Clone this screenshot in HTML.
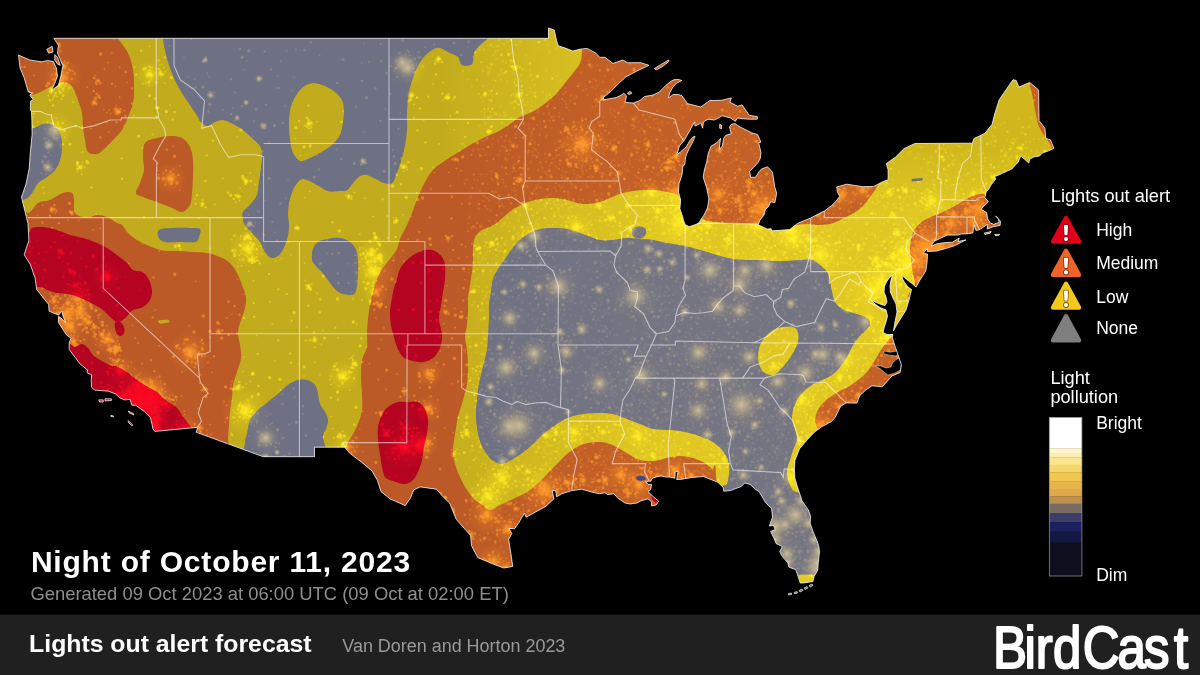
<!DOCTYPE html>
<html><head><meta charset="utf-8"><title>Lights out alert forecast</title>
<style>
html,body{margin:0;padding:0;background:#000;}
body{width:1200px;height:675px;overflow:hidden;position:relative;font-family:"Liberation Sans",sans-serif;}
svg{position:absolute;left:0;top:0;}
text{font-family:"Liberation Sans",sans-serif;}
.lg{font-size:18.2px;fill:#fff;}
.lb{font-size:17.5px;fill:#fff;}
.bar{position:absolute;left:0;top:614.7px;width:1200px;height:61px;background:#202020;}
.t{position:absolute;white-space:nowrap;line-height:1;}
</style></head><body>
<svg width="1200" height="675" viewBox="0 0 1200 675">
<defs><clipPath id="us"><path d="M18.5 55.1 L29.8 60 L41.8 61.9 L47.7 60.5 L53.4 61.6 L56.3 68 L57.5 76 L54.5 84 L51.3 90.6 L58.4 85.3 L60.9 76 L62.9 65.9 L59.9 58.6 L57.5 53.2 L58.4 45.1 L53.8 38.3 L548.5 38.3 L548.5 27.9 L554.3 30.1 L556.6 41 L558.4 45.9 L564.7 47.8 L572.7 51.1 L579.9 49.2 L587.1 48.4 L596 53.2 L599.6 57.3 L605 57.3 L613 63.5 L622.9 60 L627.4 62.7 L640.8 62.7 L648.9 65.3 L646.6 66.4 L634.9 72 L626 76.8 L618.1 84 L610.9 91.3 L603.2 97.6 L604.1 99.7 L616.1 97.6 L621.1 95.3 L623.8 93.2 L626.5 95.8 L625.1 102.3 L633.3 103.1 L639.9 100.5 L644.4 96.6 L653 95 L659.6 91.9 L665.9 85.3 L671.3 81.1 L674 79.7 L678.8 79.5 L681.7 80.5 L676.7 83.2 L673.1 86.6 L669.5 93.2 L668.6 97.9 L673.1 94.5 L678.5 94.5 L682 95.8 L687.4 103.6 L700.9 107 L709.8 100.5 L712.9 100.5 L721.5 100.3 L731.3 97.9 L729.9 102.3 L737.6 106.2 L742.1 104.9 L746.6 111.4 L749.2 115.3 L757.3 116.6 L757.3 119.2 L750.1 119.2 L742.1 118.7 L737.6 117.9 L735.4 121.3 L730.4 117.9 L722.4 115.8 L714.3 120 L708 119.2 L703.5 121.8 L702.6 128.2 L700.9 123.1 L695.1 126.1 L694.6 121.8 L693.2 124.3 L688.3 133.3 L683.8 140.9 L679.4 146 L676.7 154.8 L680.2 152.3 L686.5 146.5 L690.1 140.2 L693.7 136.4 L695.1 136.4 L692.8 141.7 L689.2 148.5 L686.9 153.6 L685.6 157.1 L684.7 164.9 L682.9 166.1 L682 174.8 L679 183.7 L678.5 192.3 L680.6 199.9 L679.9 208.9 L682.6 216.4 L683.5 220.5 L685.3 224.8 L689.2 226.7 L696.4 224.3 L699.1 222.4 L703.9 215.2 L707.5 207.9 L708.9 198.7 L706.6 187.7 L703.2 177.3 L704.4 169.8 L706.6 162.4 L708.4 152.8 L711.2 146 L716.6 143 L720.6 138.4 L719.7 144.7 L719.3 149.3 L722.4 146 L723.6 138.4 L725.8 135.3 L731.3 133.8 L729.5 126.9 L731.3 124.3 L734.9 123.6 L739.9 126.9 L751.6 132.8 L757.7 134.6 L760.9 142.2 L758.6 142.7 L760.9 152.3 L760.5 157.8 L758.2 162.4 L753.7 167.3 L749.6 171.1 L750.7 177.3 L755.5 177.3 L759.1 171.6 L761.4 169.1 L767.5 166.8 L772.5 172.3 L774.7 186.7 L776.7 193.3 L774.9 202.6 L770.7 201.8 L768.4 206.7 L765.4 209.6 L763.9 215.2 L760 220 L758.2 224.8 L767.2 229.1 L771.1 228.7 L771.6 230.8 L780.6 230.3 L789.6 229.6 L797.6 223.4 L805.7 220 L810.2 218.3 L818.2 214 L824.3 211.1 L831.7 205.5 L836.2 201.1 L839.7 196.2 L837.4 192.1 L836.7 186.9 L846.9 184.2 L863 186.7 L873.8 186.4 L882.7 181.7 L888.1 179.8 L888.1 169.8 L886.3 163.6 L895.3 157.3 L904.2 148.5 L915 143.5 L972.3 143.2 L974.1 138.4 L979.9 135.8 L984.9 133.3 L992.1 124.3 L994.7 114 L999.2 99.7 L1013 79.7 L1016.2 80.5 L1018.9 87.1 L1029.7 82.4 L1038.6 90 L1039 120.5 L1044.9 128.2 L1045.8 138.4 L1050.3 139.7 L1053 146 L1053.9 148.3 L1049.4 150.5 L1042.2 153.1 L1039.5 156.1 L1034.2 156.8 L1029.7 159.1 L1028.8 163.1 L1025.2 159.8 L1020.7 156.1 L1018 162.4 L1015.4 164.9 L1011.8 169.1 L1008.2 170.6 L1002.8 173.1 L999.2 174.8 L994.7 176.5 L995.6 179.3 L991.2 184.7 L988.5 189.6 L986.3 191.6 L984.9 197.7 L988.5 201.8 L983.1 206.7 L981.3 209.1 L986.7 212.8 L987.6 218.8 L990.3 223.1 L993.8 224.3 L999.2 222.4 L998.3 218.8 L995.6 215.9 L1000.5 221.2 L1000.1 225.5 L993.8 226.5 L987.2 229.1 L987.9 224.1 L983.1 227.2 L980.4 229.1 L977.7 230.3 L975.9 230.3 L974.5 224.8 L972.7 233 L966.1 233.9 L961.6 233.9 L957.1 235.1 L947.3 235.1 L941.9 237.5 L933.8 241.5 L931.1 246.3 L936.5 243.9 L943.7 242.7 L952.6 242.2 L959.3 238 L958 241.5 L965.9 239.9 L954.4 245.8 L945.5 248.6 L936.5 251 L927.5 251.5 L927.2 248.6 L923.1 253.4 L927.5 254.1 L927 262.8 L925.8 270.9 L920 280 L916 287 L912 283.5 L908 280.5 L904.5 277.5 L902 275.5 L902.5 279 L905 283 L908 287 L911.5 289.5 L909 300 L906 310 L901 318 L896 326 L893.5 331 L895 322 L897 312 L896 304 L893 298 L890.5 292 L890 286 L891 280 L892.5 275.5 L890 277 L887 281 L884.5 286 L884 292 L886 297 L887 302 L885 305.5 L880 304 L875 302 L871 300 L875 304 L880 307.5 L886 310 L887.5 316 L886 322 L884 328 L883 332.5 L887 334.5 L893 334.5 L892.2 337.2 L895.3 347.2 L898.9 357.2 L901.4 364.9 L900.1 372.6 L892.1 375.9 L882.2 386.8 L872 385.7 L865.7 390.1 L859.8 395.5 L856.8 403.1 L846 402.9 L840.6 406.3 L835.3 417.1 L831.7 421.3 L821.8 426.7 L814.6 432 L807.5 439.4 L804.8 442.6 L799.4 448.9 L794.9 460.5 L794.4 469.9 L794.9 478.2 L797.3 486.5 L802.1 500.9 L808.4 510.1 L810.5 516.2 L810.2 523.4 L813.4 532.5 L817.3 541.6 L818.8 546.6 L819.5 551.6 L818.2 563.2 L817.7 570.2 L814.1 576.5 L812.9 581.5 L803.9 582.9 L800.3 583.1 L795.8 569.6 L789 567.2 L787.8 562.8 L782.4 556.6 L779.7 551.6 L782.4 546.6 L776.1 543.6 L774.3 538.9 L770.7 531.5 L775.2 529.4 L773.4 525.4 L769.3 526 L772.5 517.2 L771.6 508.1 L769.8 507 L765.4 502.3 L759.1 491.6 L755.5 489.6 L750.1 484.4 L744.8 483 L741.2 486.5 L730.4 490.6 L723.8 491.2 L723.3 487.5 L717.9 482.3 L703.5 476.5 L691 477.6 L682 479.2 L676.7 479.6 L678.1 470.9 L675.2 472 L674.9 478.2 L669.5 477.1 L666.8 477.1 L660.5 476.1 L657 476.7 L652.5 478.2 L650.7 481.3 L645.3 481.3 L648 484.4 L651.6 484.4 L650.7 489.6 L648 491.6 L653.4 496.8 L658.7 501.3 L656.1 505 L651.6 506 L651.6 501.9 L648 498.8 L640.8 500.9 L637.2 502.9 L630.1 504 L624.7 502.9 L617.5 497.8 L613.9 493.7 L607.7 494.7 L605 492.7 L599.6 493.7 L594.2 492.7 L581.7 489.2 L571.8 490.6 L562 493.7 L556.6 496.8 L555.7 490.6 L552.1 490.6 L553.9 498.8 L545.8 506.4 L535.1 512.2 L526.1 517.2 L524.3 513.2 L519 522.3 L514.5 528.8 L509.1 528.4 L511.8 533.5 L508.6 539.5 L510.9 553.6 L512.7 566.4 L503.7 568 L492.1 563.6 L477.8 557.6 L471.5 545.6 L470.6 535.5 L456.2 519.3 L449.6 502.9 L443.7 497.4 L436.5 489.2 L420.4 486.9 L413.8 489.8 L410.6 497.8 L405.2 505.6 L397.1 501.9 L389.9 498.8 L381 491.6 L377.4 480.3 L372 470.9 L361.3 461.9 L350.5 453.8 L344.6 447.2 L314.5 447.2 L314.5 456.7 L263.2 456.7 L196.2 432.2 L197.8 427.3 L154.8 431.4 L152.7 428.4 L152.1 424.5 L150.2 417.1 L144.4 411.5 L140.3 408.5 L135.5 405.2 L131.9 405.2 L130.1 399.4 L124.7 399.9 L119.4 397.7 L115.8 394 L108.6 391.2 L94.8 390.1 L91.6 387.3 L91.2 380.3 L91.8 375 L87.1 372.6 L87.6 370 L79.9 363.8 L69.2 349.4 L69.2 342.8 L71 338.3 L66.5 334.9 L58.4 322.5 L58.4 316.2 L61.1 318 L65.6 322.5 L62.9 315.8 L62 311.2 L58.4 315.1 L49.1 311.2 L48.6 304.4 L36.7 289.5 L35.1 277.9 L30.3 264.4 L24.2 254.8 L28.9 240.3 L28 223.6 L26.2 216.4 L21.5 197.2 L26.2 183.5 L29.2 168.6 L30.3 152.8 L32.1 134.6 L31.9 120.5 L31.5 111.4 L30.3 110.1 L30.6 101 L33.3 99.7 L29.8 95 L32.4 93.2 L28.3 91.9 L24 77.3 L20.1 68Z M654.3 68.6 L660.5 64.8 L668.6 60 L669.1 61.3 L662.3 66.7 L656.1 69.9Z M627.4 93.2 L630.1 91.3 L631.9 93.2 L629.2 94.5Z M719.7 124.3 L721.5 125.1 L721.5 128.7 L719.7 128.2Z M984 233.2 L991.2 231.5 L990.3 233.2 L984.9 234.4Z M994.7 234.4 L999.8 234.4 L998.3 235.6 L995.6 235.8Z M54.8 54.6 L57.5 57.3 L60.2 65.3 L57.5 64 L54.8 60Z M46.8 49.2 L52.2 46.5 L53 51.9 L48.6 53.2Z M105 398.8 L111.3 398.8 L111.3 400.5 L105 400.9Z M98.7 399.9 L103.2 399.9 L103.2 402 L99.6 402Z M128.3 411.1 L133.7 413.8 L133.7 414.9 L129.2 412.8Z M128.3 420.7 L132.8 425.2 L131.9 425.6 L128.3 422.4Z M110.9 415.3 L113.4 416 L113.4 416.8 L110.9 416.6Z"/></clipPath>
<mask id="gm" maskUnits="userSpaceOnUse" x="0" y="0" width="1200" height="675"><rect width="1200" height="675" fill="#000"/><path d="M163 30C217.2 28.7 433.8 28.7 488 30C542.2 31.3 489.3 35.5 488 38C486.7 40.5 482.3 42.5 480 45C477.7 47.5 475.3 49.8 474 53C472.7 56.2 474.0 62.0 472 64C470.0 66.0 464.3 66.2 462 65C459.7 63.8 460.0 59.0 458 57C456.0 55.0 453.0 54.5 450 53C447.0 51.5 443.0 48.5 440 48C437.0 47.5 434.8 48.3 432 50C429.2 51.7 425.7 54.7 423 58C420.3 61.3 418.0 65.7 416 70C414.0 74.3 412.3 79.5 411 84C409.7 88.5 408.7 92.2 408 97C407.3 101.8 407.2 107.7 407 113C406.8 118.3 407.3 123.7 407 129C406.7 134.3 406.0 139.7 405 145C404.0 150.3 402.5 156.0 401 161C399.5 166.0 397.5 171.3 396 175C394.5 178.7 394.0 181.7 392 183C390.0 184.3 386.7 183.7 384 183C381.3 182.3 378.8 180.3 376 179C373.2 177.7 369.7 175.5 367 175C364.3 174.5 362.3 174.7 360 176C357.7 177.3 355.2 180.7 353 183C350.8 185.3 349.3 188.7 347 190C344.7 191.3 342.2 190.8 339 191C335.8 191.2 331.7 192.0 328 191C324.3 190.0 320.5 186.8 317 185C313.5 183.2 309.8 180.8 307 180C304.2 179.2 302.3 178.3 300 180C297.7 181.7 294.8 186.2 293 190C291.2 193.8 289.8 198.8 289 203C288.2 207.2 288.0 211.3 288 215C288.0 218.7 289.0 221.7 289 225C289.0 228.3 288.7 231.7 288 235C287.3 238.3 286.3 241.8 285 245C283.7 248.2 282.2 251.8 280 254C277.8 256.2 274.5 258.3 272 258C269.5 257.7 267.0 254.7 265 252C263.0 249.3 262.0 245.0 260 242C258.0 239.0 255.5 236.8 253 234C250.5 231.2 246.7 227.5 245 225C243.3 222.5 243.3 221.2 243 219C242.7 216.8 241.8 214.3 243 212C244.2 209.7 247.7 207.8 250 205C252.3 202.2 255.5 198.8 257 195C258.5 191.2 258.3 186.3 259 182C259.7 177.7 260.5 173.5 261 169C261.5 164.5 262.2 158.8 262 155C261.8 151.2 261.5 148.7 260 146C258.5 143.3 255.8 141.7 253 139C250.2 136.3 246.3 132.5 243 130C239.7 127.5 236.3 125.7 233 124C229.7 122.3 226.0 120.3 223 120C220.0 119.7 217.7 121.0 215 122C212.3 123.0 209.5 126.2 207 126C204.5 125.8 201.5 122.5 200 121C198.5 119.5 199.7 119.7 198 117C196.3 114.3 192.7 109.0 190 105C187.3 101.0 184.5 97.2 182 93C179.5 88.8 177.2 84.7 175 80C172.8 75.3 170.7 70.0 169 65C167.3 60.0 166.0 54.5 165 50C164.0 45.5 163.3 41.3 163 38C162.7 34.7 108.8 31.3 163 30Z" fill="#fff"/>
<path d="M600 240C595.0 239.0 588.5 235.8 583 234C577.5 232.2 572.0 230.0 567 229C562.0 228.0 557.5 228.0 553 228C548.5 228.0 543.8 228.2 540 229C536.2 229.8 533.3 231.2 530 233C526.7 234.8 523.0 237.3 520 240C517.0 242.7 514.5 245.8 512 249C509.5 252.2 507.3 255.7 505 259C502.7 262.3 500.0 265.7 498 269C496.0 272.3 494.2 275.2 493 279C491.8 282.8 491.7 287.7 491 292C490.3 296.3 489.3 300.5 489 305C488.7 309.5 489.2 313.7 489 319C488.8 324.3 488.3 331.8 488 337C487.7 342.2 487.8 345.0 487 350C486.2 355.0 484.3 361.3 483 367C481.7 372.7 480.0 378.5 479 384C478.0 389.5 477.5 394.5 477 400C476.5 405.5 475.8 411.5 476 417C476.2 422.5 477.0 428.2 478 433C479.0 437.8 480.2 442.0 482 446C483.8 450.0 486.5 454.2 489 457C491.5 459.8 494.3 462.0 497 463C499.7 464.0 502.3 463.7 505 463C507.7 462.3 510.2 460.7 513 459C515.8 457.3 518.8 455.3 522 453C525.2 450.7 528.8 447.8 532 445C535.2 442.2 538.0 438.7 541 436C544.0 433.3 546.8 431.3 550 429C553.2 426.7 556.7 424.0 560 422C563.3 420.0 566.2 418.3 570 417C573.8 415.7 578.0 414.7 583 414C588.0 413.3 595.0 413.0 600 413C605.0 413.0 608.5 413.0 613 414C617.5 415.0 622.5 417.3 627 419C631.5 420.7 635.7 422.3 640 424C644.3 425.7 648.5 428.0 653 429C657.5 430.0 662.5 429.7 667 430C671.5 430.3 675.7 430.3 680 431C684.3 431.7 688.5 432.7 693 434C697.5 435.3 703.0 437.2 707 439C711.0 440.8 714.0 442.5 717 445C720.0 447.5 723.0 450.8 725 454C727.0 457.2 728.3 460.7 729 464C729.7 467.3 729.3 470.7 729 474C728.7 477.3 728.2 481.3 727 484C725.8 486.7 722.8 482.3 722 490C721.2 497.7 715.7 511.7 722 530C728.3 548.3 740.3 588.3 760 600C779.7 611.7 825.8 613.3 840 600C854.2 586.7 849.2 536.8 845 520C840.8 503.2 822.3 503.4 815 499C807.7 494.6 804.2 494.7 801 493.5C797.8 492.3 797.5 492.8 796 492C794.5 491.2 793.3 491.0 792 489C790.7 487.0 788.8 483.2 788 480C787.2 476.8 786.7 473.3 787 470C787.3 466.7 789.0 463.3 790 460C791.0 456.7 791.8 453.3 793 450C794.2 446.7 796.7 443.3 797 440C797.3 436.7 795.8 433.3 795 430C794.2 426.7 792.3 423.3 792 420C791.7 416.7 792.2 413.3 793 410C793.8 406.7 795.3 403.0 797 400C798.7 397.0 800.5 394.5 803 392C805.5 389.5 808.8 387.0 812 385C815.2 383.0 818.7 381.7 822 380C825.3 378.3 829.0 377.2 832 375C835.0 372.8 837.5 370.0 840 367C842.5 364.0 845.0 360.3 847 357C849.0 353.7 850.2 350.2 852 347C853.8 343.8 856.0 340.5 858 338C860.0 335.5 862.0 334.2 864 332C866.0 329.8 869.3 327.2 870 325C870.7 322.8 869.7 320.7 868 319C866.3 317.3 863.0 316.2 860 315C857.0 313.8 853.0 313.0 850 312C847.0 311.0 844.5 310.7 842 309C839.5 307.3 836.7 304.8 835 302C833.3 299.2 832.8 295.3 832 292C831.2 288.7 830.8 285.3 830 282C829.2 278.7 828.7 274.8 827 272C825.3 269.2 822.5 267.0 820 265C817.5 263.0 815.3 260.8 812 260C808.7 259.2 804.2 259.8 800 260C795.8 260.2 791.5 260.8 787 261C782.5 261.2 777.5 261.2 773 261C768.5 260.8 764.3 260.2 760 260C755.7 259.8 751.5 260.2 747 260C742.5 259.8 737.5 259.7 733 259C728.5 258.3 724.3 257.2 720 256C715.7 254.8 711.5 253.3 707 252C702.5 250.7 697.5 249.2 693 248C688.5 246.8 684.3 245.8 680 245C675.7 244.2 671.5 243.8 667 243C662.5 242.2 657.5 240.7 653 240C648.5 239.3 644.3 239.3 640 239C635.7 238.7 631.5 237.8 627 238C622.5 238.2 617.5 239.7 613 240C608.5 240.3 605.0 241.0 600 240Z" fill="#fff"/>
<path d="M10 128C13.8 116.2 27.5 128.7 33 128C38.5 127.3 39.7 124.5 43 124C46.3 123.5 50.2 123.5 53 125C55.8 126.5 58.5 129.3 60 133C61.5 136.7 62.0 142.5 62 147C62.0 151.5 61.2 156.2 60 160C58.8 163.8 57.2 167.2 55 170C52.8 172.8 49.8 174.8 47 177C44.2 179.2 40.5 180.3 38 183C35.5 185.7 34.2 190.3 32 193C29.8 195.7 28.7 198.0 25 199C21.3 200.0 12.5 210.8 10 199C7.5 187.2 6.2 139.8 10 128Z" fill="#fff"/>
<path d="M159 230C161.3 228.3 167.8 228.3 173 228C178.2 227.7 185.5 227.8 190 228C194.5 228.2 198.5 227.5 200 229C201.5 230.5 199.8 234.8 199 237C198.2 239.2 198.2 241.2 195 242C191.8 242.8 185.0 242.0 180 242C175.0 242.0 168.5 242.7 165 242C161.5 241.3 160.0 240.0 159 238C158.0 236.0 156.7 231.7 159 230Z" fill="#fff"/>
<path d="M312 259C311.7 256.3 312.0 251.8 313 249C314.0 246.2 315.5 243.7 318 242C320.5 240.3 324.3 239.7 328 239C331.7 238.3 336.3 237.5 340 238C343.7 238.5 347.3 240.0 350 242C352.7 244.0 354.7 246.7 356 250C357.3 253.3 357.7 257.8 358 262C358.3 266.2 358.2 271.2 358 275C357.8 278.8 357.7 281.8 357 285C356.3 288.2 356.3 292.5 354 294C351.7 295.5 346.2 294.8 343 294C339.8 293.2 337.5 291.3 335 289C332.5 286.7 330.2 282.8 328 280C325.8 277.2 324.2 274.5 322 272C319.8 269.5 316.7 267.2 315 265C313.3 262.8 312.3 261.7 312 259Z" fill="#fff"/>
<path d="M245 444C245.3 438.0 246.2 438.0 247 434C247.8 430.0 248.2 424.0 250 420C251.8 416.0 255.0 413.0 258 410C261.0 407.0 264.7 404.7 268 402C271.3 399.3 274.7 396.8 278 394C281.3 391.2 284.7 387.3 288 385C291.3 382.7 294.8 380.8 298 380C301.2 379.2 304.2 379.2 307 380C309.8 380.8 313.2 382.7 315 385C316.8 387.3 317.2 390.8 318 394C318.8 397.2 318.8 401.0 320 404C321.2 407.0 323.7 409.3 325 412C326.3 414.7 327.8 417.2 328 420C328.2 422.8 326.8 426.2 326 429C325.2 431.8 323.5 430.2 323 437C322.5 443.8 336.0 464.5 323 470C310.0 475.5 258.0 474.3 245 470C232.0 465.7 244.7 450.0 245 444Z" fill="#fff"/>
<path d="M632 233C631.7 231.4 631.8 229.6 633 228.5C634.2 227.4 637.5 226.5 639.5 226.5C641.5 226.5 643.9 227.3 645 228.5C646.1 229.7 646.5 231.9 646 233.5C645.5 235.1 643.8 237.2 642 238C640.2 238.8 636.7 238.8 635 238C633.3 237.2 632.3 234.6 632 233Z" fill="#fff"/><path d="M290 110C291.0 105.3 292.8 100.8 295 97C297.2 93.2 300.0 89.3 303 87C306.0 84.7 309.3 83.2 313 83C316.7 82.8 321.3 84.5 325 86C328.7 87.5 332.2 89.7 335 92C337.8 94.3 340.5 97.0 342 100C343.5 103.0 343.8 106.2 344 110C344.2 113.8 343.7 118.8 343 123C342.3 127.2 341.8 131.3 340 135C338.2 138.7 335.3 142.0 332 145C328.7 148.0 324.0 150.7 320 153C316.0 155.3 311.3 157.7 308 159C304.7 160.3 302.5 162.0 300 161C297.5 160.0 294.7 156.5 293 153C291.3 149.5 290.7 144.7 290 140C289.3 135.3 289.0 130.0 289 125C289.0 120.0 289.0 114.7 290 110Z" fill="#000"/>
<path d="M758 357C758.0 353.3 758.8 348.3 760 345C761.2 341.7 762.8 339.5 765 337C767.2 334.5 770.0 331.7 773 330C776.0 328.3 779.7 327.5 783 327C786.3 326.5 790.5 326.2 793 327C795.5 327.8 797.2 329.5 798 332C798.8 334.5 798.8 338.5 798 342C797.2 345.5 794.8 349.7 793 353C791.2 356.3 789.2 359.2 787 362C784.8 364.8 782.3 367.8 780 370C777.7 372.2 775.5 374.5 773 375C770.5 375.5 767.2 374.3 765 373C762.8 371.7 761.2 369.7 760 367C758.8 364.3 758.0 360.7 758 357Z" fill="#000"/>
<path d="M798 576C799.3 573.8 803.0 574.5 806 574.5C809.0 574.5 814.0 573.8 816 576C818.0 578.2 821.0 586.0 818 588C815.0 590.0 801.3 590.0 798 588C794.7 586.0 796.7 578.2 798 576Z" fill="#000"/></mask>
<radialGradient id="glow"><stop offset="0" stop-color="#ffe9a8" stop-opacity="0.95"/><stop offset="0.25" stop-color="#ffdf90" stop-opacity="0.7"/><stop offset="0.6" stop-color="#ffd980" stop-opacity="0.28"/><stop offset="1" stop-color="#ffd980" stop-opacity="0"/></radialGradient>
<linearGradient id="eastY" gradientUnits="userSpaceOnUse" x1="430" x2="660" y1="0" y2="0"><stop offset="0" stop-color="#f2d62a" stop-opacity="0"/><stop offset="1" stop-color="#f2d62a" stop-opacity="0.55"/></linearGradient>
<linearGradient id="neDim" gradientUnits="userSpaceOnUse" x1="0" x2="0" y1="150" y2="212"><stop offset="0" stop-color="#c2ab1c" stop-opacity="0.75"/><stop offset="1" stop-color="#c2ab1c" stop-opacity="0"/></linearGradient>
<radialGradient id="gglow"><stop offset="0" stop-color="#d8c9a0" stop-opacity="0.75"/><stop offset="0.3" stop-color="#cbbd96" stop-opacity="0.45"/><stop offset="0.65" stop-color="#c0b38f" stop-opacity="0.18"/><stop offset="1" stop-color="#c0b38f" stop-opacity="0"/></radialGradient>
<radialGradient id="halo"><stop offset="0" stop-color="#ffd980" stop-opacity="0.4"/><stop offset="0.5" stop-color="#ffd980" stop-opacity="0.18"/><stop offset="1" stop-color="#ffd980" stop-opacity="0"/></radialGradient>
<linearGradient id="east" x1="0" x2="1" y1="0" y2="0"><stop offset="0.36" stop-color="#ffd980" stop-opacity="0"/><stop offset="0.52" stop-color="#ffd980" stop-opacity="0.12"/><stop offset="1" stop-color="#ffd980" stop-opacity="0.14"/></linearGradient></defs>
<rect width="1200" height="675" fill="#000"/>
<g clip-path="url(#us)">
<rect width="1200" height="675" fill="#c2ab1c"/>
<rect width="1200" height="675" fill="url(#eastY)"/>
<rect x="870" y="60" width="200" height="160" fill="url(#neDim)"/>
<path d="M163 30C217.2 28.7 433.8 28.7 488 30C542.2 31.3 489.3 35.5 488 38C486.7 40.5 482.3 42.5 480 45C477.7 47.5 475.3 49.8 474 53C472.7 56.2 474.0 62.0 472 64C470.0 66.0 464.3 66.2 462 65C459.7 63.8 460.0 59.0 458 57C456.0 55.0 453.0 54.5 450 53C447.0 51.5 443.0 48.5 440 48C437.0 47.5 434.8 48.3 432 50C429.2 51.7 425.7 54.7 423 58C420.3 61.3 418.0 65.7 416 70C414.0 74.3 412.3 79.5 411 84C409.7 88.5 408.7 92.2 408 97C407.3 101.8 407.2 107.7 407 113C406.8 118.3 407.3 123.7 407 129C406.7 134.3 406.0 139.7 405 145C404.0 150.3 402.5 156.0 401 161C399.5 166.0 397.5 171.3 396 175C394.5 178.7 394.0 181.7 392 183C390.0 184.3 386.7 183.7 384 183C381.3 182.3 378.8 180.3 376 179C373.2 177.7 369.7 175.5 367 175C364.3 174.5 362.3 174.7 360 176C357.7 177.3 355.2 180.7 353 183C350.8 185.3 349.3 188.7 347 190C344.7 191.3 342.2 190.8 339 191C335.8 191.2 331.7 192.0 328 191C324.3 190.0 320.5 186.8 317 185C313.5 183.2 309.8 180.8 307 180C304.2 179.2 302.3 178.3 300 180C297.7 181.7 294.8 186.2 293 190C291.2 193.8 289.8 198.8 289 203C288.2 207.2 288.0 211.3 288 215C288.0 218.7 289.0 221.7 289 225C289.0 228.3 288.7 231.7 288 235C287.3 238.3 286.3 241.8 285 245C283.7 248.2 282.2 251.8 280 254C277.8 256.2 274.5 258.3 272 258C269.5 257.7 267.0 254.7 265 252C263.0 249.3 262.0 245.0 260 242C258.0 239.0 255.5 236.8 253 234C250.5 231.2 246.7 227.5 245 225C243.3 222.5 243.3 221.2 243 219C242.7 216.8 241.8 214.3 243 212C244.2 209.7 247.7 207.8 250 205C252.3 202.2 255.5 198.8 257 195C258.5 191.2 258.3 186.3 259 182C259.7 177.7 260.5 173.5 261 169C261.5 164.5 262.2 158.8 262 155C261.8 151.2 261.5 148.7 260 146C258.5 143.3 255.8 141.7 253 139C250.2 136.3 246.3 132.5 243 130C239.7 127.5 236.3 125.7 233 124C229.7 122.3 226.0 120.3 223 120C220.0 119.7 217.7 121.0 215 122C212.3 123.0 209.5 126.2 207 126C204.5 125.8 201.5 122.5 200 121C198.5 119.5 199.7 119.7 198 117C196.3 114.3 192.7 109.0 190 105C187.3 101.0 184.5 97.2 182 93C179.5 88.8 177.2 84.7 175 80C172.8 75.3 170.7 70.0 169 65C167.3 60.0 166.0 54.5 165 50C164.0 45.5 163.3 41.3 163 38C162.7 34.7 108.8 31.3 163 30Z" fill="#717380"/>
<path d="M600 240C595.0 239.0 588.5 235.8 583 234C577.5 232.2 572.0 230.0 567 229C562.0 228.0 557.5 228.0 553 228C548.5 228.0 543.8 228.2 540 229C536.2 229.8 533.3 231.2 530 233C526.7 234.8 523.0 237.3 520 240C517.0 242.7 514.5 245.8 512 249C509.5 252.2 507.3 255.7 505 259C502.7 262.3 500.0 265.7 498 269C496.0 272.3 494.2 275.2 493 279C491.8 282.8 491.7 287.7 491 292C490.3 296.3 489.3 300.5 489 305C488.7 309.5 489.2 313.7 489 319C488.8 324.3 488.3 331.8 488 337C487.7 342.2 487.8 345.0 487 350C486.2 355.0 484.3 361.3 483 367C481.7 372.7 480.0 378.5 479 384C478.0 389.5 477.5 394.5 477 400C476.5 405.5 475.8 411.5 476 417C476.2 422.5 477.0 428.2 478 433C479.0 437.8 480.2 442.0 482 446C483.8 450.0 486.5 454.2 489 457C491.5 459.8 494.3 462.0 497 463C499.7 464.0 502.3 463.7 505 463C507.7 462.3 510.2 460.7 513 459C515.8 457.3 518.8 455.3 522 453C525.2 450.7 528.8 447.8 532 445C535.2 442.2 538.0 438.7 541 436C544.0 433.3 546.8 431.3 550 429C553.2 426.7 556.7 424.0 560 422C563.3 420.0 566.2 418.3 570 417C573.8 415.7 578.0 414.7 583 414C588.0 413.3 595.0 413.0 600 413C605.0 413.0 608.5 413.0 613 414C617.5 415.0 622.5 417.3 627 419C631.5 420.7 635.7 422.3 640 424C644.3 425.7 648.5 428.0 653 429C657.5 430.0 662.5 429.7 667 430C671.5 430.3 675.7 430.3 680 431C684.3 431.7 688.5 432.7 693 434C697.5 435.3 703.0 437.2 707 439C711.0 440.8 714.0 442.5 717 445C720.0 447.5 723.0 450.8 725 454C727.0 457.2 728.3 460.7 729 464C729.7 467.3 729.3 470.7 729 474C728.7 477.3 728.2 481.3 727 484C725.8 486.7 722.8 482.3 722 490C721.2 497.7 715.7 511.7 722 530C728.3 548.3 740.3 588.3 760 600C779.7 611.7 825.8 613.3 840 600C854.2 586.7 849.2 536.8 845 520C840.8 503.2 822.3 503.4 815 499C807.7 494.6 804.2 494.7 801 493.5C797.8 492.3 797.5 492.8 796 492C794.5 491.2 793.3 491.0 792 489C790.7 487.0 788.8 483.2 788 480C787.2 476.8 786.7 473.3 787 470C787.3 466.7 789.0 463.3 790 460C791.0 456.7 791.8 453.3 793 450C794.2 446.7 796.7 443.3 797 440C797.3 436.7 795.8 433.3 795 430C794.2 426.7 792.3 423.3 792 420C791.7 416.7 792.2 413.3 793 410C793.8 406.7 795.3 403.0 797 400C798.7 397.0 800.5 394.5 803 392C805.5 389.5 808.8 387.0 812 385C815.2 383.0 818.7 381.7 822 380C825.3 378.3 829.0 377.2 832 375C835.0 372.8 837.5 370.0 840 367C842.5 364.0 845.0 360.3 847 357C849.0 353.7 850.2 350.2 852 347C853.8 343.8 856.0 340.5 858 338C860.0 335.5 862.0 334.2 864 332C866.0 329.8 869.3 327.2 870 325C870.7 322.8 869.7 320.7 868 319C866.3 317.3 863.0 316.2 860 315C857.0 313.8 853.0 313.0 850 312C847.0 311.0 844.5 310.7 842 309C839.5 307.3 836.7 304.8 835 302C833.3 299.2 832.8 295.3 832 292C831.2 288.7 830.8 285.3 830 282C829.2 278.7 828.7 274.8 827 272C825.3 269.2 822.5 267.0 820 265C817.5 263.0 815.3 260.8 812 260C808.7 259.2 804.2 259.8 800 260C795.8 260.2 791.5 260.8 787 261C782.5 261.2 777.5 261.2 773 261C768.5 260.8 764.3 260.2 760 260C755.7 259.8 751.5 260.2 747 260C742.5 259.8 737.5 259.7 733 259C728.5 258.3 724.3 257.2 720 256C715.7 254.8 711.5 253.3 707 252C702.5 250.7 697.5 249.2 693 248C688.5 246.8 684.3 245.8 680 245C675.7 244.2 671.5 243.8 667 243C662.5 242.2 657.5 240.7 653 240C648.5 239.3 644.3 239.3 640 239C635.7 238.7 631.5 237.8 627 238C622.5 238.2 617.5 239.7 613 240C608.5 240.3 605.0 241.0 600 240Z" fill="#717380"/>
<path d="M10 128C13.8 116.2 27.5 128.7 33 128C38.5 127.3 39.7 124.5 43 124C46.3 123.5 50.2 123.5 53 125C55.8 126.5 58.5 129.3 60 133C61.5 136.7 62.0 142.5 62 147C62.0 151.5 61.2 156.2 60 160C58.8 163.8 57.2 167.2 55 170C52.8 172.8 49.8 174.8 47 177C44.2 179.2 40.5 180.3 38 183C35.5 185.7 34.2 190.3 32 193C29.8 195.7 28.7 198.0 25 199C21.3 200.0 12.5 210.8 10 199C7.5 187.2 6.2 139.8 10 128Z" fill="#717380"/>
<path d="M159 230C161.3 228.3 167.8 228.3 173 228C178.2 227.7 185.5 227.8 190 228C194.5 228.2 198.5 227.5 200 229C201.5 230.5 199.8 234.8 199 237C198.2 239.2 198.2 241.2 195 242C191.8 242.8 185.0 242.0 180 242C175.0 242.0 168.5 242.7 165 242C161.5 241.3 160.0 240.0 159 238C158.0 236.0 156.7 231.7 159 230Z" fill="#717380"/>
<path d="M312 259C311.7 256.3 312.0 251.8 313 249C314.0 246.2 315.5 243.7 318 242C320.5 240.3 324.3 239.7 328 239C331.7 238.3 336.3 237.5 340 238C343.7 238.5 347.3 240.0 350 242C352.7 244.0 354.7 246.7 356 250C357.3 253.3 357.7 257.8 358 262C358.3 266.2 358.2 271.2 358 275C357.8 278.8 357.7 281.8 357 285C356.3 288.2 356.3 292.5 354 294C351.7 295.5 346.2 294.8 343 294C339.8 293.2 337.5 291.3 335 289C332.5 286.7 330.2 282.8 328 280C325.8 277.2 324.2 274.5 322 272C319.8 269.5 316.7 267.2 315 265C313.3 262.8 312.3 261.7 312 259Z" fill="#717380"/>
<path d="M245 444C245.3 438.0 246.2 438.0 247 434C247.8 430.0 248.2 424.0 250 420C251.8 416.0 255.0 413.0 258 410C261.0 407.0 264.7 404.7 268 402C271.3 399.3 274.7 396.8 278 394C281.3 391.2 284.7 387.3 288 385C291.3 382.7 294.8 380.8 298 380C301.2 379.2 304.2 379.2 307 380C309.8 380.8 313.2 382.7 315 385C316.8 387.3 317.2 390.8 318 394C318.8 397.2 318.8 401.0 320 404C321.2 407.0 323.7 409.3 325 412C326.3 414.7 327.8 417.2 328 420C328.2 422.8 326.8 426.2 326 429C325.2 431.8 323.5 430.2 323 437C322.5 443.8 336.0 464.5 323 470C310.0 475.5 258.0 474.3 245 470C232.0 465.7 244.7 450.0 245 444Z" fill="#717380"/>
<path d="M632 233C631.7 231.4 631.8 229.6 633 228.5C634.2 227.4 637.5 226.5 639.5 226.5C641.5 226.5 643.9 227.3 645 228.5C646.1 229.7 646.5 231.9 646 233.5C645.5 235.1 643.8 237.2 642 238C640.2 238.8 636.7 238.8 635 238C633.3 237.2 632.3 234.6 632 233Z" fill="#717380"/>
<path d="M290 110C291.0 105.3 292.8 100.8 295 97C297.2 93.2 300.0 89.3 303 87C306.0 84.7 309.3 83.2 313 83C316.7 82.8 321.3 84.5 325 86C328.7 87.5 332.2 89.7 335 92C337.8 94.3 340.5 97.0 342 100C343.5 103.0 343.8 106.2 344 110C344.2 113.8 343.7 118.8 343 123C342.3 127.2 341.8 131.3 340 135C338.2 138.7 335.3 142.0 332 145C328.7 148.0 324.0 150.7 320 153C316.0 155.3 311.3 157.7 308 159C304.7 160.3 302.5 162.0 300 161C297.5 160.0 294.7 156.5 293 153C291.3 149.5 290.7 144.7 290 140C289.3 135.3 289.0 130.0 289 125C289.0 120.0 289.0 114.7 290 110Z" fill="#c2ab1c"/><path d="M758 357C758.0 353.3 758.8 348.3 760 345C761.2 341.7 762.8 339.5 765 337C767.2 334.5 770.0 331.7 773 330C776.0 328.3 779.7 327.5 783 327C786.3 326.5 790.5 326.2 793 327C795.5 327.8 797.2 329.5 798 332C798.8 334.5 798.8 338.5 798 342C797.2 345.5 794.8 349.7 793 353C791.2 356.3 789.2 359.2 787 362C784.8 364.8 782.3 367.8 780 370C777.7 372.2 775.5 374.5 773 375C770.5 375.5 767.2 374.3 765 373C762.8 371.7 761.2 369.7 760 367C758.8 364.3 758.0 360.7 758 357Z" fill="#dbc124"/>
<path d="M798 576C799.3 573.8 803.0 574.5 806 574.5C809.0 574.5 814.0 573.8 816 576C818.0 578.2 821.0 586.0 818 588C815.0 590.0 801.3 590.0 798 588C794.7 586.0 796.7 578.2 798 576Z" fill="#dbc124"/>
<path d="M10 50C17.5 39.2 37.0 33.3 55 30C73.0 26.7 107.5 28.7 118 30C128.5 31.3 116.3 34.2 118 38C119.7 41.8 125.5 47.7 128 53C130.5 58.3 132.0 64.3 133 70C134.0 75.7 134.0 81.5 134 87C134.0 92.5 134.0 98.0 133 103C132.0 108.0 129.8 112.5 128 117C126.2 121.5 124.5 126.2 122 130C119.5 133.8 116.2 136.7 113 140C109.8 143.3 105.7 147.7 103 150C100.3 152.3 99.5 153.7 97 154C94.5 154.3 90.0 154.3 88 152C86.0 149.7 85.8 144.2 85 140C84.2 135.8 83.5 131.5 83 127C82.5 122.5 82.8 117.5 82 113C81.2 108.5 79.5 104.2 78 100C76.5 95.8 74.8 90.8 73 88C71.2 85.2 69.5 83.8 67 83C64.5 82.2 60.8 82.3 58 83C55.2 83.7 53.0 85.5 50 87C47.0 88.5 43.2 90.7 40 92C36.8 93.3 36.0 94.5 31 95C26.0 95.5 13.5 102.5 10 95C6.5 87.5 2.5 60.8 10 50Z" fill="#bb5927"/>
<path d="M145 143C147.3 139.8 152.8 139.2 157 138C161.2 136.8 165.8 136.0 170 136C174.2 136.0 178.7 136.2 182 138C185.3 139.8 188.2 143.3 190 147C191.8 150.7 192.5 155.0 193 160C193.5 165.0 193.2 171.5 193 177C192.8 182.5 192.5 188.3 192 193C191.5 197.7 191.7 201.8 190 205C188.3 208.2 185.0 211.5 182 212C179.0 212.5 176.2 209.7 172 208C167.8 206.3 161.8 203.8 157 202C152.2 200.2 146.5 198.5 143 197C139.5 195.5 136.5 195.3 136 193C135.5 190.7 138.7 186.8 140 183C141.3 179.2 143.5 174.3 144 170C144.5 165.7 142.8 161.5 143 157C143.2 152.5 142.7 146.2 145 143Z" fill="#bb5927"/>
<path d="M10 213C13.0 170.2 23.3 214.7 28 213C32.7 211.3 34.3 205.2 38 203C41.7 200.8 45.8 201.7 50 200C54.2 198.3 59.3 194.2 63 193C66.7 191.8 70.2 191.8 72 193C73.8 194.2 73.5 196.7 74 200C74.5 203.3 72.8 210.0 75 213C77.2 216.0 83.3 217.7 87 218C90.7 218.3 93.7 215.2 97 215C100.3 214.8 103.7 215.7 107 217C110.3 218.3 114.5 221.7 117 223C119.5 224.3 120.2 223.3 122 225C123.8 226.7 125.5 230.5 128 233C130.5 235.5 133.8 238.0 137 240C140.2 242.0 143.7 243.5 147 245C150.3 246.5 153.7 248.0 157 249C160.3 250.0 163.2 250.7 167 251C170.8 251.3 175.7 250.8 180 251C184.3 251.2 188.5 251.7 193 252C197.5 252.3 202.5 252.2 207 253C211.5 253.8 216.2 255.3 220 257C223.8 258.7 227.2 260.3 230 263C232.8 265.7 235.0 269.3 237 273C239.0 276.7 240.5 281.0 242 285C243.5 289.0 245.5 293.2 246 297C246.5 300.8 245.8 304.2 245 308C244.2 311.8 242.2 316.0 241 320C239.8 324.0 238.2 327.8 238 332C237.8 336.2 239.5 340.7 240 345C240.5 349.3 241.5 353.5 241 358C240.5 362.5 238.3 367.5 237 372C235.7 376.5 233.8 380.7 233 385C232.2 389.3 232.5 393.5 232 398C231.5 402.5 230.5 407.5 230 412C229.5 416.5 229.3 420.2 229 425C228.7 429.8 228.2 433.5 228 441C227.8 448.5 264.3 465.2 228 470C191.7 474.8 46.3 512.8 10 470C-26.3 427.2 7.0 255.8 10 213Z" fill="#bb5927"/>
<path d="M582 20C562.3 25.8 582.3 42.8 582 50C581.7 57.2 581.5 59.2 580 63C578.5 66.8 575.5 69.7 573 73C570.5 76.3 568.0 79.3 565 83C562.0 86.7 558.7 91.3 555 95C551.3 98.7 546.8 102.2 543 105C539.2 107.8 535.8 110.0 532 112C528.2 114.0 523.7 115.0 520 117C516.3 119.0 513.8 121.5 510 124C506.2 126.5 501.5 129.7 497 132C492.5 134.3 487.5 135.8 483 138C478.5 140.2 474.3 142.5 470 145C465.7 147.5 461.5 150.2 457 153C452.5 155.8 447.0 159.2 443 162C439.0 164.8 436.0 166.7 433 170C430.0 173.3 427.5 177.5 425 182C422.5 186.5 420.2 191.8 418 197C415.8 202.2 413.8 208.3 412 213C410.2 217.7 409.0 220.7 407 225C405.0 229.3 401.7 235.0 400 239C398.3 243.0 398.7 245.7 397 249C395.3 252.3 392.5 255.7 390 259C387.5 262.3 384.2 265.7 382 269C379.8 272.3 378.5 275.2 377 279C375.5 282.8 374.2 287.7 373 292C371.8 296.3 370.8 300.5 370 305C369.2 309.5 368.5 314.5 368 319C367.5 323.5 367.2 327.3 367 332C366.8 336.7 367.8 342.3 367 347C366.2 351.7 363.0 355.0 362 360C361.0 365.0 361.0 371.3 361 377C361.0 382.7 361.8 388.5 362 394C362.2 399.5 362.7 405.0 362 410C361.3 415.0 359.5 420.0 358 424C356.5 428.0 354.7 431.0 353 434C351.3 437.0 349.0 440.0 348 442C347.0 444.0 348.3 441.3 347 446C345.7 450.7 341.2 444.3 340 470C338.8 495.7 277.3 578.3 340 600C402.7 621.7 653.3 620.7 716 600C778.7 579.3 716.7 497.8 716 476C715.3 454.2 714.2 471.3 712 469C709.8 466.7 706.2 463.8 703 462C699.8 460.2 696.8 459.0 693 458C689.2 457.0 684.3 456.0 680 456C675.7 456.0 671.5 457.2 667 458C662.5 458.8 657.5 460.7 653 461C648.5 461.3 643.8 461.0 640 460C636.2 459.0 633.3 456.8 630 455C626.7 453.2 623.3 450.8 620 449C616.7 447.2 613.3 445.2 610 444C606.7 442.8 603.7 442.2 600 442C596.3 441.8 591.8 442.2 588 443C584.2 443.8 580.5 445.2 577 447C573.5 448.8 570.3 451.2 567 454C563.7 456.8 560.3 460.7 557 464C553.7 467.3 550.3 470.7 547 474C543.7 477.3 540.3 481.0 537 484C533.7 487.0 531.0 489.5 527 492C523.0 494.5 517.5 496.8 513 499C508.5 501.2 503.8 503.2 500 505C496.2 506.8 492.8 510.0 490 510C487.2 510.0 485.5 506.7 483 505C480.5 503.3 477.7 502.5 475 500C472.3 497.5 469.5 493.8 467 490C464.5 486.2 462.0 481.3 460 477C458.0 472.7 456.2 468.5 455 464C453.8 459.5 453.0 455.0 453 450C453.0 445.0 454.2 439.5 455 434C455.8 428.5 456.7 422.7 458 417C459.3 411.3 461.5 405.5 463 400C464.5 394.5 466.2 389.5 467 384C467.8 378.5 468.0 372.7 468 367C468.0 361.3 467.5 355.0 467 350C466.5 345.0 465.0 341.2 465 337C465.0 332.8 466.5 329.2 467 325C467.5 320.8 467.8 316.3 468 312C468.2 307.7 467.7 303.5 468 299C468.3 294.5 469.3 289.5 470 285C470.7 280.5 471.5 275.8 472 272C472.5 268.2 472.8 265.8 473 262C473.2 258.2 472.7 253.2 473 249C473.3 244.8 473.5 240.2 475 237C476.5 233.8 479.5 231.7 482 230C484.5 228.3 487.3 228.3 490 227C492.7 225.7 495.2 224.2 498 222C500.8 219.8 503.8 216.5 507 214C510.2 211.5 513.5 209.0 517 207C520.5 205.0 524.2 203.3 528 202C531.8 200.7 535.8 199.7 540 199C544.2 198.3 548.5 197.8 553 198C557.5 198.2 562.0 199.0 567 200C572.0 201.0 577.5 203.7 583 204C588.5 204.3 594.3 203.5 600 202C605.7 200.5 611.5 196.8 617 195C622.5 193.2 627.5 191.8 633 191C638.5 190.2 644.3 189.8 650 190C655.7 190.2 662.0 190.8 667 192C672.0 193.2 674.0 192.5 680 197C686.0 201.5 696.8 214.8 703 219C709.2 223.2 712.0 221.2 717 222C722.0 222.8 727.5 223.7 733 224C738.5 224.3 745.0 223.8 750 224C755.0 224.2 755.5 224.8 763 225C770.5 225.2 787.7 225.2 795 225C802.3 224.8 803.3 224.0 807 224C810.7 224.0 813.2 225.0 817 225C820.8 225.0 826.2 224.8 830 224C833.8 223.2 836.7 221.5 840 220C843.3 218.5 846.7 216.8 850 215C853.3 213.2 857.0 211.5 860 209C863.0 206.5 865.5 203.2 868 200C870.5 196.8 873.3 192.5 875 190C876.7 187.5 877.8 187.3 878 185C878.2 182.7 878.0 180.2 876 176C874.0 171.8 872.0 167.7 866 160C860.0 152.3 867.7 154.2 840 130C812.3 105.8 743.0 33.3 700 15C657.0 -3.3 601.7 14.2 582 20Z" fill="#bb5927"/>
<path d="M915 300C899.2 297.5 915.5 290.2 915 285C914.5 279.8 912.8 274.5 912 269C911.2 263.5 910.2 257.0 910 252C909.8 247.0 910.2 242.8 911 239C911.8 235.2 913.0 232.0 915 229C917.0 226.0 920.0 223.2 923 221C926.0 218.8 929.7 217.5 933 216C936.3 214.5 939.7 213.5 943 212C946.3 210.5 949.7 208.8 953 207C956.3 205.2 959.8 202.8 963 201C966.2 199.2 969.2 197.2 972 196C974.8 194.8 977.5 194.2 980 194C982.5 193.8 984.3 194.3 987 195C989.7 195.7 992.2 197.2 996 198C999.8 198.8 1007.7 183.0 1010 200C1012.3 217.0 1025.8 283.3 1010 300C994.2 316.7 930.8 302.5 915 300Z" fill="#bb5927"/>
<path d="M905 336C900.3 336.0 895.7 335.2 892 337C888.3 338.8 885.8 343.2 883 347C880.2 350.8 877.7 355.8 875 360C872.3 364.2 869.8 368.7 867 372C864.2 375.3 861.2 377.5 858 380C854.8 382.5 851.3 385.0 848 387C844.7 389.0 841.0 390.3 838 392C835.0 393.7 832.7 395.0 830 397C827.3 399.0 824.2 401.5 822 404C819.8 406.5 818.2 409.3 817 412C815.8 414.7 815.0 417.5 815 420C815.0 422.5 815.8 424.7 817 427C818.2 429.3 818.2 431.8 822 434C825.8 436.2 823.7 439.0 840 440C856.3 441.0 906.7 457.2 920 440C933.3 422.8 922.5 354.3 920 337C917.5 319.7 909.7 336.0 905 336Z" fill="#bb5927"/>
<path d="M1028 76C1020.4 78.3 1028.8 81.6 1029.3 84C1029.8 86.4 1030.5 87.7 1031.1 90.2C1031.7 92.7 1032.3 96.1 1032.9 99.1C1033.5 102.1 1034.1 105.0 1034.7 108C1035.3 111.0 1035.8 114.1 1036.4 116.9C1037.0 119.7 1037.5 122.7 1038.2 124.9C1039.0 127.1 1039.9 128.4 1040.9 130.2C1041.9 132.0 1043.2 133.8 1044.4 135.6C1045.6 137.4 1047.0 139.3 1048 140.9C1049.0 142.5 1050.0 143.8 1050.7 145.3C1051.4 146.8 1051.1 148.2 1052 150C1052.9 151.8 1052.2 155.7 1056 156C1059.8 156.3 1071.8 166.3 1075 152C1078.2 137.7 1082.8 82.7 1075 70C1067.2 57.3 1035.6 73.7 1028 76Z" fill="#bb5927"/>
<path d="M10 233C13.0 224.0 24.3 233.8 28 233C31.7 232.2 29.5 229.0 32 228C34.5 227.0 38.8 226.7 43 227C47.2 227.3 52.5 228.7 57 230C61.5 231.3 65.7 233.7 70 235C74.3 236.3 78.5 236.7 83 238C87.5 239.3 93.0 241.3 97 243C101.0 244.7 103.7 246.0 107 248C110.3 250.0 113.7 252.5 117 255C120.3 257.5 124.3 260.5 127 263C129.7 265.5 130.5 268.5 133 270C135.5 271.5 139.5 270.7 142 272C144.5 273.3 146.3 275.0 148 278C149.7 281.0 151.7 286.3 152 290C152.3 293.7 151.5 297.2 150 300C148.5 302.8 145.8 305.3 143 307C140.2 308.7 135.5 308.7 133 310C130.5 311.3 129.7 313.3 128 315C126.3 316.7 124.8 318.8 123 320C121.2 321.2 119.2 322.5 117 322C114.8 321.5 112.3 319.0 110 317C107.7 315.0 105.5 312.0 103 310C100.5 308.0 97.7 306.5 95 305C92.3 303.5 89.8 302.3 87 301C84.2 299.7 81.2 298.2 78 297C74.8 295.8 71.5 294.7 68 294C64.5 293.3 60.5 293.7 57 293C53.5 292.3 50.0 291.0 47 290C44.0 289.0 45.2 287.5 39 287C32.8 286.5 14.8 296.0 10 287C5.2 278.0 7.0 242.0 10 233Z" fill="#b40421"/>
<path d="M115 323C115.7 321.3 118.5 321.3 120 322C121.5 322.7 123.3 325.2 124 327C124.7 328.8 124.7 331.5 124 333C123.3 334.5 121.3 336.2 120 336C118.7 335.8 116.8 334.2 116 332C115.2 329.8 114.3 324.7 115 323Z" fill="#b40421"/>
<path d="M60 347C62.5 331.5 71.3 347.5 75 347C78.7 346.5 79.8 343.8 82 344C84.2 344.2 86.2 346.2 88 348C89.8 349.8 91.0 353.0 93 355C95.0 357.0 97.2 358.3 100 360C102.8 361.7 107.0 363.8 110 365C113.0 366.2 115.2 365.8 118 367C120.8 368.2 124.5 370.3 127 372C129.5 373.7 130.8 375.3 133 377C135.2 378.7 137.5 380.3 140 382C142.5 383.7 145.2 385.3 148 387C150.8 388.7 154.5 390.2 157 392C159.5 393.8 160.8 396.2 163 398C165.2 399.8 167.7 401.3 170 403C172.3 404.7 175.0 406.0 177 408C179.0 410.0 180.3 412.7 182 415C183.7 417.3 185.7 420.2 187 422C188.3 423.8 189.2 423.0 190 426C190.8 429.0 213.7 437.7 192 440C170.3 442.3 82.0 455.5 60 440C38.0 424.5 57.5 362.5 60 347Z" fill="#b40421"/>
<path d="M397 279C398.0 275.8 398.3 272.2 400 269C401.7 265.8 404.5 262.5 407 260C409.5 257.5 412.0 255.7 415 254C418.0 252.3 421.7 250.5 425 250C428.3 249.5 432.2 249.8 435 251C437.8 252.2 440.3 254.7 442 257C443.7 259.3 444.5 261.3 445 265C445.5 268.7 445.3 274.5 445 279C444.7 283.5 443.7 287.7 443 292C442.3 296.3 441.7 300.5 441 305C440.3 309.5 439.0 315.0 439 319C439.0 323.0 440.5 326.0 441 329C441.5 332.0 442.2 333.8 442 337C441.8 340.2 441.5 344.5 440 348C438.5 351.5 435.8 355.7 433 358C430.2 360.3 426.3 361.5 423 362C419.7 362.5 416.3 361.8 413 361C409.7 360.2 405.7 359.3 403 357C400.3 354.7 398.5 350.3 397 347C395.5 343.7 395.0 340.7 394 337C393.0 333.3 391.7 329.2 391 325C390.3 320.8 389.8 316.5 390 312C390.2 307.5 391.3 302.0 392 298C392.7 294.0 393.2 291.2 394 288C394.8 284.8 396.0 282.2 397 279Z" fill="#b40421"/>
<path d="M378 427C378.7 422.8 380.3 418.3 382 415C383.7 411.7 385.3 409.2 388 407C390.7 404.8 394.7 402.8 398 402C401.3 401.2 404.7 402.0 408 402C411.3 402.0 415.2 400.8 418 402C420.8 403.2 423.3 406.0 425 409C426.7 412.0 427.7 415.8 428 420C428.3 424.2 427.7 429.5 427 434C426.3 438.5 424.8 442.7 424 447C423.2 451.3 423.0 455.8 422 460C421.0 464.2 419.5 468.7 418 472C416.5 475.3 415.2 478.0 413 480C410.8 482.0 408.3 483.8 405 484C401.7 484.2 396.3 482.2 393 481C389.7 479.8 386.8 479.3 385 477C383.2 474.7 382.8 470.8 382 467C381.2 463.2 380.7 458.5 380 454C379.3 449.5 378.3 444.5 378 440C377.7 435.5 377.3 431.2 378 427Z" fill="#b40421"/>
<path d="M652 494C652.7 493.7 654.5 495.7 656 497C657.5 498.3 660.8 501.0 661 502C661.2 503.0 658.5 503.5 657 503C655.5 502.5 652.8 500.5 652 499C651.2 497.5 651.3 494.3 652 494Z" fill="#b40421"/>
<path d="M158 321C158.5 320.4 161.2 320.2 163 320C164.8 319.8 167.5 319.6 168.5 320C169.5 320.4 169.8 322.0 169 322.5C168.2 323.0 165.5 323.0 164 323.2C162.5 323.4 161.0 323.9 160 323.5C159.0 323.1 157.5 321.6 158 321Z" fill="#c2ab1c"/>
<g style="mix-blend-mode:overlay"><rect width="1200" height="675" fill="url(#east)"/><g fill="none" stroke="#ffdc88" stroke-linecap="round"><path d="M651.1 444.1h0M648.4 449.9h0M663.2 446.6h0M546.5 463.4h0M546.5 464.2h0M542.2 470.4h0M848.4 200.2h0M851.7 207.2h0M858.2 202.9h0M782.4 474.7h0M794 470.5h0M777.4 476.5h0M675.6 395.5h0M673.1 381.9h0M674 393.1h0M708.7 415.9h0M708.2 425.3h0M699.8 432.5h0M674.9 187.2h0M674.5 188.6h0M678.8 191.3h0M809.4 255.3h0M799.8 251.1h0M806.7 254.7h0M604.8 248.4h0M603.2 247.2h0M606 252.7h0M653.4 404.2h0M644.6 394.8h0M661.5 397.1h0M522.3 99.8h0M531.8 101.2h0M522.8 90.9h0M683.3 226.4h0M682.6 226h0M690.7 234.7h0M498.2 445.9h0M503.5 461.3h0M504.8 446.4h0M709.5 430.8h0M718.9 423.9h0M724.3 425.9h0M682.2 219.7h0M674.1 211.2h0M667.4 212.4h0M646.6 418.8h0M655.5 402.1h0M656.2 403.2h0M918.2 223.7h0M924.9 222.8h0M924.6 227.8h0M737.2 232.5h0M738 226.9h0M722.4 228.2h0M548 422.5h0M560.1 434.5h0M556.4 425h0M727.5 204.1h0M740.6 194.7h0M725.4 206.2h0M493.7 235.2h0M490.1 245h0M491.6 244.4h0M707.7 430.4h0M697.8 432.7h0M703.7 428.8h0M501 251h0M489.6 243.6h0M498.6 242.3h0M653.9 428.4h0M649.8 419.9h0M658.1 430.6h0M675.4 446.1h0M668.5 441h0M671.9 447.9h0M794.6 470.3h0M788.7 457h0M799.4 467.6h0M468.4 223.5h0M482.3 227.3h0M469.4 217.8h0M642 400.5h0M637.8 408h0M641.4 402.1h0M874.5 294.9h0M878.4 283.2h0M866.2 284.3h0M723.6 364.4h0M721.9 348.5h0M709 355h0M692.9 425.8h0M691.3 419.5h0M698 419h0M790 344.4h0M788.9 343.3h0M780.7 355.6h0M981.5 165.7h0M991.1 160.5h0M977.6 164.5h0M508.8 199h0M510.9 204.3h0M515.8 211.2h0M957.8 209.6h0M957 203.5h0M952.7 199h0M952.7 160.5h0M948.5 157h0M953.2 165.7h0M970.7 244.4h0M954.2 239h0M957.6 229.2h0M665.6 214.1h0M673.7 205.4h0M657 203.8h0M524.3 209.6h0M527.5 219.9h0M514.9 209.1h0M711.3 215.5h0M704.7 217h0M715.6 208.6h0M497 410.2h0M496.6 416.9h0M494 410.7h0M476.6 239.4h0M476.4 227.8h0M485.6 234.3h0M537.9 378.4h0M543.3 367.7h0M537.3 375h0M532.2 349.6h0M533.7 354.9h0M529.8 345.1h0M514.1 402.2h0M528 404.1h0M523.2 389.1h0M848.4 185.1h0M839.7 189.7h0M840.1 190.8h0M531 260.3h0M534.3 252.4h0M538 249.2h0M736.8 221.6h0M746 238.1h0M732.8 226.4h0M874.6 204.4h0M875.7 195.9h0M880.4 201.8h0M741.8 299.5h0M737.7 297.8h0M751.1 301.7h0M721.8 449.4h0M723.8 457.9h0M721.6 449.3h0M701.1 460.4h0M709.4 454.6h0M708.2 464.6h0M727.2 453.2h0M718.7 447.1h0M729.1 463.9h0M557.8 204.7h0M567 191.4h0M567.9 192.1h0M614.6 396.6h0M613.4 405.4h0M613 396h0M669.5 364.2h0M666.5 357.9h0M679.8 359.4h0M669.4 356.4h0M671.9 356h0M677.3 352.7h0M685.9 358h0M676.6 353.3h0M677.7 354.6h0M647.1 387.4h0M648.6 399.4h0M634.7 389.3h0M614.2 417.5h0M627.5 431.9h0M621.2 421.2h0M647.6 449.5h0M635.5 456h0M646.3 455.4h0M684 471.6h0M684.6 468.3h0M689.1 459h0M605.3 480.3h0M607.7 485.1h0M606.4 483.8h0M609 443.3h0M621.6 453.7h0M606.9 445.9h0M593.1 438.3h0M586.7 435.2h0M600.3 452.4h0M574.3 446.5h0M575.3 443h0M579.2 434.8h0M483.2 256.8h0M477.8 245.2h0M485.7 254.6h0M840.1 323h0M838.9 327.4h0M838.1 325.9h0M676.2 206.4h0M666.7 208.7h0M673.5 207.9h0M566.3 143.2h0M567.4 138h0M562.2 144.5h0M780.5 258.3h0M779.6 250.1h0M787 248.5h0M931.5 222.3h0M924 230.2h0M933.5 217.9h0M724.2 436.8h0M727.5 444h0M725.1 440.1h0M830.8 229.7h0M827.8 230.6h0M821.4 237.9h0M677.1 223.1h0M673.5 214h0M667.1 222.3h0M738.6 462.4h0M725.2 463.3h0M734.5 463.2h0M524.8 474.7h0M529.7 472.6h0M532.4 485.4h0M656.2 228.2h0M662.7 224.8h0M661.4 212.5h0M597.3 65.4h0M606.9 68.1h0M590.9 67h0M701.2 457h0M698.3 459.8h0M701.5 468.5h0M498.4 271.3h0M490.1 271h0M502.8 260.9h0M571.1 165.7h0M577.1 156.3h0M579.5 154.8h0M729.2 184.3h0M727.6 186.3h0M727.3 186.9h0M532.3 318.7h0M536.1 322.2h0M524.9 322.2h0M916.9 236.6h0M914.4 250.5h0M915.2 249.2h0M717.8 460.5h0M707.3 463.2h0M718.8 451.1h0M624 420.9h0M625.7 421.3h0M619.5 410.9h0M551.7 127.6h0M551.1 116.4h0M552.1 117.7h0M760.6 464.9h0M761.7 460.2h0M761.9 468.3h0M674.3 387.1h0M668.4 379.7h0M677.4 378.3h0M755 239.3h0M763 241.4h0M763.2 240.4h0M743.7 456.5h0M745 448.2h0M749.6 449.5h0M766.9 255.2h0M765.8 246h0M768 246.7h0M732.3 461.4h0M740.6 460.5h0M732.9 460.3h0M645.4 446.1h0M649.5 454.2h0M637.4 447.5h0M913.3 268.8h0M912.1 267.7h0M911.6 275.7h0M772.1 393.5h0M767.4 394.5h0M765.8 386.6h0M737.2 339.3h0M749.3 338.2h0M738 343.1h0M753.6 391.9h0M759 396.2h0M765.2 396.7h0M637.7 413.6h0M636.3 425.9h0M632.5 412.8h0M913.7 267.9h0M904.6 275.5h0M916.3 267.6h0M737.8 385.6h0M748.7 376.8h0M747.9 382.6h0M756.7 368.4h0M760.4 365h0M764.2 368h0M752.3 344h0M761.2 338.6h0M752.8 345.9h0M722.2 349.2h0M722.3 340.6h0M710.2 354.2h0M703.5 440.3h0M702.4 435.9h0M699.6 430.6h0M1011.9 146.9h0M1011.3 140.8h0M1018 151.9h0M934.7 207.5h0M938.1 205.3h0M929.5 215.9h0M944 170.7h0M932.5 183.9h0M944.6 169.6h0M982.5 213.1h0M976.3 224.1h0M973.5 217.5h0M665.9 218.5h0M678.5 222.7h0M668.9 233.5h0M530.3 144.5h0M530.6 136.2h0M528.8 145.2h0M764.5 201.3h0M749.1 211.7h0M750.6 216h0M487.9 183.4h0M479.7 190.8h0M486.6 174.4h0M559 155h0M558.5 141.4h0M564.4 146h0M509.4 140.8h0M498 141.5h0M501.3 137h0M491.9 144.2h0M483.1 149.2h0M487.4 139.2h0M509.3 402.1h0M514.1 395.2h0M514.3 392.1h0M506.4 393.5h0M507.7 406.4h0M513.3 394.5h0M525.9 392.7h0M524.4 402.1h0M515.3 396.2h0M501.3 425.3h0M503.3 420.3h0M497 410.5h0M756.7 235.4h0M749.7 230.3h0M752.1 240h0M801.3 240.7h0M796.6 239.7h0M794.7 240.2h0M786.5 232.5h0M789.2 240.7h0M789.4 229.5h0M884.7 193.5h0M888.2 191h0M882.8 188.6h0M635 291.9h0M625.9 293.7h0M635.4 297.3h0M659.2 286.4h0M675.5 281h0M673.1 285.9h0M614.2 309.2h0M610.7 293.7h0M605.7 294.7h0M669 290h0M684 286.8h0M681.1 288.5h0M928.2 207.8h0M922.9 204.2h0M929 208.8h0M698.8 251.1h0M696.4 248.9h0M691.9 244.8h0M712.7 469.8h0M713.8 465.5h0M715.1 461.9h0M504.1 382.2h0M510.9 380.9h0M499 384.6h0M511.6 366.3h0M501.8 373.4h0M511.9 379.8h0M476.5 351.7h0M483.6 337.2h0M487.9 334.5h0M627.3 485.1h0M633.5 476.3h0M626.8 486.5h0M595.7 375.5h0M592.2 377.9h0M599.1 373.3h0M626.7 421.1h0M631.8 413.2h0M632.8 419.3h0M681 392.1h0M687.7 394.4h0M685.4 391.8h0M695.5 344.2h0M708.4 336.3h0M695.8 336.1h0M661.8 343.9h0M667.9 346.1h0M668.4 341.4h0M597.9 331.2h0M591.1 327.6h0M606.9 328.7h0M955.8 238.6h0M951.5 251.8h0M948.1 241.4h0M910.7 289.5h0M912.6 276.6h0M914 283.7h0M914.7 249.8h0M907 245.8h0M915.4 244.1h0M905.3 249.6h0M897.4 242.9h0M898.7 259.3h0M518.8 98.2h0M513.4 108.4h0M514.6 96.1h0M488.5 394.6h0M478.3 395.3h0M475.6 386.8h0M485.4 361.9h0M490.6 353.8h0M492.4 353.1h0M600.1 455.6h0M610.3 456.8h0M604.4 455.7h0M636.1 457.7h0M624.9 449.7h0M639.7 446.3h0M679.2 463h0M687.1 458h0M682.5 466.7h0M707.4 398.9h0M696.8 403.3h0M712.8 402h0M662.2 421h0M663.8 412h0M674.5 420.4h0M923.1 211.4h0M920.4 223h0M937.1 222.6h0M594.8 151.2h0M583.6 140.7h0M582.6 148.3h0M490.7 421.3h0M494.4 424.2h0M502 410.8h0M946.9 227.6h0M951.3 216.3h0M940.7 219.6h0M768.2 280.9h0M768.3 273.3h0M783.3 288.3h0M650.6 393.9h0M666.5 392.8h0M666.2 387.4h0M898.9 241.3h0M900.9 242.6h0M888.9 243.5h0M791.9 483h0M784.1 475.7h0M780.2 471.2h0M671.2 437.2h0M671.2 444.9h0M669.4 432h0M950.5 242.3h0M942.3 242.2h0M952.7 241.4h0M482.2 500.2h0M475.4 498.9h0M481.8 502.1h0M770.1 367.3h0M770.4 370.1h0M765.8 373.5h0M759.7 472.2h0M758.9 473.3h0M766.6 485.9h0M728.3 449.3h0M733.6 456.4h0M732.8 455.1h0M656.7 386.6h0M664.7 383.2h0M652.4 384.5h0M493.1 560.5h0M488.5 558.6h0M503.9 552.3h0M708 406.9h0M724.6 417.3h0M720.3 409.1h0M908.3 279.4h0M915.3 290.2h0M917.8 291.2h0M523.3 508.4h0M526.8 512h0M515.7 509h0M767.5 403.8h0M769 396.5h0M768 399.8h0M525.6 151.3h0M532.2 151.9h0M519.7 157.1h0M794 394.8h0M789.4 389.6h0M797.2 390h0M738.1 314h0M746.2 309.5h0M738.7 309.2h0M790.4 493.8h0M796.1 499.5h0M783.5 492.5h0M815.2 245.8h0M813.7 240.1h0M815.5 245.6h0M803.3 243.4h0M802.3 240.1h0M796.8 227.7h0M730.1 372.9h0M734.8 370.6h0M739.5 363.9h0M731.6 348.8h0M737.6 353.6h0M733.4 352.5h0M956 188.5h0M951.1 185.4h0M954.7 188.5h0M1004.2 157.2h0M1010.5 146.1h0M1005.6 152h0M962.8 179.2h0M965.3 174.6h0M960.6 165.2h0M800.2 250.1h0M805 235.4h0M799.7 249.5h0M490.7 111.9h0M490.5 111.4h0M488.8 108.2h0M532.9 355.2h0M537.4 343.3h0M527.1 341.9h0M541.3 416h0M539.6 420h0M528.4 412.8h0M609 421.8h0M605.1 433.6h0M607.1 428.5h0M810.5 257.4h0M799.4 261.1h0M804.5 262.3h0M832.6 260.1h0M819.3 262.3h0M831.4 270.1h0M831.3 272.7h0M836.2 278.7h0M834 274.5h0M838.3 267.2h0M844.9 262.3h0M833.8 262.8h0M659.5 273.8h0M661.3 285.7h0M653.4 283.5h0M581.5 339.3h0M569.1 337.1h0M568.7 328.2h0M690 319.2h0M689.8 334.6h0M679 320.4h0M675.6 261.3h0M667.8 259.6h0M674.8 263.9h0M805.4 543.7h0M806.3 543.8h0M801 547.1h0M785.1 441.3h0M790.8 438.8h0M787 452.9h0M774.5 427.9h0M786 415.4h0M783.4 421.9h0M790.1 414.7h0M783.3 417.1h0M781.3 415.6h0M737.3 479.9h0M744.7 480.9h0M729.8 474.3h0M469.1 381h0M462.4 375.8h0M468.2 376.8h0M679.8 339.4h0M677.5 338.1h0M670.4 328.5h0M693.8 368.2h0M689.2 373.4h0M682.9 364.8h0M550.1 371.3h0M555.7 371.5h0M563.4 373.6h0M654.9 429.4h0M645.8 433.4h0M656 443.4h0M638.8 373.9h0M647.3 370.8h0M643.1 364.2h0M494.3 372.3h0M489.9 361.5h0M497.5 371.7h0M697.2 140.5h0M689.3 134.7h0M693.4 133.8h0M672.6 453.9h0M665.6 451.4h0M656.9 446.4h0M698.6 465.9h0M700.9 472.1h0M701.7 464.3h0M677.7 482.3h0M673.5 476.7h0M664.7 476.7h0M508.9 515.3h0M505.3 504.2h0M505.9 500.3h0M878.3 292h0M877.1 290.7h0M869.5 294.3h0M875.9 298.3h0M883.8 300.9h0M886.7 305h0M550.2 203.7h0M554.2 212.4h0M558 200.7h0M979.9 207.7h0M979.4 208.1h0M973 212.8h0M721.2 462.2h0M706.8 457.6h0M718.5 466.9h0M643.8 397.9h0M650.1 402h0M639.6 403.4h0M890.1 280.9h0M892.7 278.3h0M897.7 277.1h0M781.1 382.4h0M791.8 380.8h0M788.6 387.7h0M797.2 386.8h0M797.2 393.7h0M786.2 379h0M710.2 210h0M712.8 199h0M708 210h0M603.5 359.3h0M602.4 348.1h0M596.1 359.7h0M850.9 363.8h0M845.7 377.2h0M847.6 366.7h0M917.8 263.5h0M915.9 257.1h0M910 255.8h0M688.6 448.4h0M674.9 443.2h0M679.3 445.9h0M690.2 402.8h0M688.8 390.2h0M699.1 396.9h0M755.7 349.2h0M754 343.3h0M752.7 342.1h0M822 376h0M817.8 377h0M814.7 373.3h0M514.8 323.4h0M512.7 313.4h0M522.7 310.2h0M962.2 211.4h0M963.8 216.8h0M955.1 206.8h0M1004.3 123h0M1007.4 140.1h0M1015.2 140.5h0M995 219.9h0M993 216.9h0M985.8 207.9h0M945.5 231.2h0M954.8 240.5h0M960.1 228.9h0M742.6 183.1h0M738.5 169.3h0M734.9 177.2h0M672.2 203.8h0M670.7 207h0M673.9 219.6h0M744.2 173.1h0M747.1 174.9h0M747.1 186.9h0M610.1 112.4h0M610.6 109.1h0M614.3 110.8h0M692.8 141.4h0M694.7 132.6h0M698.1 142.8h0M709.1 155.9h0M713 160.6h0M701.7 160.8h0M565.8 440.2h0M575.4 441.4h0M564.8 438.7h0M561.3 424.2h0M565.5 431.7h0M573.8 427.9h0M527.3 356.4h0M529.4 366.3h0M518.1 364.8h0M712.7 189h0M713.2 186.6h0M712.1 185.4h0M474.9 140.7h0M481.7 140.7h0M473.3 149.2h0M789.2 237.7h0M792.6 233.7h0M780.2 233.7h0M776.3 240.6h0M779.6 237.2h0M780.2 252h0M877.3 194.4h0M867.6 185.6h0M862.8 192.8h0M716.9 199.9h0M712.6 200.9h0M712.7 193.5h0M785.1 298.7h0M790.9 289.3h0M774.7 295.1h0M747.6 273.8h0M733.6 262.4h0M747.1 265.9h0M804.7 429.8h0M804.6 431.7h0M794.9 426.6h0M766.9 414.3h0M760.2 401.7h0M768.7 404.4h0M513.9 287.9h0M512.7 287.2h0M510.7 291.6h0M643.2 299.8h0M653.1 296.3h0M636.6 289.6h0M655.6 267.4h0M655.1 268.3h0M654.2 257.5h0M641.8 286.8h0M643.4 280.8h0M654 284.7h0M710.6 341.9h0M706.7 337.3h0M718.4 341.1h0M671.4 410.8h0M673.9 416.2h0M677.2 415.6h0M609.4 404.1h0M606.3 407.2h0M604.1 410.3h0M645.1 247.8h0M649.2 252.3h0M656.5 253.3h0M927.4 257h0M926.2 260.6h0M917.6 252.2h0M532.6 79.9h0M543.1 78.6h0M530.6 91.4h0M501.2 69.5h0M498.7 75.4h0M502.2 74.3h0M508.4 386.7h0M508.1 387.5h0M503.3 375.6h0M492.9 391.1h0M495.5 390h0M481.9 384.4h0M550.4 352h0M555.2 335.3h0M545.2 351h0M505.5 511.1h0M501.1 521.2h0M495.5 520.6h0M544.3 502.5h0M537.2 502.1h0M543.7 510.3h0M594.2 481.1h0M599.4 487.3h0M599.1 488.8h0M579.7 455.6h0M576.7 447.9h0M576.8 460.8h0M589 471.5h0M595.5 479.3h0M596.6 486.9h0M756.9 188.8h0M747.6 186h0M759.5 177.8h0M636 296.2h0M634.1 296h0M623.2 298.6h0M605 145.1h0M607 148.3h0M596.3 145.3h0M508.5 485.6h0M509.7 479.5h0M523.6 479.1h0M716.7 219.9h0M704.6 229.2h0M701.8 218.2h0M668.5 154.4h0M666.8 155.4h0M665.8 140.6h0M606.2 202.2h0M617.3 194h0M602.4 199.4h0M576.1 240.3h0M567.8 231.1h0M560.6 229.4h0M750.5 486.8h0M750.8 477.4h0M761.1 477h0M898.2 258.4h0M894.6 261.8h0M893.8 259.5h0M616.9 346.9h0M599.7 354.4h0M605.6 351.1h0M712.2 183.6h0M717.1 187h0M719.4 175.2h0M781.1 492.4h0M780.5 493.1h0M785.2 479.6h0M821.9 367.8h0M816.1 369.5h0M831.9 373.5h0M1021.7 132.9h0M1021.8 145.8h0M1015.1 139.8h0M935.7 230h0M927.3 220.8h0M927.5 232.2h0M818.4 387.2h0M824.5 371.8h0M821.5 384.8h0M766.8 231.7h0M762.2 223.7h0M761.1 223.5h0M568.6 474.6h0M557.1 468.6h0M561.1 472.9h0M742.8 380h0M751.5 384.5h0M745.2 385.9h0M472.1 86.4h0M468 79.4h0M483.1 85.7h0M936.4 213.6h0M926.1 209.4h0M931.5 219.3h0M732.6 399.7h0M733.5 399.7h0M738 392.3h0M821.1 383.9h0M829.3 375.9h0M812.2 382.8h0M919.3 253.9h0M923.9 255.9h0M915.1 257.6h0M752.4 438.8h0M760.2 435.1h0M762.1 433.3h0M727.8 178.8h0M736.2 171.3h0M739.6 172.1h0M800.6 304.2h0M815.9 287.4h0M801.7 289.8h0M733.5 381.1h0M744.8 387.9h0M734.2 384.1h0M525.8 419.5h0M514.2 430.6h0M519.9 424.3h0M595.1 171.6h0M594.1 181.6h0M602.6 178.7h0M724.5 406.9h0M734.8 407h0M736 406.3h0M596.7 362.7h0M596.8 357.6h0M598 361.8h0M712.9 389.3h0M710.9 391.9h0M706.7 379.7h0M737.2 411.3h0M738.8 406.2h0M749.1 411.1h0M715.2 386.9h0M709.6 395.3h0M724.2 391.1h0M925.3 198.9h0M931.5 197.5h0M927.1 202.5h0M932.3 199.4h0M929.3 206.3h0M925.2 191.6h0M946.4 170.2h0M945.4 168.4h0M944.1 170.2h0M927.4 163.9h0M932.9 180.4h0M929.6 170.2h0M956 232.7h0M950.9 221.2h0M951 233.9h0M956.5 225.3h0M954.4 224.5h0M957.5 215.6h0M590.6 234.9h0M595.3 233h0M589.7 239.1h0M731.3 204.4h0M742.3 202h0M740.5 202.1h0M478.1 257.4h0M466.9 256.6h0M464.7 271.1h0M562.5 433.8h0M564.6 437.6h0M559 436.2h0M545.3 428h0M544.9 425.7h0M553.2 422.2h0M811 235.9h0M820 225.4h0M820.5 232.8h0M840.2 201.3h0M833.6 199.1h0M846.2 200.9h0M791.8 265.5h0M803.3 272.9h0M805.4 274.4h0M865.7 203.8h0M856.1 210.7h0M862 214.8h0M816.1 274.6h0M811.5 279.9h0M820.9 272h0M777.8 322.5h0M785.2 312.6h0M770.7 313.4h0M767.9 252h0M774.7 257.9h0M775.6 261.5h0M694.3 267.8h0M702 278.8h0M697.1 272.3h0M768.9 248.2h0M768.4 245.5h0M775.7 258.1h0M788.4 457.2h0M777.7 455.4h0M789.4 464.1h0M756.4 465.8h0M754.1 462.2h0M765.5 462.4h0M753.8 464.1h0M749.1 476h0M760.7 476.1h0M790.3 461.9h0M800.8 464.5h0M787.6 475h0M595.3 248h0M598.4 245.1h0M589.7 242.1h0M574.2 352h0M574.2 353.4h0M574.4 350.4h0M611.8 390.2h0M617.4 376.3h0M615.6 378.1h0M592.2 365.9h0M601.2 368.1h0M601.9 364.8h0M705.5 331h0M702.7 334h0M697.1 335h0M623 379.5h0M612.6 381.3h0M624.8 380.7h0M626.8 350.4h0M627 344.7h0M625.5 351.2h0M926.5 238.5h0M914.1 243.3h0M915 241.6h0M512.1 347.1h0M511.5 346.3h0M505.9 330.8h0M551.3 402.2h0M553.4 406.6h0M554.1 394.5h0M494.6 332.5h0M483.5 332.9h0M490.6 335.6h0M652.6 460.6h0M643.6 457.6h0M655.3 460.1h0M673.6 457.5h0M683.6 462.1h0M675.4 448.7h0M682.8 477h0M677 472.3h0M675.3 477.7h0M619.5 98.3h0M629.1 94.5h0M632.7 101.9h0M591 481.9h0M604.1 479.1h0M605.7 467.9h0M668.5 482.5h0M670.5 474.9h0M671 485.6h0M511.5 439.5h0M515.9 427.5h0M514.3 437.8h0M503.9 223.6h0M490.7 210.7h0M501.5 213.3h0M850.6 383.3h0M851.7 388h0M843.8 393.6h0M688.2 249.3h0M691.3 252.7h0M678.7 248h0M819.1 412.7h0M813.4 418.3h0M819.7 416h0M531.2 257.6h0M525.3 253.8h0M533.8 267.5h0M499.6 493h0M494.8 483.7h0M505.3 493.2h0M488.6 100.1h0M485 112.5h0M487.8 109.5h0M752.8 402.5h0M764.7 416.8h0M766.4 411h0M817.7 398.4h0M818.2 390.1h0M815.7 392.2h0M753.6 432.2h0M756.6 432.4h0M747.7 441.3h0M529.4 303.5h0M535.1 294.3h0M530 291.7h0M704.6 467.8h0M713.9 470.5h0M704.3 469.8h0M734.2 157.6h0M739.8 154.1h0M737.6 158.5h0M799.4 466.6h0M798.7 463.5h0M799.6 475.6h0M753.5 239.9h0M756.4 243.4h0M763.9 242.8h0M581.2 301h0M576.3 303h0M585.6 305.4h0M1021.6 165.7h0M1025 156.3h0M1011.1 156.4h0M672.4 199.3h0M670.4 190.9h0M664.6 206.6h0M986 122.2h0M1000.4 124.6h0M986.9 134h0M661.9 395.9h0M657.6 398.5h0M671.5 407.3h0M638.4 417h0M650.5 411.3h0M639.5 406.2h0M742.1 421.6h0M742.2 424.9h0M736.5 431.7h0M932.2 198.1h0M936 189.4h0M924.4 198.2h0M962.8 213.7h0M974 222.4h0M970 218.6h0M934.1 199.5h0M938.7 208.4h0M941.3 201.6h0M754.5 187.1h0M740 197.1h0M745.1 199.9h0M587.5 434.9h0M582.2 425h0M579.8 424.8h0M848.9 199h0M853.4 199h0M853.5 202.3h0M754.4 242.6h0M741.9 239.3h0M758.5 247.9h0M824 248.8h0M824.5 259.6h0M833.1 259h0M757.6 224.6h0M758.2 225.1h0M756.5 227.7h0M712.1 260.9h0M715.7 252.9h0M700.4 252.3h0M831.8 401.9h0M848.4 402.7h0M834.8 395h0M703.4 387.4h0M693.1 394.4h0M697.8 388.6h0M611 392.8h0M612.5 394.6h0M622.9 399.9h0M605.6 404.1h0M597.4 408.7h0M596 403.2h0M668.2 334.3h0M681.7 324.1h0M666.4 330.2h0M516.3 103.2h0M517.7 98.6h0M519.3 93.3h0M515.1 79.6h0M521.6 81.1h0M507.3 81.6h0M493.1 476.5h0M493.8 465.6h0M495.9 465.6h0M674.9 472h0M676.2 476.9h0M681.3 477.8h0M528.9 494h0M523.9 495.2h0M525.8 498.2h0M569.6 483.8h0M582.5 477.4h0M587 484.1h0M516.3 443.6h0M508.8 440.7h0M514.1 449.1h0M830.4 370.3h0M819.9 364.2h0M829.2 358.7h0M481.7 414h0M467 414.3h0M481.9 410.1h0M851.2 395h0M849.6 410.8h0M842.6 408.5h0M697.4 438.3h0M690.2 434.9h0M681.5 444.9h0M666 187.3h0M666 192.4h0M665.8 188.2h0M811.4 243.6h0M810.3 239.3h0M801.4 226.9h0M508.1 487.4h0M516.3 473.3h0M521.9 485.1h0M638.8 169.3h0M651.9 172.1h0M646.9 160.6h0M778 412.8h0M772.9 419.2h0M785.6 410.6h0M739.5 422.4h0M744.2 428.2h0M746.7 437.2h0M734.7 421.9h0M742.9 415.7h0M736.6 417.3h0M749.2 376.3h0M743.2 376.9h0M754.3 365.2h0M787 347.8h0M785.1 341.2h0M790.6 353.6h0M944.4 173.9h0M938.2 177.3h0M936.7 166.6h0M912.7 190.3h0M913.8 194.7h0M902.7 187.5h0M966.2 208.6h0M978.1 200.2h0M965.5 211.5h0M969 151.5h0M960.9 146.9h0M968 150.2h0M883 197.3h0M877.7 192.5h0M890.4 189h0M729.2 186.7h0M729 181.4h0M718.2 181.6h0M489.6 90.9h0M494 87.3h0M492.6 95.7h0M542.9 375.6h0M552 391.5h0M547.9 391.1h0M830.5 221.6h0M830.5 222.1h0M823.4 218.7h0M796.3 267.2h0M801 256.1h0M805 273.6h0M731.4 327.3h0M730.2 322.6h0M721.4 310.5h0M800 407.9h0M806.2 398.9h0M801.3 399.8h0M808.9 421.3h0M818.4 424.9h0M815.9 417.8h0M789.7 405.1h0M794.3 408.9h0M782.6 395.1h0M499.5 200.5h0M498.3 203.2h0M503.4 206.8h0M485.9 345.7h0M490 350.2h0M495.8 349.5h0M777.9 316.1h0M783.4 306.8h0M789.1 308.6h0M615.7 356.1h0M600.9 344.2h0M603.5 353.5h0M606.6 268.2h0M604.4 264.6h0M617.8 268.6h0M633.9 389.7h0M629.8 377.7h0M619.3 384.2h0M639.9 370.7h0M629.7 366.7h0M642.2 375h0M930.4 248.4h0M921.2 244.1h0M919.5 254.2h0M546 480.4h0M550.1 477.3h0M555.4 480.1h0M488 470.6h0M477.6 473.7h0M481.1 466.1h0M787.1 331.6h0M788.2 334.9h0M791.5 333.7h0M737.8 472.4h0M754.2 458.5h0M741.2 471.9h0M724.4 448.1h0M720.2 452.5h0M720.5 448.6h0M635.6 206.8h0M636.5 203.2h0M633.8 198h0M807.5 442.8h0M814.2 439.5h0M802.4 432.3h0M814.7 268.9h0M810.8 274.3h0M806 273.5h0M759.4 447.4h0M748.1 451.3h0M751.5 447.3h0M778.5 191.9h0M771.7 206h0M774.8 203.5h0M761.1 180.8h0M768.2 187.3h0M758.8 177.1h0M752.4 176.5h0M761.3 183.1h0M749.9 184h0M826 291.7h0M822.5 277.9h0M821.5 285.1h0M697.9 457.8h0M701.5 457.4h0M712.8 464.7h0M688.7 421h0M684 430.4h0M681.3 431.9h0M674.9 435.3h0M681.6 439.7h0M686 441.4h0M727.6 423h0M729.4 434.3h0M722.8 425.7h0M732.5 424.1h0M730.2 413.8h0M730.6 421.7h0M791.6 361.5h0M787.1 360.9h0M786.2 351.6h0M953.6 214.7h0M957.8 207.1h0M947.7 214.6h0M760 205.7h0M769.9 206.2h0M771.6 199.2h0M527.7 415.2h0M521.7 421.9h0M523.3 412.2h0M557.5 407.2h0M554.4 408.8h0M544.1 408.4h0M507.6 453.8h0M499.6 445.9h0M512.1 445.9h0M481 444.8h0M479.9 451.9h0M487.8 444.6h0M865.8 194.1h0M865.9 196.8h0M852.9 182.9h0M793.5 233.3h0M797.4 227h0M800.8 224.1h0M761.1 259h0M746.9 264.3h0M751.3 251.7h0M769.6 322.9h0M767.9 325.5h0M776.7 314.6h0M701.3 331.4h0M699.2 327.4h0M694.9 321.8h0M519.1 204.2h0M533.2 215.4h0M520.3 203.3h0M615.6 407.1h0M609 406.6h0M610.7 408.3h0M570.1 381.9h0M576 395.9h0M579 391.4h0M634.8 367h0M642.1 359.4h0M647.7 359.1h0M576.5 372.9h0M573.4 368.5h0M571.1 373.8h0M645.9 352.4h0M643.4 348h0M631.7 340.3h0M638.4 489.6h0M636.6 480.9h0M641.2 477.3h0M865 209h0M869.6 214.5h0M867.4 210h0M900.4 270.7h0M900.7 270.2h0M910.8 279.1h0M496.4 271.1h0M490.8 271h0M478.8 262.4h0M901.5 370.9h0M900.5 360h0M897.2 372.5h0M545.9 404.6h0M532.4 402.2h0M543.2 388.8h0M986 172.1h0M997.3 172.3h0M983.8 166.7h0M633.1 167.1h0M646.5 170.1h0M642.4 178.7h0M735.1 117.2h0M736.5 114.5h0M739.4 124.5h0M512.2 488.4h0M505.9 492.5h0M506.8 475.7h0M493.2 372.5h0M492.8 378h0M492 382.1h0M626.1 419.9h0M633.9 429.8h0M632.1 429.6h0M656.2 192.2h0M648.5 197.7h0M655.5 195.5h0M670.2 205h0M660 194h0M659.4 201h0M796.8 423.4h0M802 422.6h0M798.6 420.9h0M780.6 224.9h0M763.9 224.5h0M768.5 222.3h0M713.9 386h0M716.9 398h0M716.7 387.3h0M716.5 398.3h0M704.8 394.9h0M699.5 385.5h0M721.8 340.4h0M718.7 338.7h0M728.4 348.8h0M995 136.8h0M980.3 140h0M991 144h0M681.1 174h0M668.3 174.3h0M672.4 165.2h0M515.5 133.7h0M507.8 125.6h0M507.7 124.6h0M722.3 189.9h0M713.7 186.3h0M715.7 189.6h0M511.3 145.2h0M505 147.4h0M506 150.9h0M514.7 164.3h0M505.4 172.9h0M502.2 166.5h0M507.9 412.1h0M502.2 416.7h0M501.8 411.3h0M832.7 225h0M824 210.8h0M828.6 213.2h0M804.4 268h0M797.1 259.7h0M796.7 257.9h0M821.9 241.8h0M815.9 239.5h0M815.5 237.6h0M658.8 383.3h0M658.7 395.6h0M660 394.8h0M823.1 422.1h0M823.2 430.2h0M825.4 422.6h0M487.6 208.9h0M478.6 208.7h0M483.5 201h0M579.7 143.8h0M568.8 130.8h0M563.3 143h0M640.2 178.1h0M637.5 177.7h0M648.1 186.9h0M544.9 372.5h0M543.4 382.1h0M542.8 368.2h0M1015.9 170.8h0M1030.5 168.6h0M1031.8 172.7h0M629.6 193.1h0M635 182.5h0M643.9 194h0M513.6 245h0M514 227.5h0M514.2 228.9h0M564.8 342.7h0M568 332.4h0M573.5 332.5h0M528.3 344.7h0M531.3 341.3h0M523.2 355.4h0M507.3 42h0M491.5 43.7h0M496.4 46.2h0M807.4 423.3h0M801.2 417h0M805.9 417h0M486.5 230.7h0M495.6 221.5h0M483.8 233.1h0M743.8 414.9h0M753.8 408.1h0M753.3 400.7h0M690 391h0M692.1 377.8h0M697.1 383.2h0M733.9 390.9h0M718.8 383.8h0M729.7 385.3h0M803.1 388.3h0M804.6 388h0M802.6 383.3h0M717.3 175.8h0M728.2 179.7h0M722.3 178.3h0M463.8 155.6h0M465.2 146h0M479 150.1h0M477.5 180.2h0M471 196.7h0M466.7 179.7h0M472.5 56.7h0M467.8 47.3h0M479.7 49.8h0M726.7 200.8h0M728.9 204.8h0M723.7 209.2h0M834 193.5h0M845.2 188h0M842 193.4h0M825.7 254h0M817.5 250h0M829.6 244.6h0M838.8 190h0M851.3 184.5h0M842.6 196.4h0M852.7 186.8h0M854.1 194.9h0M849.6 185.8h0M838 261.4h0M842.8 245.9h0M848.4 247.7h0M634.8 264.9h0M636.6 253.7h0M640.6 267h0M757.5 306.5h0M764.4 309.5h0M759.4 318.3h0M570.8 300h0M572 301.6h0M572.6 296.6h0M496.6 288.3h0M501.3 301.4h0M489.6 292h0M491 321.7h0M493.1 327.6h0M497 327.6h0M656.6 417.7h0M653.3 417.1h0M662.3 407.3h0M623.7 431.3h0M622.3 416.1h0M612.7 430.6h0M603.8 393.4h0M600.7 395.3h0M591.1 398.5h0M474.1 179.6h0M481.4 174.3h0M480.4 174.3h0M893.4 351.7h0M900 351.8h0M893.4 348.9h0M720.2 396.2h0M719 404.8h0M720 395.5h0M736.1 490.6h0M728.4 481.6h0M738.5 492.9h0M509.8 317.4h0M514.4 322.2h0M519.8 309.4h0M729.6 317.2h0M731.6 332.1h0M733.6 321.5h0M907.5 251.6h0M896.2 255.1h0M905.9 256.3h0M484.5 140.4h0M492.9 138.6h0M485.4 123.3h0M742.7 448.7h0M751 449.4h0M746.5 453.2h0M720 140.5h0M723.1 140.4h0M728.9 148.5h0M741.1 434.4h0M751.8 436.9h0M737.5 448h0M995.7 232.4h0M996.5 241.4h0M989.7 231.4h0M574.4 173.9h0M574.7 166.4h0M579 160.4h0M509.2 457.5h0M504.9 459.6h0M504 454.3h0M909.1 274.9h0M926 284.8h0M920.6 284.4h0M849.4 393.2h0M863.1 376.5h0M853.3 379.5h0M549.2 113.7h0M551 97.9h0M549.1 103.7h0M752.7 224.9h0M749.8 212.1h0M749.9 220.2h0M526.8 383.8h0M520.7 383.4h0M513.6 389.2h0M517.6 399.6h0M515.3 394.9h0M522.4 391.6h0M517.4 430.4h0M521.4 427.9h0M525 428.1h0M557.6 230.9h0M561.3 217.3h0M550.6 218.7h0M586.7 181.7h0M577.7 175.8h0M578.4 181.3h0M596.1 463.5h0M597.4 457.8h0M597 463.2h0M814.5 258.1h0M809 259.3h0M822.7 264.6h0M540.9 249.5h0M527.3 246.8h0M540.7 244.5h0M961.6 189.3h0M954.3 200.5h0M957.2 191.2h0M512.5 421.2h0M518 426.4h0M506.9 417.8h0M826.7 252.1h0M825.5 259.1h0M813.2 258.6h0M590.2 416.3h0M591.3 424h0M588.3 411.4h0M781.3 405.9h0M782.9 421.6h0M784.5 419.9h0M484.5 196.2h0M494.7 192.2h0M495.7 191.8h0M602 138.8h0M593.8 128.5h0M606.7 142.7h0M769.2 401.6h0M757.5 394.7h0M765.8 401.4h0M520.7 239.1h0M526.1 244.1h0M529.3 232h0M722.6 257.9h0M728.1 254h0M715.5 265.8h0M651 146.3h0M650 145.3h0M662.6 141.3h0M790.5 402.4h0M786.1 402.6h0M793.9 411.4h0M551 238.6h0M552.4 235.1h0M557.3 233.8h0M576.4 97.5h0M575.9 96h0M570.5 100.5h0M678.1 420.1h0M665.5 416.5h0M681.5 411.9h0M922.4 283.9h0M922.9 279.3h0M912.4 288.3h0M591.7 305.8h0M599.8 310.2h0M591.4 312.3h0M684.6 291.4h0M681.9 302.1h0M679.1 305.3h0M747.6 395.2h0M762.2 397.7h0M749.1 395.4h0M796.1 375.3h0M804.2 370h0M792.4 370.8h0M795.2 234.6h0M800 242.1h0M787.1 236.4h0M694.2 428.5h0M684.3 438.2h0M691 429.8h0M934.2 202.7h0M931.8 192h0M934 203.9h0M503.6 532.6h0M497.5 533h0M491.3 526.4h0M635.3 294.7h0M632.8 287.6h0M646.4 292.8h0M606.3 199.8h0M605.7 202.2h0M591.2 206.8h0M709.9 431.2h0M721.2 414.9h0M707.5 417.4h0M780.5 450.3h0M768 460.4h0M775.5 448.3h0M739.9 190h0M734.1 179h0M736.8 181.9h0M760.9 294.9h0M753.7 300.1h0M764.7 286.9h0M568.8 221.7h0M568.9 217.9h0M575.7 222.3h0M710 416h0M714.9 413.8h0M718.7 412h0M771.7 393.4h0M780 382.4h0M776.9 396.8h0M577.2 147h0M580.2 137.5h0M582.2 132.1h0M726 228.4h0M726.7 221h0M723.9 235.1h0M503 330.5h0M503.5 339.1h0M501.2 331.2h0M753.6 242.6h0M752.7 251.8h0M745.8 252.4h0M852.6 261.4h0M850.7 264.9h0M856.3 258.5h0M779.5 562.3h0M797.1 556.2h0M784.3 564.4h0M761.6 142.8h0M751.6 132.7h0M763.5 133.5h0M728.6 376.1h0M721.3 380.5h0M718.8 380.6h0M944.7 195.6h0M943.2 205.5h0M945.1 208.6h0M611.9 474.8h0M614.2 490h0M605.9 477h0M748.4 203.3h0M749.1 204.3h0M755.4 212.1h0M622.2 350.5h0M623.3 361.7h0M620.9 357.9h0M676.9 214.8h0M670.7 219.1h0M666 215.1h0M892.4 161h0M899.1 171.8h0M893.9 163.8h0M637 116.5h0M643.4 115.3h0M649.3 116.9h0M646 469.6h0M648.7 478.9h0M649.8 480h0M575.1 353.5h0M568.5 355.8h0M564 360.7h0M969.4 195.4h0M973.7 193.9h0M980.2 196.2h0M878.3 349.7h0M871.5 351.9h0M863.9 343.1h0M555.5 434.9h0M557.7 423.3h0M568.3 426.1h0M703.1 414.2h0M705.9 417.6h0M719.2 410.6h0M723.8 231.4h0M723.6 240.2h0M711.3 227.8h0M623.2 101.4h0M623 106.8h0M621.4 107.4h0M571.1 427.9h0M570.6 426h0M569.9 416.9h0M745 406.1h0M732 405.3h0M742.9 399.8h0M670.5 158h0M675 165.5h0M674 163.8h0M505.2 147.3h0M504.8 141h0M510.8 142.4h0M1006.1 155.7h0M1006.8 153.3h0M1006.3 165.6h0M496.4 244.5h0M489.2 245.6h0M497.1 238.2h0M583.2 174.1h0M591.1 176.5h0M596 168.8h0M729.6 424.1h0M724 424.1h0M723.5 420.7h0M497.8 484.9h0M511.1 488.4h0M510.9 476.5h0M651.2 148.3h0M644.7 140.3h0M650.3 151.3h0M859.6 335.8h0M857.9 349.4h0M861.8 348.2h0M491.7 330.6h0M481.1 343.1h0M491.7 347.3h0M776.1 375.4h0M773.1 366.3h0M765.8 374.6h0M789.4 532h0M786.9 539.9h0M785.3 533.7h0M889.4 236.7h0M895.7 238.1h0M895.1 237.1h0M619.4 229.9h0M613.5 233h0M611.9 233.2h0M630.3 375.6h0M634.6 377.4h0M630.9 366.9h0M568.7 192.7h0M560.9 187.5h0M570.7 184.2h0M549.1 112.8h0M543.8 113.6h0M549.2 120.2h0M465.3 382.9h0M471.2 378.1h0M474.7 391.5h0M745.4 253.1h0M749.8 254.2h0M736.4 253.2h0M784.7 454.9h0M768.9 466.3h0M770.2 454.5h0M780.8 442.8h0M770.4 448.5h0M767.3 437.8h0M726.1 220.3h0M725.3 209.3h0M712.8 211.1h0M947.2 187.6h0M934.4 187h0M945.6 174h0M889.9 196.7h0M888.6 183.9h0M889.3 188.3h0M985.8 184.7h0M999.2 189.2h0M998.7 189.6h0M992.9 135.5h0M1004.1 148.5h0M990.9 141.6h0M949 207.8h0M941.8 208.4h0M950 210.1h0M713.9 277.4h0M714.2 289.4h0M711.2 289.1h0M763 170.7h0M773.1 181.7h0M761.3 176h0M498.3 487.5h0M497.9 495.9h0M490.3 487.4h0M534.8 143.4h0M530.9 132h0M531.9 133.8h0M482.3 463.6h0M475.9 458.3h0M469.7 467.5h0M817.4 386.7h0M828.3 379.5h0M826.9 393.8h0M804.7 324.4h0M808 333.5h0M816.7 330.8h0M626.6 171.2h0M624.6 169.2h0M622.4 160.6h0M812.5 550.7h0M824.4 560.9h0M810 559.6h0M556.7 48.4h0M562.8 38.3h0M549.6 51.7h0M958.1 216.7h0M942.4 214.6h0M951.3 218.1h0M599.3 383.4h0M597.2 374h0M593.6 369.8h0M947.8 238.8h0M946.7 231.5h0M944.2 235.7h0M981.8 215.2h0M967.2 198.3h0M981.8 202.9h0M708.3 211.5h0M696.3 223.2h0M705.5 209.1h0M841.5 221.7h0M850 228.9h0M849.2 219.5h0M676.2 473h0M667.5 473h0M676.5 473.4h0M711.6 283.7h0M698.5 286.9h0M700.4 284.6h0M620.1 85.9h0M615.2 82.8h0M613.1 79.1h0M734.1 458.7h0M728.4 459.6h0M735.9 457.7h0M708.7 368.4h0M719.5 366h0M712.8 368h0M885.7 209.1h0M885.5 208.7h0M901.1 210.3h0M1021.5 155h0M1026.1 142.1h0M1011.2 142.8h0M1022.1 158.4h0M1031.3 151h0M1036.7 150.4h0M777.7 446.3h0M782.2 453.3h0M778.1 449.3h0M699.7 401.7h0M704.5 413.6h0M699.2 408.6h0M978.6 231.8h0M979.6 242.9h0M969.9 241.6h0M517.6 261.6h0M526.3 266.2h0M525 252.6h0M718.5 192.3h0M703.2 199.7h0M715.5 191.8h0M560.4 81h0M558.5 73.3h0M556.5 76.1h0M787.9 238.1h0M788.2 237.1h0M778.1 239.8h0M489.1 432.2h0M473.1 434.4h0M480.4 427.7h0M798.8 225.5h0M792.1 227.4h0M797.4 234.3h0M773.6 522.1h0M780.3 524.1h0M770.7 512.8h0M798.5 322.9h0M799.2 316h0M807.2 322h0M513.1 165.9h0M524.1 164.3h0M518 162.3h0M795.8 329.5h0M803.1 322.2h0M805.6 334.7h0M933.7 266.1h0M933.3 252.9h0M927.7 255.1h0M635.7 291.3h0M645.8 290.9h0M650.6 304.9h0M696.4 277.7h0M708.2 277.8h0M703.2 277.8h0M661.6 258.3h0M660.1 262h0M658.2 253h0M981.5 154.7h0M980.3 148.2h0M982.9 152.8h0M491 461.6h0M489.3 477.3h0M485.5 464.2h0M572.1 476.4h0M566.1 482.9h0M561.3 478.9h0M700.7 347.5h0M700.8 352h0M698.5 357.5h0M791.4 423.3h0M786.5 424.6h0M789.5 423.4h0M570 211.3h0M565.3 216h0M573 207.7h0M986 215.3h0M981.6 205.6h0M980.8 210.9h0M794.3 524.1h0M791.4 522.7h0M785.9 532h0M593.9 339.6h0M597.6 346.8h0M595.8 344.6h0M577.4 482.4h0M573.8 482.2h0M568.2 493.5h0M786.6 458h0M785.2 464.4h0M800.5 456.7h0M569.4 110.5h0M566.2 104.3h0M574.1 98.6h0M629.5 253.7h0M618.1 247.1h0M618.7 253.4h0M499.8 566.3h0M500.5 563.1h0M513.5 562.1h0M725 311.5h0M726.5 311h0M727.4 312.5h0M1015.6 166.7h0M1017.4 151.6h0M1018.5 163.1h0M719.6 213.3h0M718.7 217.4h0M731.4 210.3h0M494.9 114.4h0M500.5 115.7h0M504.4 115.9h0M824.8 248.1h0M818.2 245.2h0M822.8 238.8h0M623 465h0M620.8 468.1h0M619.6 477.2h0M951.5 164.1h0M946.1 149.2h0M940 148.8h0M471.9 229h0M469.7 216.5h0M471.2 227.2h0M841.5 199.9h0M834 201.4h0M835 192.4h0M569.4 309.1h0M571.1 301.2h0M555.6 309.4h0M822 351.7h0M821.9 351.3h0M821.1 359.6h0M814.7 255.7h0M806.6 247.1h0M806.8 238.1h0M492.3 225.2h0M502.2 225.9h0M488.9 220.9h0M531.7 341.2h0M537.5 333.2h0M537.9 340.6h0M615.4 364.5h0M613.1 359.7h0M614.5 356.3h0M986.8 206h0M982.5 200.4h0M979.1 200.3h0M484.1 438.6h0M476.6 437.9h0M472.4 450h0M701.2 340.8h0M709.1 330.7h0M700.6 339.6h0M881.1 293h0M885.5 288.5h0M875.3 290.6h0M526.5 105.2h0M531.3 105.6h0M520.7 113.3h0M636.7 474.3h0M642.2 462.2h0M642.1 473.9h0M784.8 429.4h0M790.7 415.4h0M781.2 428.8h0M630.2 227.4h0M633.6 234.5h0M621.6 229.2h0M671.3 233.9h0M661.9 234.3h0M673.5 231.7h0M649.1 258h0M653.6 246h0M647.1 258h0M604.8 211.5h0M604.8 220.4h0M608.3 225h0M685.7 232.1h0M681 224.1h0M673 233.5h0M596.8 194.7h0M589.4 200.7h0M601.5 201.2h0M654 191.1h0M656.5 196.3h0M640.2 186.4h0M669.7 245.7h0M665.6 259.5h0M667.8 248.5h0M638.4 183.3h0M635.1 175.4h0M649.4 188.4h0M644.1 183h0M655.6 186.5h0M643.1 184h0M667.5 204.6h0M670.2 196.3h0M676.2 195.9h0M673.5 238.1h0M675.5 235.6h0M689.3 241.4h0M727.9 229.8h0M725.1 224.3h0M730.9 232.5h0M706.3 237.9h0M708 226.7h0M713 231.5h0M631.6 241.7h0M620.8 244.3h0M623 245.4h0M613.7 457.6h0M613.5 464.1h0M624.8 460h0M642.2 217.5h0M648.4 213h0M646.7 230.5h0M653.9 244.4h0M653.7 249.2h0M651.2 241.5h0M653.2 217.4h0M667.6 213.4h0M667.4 209.4h0M680.2 202.6h0M674.4 205.6h0M671 209h0M702.9 213.5h0M709.7 216.3h0M705 217.3h0M722.9 153.9h0M730.7 162.8h0M717.2 156h0M800.5 405.1h0M804.6 408.2h0M808.1 401.1h0M791 239.9h0M785.8 244.6h0M798.5 235.5h0M1032.8 101.4h0M1039.6 91.7h0M1034.8 90.6h0M569.1 199.5h0M568.1 194.3h0M565.8 202.5h0M850.2 273.8h0M849.4 276.2h0M834.9 278.8h0M545.7 241.4h0M535 229h0M538.1 232.6h0M579.7 133.3h0M588 127.4h0M576.5 134.5h0M732.3 413h0M742.1 406.3h0M727.7 421.7h0M594.9 194.9h0M586.3 184.5h0M599.9 185.1h0M585.4 416.6h0M588.9 410.7h0M586 410.4h0M794.3 267.1h0M787 257.5h0M793.7 272.6h0M765.9 499.9h0M761.4 497.5h0M756.5 495.7h0M804.9 397.8h0M803.2 402.4h0M814 394.8h0M929.9 250.7h0M924.5 246.8h0M926.2 243.3h0M961.1 208.9h0M945 213.3h0M948.3 204.9h0M515.8 244.8h0M512.9 249h0M520.3 250.8h0M776.5 379.8h0M760 389.3h0M773.2 390.7h0M722.1 276.1h0M730.9 280.4h0M729.6 278.6h0M696 462.8h0M696.3 470.2h0M698.8 472.6h0M669.5 348.5h0M666 345.9h0M661.3 338.2h0M530.1 464.9h0M531.3 469.4h0M521.6 472.7h0M687.4 259.1h0M693.5 269.1h0M690.9 264.7h0M549.3 338.9h0M544 324.1h0M541.3 325h0M775.9 500.8h0M772.9 504.7h0M773.4 511.7h0M888.4 302.4h0M892.3 300.4h0M890.4 292.8h0M785.6 225.7h0M788.9 232.8h0M795 221h0M645.1 321h0M644.8 322.4h0M647.5 325.3h0M879.5 284.4h0M879.8 286.7h0M866.3 288.9h0M677.7 217.5h0M684.8 219.7h0M677.5 226h0M734.7 380h0M730.7 377.2h0M726.4 375.1h0M503.3 384.1h0M500.4 375.3h0M493 371.4h0M848.5 309.3h0M843.1 306.7h0M853.5 300.6h0M821 424.1h0M811 418.2h0M813 424.1h0M580 266h0M578.6 261.5h0M575.2 275.4h0M614.8 183.5h0M613.3 173.5h0M605.3 174.6h0M613.1 213.9h0M605.8 211.5h0M606.8 222h0M559.7 215.6h0M557.8 211.8h0M546.5 219.7h0M656 325.1h0M654.1 339.6h0M651.5 333h0M743.4 107.4h0M736.7 109.5h0M746.1 120.1h0M857.9 292h0M857.8 299.4h0M850.5 303.6h0M806.9 282.3h0M816 279h0M811.3 287.8h0M630 64.2h0M625.3 76.6h0M634.3 68.8h0M744.7 445.8h0M748.1 433.9h0M750.3 449.8h0M829.6 409.2h0M827 411h0M825.6 397.4h0M637.9 389.8h0M632.7 398h0M639.6 387.4h0M515.6 68.6h0M520.9 75.1h0M514.2 63.2h0M538.6 201.5h0M537 194.9h0M546.2 196.1h0M679.3 348.6h0M689.8 333.3h0M684.9 346h0M792.7 223.8h0M789.9 228.2h0M780 228.9h0M672.3 158h0M660.1 153.4h0M665 156.1h0M487 365.5h0M489.6 373.1h0M474.1 368.3h0M535.7 466.7h0M520.9 469.7h0M525.1 474.8h0M798.7 371.4h0M811.7 372.2h0M796.8 368.1h0M772.3 525.8h0M779.5 530.2h0M776.6 518.1h0M776.4 269.4h0M769.1 267.6h0M769.3 266.1h0M674.5 256.2h0M671.7 269.8h0M668.1 260.4h0M674.4 79.9h0M670.4 82.3h0M676 93.5h0M624.8 164.5h0M620.5 164.8h0M622.2 172.3h0M586 238.5h0M572.1 249.7h0M575.5 246.4h0M956.4 180.6h0M956.7 186.9h0M960.3 176.8h0M510.5 274.7h0M496.4 284.4h0M512.3 281.4h0M535.8 323.1h0M549.1 321.9h0M537.8 327.2h0M522.4 454.4h0M507.5 455.7h0M513.5 457.2h0M811.4 525.6h0M810.6 517.4h0M812.6 519.2h0M477.8 443.3h0M470 451.5h0M480.7 447.4h0M973.1 181.3h0M965.7 184.4h0M975.6 188h0M592.2 107h0M587.2 94.7h0M601.1 99.9h0M470.1 510.3h0M466.9 523.2h0M479.9 521.6h0M600 291.7h0M593.3 289.2h0M599.3 300.2h0M838.8 397h0M843.9 396.3h0M850.2 391.5h0M882.8 345.7h0M884.7 348.6h0M893.9 348.4h0M631.8 302.8h0M639.1 295.8h0M638.2 292.6h0M741.5 256.8h0M735.3 254h0M732.5 259.2h0M510 358.4h0M525.5 355.4h0M526.1 356.6h0M996.4 222.4h0M999.7 232.9h0M993.1 221.6h0M835.6 407.6h0M845.9 400.5h0M845 405.7h0M795.4 477.6h0M800.9 474.8h0M788.8 477.5h0M510.2 524.8h0M513.9 531.4h0M507.9 538.6h0M530.2 444.6h0M519.8 444.4h0M534.1 436h0M607.6 423.6h0M601.3 412h0M613.4 423h0M799.4 311.3h0M792.8 306.7h0M792.9 304.4h0M665 379.4h0M661.4 371h0M660.6 388.4h0M727.8 435.8h0M724.2 432.6h0M734.5 432h0M474.5 378.2h0M484.7 378.1h0M473.2 368.7h0M562.1 243.7h0M567.2 248h0M568.7 236.4h0M729.2 364.1h0M725.4 353h0M720.4 363.3h0M725.7 416.5h0M721.9 407.7h0M723.1 408.5h0M631.7 244.3h0M643.4 252h0M634.2 259.6h0M762.8 493.3h0M766.9 488.6h0M763.2 490.1h0M840.7 375.7h0M840.6 379h0M856.4 371.8h0M805.8 405h0M794 397.8h0M794.1 402.1h0M522 354.2h0M515.7 357.3h0M528.3 358.5h0M670.1 302.8h0M673.3 314.9h0M669.2 315.1h0M730.7 292h0M738.9 291.3h0M741 296.1h0M605 342.7h0M610.7 353h0M620.2 345.6h0M722.9 140.9h0M719 128.8h0M723.8 143.9h0M639.4 141.9h0M654.2 153.5h0M642.6 153.5h0M581.5 484h0M592 486.6h0M591.1 478.7h0M636.5 223.4h0M630.3 213.5h0M627.1 216.5h0M788 444.4h0M784.4 430.5h0M782.8 436.4h0M841.9 346.4h0M844 337.9h0M851.8 334.9h0M536 480.6h0M551.5 471.6h0M536.1 474.7h0M739 462h0M749 456h0M745.9 455.3h0M881.2 252.8h0M885.2 259.2h0M872.5 268.9h0M768.2 284.4h0M765.3 278.6h0M767.2 275.6h0M513.9 286.1h0M517.9 288.3h0M518.5 287.1h0M896.6 223h0M895.2 216h0M882.7 214.8h0M726.2 390.7h0M736.5 384.7h0M725.8 392h0M521.8 185.3h0M527.6 181.6h0M538 170.2h0M834.5 206.4h0M830.7 207.9h0M829.7 192.9h0M635.6 116.8h0M634.8 120.6h0M634.2 121h0M867.6 197.6h0M868.6 199.4h0M870.1 187.8h0M549.6 165.5h0M553.2 158.7h0M555.3 165.9h0M495.7 53.9h0M483.8 49.5h0M492.5 46.4h0M750.3 413.2h0M750.5 406.6h0M746.9 412.7h0M848.8 203.3h0M841.1 194.2h0M842.5 190.8h0M736 131.8h0M726.1 131.8h0M735.8 140.1h0M762 190.6h0M756.1 198.8h0M755.4 200.5h0M757.8 206.5h0M768 198.6h0M760.2 204h0M793 499h0M803.3 493.1h0M803.6 504.1h0M517.7 429.9h0M514.5 427.8h0M514.8 427.4h0M837.7 345.8h0M826.6 349h0M835.6 337.6h0M987.4 190.6h0M975.6 191.8h0M985.5 178.7h0M748.5 270.8h0M736.9 274h0M740.4 263.8h0M773.3 439.1h0M758.8 427h0M771.6 422.7h0M626.6 214.9h0M634.5 213.6h0M632 202.6h0M689.1 384h0M693.3 393.7h0M695.2 386.5h0M695.9 290.9h0M692.9 293.1h0M693.2 294.7h0M940.4 197.9h0M940 191.1h0M947.9 202.5h0M660.7 269h0M663.9 268h0M658.3 271h0M799.9 498.6h0M793.6 511.7h0M797.7 507.3h0M607.4 179.4h0M618.4 178.2h0M616.2 179h0M566.1 392.3h0M555.9 399.4h0M554.4 399.8h0M769.7 212.7h0M774.5 211.3h0M762.1 206.4h0M741.3 231.8h0M740.2 232.5h0M744.9 235.5h0M510.2 429.3h0M514.3 424.4h0M514.2 419.3h0M718.5 461.1h0M718.8 448.8h0M714.6 450.6h0M660.8 219.8h0M662.5 211.8h0M670 210.7h0M828.1 201.2h0M824.6 200.6h0M829.5 198.7h0M754.5 356.2h0M752.1 350.2h0M750.4 353.5h0M607.4 100.1h0M598.8 98.9h0M603.1 91h0M642.8 182.5h0M649.5 186.1h0M636.7 176.6h0M757.4 249.6h0M768.7 251.8h0M760 252h0M589.8 297h0M580 295.4h0M588.2 292h0M876.1 282.5h0M866.7 275.3h0M869.4 276.9h0M790.7 404.9h0M781.3 406.8h0M779.7 411h0M732.5 392.4h0M739.9 390.2h0M728.2 381.4h0M539.3 218.9h0M538.2 224.3h0M537.3 211.7h0M687.8 260.6h0M684.9 255.3h0M690.8 253.6h0M910 284.8h0M906.4 280.5h0M900.4 278h0M680.2 226.8h0M676.2 211.1h0M674.8 213.5h0M854.5 384.7h0M853 386.7h0M857.3 369.5h0M774.5 450.8h0M772.4 446.2h0M760.3 457.9h0M580.1 462.8h0M574.5 465.3h0M589.1 458.5h0M567 234.3h0M581.5 228.2h0M582.7 232.9h0M859.9 209.8h0M857.7 197h0M858 210.1h0M533.4 93.4h0M530.1 88.3h0M535.2 92.5h0M573.3 429h0M573.3 431.4h0M582.1 430.3h0M516.9 412.3h0M514.3 413.3h0M513 418.5h0M697.6 471h0M705.4 477.2h0M708 472.6h0M755.3 221.4h0M758.8 203.6h0M757 218.8h0M526.3 408.4h0M532.9 396.7h0M525.8 409h0M491 384.9h0M506.8 394.6h0M498.7 389h0M839.7 229.8h0M835.7 231.2h0M844.1 235.7h0M742.6 324.9h0M735.2 321.7h0M733.3 318.3h0M490.2 67.7h0M488.8 69h0M483 71h0M635 219.2h0M638.3 227.6h0M628.2 235.9h0M541.3 489.8h0M549 489.2h0M546.2 486.6h0M775 294.7h0M772.6 289.6h0M766.3 296.6h0M644.6 333.4h0M645.1 346.7h0M650.7 337.5h0M943.7 239h0M930.7 230.8h0M938.5 241h0M528.9 151.3h0M534.6 148.8h0M526.5 138.8h0M818.6 416.9h0M818 413.2h0M812.4 417.3h0M899.7 255.7h0M908.7 258.7h0M908.8 264.2h0M659.2 357h0M659.4 357.8h0M643.9 352.9h0M606.7 93.8h0M605.6 90.4h0M596.3 106h0M489.4 420.1h0M478.8 410.4h0M486.2 417.5h0M477.8 254.3h0M486.8 252.6h0M487.7 247.7h0M613.7 145.2h0M612.4 147.8h0M615.9 153.7h0M569.2 208.3h0M580.3 202.9h0M579.9 207.3h0M889 345.5h0M884.7 351.7h0M894.1 343.1h0M888.8 351.1h0M878 362.6h0M886.1 355.7h0M711.8 457.6h0M716.6 459.7h0M713.6 455h0M957.2 193.2h0M967.2 200h0M954.5 193.3h0M692.3 414.6h0M701.5 413.3h0M700.1 416.2h0M545.7 486.5h0M545.2 501.3h0M540.6 498.1h0M963.4 140.3h0M962 154.5h0M956.6 145.1h0M656.3 204.9h0M642.7 207.2h0M651.3 204.8h0M571.5 220.1h0M554.9 215.7h0M570.1 220.2h0M561.4 198.3h0M548 196.9h0M549.7 194.4h0M510.2 321.8h0M504.1 324.3h0M502.2 335h0M662.4 124.6h0M661.8 121.7h0M656.3 119.1h0M789.2 364.6h0M789.2 368.8h0M798.8 371.6h0M674.3 311h0M681.2 316.5h0M674.7 310.1h0M654.5 346.6h0M655.5 348.5h0M644.9 344.3h0M704.8 223.4h0M707.6 230.8h0M711.6 217.3h0M823.3 287.9h0M828.5 297.6h0M825.5 297.7h0M728.9 331.3h0M731.2 345.9h0M731.9 342.3h0M718.6 313.8h0M719 314h0M718.2 321.7h0M696.8 407.7h0M695 410.1h0M698.4 413.1h0M524.7 492.1h0M520.8 494.1h0M527.7 490.5h0M599.2 419h0M581.8 416.9h0M588 414.5h0M473.3 373.1h0M465.2 365.1h0M464.2 374h0M869.5 217.9h0M874.7 214.8h0M873.5 210.8h0M612.2 69.1h0M607.1 65.5h0M604.7 76.3h0M860.4 207.4h0M848.1 211.2h0M858.7 210.2h0M534.3 310.4h0M537 298.5h0M538.4 306.6h0M860.6 348.3h0M870.2 348.6h0M860.7 346.1h0M663.3 303.2h0M652.3 308.4h0M659.5 294.2h0M673.4 198.1h0M674.6 194.7h0M672 206.1h0M618.6 248.6h0M610.3 256.3h0M617.5 246.9h0M565.1 344h0M569.4 343.7h0M560.3 335.5h0M1055.3 154.2h0M1057 136.9h0M1044.8 150.8h0M521.2 309.8h0M522.4 321.3h0M517.4 317.5h0M814.3 384.6h0M800.2 379.8h0M805.8 382.7h0M818.5 213.9h0M819.8 221.1h0M823 217.3h0M480.9 481h0M486.8 493.3h0M472.1 489.5h0M727.6 103.1h0M726.5 111.2h0M729.8 116.1h0M690.5 128.7h0M688.6 133.8h0M695.3 133.2h0M600.6 457h0M606.7 459.3h0M596.3 454.2h0M888.6 292.6h0M883.6 300.4h0M881.7 297.3h0M549.8 176.2h0M562.8 186.8h0M564.7 180.9h0M672.8 187.2h0M673.7 181h0M681.5 183.3h0M862.6 366.1h0M859.4 360.1h0M866.7 358h0M529 128.5h0M532.4 129.6h0M517.5 130.7h0M479 441.5h0M479.4 426.5h0M492 434.1h0M724 449.7h0M730.7 444.6h0M732.9 452.4h0M805.3 497.3h0M795 504.7h0M797.2 506.4h0M596.9 85.4h0M593.8 79.1h0M592.6 86.9h0M553.8 259.2h0M547.6 264.8h0M555 265.7h0M693.6 313.7h0M686.8 309.5h0M682.4 318.6h0M897.3 282.7h0M899.8 267.5h0M888.1 283.1h0M980.9 223.4h0M986.9 231.3h0M973.3 225.6h0M511.4 311.5h0M510.5 317.1h0M505.1 301.5h0M869.3 373.3h0M866.2 375.6h0M879.2 383.6h0M916.7 242.7h0M928.3 254.1h0M921.9 248.3h0M809.7 360.8h0M808.1 362.1h0M812.7 357.2h0M698.5 261h0M701.8 272.4h0M702.8 273.5h0M786 586.3h0M796.5 594.6h0M788.9 586.4h0M637.2 241.1h0M637.9 239.7h0M633.9 236.8h0M773 429.6h0M759.4 433.7h0M757.4 440h0M568.6 269.9h0M570.1 267.3h0M571.5 267.9h0M526.1 399.3h0M525.1 416.8h0M533.5 402.1h0M482.6 393.6h0M473.5 394.2h0M477 387.1h0M543.2 376.3h0M538.9 375.5h0M541.5 380.5h0M531.2 362.2h0M528.9 369.2h0M539.7 363.6h0M559.7 442h0M556.1 431.7h0M548.9 446h0M558.1 453.6h0M557.4 448h0M573.6 439h0M506 430.5h0M513.7 440.2h0M514.8 434.3h0M511.2 354.9h0M512.3 356.4h0M510.8 345.5h0M573.4 430.8h0M581.4 433.6h0M581.8 424.2h0M504.6 362.2h0M503.9 363.4h0M489.9 361.6h0M509 361.4h0M497.3 372.7h0M507.8 360.6h0M511.1 390.5h0M511.4 386.3h0M509.8 381.2h0M518.8 401.4h0M524.2 405.7h0M518.3 399.3h0M504.5 401.5h0M506.8 392.8h0M499.6 389.6h0M481.2 363.7h0M486.4 372.7h0M481.4 364.7h0M791.7 538.6h0M792.1 532.1h0M789.1 536.2h0M518.1 410.8h0M512.7 409.4h0M513.6 414.6h0M525 430.8h0M528 433.4h0M517 432.3h0M537.8 443.1h0M539.2 436.6h0M537.5 439.9h0M808.1 545.4h0M819.7 557.3h0M810.1 557.3h0M518.3 426.7h0M532.9 431.2h0M528.7 419.6h0M549.4 419.6h0M543.2 420.2h0M540.2 429.8h0M542.6 425.2h0M547.7 417.9h0M539 408.1h0M504.2 429.9h0M497.6 440.5h0M494.1 440.8h0M529 397.1h0M526.3 400.2h0M529.3 397.3h0M532.4 375h0M530.4 368.3h0M526.5 375.8h0M551.1 377.5h0M556.3 377.7h0M549.7 373.2h0M593.7 430.1h0M598.1 436.2h0M602.7 434h0M589.4 435h0M596.6 440.8h0M597.1 434.5h0M614.4 443.2h0M606.6 432.1h0M618.5 443.5h0M486.3 364.5h0M487.8 374.3h0M489.1 369.5h0M527.6 382.3h0M529.2 368.8h0M531.7 375.6h0M630.3 317.7h0M640.3 311.2h0M640.6 313.6h0M522.3 85.4h0M512.7 102.9h0M510.8 102.6h0M845.5 380.4h0M833.9 371.7h0M832.5 384.6h0M586 157.9h0M583.2 162h0M581.4 157.7h0M513.7 257.3h0M503.4 257.4h0M517.9 257.8h0M864.9 327.2h0M867.9 316.2h0M858.2 318.5h0M575.4 145.5h0M577.5 143.3h0M570.2 146.7h0M632.3 380.3h0M619.6 386h0M618.5 372.2h0M858.5 286.7h0M858.7 282h0M874.6 277.6h0M486.4 391.1h0M475.1 400.6h0M486.3 384.5h0M807.2 397.6h0M801.7 390.7h0M801.7 395.2h0M761.3 238.3h0M746.4 239.7h0M752.3 246.7h0M655.4 212.6h0M651.4 211.3h0M640.7 216.9h0M532.4 239.1h0M527 232.2h0M516.6 233.8h0M896.3 358.4h0M889.2 361.9h0M892 357h0M737.5 405.5h0M730.4 410.4h0M744.8 414.8h0M613.6 239.6h0M603 249.1h0M599.3 246.9h0M531.8 117.7h0M521.7 107.4h0M534.6 119h0M734.1 299.8h0M739.9 314.7h0M739.6 306.7h0M750.1 293.6h0M750.8 306.1h0M747.6 305.9h0M844.4 239h0M852.5 245.5h0M850 249.1h0M968.8 208.2h0M972.1 195.2h0M968.4 202.7h0M818 237.8h0M815.7 228.6h0M823.4 240.8h0M872.3 349h0M871.7 340.9h0M879.1 342.9h0M699.6 263.9h0M700.9 266.7h0M695.3 257.5h0M662 181.9h0M672.7 180.9h0M663.9 177.8h0M822.1 568.1h0M822.6 563.1h0M822.3 561.1h0M825.1 402.1h0M825.3 389.5h0M830.5 388.6h0M589.4 358.3h0M587.3 356.8h0M598.9 341.4h0M874.1 288h0M869.4 283.5h0M882.2 286.2h0M787.4 559.7h0M784.5 549.9h0M789.4 547.7h0M505.6 245.1h0M504.1 253.2h0M498.5 251h0M534.6 259.1h0M537.4 268.2h0M538.3 265.2h0M756.6 190.9h0M748.2 185.2h0M745.4 186.2h0M664.8 296h0M659.9 288h0M659.6 294.3h0M568.5 197.6h0M574.2 201.1h0M559.2 209.1h0M536.3 281h0M532.7 281.4h0M546.5 290.6h0M947 239.3h0M957.4 244.1h0M952 236.6h0M807.6 527.6h0M819.9 541.9h0M822 541.9h0M784.4 369.7h0M784.5 361.8h0M783 366.2h0M945.8 252.9h0M941.9 245.1h0M935.8 255.8h0M707.9 302.7h0M696.5 307.9h0M703.9 306.9h0M564.6 180h0M559 185.4h0M570.2 182h0M849.1 296.6h0M854 298.9h0M852.5 282h0M515.5 170.7h0M519.5 179.5h0M525.4 176.1h0M531.3 74.3h0M546.2 70.5h0M530.4 75.8h0M556.9 311.7h0M552.6 321h0M558.9 312.7h0M565.3 373h0M568.2 369.7h0M557.5 365.3h0M950.9 153.7h0M944.6 150.5h0M951.7 136.3h0M617.8 257h0M619.2 255.9h0M614.9 255.7h0M600.8 288.9h0M598.2 291.1h0M605 283.2h0M500 432.3h0M502.8 430.2h0M504.9 423.2h0M737.7 404.4h0M744.9 411.5h0M746.3 396.3h0M1036.2 77.4h0M1026.4 76.7h0M1024.2 86.4h0M847.6 330.4h0M848.3 318.4h0M855.5 332.9h0M731.7 235.1h0M735.8 243.5h0M729.9 238.5h0M662.4 295.4h0M678.1 302.6h0M672.5 300.8h0M922.9 235.8h0M916.4 244.8h0M920.7 234.4h0M506.5 432.5h0M501.5 435.7h0M511.2 427.8h0M824.6 557.4h0M823.3 570.5h0M813.5 567.1h0M575.4 179.6h0M572.3 184.4h0M572.4 187.4h0M645.6 378.7h0M649.6 371.1h0M653.8 369.6h0M694.8 382.7h0M695.5 370.5h0M693.8 376.7h0M566.3 349.6h0M567.6 355.1h0M557.9 357h0M752.8 453.2h0M763.9 456h0M754.3 444.2h0M750.4 228.1h0M751.7 245.1h0M752.2 236.1h0M892.7 179.9h0M892.2 188.6h0M892.3 193.6h0M714.1 402.6h0M703.9 404h0M706.1 405.8h0M511.8 52.8h0M502.8 61.2h0M512.6 62h0M867.2 280.7h0M870.4 279.3h0M869.5 286.9h0M778.2 287.6h0M773 297.4h0M784.5 290.6h0M473.9 302.3h0M483.5 310.6h0M480.8 310.3h0M635.8 237.3h0M631.8 244.8h0M639.9 250.5h0M942.9 207.2h0M935.8 208.3h0M941.7 206.8h0M542.7 344.8h0M538.1 349.5h0M546.3 356.9h0M565.8 225.9h0M554.5 222.1h0M556.1 222.3h0M776.3 347.6h0M775.2 355.7h0M763.5 343.3h0M958.2 206.7h0M956 207.1h0M970 208.7h0M740.7 161.8h0M742.6 161.8h0M737.1 174.9h0M778.1 335h0M782.9 323.8h0M774.2 326.1h0M906 289.1h0M908.3 298h0M906.9 303.1h0M756.5 284.6h0M752.8 294.5h0M757.6 287.1h0M721.7 282.4h0M711 273.1h0M719.8 279.7h0M510 66h0M513.5 73.6h0M516.6 67.7h0M934.3 180.8h0M934 187.8h0M942.5 190.6h0M557.3 241.5h0M568.1 238.1h0M562.5 230.1h0M830.4 409.1h0M835.7 418.3h0M824.3 421.2h0M559.2 427.7h0M547.6 442.4h0M549.3 431.8h0M588.5 222.9h0M590.8 221.8h0M583.7 226.4h0M705.1 253.8h0M705 252.8h0M706.8 251.9h0M695 361.3h0M687.9 363.3h0M694.4 365.7h0M546.8 135.7h0M546 126.2h0M540.8 128.4h0M783.2 529.7h0M790.3 529.6h0M796.9 532.3h0M822.7 232h0M815.4 226h0M813.6 224.9h0M755.9 357.7h0M748.3 353.2h0M763.1 355.7h0M518.3 426.8h0M509 420.2h0M514.8 428h0M514 400.6h0M505.9 409.4h0M514.1 411.3h0M629.4 416.2h0M626.3 409.4h0M614.4 406.4h0M728.7 151.6h0M739.2 150.5h0M735.9 148.5h0M553 494.7h0M556.8 498h0M544.8 501.7h0M707.2 340.6h0M712.1 337.8h0M718.8 325.5h0M572.1 299.8h0M580.4 296.7h0M583.4 295.5h0M553.7 345.9h0M552.1 334.5h0M559.2 342.8h0M769.8 386.5h0M778 374h0M784.9 389.2h0M647.2 406.7h0M645.3 400.6h0M651.2 408.9h0M779.6 483.2h0M778.6 494.9h0M770.8 496.8h0M507.2 362.3h0M505.4 365h0M508.1 359.2h0M967 237.9h0M971.4 239.3h0M965.3 239.7h0M571.4 276.7h0M555.6 284.7h0M558.3 277.7h0M521.7 427.2h0M514.6 425.2h0M509.1 421.7h0M660.9 468.2h0M661.9 484.3h0M651.3 474.6h0M579.3 84h0M583.1 90.1h0M586.4 88.9h0M775.7 256.1h0M762.5 253.9h0M769.1 241h0M675.8 152.3h0M678.7 159.7h0M673.8 164h0M773.6 402.3h0M781.4 387.1h0M787.1 402.4h0M654.3 299.5h0M651.9 284.2h0M659.9 286.8h0M498 247.3h0M500.5 245.8h0M485.5 234.5h0M504.8 460.7h0M501.1 465.5h0M503.2 454.1h0M727.2 197.6h0M724.1 192h0M713.3 199.2h0M721.8 222.3h0M716 226.7h0M711.9 231.8h0M816.9 358.6h0M820.1 358.1h0M812.8 346.1h0M780.5 381.7h0M784 377.5h0M783.6 380.1h0M669 403.2h0M668.6 410.6h0M672.3 415.5h0M509.2 475.2h0M505.9 465.9h0M510.5 467.1h0M750.3 395.1h0M750.1 392.3h0M744.8 396.3h0M853.9 195.9h0M850.7 186.6h0M857.2 187.2h0M530.7 412.5h0M538.8 415.5h0M524.8 413.4h0M631.7 402.2h0M639.9 416.6h0M633.5 407.9h0M500.5 106.3h0M506.4 114.4h0M511.3 118h0M848.1 376.3h0M851.8 364.1h0M862.4 371.7h0M785.2 392h0M785.5 383.6h0M780.1 387.4h0M678.4 225.1h0M685.5 231.4h0M695.1 225.6h0M697 459.5h0M699.2 451.7h0M697.2 451.1h0M691.6 376.2h0M700.5 366.1h0M695.3 381.8h0M540.8 349.3h0M543.5 347.4h0M539.8 340h0M551.1 377.5h0M536.4 387.7h0M552.3 376.2h0M625 288h0M622 270.9h0M627.6 275.7h0M583.9 310.5h0M593 307h0M599.8 320.4h0M905.1 197.7h0M902.8 201.7h0M901.7 191.5h0M586.5 371.7h0M576.1 371.7h0M582.8 371.2h0M607.1 283.6h0M604.1 287.2h0M604.5 283.9h0M515.7 369.1h0M520.5 369h0M514.1 370.5h0M534.9 332h0M536.3 345.7h0M538.9 345.1h0M537.5 356.1h0M540.2 345.5h0M536.8 346.9h0M599.4 298.4h0M589 309.8h0M596.5 306.1h0M644.6 324.8h0M628.5 314.5h0M634.2 315.5h0M534.2 353.4h0M533 348.4h0M528.4 346h0M665.2 318h0M651.4 311.6h0M662.2 312.5h0M513.4 347.5h0M512.2 345.5h0M522.3 350.2h0M681.2 396.7h0M669.8 389.2h0M679.4 390.9h0M611.1 279h0M615.2 276.1h0M610.7 276.7h0M711 227.3h0M724.7 213.3h0M711.1 214.2h0M735 282.6h0M731.5 280.1h0M738.3 271.3h0M656.6 456.6h0M648.5 462.5h0M661.2 466.1h0M471.2 378.6h0M478.5 383.9h0M477 374.8h0M493.1 532.4h0M479.8 540.2h0M485.7 537.1h0M607 368.4h0M606.4 366h0M605.4 362.9h0M569 148h0M561 145.2h0M568.8 154.8h0M520.8 41.7h0M510 40.5h0M509.5 49.8h0M631.3 482.3h0M630.7 475.5h0M625 476.1h0M481.9 259.8h0M480.3 262.4h0M480.2 248.3h0M726 371.8h0M736.7 380.7h0M742 382.1h0M471.8 498.7h0M471.6 499.6h0M472.6 500.4h0M628.3 391.6h0M621.8 380.3h0M634.4 389.4h0M856 300.1h0M869.2 299.9h0M860.1 300.8h0M616.2 448.4h0M613.5 459.3h0M619.3 456.6h0M957.1 229h0M949.6 220.7h0M946.3 216.6h0M708.4 266.8h0M708.8 267.1h0M717.6 267.3h0M866.8 271.3h0M867 267.5h0M852.9 273.1h0M716.2 252.6h0M726.5 245.9h0M727.2 247.1h0M547.7 390.9h0M536.4 393h0M536.7 403.3h0M585.5 86h0M595.4 88.8h0M580.9 72.7h0M966.5 154.4h0M965.2 152.3h0M971.9 163.5h0M572.3 295.4h0M577.5 293h0M566.5 281.5h0M496.7 255.3h0M507 261h0M498.2 263h0M650.1 354.9h0M647.7 355.9h0M646.3 356.6h0M639.2 427.9h0M629.5 427.9h0M633.8 437.5h0M793.3 363.8h0M800.1 358.3h0M795.9 359.6h0M812 262.8h0M807.2 263.5h0M812 260.4h0M814 342.1h0M812 330.5h0M797.9 344.1h0M855.1 266.7h0M842.4 258.4h0M843.7 257.3h0M692.3 311.3h0M699 297.5h0M699 310h0M546.5 219.1h0M549 225h0M548.4 227h0M837.6 345.4h0M850 350.6h0M840.4 344.4h0M758.9 280.9h0M749.1 290.4h0M755 277.1h0M774.3 461.2h0M777.9 471.1h0M772.2 457.3h0M500.5 150.6h0M498.6 154.9h0M485.5 154.8h0M578.5 396.5h0M587.1 397.3h0M586.4 394.7h0M537.7 493.3h0M543.1 485.5h0M553.7 499.2h0M936.4 234.7h0M936.6 239.3h0M936.2 232.1h0M589.9 203.6h0M577.6 204.7h0M589.5 205.9h0M768.5 406.3h0M772.9 416.9h0M780.9 405h0M516.1 422.7h0M526 435.5h0M529.9 431.1h0M495.5 564.5h0M498.7 554.6h0M503.3 564.5h0M576.9 348.1h0M577.2 345.3h0M588.8 348.5h0M517.7 298.9h0M522.6 302.7h0M514.3 288.8h0M656 485.7h0M642.6 473.7h0M642.2 477.5h0M666.2 315.3h0M665.3 308.2h0M664.7 317.5h0M900.6 377.6h0M894.1 376.9h0M901 366.4h0M496.8 255.5h0M493.8 244h0M485.3 258.7h0M827.6 319.1h0M815.9 307h0M815.8 320.1h0M707.5 380.6h0M690 383.3h0M690.5 379.7h0M732.8 160.8h0M730.8 155h0M727.5 164.8h0M949.9 242h0M965.2 248.5h0M959.1 234.6h0M779.8 299.7h0M779.1 294.5h0M777.4 306.7h0M774.6 308.8h0M776.7 305.9h0M769.8 304.3h0M684.1 274.5h0M693.8 272.8h0M696.7 274.1h0M1042.8 109.3h0M1042.3 116.5h0M1044 108.5h0M624.5 490.4h0M637.4 497.7h0M627.4 490.9h0M495.5 309.8h0M502.5 315.6h0M494.2 312.4h0M687.1 332.2h0M684.8 336.6h0M691.7 337.5h0M946.4 239.7h0M948.2 228.7h0M954.6 226.4h0M812.4 384.5h0M822.9 395.3h0M816.3 386.1h0M810.4 572.1h0M808.3 561.4h0M822 568.1h0M942.5 237.2h0M955.6 248h0M942.1 247.2h0M807.7 435.7h0M810.8 433.8h0M805.9 435.5h0M664.2 189.4h0M672.7 190.2h0M668 192.1h0M999.5 219.4h0M997.2 228.5h0M994.8 220.1h0M495.7 493h0M507.2 492h0M493.9 488.5h0M617.8 124h0M612.1 114.7h0M618.1 113.8h0M467.3 298.4h0M471.8 291.9h0M475.8 285.7h0M833.7 396.3h0M830.2 398h0M834.2 395.8h0M670 360.2h0M666 354.2h0M668.1 357.7h0M896.5 234.7h0M889.4 241.7h0M886.2 240.3h0M609.8 474.8h0M616.5 467.3h0M620.7 469.2h0M812.3 219.5h0M813.8 228h0M813.8 229.5h0M681.3 314.9h0M677.7 329.1h0M678.6 316.5h0M740.7 262.7h0M750.4 259.3h0M741.8 260.5h0M799.2 326.2h0M799.2 313h0M795.7 316.9h0M792.6 284h0M794 286.3h0M780 284h0M749.9 266.5h0M742.9 269.8h0M742.6 267.7h0M731.9 264.7h0M731.6 260h0M738.4 266.5h0M758.5 283.8h0M764.9 282.8h0M759 277.4h0M801 329.2h0M796.2 322.5h0M785.3 326.9h0M748.7 305.5h0M763.1 309.5h0M762.9 302.9h0M729.1 283h0M724.9 276.6h0M726.7 279.3h0M755.4 342.1h0M760.3 329.8h0M753 339.3h0M744.8 318.9h0M749 322.1h0M747.7 322.1h0M781.5 252h0M782.3 255.2h0M780.5 252.4h0M702 300.7h0M697 293.7h0M703.1 300.7h0M767.3 289.9h0M777.8 296.9h0M773.5 286h0M749.9 313.7h0M753 315.1h0M743.1 308.6h0M759.2 293h0M760.3 286.4h0M772 287.6h0M634.7 262.4h0M619.6 268.1h0M627.3 270.3h0M757.2 271.5h0M753.7 285.4h0M751.2 273.7h0M728 283.6h0M733.3 288.2h0M735.6 291.1h0M738.8 279.5h0M747.5 277.1h0M748.9 275.5h0M751 283.9h0M739.5 290.9h0M740.2 293.6h0M760 262.1h0M755.8 263.4h0M752.8 269.8h0M569.4 245.9h0M573.8 239.5h0M583.1 235.8h0M709.9 254.8h0M706.9 239.6h0M701.6 254h0M765.1 264h0M752.4 266.3h0M752.3 265.6h0M706.6 292.2h0M709.3 302.2h0M713.8 298.7h0M783.3 280.7h0M779.9 263.7h0M787.9 276.2h0M666.4 251.3h0M673.8 238.6h0M674.4 244h0M696.3 316.6h0M704.5 308.8h0M709.1 307.9h0M751.5 241.9h0M758.2 247.1h0M756.7 253.8h0M866.3 287.5h0M866.6 290h0M858.6 283.2h0M845 188.9h0M831.9 196.1h0M836.4 186.9h0M539 489.6h0M538.7 493.4h0M550 491.6h0M547.1 251.7h0M550.5 254.1h0M556.2 250.1h0M513.6 315.7h0M509.2 314.7h0M502.8 320.8h0M836.3 242.9h0M831.6 243.8h0M839.2 246.9h0M632.8 410.7h0M630.8 406.3h0M632.8 417.3h0M530.8 335.5h0M536.4 333h0M531.3 332.5h0M593.8 443h0M586.7 456.4h0M580.5 449.7h0M576.7 205.4h0M576.1 205.1h0M579.4 199.4h0M691.9 226.1h0M676 233.5h0M683.7 229.8h0M599.8 198.2h0M603.7 207.8h0M609 210.7h0M777.5 400.5h0M764.4 410.6h0M770.1 397h0M954.9 229.2h0M964.7 222.8h0M959.6 217h0M633.8 265.1h0M640.5 262.3h0M643.2 262.7h0M683.6 238.1h0M676.8 242.1h0M679.6 246.5h0M569.2 222.4h0M573.1 231.3h0M584.5 228.7h0M508.6 463.6h0M504.1 453h0M510.7 467.9h0M900.3 268.3h0M891.1 266.7h0M903.2 276.3h0M859.3 397.2h0M859.5 391.7h0M855.1 397.4h0M799.6 553.9h0M795.5 557.1h0M799.7 555.9h0M726.2 290.3h0M721.1 297.4h0M719 298.9h0M683 117.5h0M676.4 124h0M673.1 115.3h0M705.1 262h0M704.8 265.9h0M718.5 266.3h0M700.6 262.9h0M714.6 277.5h0M714.4 269.1h0M571.6 42.5h0M581.8 59.1h0M583.2 51.8h0M820.6 354.5h0M807.6 360.2h0M823.4 345.9h0M742.4 315.2h0M745.6 301.2h0M753 315h0M614.2 235.1h0M605.6 219.7h0M607.8 218.8h0M796.7 369h0M802.5 375.2h0M806 359.7h0M879.7 241.8h0M869.6 234.8h0M868.1 232.3h0M594.9 260.4h0M592 256.1h0M597.6 262h0M722.4 214.7h0M715.3 217.3h0M725 225.2h0M799.9 519.5h0M789.7 513.3h0M797.1 521.9h0M867.7 362h0M867.6 376.4h0M863.1 365h0M943.8 240.9h0M938.5 247.4h0M934.9 244.1h0M717.5 119.7h0M709.9 116.7h0M712.1 117.8h0M650 153.5h0M636.4 152.1h0M639.4 160.3h0M738.9 284.7h0M738.1 288.1h0M739.6 276.8h0M886.5 206.6h0M891.5 213h0M876.5 199.6h0M636.8 107h0M633.2 95.9h0M631 96.5h0M708.1 247.3h0M712.8 254.7h0M724.8 248.6h0M999.6 172.1h0M1010.8 164.1h0M998.4 178.3h0M543.1 492h0M533.5 485h0M544.2 495.3h0M546.4 298.8h0M550.2 288.5h0M553.2 284.2h0M979.4 171.3h0M975.4 165.2h0M981.4 161.8h0M647.7 440.5h0M646.2 442.3h0M635.7 433h0M560.2 465.6h0M572.3 462.1h0M565.4 460h0M740.8 351.5h0M747.8 345.8h0M746.1 349.2h0M796 477.1h0M794.2 478.1h0M796.5 475.6h0M622.1 361.4h0M621.4 359.8h0M627.6 359.6h0M596.6 292.7h0M607.6 298.9h0M609.7 288.9h0M794.2 446.2h0M780 452.2h0M779.4 445.6h0M931.8 250.7h0M933.6 242.1h0M929.6 256h0M691.3 401.7h0M685.2 398h0M681 394.8h0M831.5 221.5h0M828.4 209.9h0M841 213.7h0M681.3 479.6h0M677.9 471.7h0M676.8 485.4h0M522.1 93.3h0M527.7 102.1h0M524.4 104.9h0M760.2 328.3h0M766.9 319.7h0M756.2 317.1h0M554.1 327.8h0M557.3 337.7h0M564.4 330.9h0M581.9 118.2h0M582.7 119.8h0M581.5 123.6h0M482.6 101.3h0M481.1 97.2h0M489.8 93.9h0M845 373.5h0M851.8 357.6h0M844.4 366.8h0M675.7 224.1h0M677.1 232.2h0M674.8 233.2h0M803.5 363.5h0M802.9 378.2h0M806.1 363.5h0M933.4 243.7h0M927.7 247.1h0M923 252.4h0M935.1 249h0M934.2 256.8h0M931.2 249.1h0M541.5 452.9h0M549.8 445.4h0M545.4 437.8h0M841 262.4h0M843.3 263.3h0M833.5 266.4h0M666.7 200.7h0M657.8 204.4h0M660.6 204.1h0M715.4 299.4h0M723.6 301.1h0M711.6 297.4h0M484.2 364.7h0M483.6 363.6h0M484.5 353.2h0M698.2 349h0M695.9 359h0M704.6 344.6h0M746.8 220.1h0M748.4 219.3h0M749.1 217.1h0M565.3 172.2h0M562.4 170.5h0M564.6 176.3h0M792.7 430h0M797.1 436.3h0M799.8 423.6h0M743.7 227.4h0M736.3 226.7h0M732.7 222.2h0M870.6 286.8h0M869.8 285h0M859.6 285.7h0M512.6 249.8h0M502.5 251.5h0M512.8 251.2h0M813.2 425.9h0M826 422.4h0M813.2 422.4h0M743.7 381.5h0M735.3 382.4h0M737.1 392.2h0M538.7 252.9h0M539.6 260.3h0M533.9 258.6h0M650.6 305.7h0M648.4 308.9h0M645.8 321.2h0M639.1 258.9h0M638.7 263h0M628.1 273.4h0M926.1 176.5h0M927.1 183.7h0M921 182.5h0M601.1 304.4h0M596.6 303.6h0M594.4 316h0M753.2 318.9h0M758.9 331.2h0M759.9 328.3h0M768 311.9h0M769.7 314.5h0M768.2 319.6h0M727.2 341.2h0M729.7 327.9h0M720 342.3h0M606.9 312.4h0M603.6 314.9h0M619.1 324.1h0M548.9 285.3h0M553 293h0M559.8 293.2h0M616.3 307.4h0M619 299.9h0M618.1 294.4h0M522.7 233h0M524.1 230.4h0M540.2 232.3h0M548.1 263.2h0M550.8 253.7h0M548.6 255.7h0M541.1 268.7h0M540.8 276.6h0M554 274h0M500.1 280.9h0M492.5 284.6h0M496.2 283.1h0M749.5 301.8h0M741.2 294.1h0M745.6 297.4h0M555.2 335.2h0M551.4 330.7h0M542.4 336.6h0M541.7 296.4h0M547.3 310.8h0M541.4 311.5h0M505.4 287.6h0M509.6 297.2h0M513 296.7h0M548.8 291.3h0M545.5 293.2h0M550.3 298.7h0M477.4 278.4h0M475.5 279.4h0M483.7 275.1h0M538.1 271.9h0M528.9 273.2h0M545.9 275.6h0M548.6 308.6h0M547.7 311.1h0M542.2 320.2h0M592.9 272.1h0M601.4 265.6h0M601 262.5h0M664.6 261.8h0M666.7 279.1h0M666.7 269.2h0M633.8 479.6h0M639.7 467.1h0M640.1 483.1h0M622.5 482.8h0M624.1 474.5h0M629.1 474.6h0M582.6 464.7h0M584.7 453h0M581.5 459.1h0M587 466.4h0M594.2 465h0M601.2 464.7h0M641.2 489h0M635.2 501h0M638.6 488.3h0M580.4 483.4h0M584.2 473h0M572.1 485.5h0M625 485.8h0M631.8 489h0M628.1 495.2h0M689.3 263.5h0M697.8 263.5h0M696.1 246.7h0M778.1 532h0M792.3 528.2h0M792.9 523.7h0M738.7 195.6h0M733.9 199.2h0M742.5 195.3h0M496.2 385.7h0M486.4 383h0M482.3 385h0M830.2 254.4h0M831.4 261.3h0M825.9 254.4h0M596.6 320.3h0M593.2 317h0M601.5 325.4h0M837.4 383.2h0M845.5 392.2h0M834.9 380.6h0M551.1 496.3h0M550.4 497.2h0M541.4 500h0M513.2 209.4h0M522.9 206.6h0M509.7 211.6h0M577.2 486.6h0M575.1 478h0M588.9 485.9h0M968.3 172.8h0M979.5 184.4h0M976.7 185.8h0M767.3 265.9h0M764.4 264.3h0M760.9 269.1h0M767.2 484.1h0M766 475.7h0M766.5 471.7h0M928.9 247.2h0M930.8 244.9h0M920.9 250.1h0M709.5 164.8h0M705.4 167.5h0M707.5 168h0M958.3 173.1h0M961.4 181.3h0M953.3 184.8h0M796.2 500.9h0M785.6 500.2h0M787.8 507.5h0M990.8 167.4h0M985.3 160.9h0M988.1 172.9h0M734.1 315.9h0M739 319.1h0M738.3 319.3h0M549.9 462.6h0M547.9 454.4h0M551.3 453.2h0M597.2 474.5h0M613.8 485.3h0M604.3 479.2h0M927.4 247.2h0M938.5 255.7h0M921 242.6h0M724 427.7h0M722 414.7h0M733.7 413.3h0M769 274.2h0M766.1 262.7h0M767.2 262.5h0M865.9 238.9h0M873.7 246.2h0M871.9 233.4h0M848.4 351.1h0M841 354.2h0M844.7 360.7h0M605.6 379.9h0M599.7 376.1h0M593.7 393h0M557.5 147.3h0M558.2 141.9h0M555.1 143.8h0M933.3 163.5h0M931.6 157.4h0M920.6 168.4h0M800.4 376.2h0M799.7 377.1h0M812.3 389.9h0M856.1 306.1h0M863.3 307.3h0M851.5 315.6h0M612.5 400.1h0M611.4 410.7h0M606.9 414.2h0M567.2 321.2h0M570.4 315.2h0M572 325.7h0M650.3 411.7h0M659.6 414.1h0M654 411h0M810.2 549.4h0M818.5 548.2h0M818.4 550.4h0M524.7 427.4h0M513.1 439h0M522.5 436.6h0M512.8 239.7h0M514 252.5h0M514.9 252.4h0M657.2 110.9h0M653.1 114h0M650.6 115.9h0M803 225.3h0M790.9 220.3h0M788.1 219.3h0M783.5 340.2h0M766.5 331.8h0M777.3 329.6h0M882.2 258.1h0M884.5 255.6h0M893.1 267h0M669.6 229.5h0M676.1 218.7h0M678.9 219.3h0M719.8 311.2h0M711.2 315h0M716 306.6h0M751.9 333.3h0M753.9 334.7h0M738.5 333.6h0M781.4 242.3h0M788.5 225.7h0M780.2 230.9h0M772.7 389.8h0M780.5 377.3h0M773.2 376.7h0M483.9 298.7h0M486.6 302.4h0M472 305h0M477.1 541.4h0M470.4 542h0M479.6 535.1h0M1029.3 126.8h0M1017.7 137.7h0M1030.2 142h0M534.1 190.2h0M538.1 201.6h0M524.1 201.9h0M610.7 170.1h0M611.4 167.5h0M614.8 165.7h0M703 359h0M701.6 372h0M703.5 368.3h0M745 286.1h0M741.5 283.6h0M745.4 288.7h0M660 451.5h0M662.1 447.1h0M651.3 448.1h0M542.5 502.5h0M547.7 493.7h0M539.8 490.5h0M578.7 145.3h0M591.2 159.5h0M586.1 155.1h0M820.5 307.7h0M811 307.6h0M808 313.9h0M543.5 282.2h0M553.9 281.1h0M554.5 281.7h0M565.3 250.3h0M578.9 249.1h0M563.3 251.2h0M975 206.1h0M972.5 207.3h0M974.5 195h0M691.4 294.4h0M679.9 286.7h0M690.1 289.1h0M558.9 116.8h0M564.3 123.4h0M554 116.6h0M560.3 285.7h0M565.2 292.1h0M564.1 293.5h0M516.4 453.4h0M519.7 448h0M531.8 445.5h0M828.4 330.7h0M829.1 324.4h0M835.1 321.7h0M500.1 303.1h0M486.6 302.9h0M495.1 299.3h0M756.9 404.6h0M748.6 402.1h0M749.1 396.5h0M633.2 367h0M637.8 366.2h0M633.5 368.1h0M686 345.6h0M679.3 358h0M690.7 359.5h0M592.5 372h0M601.5 372.3h0M591.3 368.8h0M642.4 368.8h0M643.7 361.1h0M649.9 365.7h0M644.1 349h0M647.4 360.5h0M639.9 356.3h0M649.1 365.2h0M655.8 372.8h0M659 378.3h0M634.9 326h0M625.7 332.2h0M634 329.1h0M639.9 440.7h0M637.8 448.7h0M641.1 452h0M654 474.2h0M650.4 468.3h0M655.8 468.5h0M684.9 368.5h0M671 363.7h0M679.1 366.6h0M633.9 432.3h0M628.1 439.3h0M631.2 442.7h0M581.3 316.2h0M575.4 315.9h0M581 319.3h0M572 412.7h0M567.2 401.2h0M575.4 403.6h0M615.1 371.5h0M612.6 371.7h0M616 361.2h0M699.2 337.4h0M690.9 328.9h0M685.8 332.3h0M686 396.1h0M677 390.3h0M676.1 391h0M653.6 430.2h0M657.7 429h0M661.2 427.4h0M658.6 468.6h0M662.5 459.8h0M663.9 471.7h0M668.4 344.5h0M665 332.2h0M669.8 335.6h0M560.6 381h0M567.4 382.7h0M559.5 387.9h0M685.5 372.6h0M681.7 375h0M683 370.6h0M665.5 338.4h0M665.5 324.3h0M666.5 334.3h0M624.8 418.5h0M620.7 421.2h0M612.8 417.3h0M704.6 354.6h0M706 348h0M708.8 354.8h0M667.9 333.7h0M662.5 332.3h0M673.5 330.7h0M625.4 389.4h0M619.8 373.6h0M611.4 379.9h0M629.7 406.6h0M633.3 396.2h0M627.4 409.2h0M561.9 382.4h0M571.4 387.5h0M562.4 390.1h0M668.1 406.6h0M666.4 409.7h0M662.5 407.6h0M647.8 391.1h0M652.2 375.2h0M643.2 387.4h0M636.9 456.6h0M646.1 456.4h0M640.8 447.4h0M656 407.5h0M661.9 398.4h0M666.6 403.2h0M604.7 331.7h0M597.7 331.9h0M597.9 329.8h0M663.5 366.8h0M673 372.6h0M668.1 359.6h0M660.4 360.8h0M658.1 352.3h0M653.4 366.7h0M704.2 346h0M713 353.4h0M703.5 350.7h0M565.1 341.1h0M562.9 342h0M569.6 342.1h0M667.4 454.8h0M659.8 459.5h0M664.6 456.7h0M611.3 380.1h0M623.2 379.9h0M620.9 374.4h0M625.9 380.7h0M630.7 374.6h0M623.3 369h0M617.1 350.3h0M626 350.6h0M615.3 348h0M664.2 385.7h0M654.8 389.9h0M661.1 386.1h0M622.9 385.9h0M620.6 399.7h0M612.6 393.8h0M643.3 473.7h0M647.9 471.2h0M650.9 474.7h0M564.4 391.7h0M572.6 406.4h0M567.2 399.3h0M595.7 400.6h0M594.1 398.5h0M586.9 387.3h0M610 430.5h0M614.2 424.4h0M613.2 429.1h0M701.9 379.3h0M695.9 374.6h0M705.1 374.5h0M669.2 413.9h0M656.2 409.2h0M669.4 399.9h0M580.7 393.6h0M590 399.5h0M589.9 402.9h0M702.2 350.1h0M701.2 347.7h0M692.9 343.3h0M675.3 409.3h0M671.5 403h0M675.2 399.1h0M634.8 385h0M625.7 389.1h0M638.2 392.2h0M587.6 392.9h0M590.3 381.9h0M597.5 389.5h0M762 426.8h0M753.4 423.1h0M760.3 430.8h0M723.3 475.8h0M721 468.9h0M733.5 462.5h0M918.8 147h0M918.6 154.1h0M927.2 143.5h0M833.9 395h0M839.4 395h0M827.1 400.3h0M633 337.8h0M638.5 348.4h0M641.4 351.5h0M704.3 170.4h0M713.7 165.6h0M715.3 161.1h0M638.6 432.7h0M645.5 430.9h0M640.3 435.9h0M754.3 184.4h0M749.4 179.3h0M749.6 175.6h0M697.9 352.4h0M701.6 355.7h0M709 359.7h0M588.4 269.6h0M601.1 274.6h0M591.3 279.5h0M633.6 463.2h0M628.4 451.1h0M625.9 453.3h0M734 117.8h0M738.5 120.2h0M729 114.4h0M550.2 277h0M561.3 273.8h0M557.7 278h0M760.9 426.9h0M759.6 427.1h0M751.2 433.8h0M792.2 507.7h0M801.2 519.4h0M799 514.2h0M575.6 185.8h0M587 187h0M587.9 187.2h0M691.2 255.3h0M694.2 248.3h0M693.9 242.1h0M877.9 350.5h0M869.2 363.7h0M865.7 352.6h0M475.7 345.2h0M481.5 353.7h0M483.9 338.2h0M662.4 310.3h0M661.1 308.4h0M648.5 322.3h0M512.7 171.2h0M507.4 159.7h0M522.6 174.5h0M870.3 266.8h0M878.2 262.8h0M877.7 264.7h0M680.9 231.5h0M684.4 215.1h0M681.4 223.6h0M636.2 146.8h0M633.7 145.7h0M627.5 148.7h0M825.6 390.8h0M837 384.7h0M831.3 389.4h0M664.6 434.1h0M667.2 436.6h0M660.8 444.2h0M632.7 376.3h0M647.7 384.7h0M649.3 382.1h0M541.3 209.6h0M538.5 209.1h0M536.4 219.4h0M777.5 243.2h0M775.5 245.8h0M782.6 250.7h0M495.6 563.6h0M484.8 565.9h0M485.3 558.3h0M635.4 146.4h0M631.1 153h0M643 160.7h0M900 317.5h0M887.6 315.7h0M891.6 314.9h0M691.3 225.5h0M691.8 232.2h0M693 224.4h0M930 235.3h0M914.7 234.4h0M923 224.8h0M709.8 436.6h0M706.5 445.1h0M709.4 442.8h0M743.2 469.8h0M743.8 459.6h0M746.8 468.9h0M821.7 279.6h0M828.2 272.5h0M816 281.1h0M743.2 270.1h0M747.4 267.5h0M737.9 279h0M491.2 171.1h0M497.4 181.9h0M503.5 182.7h0M528.3 287.8h0M520.9 279.7h0M516 280.4h0M585 287.9h0M580.8 288.8h0M577.1 292.7h0M780.8 437h0M782.4 433.1h0M787.7 434.5h0M976.2 191.6h0M980.3 192.9h0M978 190.7h0M822.9 569h0M812.7 573.9h0M823.7 569.3h0M582.6 137.1h0M582.6 136.7h0M575.8 143.7h0M717.2 265.4h0M721 258.9h0M729.2 255.6h0M549 344.6h0M556.7 342.4h0M544.9 334.9h0M906 274h0M900.3 287.3h0M912.7 280.1h0M586.4 210.6h0M589.6 213.6h0M590.1 222.1h0M551.3 175h0M548.8 176.3h0M546.2 172.7h0M915.2 263.1h0M928.2 268.2h0M918.7 272h0M472.7 150.8h0M486.8 160.9h0M478.1 149.1h0M554 282.4h0M555.5 287.2h0M559.1 288.8h0M675.9 190.9h0M672.4 198.3h0M683.1 194h0M702.5 191.3h0M701.3 194.9h0M712.1 192.2h0M797.9 329.3h0M797.6 343.9h0M804 328.7h0M666.9 356h0M663.8 370.2h0M658 365.5h0M551.7 361.6h0M546 360.7h0M549.1 357.4h0M566.6 171.7h0M570.6 157.7h0M578.6 168.1h0M612 453.6h0M604.9 468.8h0M605.5 464.9h0M790.8 557.8h0M789.4 573.7h0M798.3 557.4h0M809.6 526.6h0M814.2 528.1h0M806.6 530.7h0M545.9 387.1h0M541.1 382.3h0M544.4 384.9h0M534.8 235h0M522.4 235.2h0M527.3 230.4h0M639.7 227.6h0M640.6 233h0M633.8 235.6h0M769.7 416.9h0M768.6 418.8h0M762.9 421.5h0M1018.8 119.3h0M1027.9 126.6h0M1031.4 118h0M604 432.8h0M597.5 427.1h0M609 432.2h0M731.6 368h0M729.5 372.9h0M743.2 364h0M951.3 228.4h0M945.7 227.2h0M943.4 224.8h0M527.7 152.7h0M530.8 162.4h0M533.1 155.5h0M922.7 249.8h0M915.2 253.2h0M916.9 246.2h0M617.2 335.2h0M606.3 328.5h0M602.2 339.1h0M819.6 406.4h0M823.7 412.1h0M811.4 409.3h0M676.8 131.6h0M675.5 144.4h0M676.9 134.5h0M767.9 246.5h0M768 245.9h0M771.8 248h0M744.5 358.3h0M733.8 364.2h0M739.7 373.1h0M502.2 451.1h0M498.6 450.3h0M489.3 454.5h0M619.4 297.8h0M619 299.3h0M617.6 299.5h0M560 290.8h0M567.4 301.8h0M558.9 300.1h0M678.8 464.5h0M669.2 462.6h0M668.8 470.9h0M736.9 183.2h0M730.9 180.8h0M734.5 172.9h0M763.1 344.2h0M759.1 353.3h0M761.7 354.3h0M528.3 124.4h0M532.5 130.4h0M537 124.8h0M654.2 433h0M660.5 422.9h0M654.8 431.3h0M585.2 372.6h0M585.8 375.8h0M586 373.4h0M899.9 234.4h0M906 233.3h0M898.5 244.1h0M499.2 308.7h0M497.3 296.2h0M495.2 311.2h0M961 155h0M953.3 165.3h0M953.5 157h0M616.8 242h0M615.3 241.7h0M614.5 240.5h0M629.7 249.7h0M627.8 253.9h0M628.1 245.3h0M893.4 356.1h0M899.6 353.9h0M897 366h0M713.6 265.9h0M709.3 266.4h0M711.8 265.1h0M774.3 446.4h0M768.5 433h0M776.2 433.2h0M703.3 355h0M711.6 356h0M698.2 361.8h0M852.6 280.3h0M856.2 270.7h0M853 273.3h0M686.1 359.6h0M691.5 357.6h0M686.9 374.2h0M881.4 390.7h0M880.9 389h0M882.5 387.6h0M637.1 203.7h0M628.1 195.6h0M644 189.8h0M788.6 356.3h0M790 357.3h0M783.4 354.2h0M558.9 421.1h0M549.3 415h0M548.8 415.6h0M687.6 383.1h0M680.5 375.9h0M689 389.2h0M656.6 196.7h0M653.3 184.1h0M651.8 184.3h0M580.1 140.5h0M588.8 148h0M581.8 151.1h0M910.1 143.3h0M909.5 143.4h0M909.8 138.2h0M921.9 233.2h0M913.5 227.6h0M912.8 229h0M637.4 476.5h0M641 475.5h0M638.9 488.6h0M805.9 584h0M797.9 582.5h0M792.3 591.8h0M879.2 289h0M885.5 286.8h0M880.8 281.4h0M669.3 276.5h0M675.5 282.1h0M680.6 286h0M968.4 237.3h0M957.5 244.5h0M966.9 234.1h0M823.2 348.2h0M817.9 345.5h0M822.7 339h0M689.2 171.1h0M676.9 170.8h0M676.5 160.8h0M627.3 236.2h0M621.6 235.6h0M614.9 241.1h0M689 452.1h0M685.3 452.2h0M680.3 459.3h0M536.2 150.1h0M545.7 137.6h0M538.3 152.9h0M955.2 160h0M944.3 149h0M947.4 146.8h0M1037.4 156.2h0M1035.9 153.4h0M1045.9 151.8h0M653.2 295h0M667.2 308.9h0M654.9 295.8h0M984.2 224.7h0M987.3 237.1h0M988.9 227.2h0M658.7 310.3h0M652.5 318.1h0M658.3 323.4h0M678.7 181.8h0M680.7 198.8h0M679.4 193.2h0M812.1 345.1h0M812 342.6h0M805.7 351.5h0M499.3 430.4h0M496.6 432.9h0M497.6 432.3h0M549.8 165.3h0M542.5 167.6h0M553.5 162.8h0M739.2 274.7h0M734.2 284.7h0M745.6 275.1h0M634.3 356.1h0M636.1 353.7h0M642.1 351.6h0M621.7 212.7h0M628 211.2h0M624.5 215.7h0M830.9 405.2h0M833.3 407h0M834.4 406.3h0M525.4 269.6h0M516.8 263.4h0M516.3 265.4h0M719.1 256.9h0M716.3 253.5h0M714.4 259.3h0M925.4 209.1h0M919 205.4h0M925.2 218.4h0M884.1 206.4h0M895.4 203.8h0M881.8 197.2h0M949.2 238.2h0M944.8 243.7h0M956.5 236.9h0M925.4 241.1h0M919.9 246.7h0M918.1 251h0M893.5 260.2h0M894.3 259.8h0M908.2 252.9h0M916.4 259.1h0M925.9 269.4h0M917.5 265.5h0M891.4 237.1h0M890.3 242.1h0M891.3 237.2h0M906.9 270.5h0M916 259.6h0M918.6 270.7h0M902.9 205.6h0M909.8 210.6h0M909.8 217.8h0M931 161.8h0M943.1 158.7h0M939.5 172.9h0M880.1 222.8h0M887.8 221.2h0M880.7 230.7h0M898.2 225h0M900.4 235.4h0M902.3 237.7h0M838.7 240.2h0M834.1 234h0M830.4 244.4h0M914.3 232.9h0M922.3 227.8h0M912.6 224.8h0M867.5 222.4h0M869.6 217.1h0M864.8 222.4h0M915.8 250.3h0M906.1 249.3h0M905 249.6h0M895.2 251.9h0M893.1 252.4h0M897.8 261.3h0M907.3 255.7h0M911 250h0M905.3 248.8h0M912.2 236.4h0M903.6 241.7h0M901.3 241.2h0M890.9 265.4h0M893.8 273.2h0M898.1 269.7h0M900.9 207.8h0M914.6 197.3h0M904.1 198.9h0M897.8 255.5h0M900.2 258.5h0M904.1 268h0M865.4 274h0M861 261.1h0M859.2 262.6h0M935.1 231.9h0M937.7 235h0M934.8 227h0M916 243.6h0M927.9 230.8h0M920.9 229.5h0M888.2 239.9h0M878.8 251.8h0M878.3 236.9h0M917.2 271.2h0M918.1 280.2h0M920.6 273h0M926.5 222.6h0M912 218.3h0M924.3 232.6h0M913.6 258.2h0M908.7 244h0M913.3 247.8h0M921.5 261.4h0M914.9 261.9h0M918.9 268.3h0M916.6 218.8h0M926.5 231.6h0M913.2 230.2h0M899.7 273.8h0M891.7 268.6h0M894 270.6h0M826.4 353h0M819 338.4h0M815.7 345.5h0M787.2 351.7h0M800.3 351.8h0M793.5 351.6h0M495.4 50.9h0M497.8 50.2h0M498.9 46.1h0M479.5 125.8h0M490.9 116.2h0M481.5 111.4h0M488.2 71.7h0M487.6 67.1h0M489.5 72.1h0M484.8 116.3h0M494.3 112.7h0M497.2 114.4h0M643.2 483.1h0M635.8 475.4h0M631.7 481.5h0M975.2 172.3h0M965.3 175.7h0M972.5 178.9h0M906.8 196.1h0M891.3 191.3h0M892.2 184.3h0M650.8 374.5h0M635.9 363h0M642.7 373.8h0M566.5 322.4h0M560.7 319.6h0M555.3 317.9h0M917.6 192.8h0M922.4 197.1h0M920.8 196.9h0M555.9 365h0M554.7 357.2h0M565.7 355.3h0M522.6 361.1h0M528.6 364.1h0M515.7 368.5h0M499 346.7h0M499.5 336.9h0M500.4 331.7h0M492.4 353h0M483 354.5h0M485 345.2h0M855.8 382h0M857.9 378.4h0M863.3 380.6h0M810 537.6h0M798.7 541.9h0M809.9 535.1h0M786.2 501h0M776.3 503.8h0M772.4 508.4h0M553.6 451.3h0M564.5 443.8h0M551.9 445.9h0M678.7 146h0M671.1 150h0M671.7 146.4h0M881.6 365.3h0M868.3 363.2h0M873.2 361.2h0M474.8 227h0M481.5 224.5h0M473 226.7h0M734.2 220.6h0M723.3 224.2h0M723.8 223.8h0M589.4 131.3h0M600.1 140.9h0M584.9 143.5h0M507.9 226.3h0M501 220.3h0M504.5 222.8h0M870.7 317.2h0M860.2 317.6h0M869.9 314.4h0M798.9 405.3h0M813.5 405h0M799.8 404h0M645.3 99.5h0M648.3 90.3h0M658.4 99.6h0M901.2 156.1h0M894.2 159.8h0M901.3 144h0M746.5 234.9h0M741.1 240.5h0M742.6 237.8h0M779 237.5h0M767 240.7h0M766.8 227.2h0M763.9 234h0M773.4 218.4h0M774.2 227.7h0M902.9 208.5h0M898.4 195.7h0M900.1 208.7h0M550.8 291.7h0M557.5 296.8h0M555.6 297.3h0M502.8 370.8h0M513.5 360.6h0M496.9 377.5h0M710.6 247h0M710.6 247.5h0M706.9 255.4h0M526.8 369.1h0M531.3 366.2h0M536.6 360.7h0M855.7 285.5h0M856.7 282.5h0M860.2 282.3h0M765.5 416.4h0M762.3 423.4h0M771.4 415.3h0M1014.8 142h0M1016.5 151.7h0M1018.8 147.2h0M856.5 220.5h0M849 209.2h0M851.1 206.5h0M504.8 223.8h0M509.9 222.9h0M518 235.9h0M653.4 371.8h0M641.8 382.6h0M643.7 383.4h0M668.1 288.3h0M677.4 291.5h0M665.8 292.2h0M609.3 195.8h0M603.7 206.5h0M601.6 194.3h0M543.6 231.7h0M542.9 242.9h0M527.2 241.7h0M850.9 301.1h0M847.8 299.4h0M850.7 301.6h0M792.4 490.4h0M792.6 493h0M799.7 500.3h0M612.1 160.8h0M611.1 163.8h0M613.4 160.2h0M487 198.2h0M489.1 200.1h0M492.6 198.2h0M485.4 412.7h0M480.2 409.1h0M487.2 415.5h0M755.3 217.7h0M759.5 208.5h0M767.8 214.8h0M600.3 228.5h0M592.9 241.3h0M594.5 237.4h0M812.5 575h0M812 560.3h0M811.2 558.8h0M599.3 472.1h0M594.7 478.6h0M612 469.9h0M745.1 426.8h0M739.8 430.8h0M749.3 413.8h0M965.1 227.6h0M981.4 229.2h0M978.6 227.2h0M623.5 211.8h0M635.2 222.2h0M635.3 210.7h0M591.7 67.8h0M588.6 60.5h0M592.9 65.6h0M535.7 193.6h0M536 200.3h0M531.3 193.8h0M676.4 218.8h0M679.5 210.1h0M685.5 223.9h0M949.5 212.3h0M959.8 202.8h0M954.4 206.3h0M881.3 336.7h0M893 334.8h0M891.3 330.5h0M579.5 475.5h0M572.5 474.6h0M581.5 490.1h0M959.6 205.2h0M966.1 212.8h0M970 210.2h0M800.3 515.6h0M790.4 520.4h0M803.6 508.9h0M756.5 157.6h0M751.4 149.1h0M755 154h0M658.5 172.2h0M662.8 163.4h0M661.9 171.8h0M759.5 260.9h0M767.6 268.5h0M770.4 264.3h0M642.1 418.2h0M646.9 422.2h0M645.2 421.9h0M538.2 184.9h0M544.6 171.8h0M547 174.1h0M596.1 245.5h0M598.4 244.9h0M591.3 241.2h0M498 370.2h0M501.6 374.7h0M500.8 376.4h0M723.3 283.6h0M719.9 295.3h0M720.5 285.8h0M621.5 189.4h0M635.7 182.7h0M620.7 196.8h0M586.5 170.6h0M582.9 159.6h0M581.7 168.1h0M698.3 318.2h0M691 324.3h0M699.6 308.2h0M974.6 211.4h0M969.7 207.3h0M970 216.4h0M550.2 300.1h0M552.9 301.1h0M538.1 291.6h0M1001.2 157h0M1009.1 158.7h0M994.2 145.9h0M745.1 233.4h0M744.6 237.4h0M743.7 239.6h0M900.6 308.1h0M901.4 301.5h0M903.4 303.7h0M944.4 238.3h0M943.4 238.1h0M945.9 232.4h0M733.8 275.5h0M741.4 275.9h0M731.6 278.1h0M701.5 240.8h0M698.2 227.3h0M697.6 235.9h0M589.8 228.6h0M591.4 225.5h0M582 240.8h0M853.4 236.4h0M855.3 234.4h0M842.9 232.9h0M742.5 211.1h0M741.7 204.6h0M752.2 194h0M827.5 254.1h0M836.7 264.5h0M829.5 261.3h0M827.9 260.6h0M826.9 266.4h0M830.4 256.9h0M665.5 336.1h0M662.6 338h0M665.7 336.1h0M597.9 393.5h0M610.9 394.9h0M602 401.7h0M635.4 127.2h0M632.9 128.8h0M638.8 131h0M822.5 544.4h0M823.4 544.6h0M826 543.7h0M789.5 521.5h0M776 521.9h0M786.9 520.2h0M764 223h0M775.7 221.3h0M760.8 236.6h0M659.5 161.8h0M656.3 153.2h0M659.1 158.6h0M629.7 186.6h0M618.3 190.1h0M626.2 191.4h0M742.2 398.8h0M747.2 400.3h0M743.9 401h0M593.8 229.9h0M596.9 238.4h0M588.5 240.5h0M877.3 203.2h0M878.4 201.2h0M867.2 207.4h0M491.2 504.9h0M487.4 501.4h0M496.2 497.7h0M709.6 473.4h0M709.4 473.5h0M717.8 487.3h0M781.1 553.7h0M792.9 551.3h0M789.7 552.3h0M637.3 362.5h0M625.1 354h0M627.7 352.1h0M858.7 364.5h0M863.1 368.8h0M867.9 367.4h0M801.1 260.5h0M791.9 257.1h0M798.1 248.8h0M883.8 331h0M875.5 333.4h0M880.6 329.8h0M467.8 273.1h0M468.5 269.6h0M477.1 269.5h0M828.7 413.7h0M827.6 418.7h0M833.3 403.3h0M809.9 547.2h0M801.3 550.3h0M808.1 543.7h0M909.9 259.7h0M900.1 274.8h0M898.6 261.5h0M782.4 195.2h0M777.3 202.1h0M772.3 192.8h0M672.5 351.8h0M675.8 352.5h0M663.6 346.3h0M651.1 248.9h0M651.5 257.5h0M645.4 252.1h0M654.6 445.3h0M661 448.2h0M656.7 447.3h0M765 519.4h0M775.8 532.4h0M779 530.3h0M508.3 563h0M500.4 559h0M507.2 562.7h0M728 432.4h0M739.1 431.4h0M733.9 433.5h0M821.7 251h0M808.8 258.1h0M812.7 254.6h0M649.1 311.3h0M646.2 303.6h0M644 318.6h0M794.6 275.8h0M794.1 277.7h0M794.3 274.4h0M547.3 96.1h0M542.9 92.1h0M557 94.4h0M639 121.4h0M625.5 120.9h0M635.9 118.4h0M938.5 147.2h0M936.2 144.5h0M939.1 157h0M723.1 260.6h0M736.4 255.2h0M731.4 248.4h0M739.6 121.1h0M742.3 125.5h0M730 120.5h0M702.1 404.4h0M700.6 413.5h0M699.8 410h0M519.9 41.8h0M518.6 33.2h0M515.8 32.6h0M773.3 294.5h0M760.8 299.1h0M775.6 288.9h0M527 247.8h0M530.8 237.6h0M541.7 239.1h0M964.4 214h0M951.4 209.4h0M955.3 213.4h0M877.8 364h0M881.5 361.9h0M877.3 368.1h0M520.3 332.8h0M517.1 345.6h0M522.6 345.9h0M914.6 267.2h0M900.5 266h0M903.1 260.1h0M582.4 130.6h0M585.1 135.8h0M578 121.8h0M1038.7 139.1h0M1033.9 139.2h0M1045.5 143.9h0M694.1 480.7h0M684 467h0M683.5 470.7h0M639.6 343.6h0M628.7 329.9h0M627.9 345.8h0M549 200.3h0M562 205.6h0M554.8 205.1h0M924.6 222.7h0M936.7 234.8h0M920.6 227.1h0M537.4 319h0M540.3 333.9h0M546.4 328.9h0M700.5 230.6h0M702.7 224.9h0M699.1 235.1h0M624.4 279.1h0M632.1 268.5h0M635.4 275h0M1029.8 91.9h0M1033.9 100.5h0M1038.8 106.3h0M663.3 475h0M668.6 474.9h0M670.5 473.9h0M523.8 174.4h0M519.1 160.9h0M523.5 171.5h0M675.4 269h0M686.6 264.2h0M690.4 275.6h0M703.8 441.4h0M705.6 447h0M704.7 442.9h0M572.9 215.7h0M568.6 216.3h0M573 224.4h0M550.7 415.2h0M541.7 411.9h0M536.9 415.8h0M847.9 250h0M862.4 239.1h0M850.5 249.6h0M934.4 212.3h0M945.6 207.6h0M938.9 206.3h0M810.3 325.8h0M815.4 321.9h0M802.6 327.1h0M980.8 190.3h0M990.2 200h0M989.9 200.2h0M545.6 452.8h0M544.1 449.8h0M532 440.2h0M530.6 518.6h0M525.5 515.9h0M521.2 513.7h0M858.6 333h0M873.5 328.8h0M866.3 327.8h0M903 157.3h0M907.5 143.3h0M908.5 153.8h0M762.4 195.3h0M757.1 195.8h0M755.3 199.3h0M625 496.7h0M609.2 492.2h0M610.6 486h0M557.9 329.4h0M547.6 318.1h0M553.2 321.3h0M478.8 311h0M480.7 319.9h0M491.5 324.7h0M902.1 251.9h0M903.9 252.2h0M903 260.2h0M641.3 206.1h0M636.3 195.3h0M626.9 194.6h0M993.1 213.2h0M991.6 220.7h0M989.5 219.3h0M978 224.5h0M964.7 231.8h0M970.5 225.2h0M878.2 331h0M878.6 332.3h0M882.4 341.9h0M515.3 381.3h0M517.3 383.8h0M512.2 385.7h0M498.9 375.1h0M512.1 358.6h0M499.2 365.2h0M563.7 93.7h0M556.7 90.9h0M570.3 95.5h0M510.9 452.6h0M500.8 458.1h0M512.1 451.7h0M683.2 221h0M679.3 223.2h0M681.4 218.8h0M1001.5 178.5h0M1002.6 184.7h0M990.1 175.8h0M758.3 434.1h0M747.7 433.2h0M746.5 436.9h0M811.7 381.6h0M816.8 382.6h0M808.1 391.3h0M989.1 213.7h0M992.4 222.4h0M993.9 213h0M744.7 130.2h0M754 139.4h0M754 140.9h0M676.3 191.4h0M684.7 197.4h0M679.9 198.9h0M511 431.6h0M511.7 425.8h0M523.2 426.1h0M805.6 429.7h0M803.8 428h0M806.2 418.6h0M712.4 247.7h0M701.3 234.8h0M706.1 239.4h0M623.6 137.9h0M623.5 132.6h0M631.2 125.3h0M898 256.1h0M898.5 252.7h0M889.4 263.3h0M539.8 238.6h0M552 235.3h0M542.3 241.7h0M844.7 355h0M846.3 356.5h0M837.3 352.2h0M654.7 205.8h0M654.4 207.7h0M652.7 218.8h0M510.8 521.2h0M517.9 516.4h0M509.5 524.9h0M599.2 162.5h0M602.2 146.2h0M591 157.6h0M654 128.1h0M641.4 128.7h0M657.8 128.2h0M865.7 322.8h0M864.3 320.8h0M868.9 327.8h0M733 267.6h0M740 274.1h0M732.6 270.5h0M1011.7 161.7h0M1011.8 175.9h0M1022.4 166.2h0M510.3 522h0M512.4 518.6h0M513 519h0M558.2 369.8h0M553.4 384.9h0M557.5 374.5h0M740.8 363.5h0M734.3 357h0M728.5 360.2h0M911 191.7h0M904.5 184.6h0M905.9 184.2h0M720.1 398h0M724.8 397.6h0M726.8 394.2h0M734.1 216.4h0M735.7 213.9h0M739.3 208.4h0M712.5 367.6h0M717.7 354.3h0M710.3 365.5h0M594.1 147h0M592.7 147.9h0M593.6 143.3h0M618.3 408.2h0M634.2 396.1h0M634.1 400.2h0M822.6 331.4h0M828.5 330.5h0M822 330.6h0M867.9 183.1h0M870.3 196.9h0M867.5 185.8h0M567.2 350.9h0M569.2 343h0M573.7 345.3h0M580.5 130.1h0M591.4 120.9h0M579.9 131.9h0M537.9 47.8h0M545.4 39.8h0M547.4 37.2h0M499.3 267.5h0M495.9 263.3h0M507.6 276.6h0M611.1 140.5h0M603.6 141h0M614.9 139.4h0M729.5 177.4h0M728.9 184.1h0M727.4 181.9h0M649.2 140.8h0M655 144.4h0M644.4 131.3h0M537.4 34h0M539.7 41.8h0M548.2 45.1h0M485.7 296.2h0M486.5 292.7h0M486.5 286.9h0M587.2 433.8h0M602.2 438.5h0M593.9 439.3h0M602.7 174.1h0M600.1 172.7h0M598 165.5h0M681.4 289.6h0M686.9 290.2h0M684.3 288h0M783.6 554h0M785.3 560.6h0M789 554.4h0M581.6 365.5h0M592 363.6h0M594.3 365h0M803 369.3h0M811.5 370.6h0M813.4 372.9h0M947.2 175.9h0M944.7 183.9h0M939.9 174.6h0M781.4 434.3h0M778.3 436.6h0M783.9 435.9h0M864.7 245.1h0M858.7 256.6h0M864.5 243.2h0M775.4 344h0M764.9 354.5h0M775.9 346.5h0M526.7 353.4h0M540.5 361.4h0M533.2 363.5h0M556.2 157.4h0M556.9 154.9h0M546 161.9h0M855.8 356h0M853.4 364.9h0M860.9 357.6h0M697.1 242.9h0M704.9 248h0M693.1 231.9h0M656.8 196h0M670.5 194.7h0M655 181.3h0M743.8 397.3h0M740.4 408.1h0M745.2 405.3h0M698.3 246h0M695.7 243h0M693.5 244.5h0M590.8 130.7h0M597.8 114.3h0M603.8 117h0M774.4 272.4h0M764.8 281.7h0M763 270.2h0M855.7 342h0M854.5 340.9h0M861.5 355.2h0M766.2 226.3h0M768.8 243.1h0M773.5 240.9h0M492.7 79.7h0M488.2 74.1h0M500.9 79.5h0M653.2 309.2h0M649.4 309.2h0M650.3 313.2h0M490.7 490h0M496.4 491.5h0M485.3 485.8h0M796.1 444.2h0M801.3 437.1h0M801.9 447.7h0M680.9 108.7h0M690.4 110.2h0M690 100.9h0M559.1 113h0M552.1 100.1h0M546.6 99.6h0M683.9 175.7h0M673.6 179.6h0M675 178.7h0M711.6 222.8h0M707 218.5h0M702.7 224.8h0M776.5 425.6h0M782.7 424.8h0M779.8 424.1h0M561.6 175.2h0M576.4 178.5h0M573.7 170.4h0M905.8 303.9h0M906.2 301.5h0M893.1 303.5h0M521.8 228.6h0M518.7 220.6h0M517.8 233h0M708.5 419.4h0M709.6 413.3h0M704.3 415.3h0M929.9 205.2h0M926.4 188.4h0M934.3 200.9h0M731.3 352.6h0M734.2 343.5h0M740.1 354.2h0M517.4 185h0M526.5 185.5h0M524.3 191.5h0M508.5 154.6h0M512.2 157.4h0M505.2 160h0M524.3 167.6h0M518.8 168.7h0M518 162.5h0M491.3 178.3h0M505.9 186.4h0M492.6 180.3h0M552 239.9h0M549.7 254.5h0M546.9 252.6h0M724.1 315.4h0M710.2 315.2h0M719.1 302.2h0M796.1 540.5h0M787.4 532.9h0M789.5 540.1h0M870.5 250.5h0M875.1 238.1h0M873 250.1h0M687.4 433.8h0M699.4 431.1h0M689.5 429h0M491 436.8h0M497.7 437.4h0M498 434.6h0M713.9 287.7h0M718 285h0M707.2 282.5h0M637 294.3h0M641.8 288.7h0M642 285.9h0M789.2 510.2h0M797.7 517.4h0M799.8 515.2h0M989.5 189.2h0M983 183.1h0M993.1 186.5h0M886.8 337.9h0M888.6 335.3h0M881.9 336h0M630.4 221.9h0M631.6 223.4h0M637.7 215h0M968.9 215.6h0M980.7 211h0M964.5 211.9h0M584.9 332.4h0M584.1 325.6h0M576.3 334.6h0M748.7 270.1h0M744.2 263.8h0M745.8 261.7h0M790.8 481.9h0M797.6 484.4h0M798.9 490.3h0M532.7 484.8h0M532.6 495.8h0M540.6 494h0M591.5 151.5h0M593.5 142.2h0M589.4 156h0M612 379.2h0M603.9 382.4h0M615.6 386.7h0M835.8 306.6h0M834.9 301.9h0M832.7 311h0M536.4 186.1h0M539.3 187.2h0M527.5 187.1h0M579.4 440.9h0M570.2 431.1h0M568.7 431.8h0M647.1 332.6h0M652.1 330.8h0M648.4 338.4h0M680 282.6h0M686.9 286.2h0M685.9 282.3h0M718.9 132.4h0M714.8 116.9h0M728.4 120.1h0M553.7 214.7h0M553.7 216.3h0M553.2 215.7h0M544.8 205.2h0M545.2 207.6h0M554.2 201.5h0M553.7 346.6h0M556.6 356.5h0M553.9 352.7h0M916.1 157.5h0M928.2 164.3h0M915.1 159h0M498.3 298.9h0M504.5 295.1h0M496.3 299.7h0M665.7 301.4h0M661.4 287.7h0M661.2 304.6h0M543.6 425.7h0M542.7 419.5h0M544.2 425.7h0M727.5 236.7h0M721.7 246.5h0M733.3 245.4h0M739.4 325.2h0M745 324h0M737 340.1h0M917.1 251.8h0M918.1 244.5h0M920.1 252.2h0M805.6 399.5h0M822.3 405.4h0M804.9 393.8h0M667.7 370.5h0M665.3 377h0M679.1 370.3h0M512.1 367.8h0M524.2 375.8h0M510.2 362.2h0M827.8 372h0M838.2 381.4h0M829.6 377.8h0M782.5 379.7h0M788.9 386.4h0M785.9 381.4h0M773.2 537.4h0M774 534.5h0M766.5 522.3h0M578.2 428h0M582.8 425.2h0M575.1 426.4h0M653.3 267.6h0M653.7 260.4h0M646.6 271.7h0M486.5 400.5h0M492.5 394.6h0M493.6 394.2h0M555 187.6h0M541.4 187.2h0M539.3 180.4h0M548.4 503.2h0M554.2 486.1h0M548.8 495.5h0M641.5 216.8h0M652.7 223.9h0M649.2 224.8h0M719.7 356.8h0M712.4 362.9h0M713.1 346.7h0M614.8 378.7h0M608.2 372.9h0M603.1 373.9h0M775.3 543.7h0M783.2 538.7h0M765.8 535.6h0M497.1 503h0M494.8 502.2h0M496.8 496h0M798.9 460.9h0M794.4 455.9h0M792.4 460.9h0M615 121h0M600.4 122h0M603.3 126h0M561.5 123h0M573.3 130.3h0M571.9 127.6h0M642.3 157.8h0M645.7 150.5h0M657.9 148.8h0M664.8 407h0M664.6 411.8h0M656.5 403.6h0M554.7 267.1h0M550.5 264.7h0M546.3 276.7h0M637.4 289.6h0M633.3 296.9h0M632.6 291.3h0M587.8 141.4h0M582.8 145.9h0M577.6 153.1h0M817.5 540.4h0M818.3 534.5h0M820.4 533.3h0M525.3 365.6h0M525.6 365.8h0M527.5 353.7h0M681.6 153.5h0M690.3 142.2h0M683.2 147.2h0M636.7 298.3h0M622.2 302.4h0M627.6 291.2h0M853 405.2h0M857.9 393.3h0M857.7 401.4h0M602.2 91.9h0M596.3 94.6h0M594.6 101.2h0M532.8 209.7h0M523.6 202.5h0M532.1 215.3h0M799.4 369.7h0M802.1 354.5h0M795.9 359.6h0M927.2 223.7h0M926.8 236.4h0M926 222.3h0M505.1 360.1h0M513.6 358.9h0M513 358.6h0M520.3 236.7h0M505.7 241.1h0M515.4 243.7h0M797.3 306.4h0M810.2 299.1h0M796.9 305.6h0M695.8 367.1h0M710 358.9h0M712.9 370h0M883.3 183h0M886.6 182.5h0M885.4 185.8h0M754.3 450.2h0M742.1 454.7h0M743.2 451.6h0M666.2 371h0M665.1 377.1h0M661 368.4h0M557.6 495.3h0M552.8 482h0M559.9 480.5h0M645.5 134.1h0M644.4 140.1h0M647.6 124.5h0M497.4 533.9h0M489.8 539.7h0M501.2 546.4h0M499.8 463.9h0M486.6 453.8h0M487.5 456.2h0M515.4 472.7h0M515.9 458h0M524.4 464.1h0M632.1 459.4h0M638 466.8h0M636 467.2h0M543.6 484.5h0M549.3 499.9h0M549 487.5h0M493.8 403.6h0M482.4 407h0M491 404.8h0M497.5 536.4h0M509.3 538.6h0M506.8 524.7h0M546 462.8h0M538.1 449.1h0M550.8 459.3h0M526 419.5h0M525.3 428.9h0M517.3 423.5h0M499 559.8h0M498.9 566.6h0M493.9 557.2h0M497.6 519h0M497.5 528.2h0M509.1 525.4h0M510.5 505.7h0M514.6 507h0M519 495.3h0M525.9 466.5h0M521.1 468.8h0M517.8 458.4h0M502.7 474.1h0M512.1 471.6h0M505 467.8h0M564 489.8h0M559 476.7h0M557.6 485.5h0M504.2 528.1h0M499.9 540.7h0M505 532.1h0M478.2 476.1h0M484.8 480.8h0M481.9 477.9h0M484.2 491.6h0M483.2 490.2h0M479.2 495.9h0M553.6 488.4h0M555.5 497h0M561.9 488.9h0M527.3 504.1h0M529.4 506h0M515.6 507.9h0M972 217.7h0M978.5 224.5h0M987.8 212.6h0M654.5 268.9h0M658.8 278h0M645.8 277.8h0M598.2 318h0M608.2 308.8h0M603.6 310.6h0M792.8 426h0M780.1 437.6h0M784 429h0M676.3 416.8h0M686.9 414.7h0M687.6 424.4h0M831.2 342.6h0M831.6 346.5h0M846.5 344.5h0M757.1 234.9h0M761.7 232.5h0M766.1 236.2h0M923.6 236.7h0M930.7 249.8h0M917.9 246.9h0M695.1 312.2h0M701 318.6h0M700.6 306.9h0M739 197.1h0M740.9 197.1h0M732 209.6h0M659.6 357.6h0M655.6 348.7h0M656.9 363.7h0M891 315.2h0M894.5 322.4h0M898 313.4h0M708.6 375.6h0M710.2 362.8h0M699.3 370.7h0M879.8 260.9h0M867.5 275.7h0M878 262.6h0M813.8 507.9h0M807 509.6h0M802.5 506.8h0M515 409.2h0M514 414h0M531.5 423h0M640.3 352.8h0M638.5 345.7h0M646.8 350.9h0M746.2 480.1h0M737.2 484.7h0M736.9 483.5h0M758.3 463.4h0M757.7 460.6h0M766.5 456.2h0M820.5 571.6h0M807.6 569.7h0M804.2 574.2h0M801.4 577.1h0M801.5 574.8h0M797.5 563.2h0M581.7 231.1h0M580.3 223h0M589.7 228.1h0M586.8 159.3h0M592.5 176.7h0M582.5 170.7h0M764.8 378.7h0M760.2 393.7h0M761.1 393h0M704.2 448.6h0M703.9 449.4h0M718.1 447.3h0M757.2 235.4h0M755.1 233.7h0M750.3 226.3h0M535.1 285.8h0M537.6 286.8h0M542.4 285.6h0M774.5 519.1h0M774.8 522.3h0M779.7 522.8h0M781.8 528.1h0M774.2 531.2h0M768.9 524.6h0M502.8 460h0M501 454.1h0M503.1 457.6h0M538.1 228.4h0M536.1 222.6h0M530.8 226.4h0M548.4 365.2h0M551.6 364.7h0M543.9 363.3h0M783.3 345.7h0M768.3 352.5h0M770.7 349.5h0M533 420.2h0M532.7 419.4h0M522.2 432.5h0M570.9 271.8h0M568.5 264.5h0M579.7 259.9h0M795.2 254.1h0M797.3 254.3h0M796.7 245.1h0M829.1 367.7h0M833.1 361.9h0M844 368.5h0M750 212.6h0M759.2 211.7h0M765.4 217.6h0M918.6 259.1h0M916 252.3h0M916.5 250.5h0M543.3 355.8h0M528.7 348.3h0M527.1 343.9h0M658.5 385.4h0M668.7 385.3h0M658.7 393.8h0M596 324.6h0M602.9 331.9h0M609.7 331.4h0M722.8 146.9h0M712 149.6h0M722.2 150.3h0M523.7 68.6h0M525.6 55.6h0M529.7 70h0M743.6 460h0M742.8 471.8h0M756.5 472.9h0M596.2 249.6h0M579.9 253.7h0M587.7 251.2h0M623.7 434.5h0M616.4 437h0M618.7 429.8h0M613.8 87h0M613 97.7h0M602.9 81.8h0M563.6 409.4h0M567.8 402.8h0M565.2 420h0M715.3 259.5h0M705.6 264.1h0M712.8 270.6h0M538.1 437.2h0M542.6 426.8h0M551.4 426.5h0M747.1 361.4h0M748.6 363.9h0M740.6 365.9h0M754.9 263.5h0M760.1 267.7h0M769.3 261.1h0M601.8 222.3h0M600.1 217.2h0M601.6 217.6h0M720.8 341.6h0M725.4 331h0M712.4 341.4h0M600.3 124.8h0M601.2 133.2h0M602 124.9h0M666.6 404.3h0M676.9 414.1h0M666.2 420.2h0M616 303.6h0M607.1 303.2h0M608.8 313.5h0M906.1 187.9h0M906.5 188.8h0M902.8 193.5h0M811.1 232.9h0M804.7 234.2h0M811.3 237.2h0M655.6 351.1h0M661.8 347.1h0M651.9 350.4h0M823 389.2h0M830.7 384.7h0M828.7 383h0M670.2 192.9h0M663.7 192.6h0M679.8 191.9h0M686.6 202h0M684.3 216h0M671.4 206.4h0M619.7 260.8h0M620.1 258h0M613.2 275.4h0M765.3 198.5h0M759.1 199.1h0M758.3 197h0M793.5 350.7h0M795.9 346h0M799.4 359.6h0M540.6 295.8h0M532.5 309.5h0M537.5 308.5h0M910.1 261.5h0M900.7 263.3h0M903.6 252.9h0M556.7 167.9h0M559.8 164.2h0M555.7 166.4h0M706.8 272.1h0M710 269.6h0M707.7 273.3h0M788.6 275.6h0M776.6 276.5h0M783 282.3h0M603.2 339.6h0M614.4 335h0M613.3 328.7h0M670.3 189.8h0M669.2 183h0M661.8 181.9h0M853.6 247.9h0M861.7 236.4h0M850.6 241.3h0M706.4 380.9h0M717.1 368.7h0M721.4 369.8h0M652.5 400.1h0M643.9 391.6h0M657.3 391h0M737.9 223.3h0M754.7 222.7h0M753.7 233h0M541.9 465.3h0M544.6 465.2h0M533.9 476.4h0M984.6 230h0M982.3 225.7h0M979.9 227.8h0M620.6 311.8h0M620.9 310.3h0M617.3 302.2h0M725.2 271.1h0M727 259.5h0M719.7 266.9h0M762.3 275.7h0M751.5 258.3h0M756.5 274.3h0M809.4 372.6h0M792.7 372.9h0M797 371.9h0M907.1 264.9h0M909.7 265.7h0M917.6 270.5h0M565.1 356.9h0M561.1 350.3h0M558.6 356.2h0M509.9 514.9h0M513.5 504.5h0M516.1 516.2h0M778.6 434.6h0M781.2 434h0M781.5 432.8h0M585.2 285.3h0M599.7 286.3h0M598.4 289.8h0M736.8 268.9h0M743 262.3h0M744.3 267.4h0M604.9 314.4h0M601.4 301.6h0M615.9 312.5h0M629.7 163.3h0M629.4 160h0M631.1 156.6h0M787 333.4h0M780.9 349h0M787.3 341.6h0M647.7 281.2h0M659.6 290.6h0M653.5 280.1h0M764.6 468.4h0M762.5 470h0M762.9 459.7h0M523.3 193.1h0M521.6 203.9h0M515.4 194.7h0M781.3 540.9h0M777.7 550.7h0M771.4 540.4h0M743 252h0M729.2 244.7h0M736.7 238.7h0M736.8 391.7h0M730.6 394.5h0M730.5 399h0M706.1 476.5h0M706.8 472.1h0M696.6 481.1h0M696.3 238.9h0M692.2 226.7h0M687.2 224.4h0M777.7 488.8h0M787.6 476.5h0M793.9 471.1h0M818.7 525.2h0M816 535.1h0M818.7 525.9h0M947.1 180.6h0M955.5 176.7h0M949.8 179.4h0M778.7 268.1h0M770.3 268.2h0M777.1 257.3h0M608.5 212.7h0M609.7 206.7h0M595.9 220.1h0M820.8 365.8h0M822 362.1h0M812.1 365h0M532.5 140.3h0M523.9 131.5h0M530.7 139.9h0M649.2 236.8h0M661.3 241h0M653.1 233.3h0M869.5 275.1h0M875.7 264.8h0M876 274.6h0M601.1 143.6h0M605.3 149.1h0M603.4 153.6h0M823 295h0M812.7 285.4h0M821.5 288.3h0M884.1 296.3h0M890.3 288.3h0M886.4 295.1h0M857.9 329.5h0M847.2 327.2h0M855.3 330.8h0M856.5 376h0M846.4 367.2h0M860.8 381.1h0M903.3 317.8h0M886.4 308.2h0M894.6 306.6h0M825.5 356.1h0M827.8 368.6h0M820.9 359h0M854.1 299.7h0M850.5 288h0M850.2 294.5h0M866.5 297.1h0M867.6 306.1h0M856.7 295.5h0M841 337h0M848.2 347.2h0M844 340.5h0M883.6 383.2h0M901.2 377.6h0M885 378.8h0M871 319h0M873.3 326.9h0M864 320.9h0M881.9 330.2h0M879.6 322.3h0M881.3 318.8h0M831.9 288h0M826.8 295.2h0M827.3 289.7h0M815 275.6h0M814 265.5h0M815.3 273.3h0M897.7 236.1h0M903.3 240.8h0M895.4 233.4h0M499.3 346.6h0M499.6 342.8h0M497.3 348.7h0M762.9 401.5h0M758.3 392.3h0M761.7 391.3h0M515.6 336.9h0M513.5 333.1h0M509.6 331.6h0M967.4 242.1h0M960.6 229.2h0M963 238.7h0M1003.1 162h0M1008.8 160.7h0M1009.4 148.9h0M907.2 292h0M919 281.7h0M919.9 295.8h0M463.7 350h0M464.7 351.6h0M463.9 351.7h0M792.8 569.9h0M793.9 560.6h0M801.3 566.2h0M795.8 543.1h0M791.4 539.7h0M782.2 538.5h0M795.6 520.4h0M786.5 529.6h0M794.3 524.2h0M803 551.5h0M800.9 557.7h0M802.7 552.7h0M789.6 552.2h0M788.8 549.8h0M795 559.1h0M778.9 522h0M782.2 521.1h0M773.1 521.3h0M801.3 509.5h0M804.2 508h0M807.7 509.1h0M796.1 498.1h0M782.1 513.2h0M795.7 500.5h0M814.8 537.3h0M804.1 535.7h0M805.4 536.3h0M773.1 506h0M785.8 503.3h0M773.7 499.6h0M786.7 508.6h0M770.5 507.4h0M784.7 510.3h0M824.2 567.1h0M822.7 564.4h0M808.2 561.2h0M812.6 573h0M810.7 570.8h0M815.8 561.2h0M802 495.7h0M804.7 494.9h0M797.7 488.9h0M803.6 579.5h0M810.3 569.3h0M807.9 567.1h0M802.1 533.5h0M802.3 532.1h0M807.4 531.9h0M778.7 504.3h0M770.5 497.8h0M771.1 491.2h0M562.9 348.3h0M561 347h0M563.7 351.5h0M564.7 101.1h0M572 95.4h0M565.6 88.1h0M493.1 194.9h0M498 194.8h0M501.9 204.8h0M514.6 187.7h0M516.4 190.4h0M523.9 182.3h0M745 125.5h0M738.9 117.9h0M741 125.4h0M745.6 170.4h0M739.3 165.9h0M737.5 155.3h0M506 62.6h0M496.1 59h0M493 55.3h0M758.2 207.1h0M752.4 200.3h0M750.6 199.3h0M657.6 174.9h0M661.3 173.5h0M653.6 167.9h0M629.3 171.5h0M618.8 172.4h0M618.2 177.3h0M662.3 134.8h0M658 123.4h0M668.2 122.6h0M530.2 118.6h0M538.3 109.9h0M537.7 112h0M749.8 110.7h0M745.9 112h0M757 116.8h0M545.2 154.2h0M535.9 155.6h0M537.9 156.5h0M731.7 190.9h0M734.5 200.5h0M722.7 190.1h0M770.7 188.6h0M762.1 188.6h0M772.2 185.1h0M746.9 142.1h0M744.9 139.4h0M741.5 142h0M760.3 215.8h0M752.4 206.6h0M753.6 204.5h0M516.1 197.2h0M514.6 191.2h0M512.3 189.6h0M800.1 232.7h0M799.3 227.4h0M803 228.8h0M813.4 358.1h0M800.5 357.3h0M806.8 349.9h0M893.3 240.1h0M877.5 252.3h0M891.1 247.3h0M787.6 512.5h0M785.9 514.8h0M785.6 516.9h0M784.8 258.1h0M781.1 267h0M779.5 259.9h0" stroke-width="2.4" stroke-opacity="0.22"/><path d="M550.9 470.2h0M854.9 199.6h0M785.9 470.1h0M673.1 389.2h0M652.6 401.4h0M527 94.9h0M718.2 432.8h0M674.8 217.9h0M199 218.2h0M551.7 431.4h0M733.8 203.7h0M706.6 431.4h0M674.4 440.1h0M473.4 226.3h0M639.4 400h0M873.7 291.3h0M715.9 356.4h0M693 422.7h0M781.1 347.9h0M984.7 158h0M510.9 203h0M954 203.3h0M520.2 214.9h0M462.5 143.8h0M314.7 362.3h0M501.5 408.4h0M479.7 234.6h0M530.6 352.2h0M843.3 190.8h0M739.3 230.4h0M877.7 196.2h0M726.1 451h0M706.9 462.7h0M613.3 402.3h0M674.4 364.1h0M681.4 353.5h0M642.6 391.9h0M64.3 266.4h0M71.2 299.1h0M644.2 457.4h0M686.6 463.3h0M603.5 484.9h0M613.9 451.7h0M113.8 39.4h0M53 64h0M353.3 298.9h0M837.7 330.6h0M450.4 185.8h0M669.9 207.9h0M567.9 144.7h0M171.5 218.7h0M721.7 445.1h0M830 236.2h0M675.7 216.4h0M526.6 479.9h0M657.3 220.2h0M693.4 462.5h0M496.4 264h0M570.7 157.7h0M725.7 182.2h0M528.1 314.6h0M913.6 242.3h0M625.9 417.4h0M758.1 460.7h0M673.7 383.1h0M43.9 193.3h0M732.6 463.5h0M644.4 445.5h0M909 272h0M763.9 392.5h0M758.8 373.2h0M753 342.5h0M703.4 433.3h0M932.7 210.6h0M940.5 178.1h0M977.8 217.6h0M758.1 209.1h0M506.2 136h0M513.2 396.7h0M794.6 237.9h0M788.4 238.4h0M889.4 188.8h0M667.1 286.7h0M676.6 281.3h0M926.4 208.8h0M507 374.7h0M482.2 343.5h0M443.8 323.6h0M630.4 482.6h0M232 314.4h0M683.8 393.8h0M660.3 344.4h0M900.9 251.7h0M51.3 288.5h0M80.5 306.6h0M602.1 449.5h0M633.5 450.9h0M679.9 466.3h0M62.2 89.1h0M342.9 110.9h0M103.8 109.4h0M317.1 293.3h0M705.7 400.5h0M667.1 418.5h0M928.2 218h0M347.5 263.8h0M494.8 416.4h0M945.3 223.1h0M896 246h0M944.5 247.3h0M765.8 478.2h0M338.3 337.6h0M733.6 448.9h0M495.1 556.8h0M916.7 282.2h0M769.6 397.8h0M528.6 150.3h0M790.6 393.2h0M789.8 491.5h0M817.1 238.1h0M797.6 236.5h0M269 142.2h0M731.7 367.4h0M960 183.8h0M958.8 171.5h0M800.3 242.2h0M496 113.4h0M427.2 426.5h0M533.1 348.2h0M535.2 415.1h0M807.5 256.7h0M831.9 274.9h0M661.5 278.8h0M687.4 325.8h0M801.2 550.8h0M790.6 447.1h0M777.3 421.6h0M690 373h0M642.1 372h0M59.6 298h0M98.8 331.3h0M135.4 338h0M491.3 367h0M695.9 133.6h0M665.3 450.1h0M694.7 471.2h0M499.9 508.6h0M50.3 136h0M369.1 261.3h0M872.5 297.5h0M881.8 304h0M558.1 208.2h0M974.7 214.5h0M646.4 396.2h0M898.9 283.3h0M785.1 388.9h0M790.6 384.9h0M715.6 204.7h0M91.1 128.5h0M256.8 253.8h0M602.4 352.4h0M842.7 369.8h0M232.8 107.8h0M962.7 215.2h0M743.7 177h0M750.2 179.8h0M708.9 152.9h0M573.3 441h0M712.6 182.5h0M788.6 241.5h0M779.6 243.8h0M871.6 187.5h0M709 192.5h0M782.4 290.3h0M763.8 408.5h0M646.6 284.5h0M603.5 409.3h0M647.8 246.4h0M534.6 85h0M508.5 378.6h0M467.8 374.4h0M490.2 391.8h0M78 336.2h0M553.7 343.3h0M596.3 481.1h0M578.3 452.2h0M592.9 479.4h0M37.2 215.1h0M42.5 205.3h0M631.9 291.8h0M604.5 142.4h0M280.4 61h0M393.5 257.3h0M894.1 265.6h0M288.2 241.9h0M253.5 280.7h0M608 354.5h0M368.8 62.2h0M1013 138.8h0M932.2 224.6h0M824.3 380.5h0M748.4 381.3h0M476.8 80h0M930.5 218h0M820.8 384.4h0M916.8 252.8h0M735.1 172.8h0M808.3 295.5h0M371.2 264.9h0M519 426.2h0M727.8 399.4h0M593.2 358.3h0M591.3 241.7h0M800.3 270.3h0M817 278h0M779.5 318.3h0M774.8 257.4h0M697.9 273.6h0M769 252.8h0M610.1 382.3h0M698 338.3h0M629.2 347.1h0M921.3 238.5h0M553.8 401.8h0M491.2 338.7h0M274.8 360.7h0M678.8 474.8h0M23.9 207.6h0M152.4 134.4h0M517 432.9h0M304.6 262.9h0M375.9 318.1h0M819.4 417.4h0M529.8 262.4h0M484.3 108.9h0M359.7 429.1h0M815.8 394.6h0M536.7 296.8h0M709.8 469.2h0M73.2 102.2h0M760.6 244.3h0M580.9 303.3h0M33.2 117.5h0M1018.7 161h0M670 198.3h0M663.7 399.5h0M645.7 411.4h0M965.2 221.9h0M745.9 193.5h0M857 193.8h0M750.7 244.2h0M827 256.3h0M754.5 224h0M708.6 260.9h0M695.8 391h0M617.4 394.2h0M511.6 95.7h0M514.3 82.4h0M682 475.5h0M578.6 475.3h0M513.6 440.8h0M452.4 507.9h0M252.9 136.6h0M277.7 76.1h0M434.8 172.7h0M828.9 362.7h0M474.9 407.4h0M662 194.2h0M48.9 173.6h0M644.6 169.6h0M777.3 416.6h0M169.6 45.8h0M209.8 337.5h0M743.9 430.6h0M743.4 416.5h0M750.8 373.8h0M943.7 169h0M906.6 192.8h0M972 206.5h0M963.1 154.3h0M725.9 189.8h0M497.1 93.4h0M549.9 384.5h0M824.7 227h0M798.7 265h0M810.9 417.2h0M787.9 401.4h0M488.9 349.7h0M785.7 314.5h0M609.5 351.3h0M485.6 468.1h0M304.6 125.5h0M787.8 332.4h0M149.4 85.6h0M628.6 198.7h0M808.7 433.9h0M806.8 267.9h0M55.5 51.9h0M281.5 258.6h0M773.5 200.1h0M764.6 185.6h0M49.3 170.3h0M705.4 457.1h0M682.7 428.1h0M784.3 357.3h0M952.4 209.7h0M505.2 446.5h0M857.4 188.9h0M753.1 255.4h0M774 321.2h0M524.8 206.6h0M616.4 408h0M577.6 388.4h0M572 366.9h0M637.8 347.7h0M209 76.8h0M351.9 292.6h0M487.8 263.1h0M539.6 395.7h0M387.6 237.9h0M439.2 143.9h0M512.4 483.8h0M666 196.1h0M191.6 39.2h0M771.9 227.2h0M707.7 391.2h0M502.6 146.1h0M801.9 259.5h0M665.1 387.1h0M207.4 73.5h0M572 139.4h0M645.2 186h0M540.1 374.7h0M1022.9 164.2h0M635.5 186.3h0M499.2 39.9h0M459.7 150.9h0M800.2 414.8h0M487.7 228.2h0M688.3 385.5h0M725.2 384.9h0M471.5 155h0M472.3 187.9h0M724.2 201.5h0M823.2 250.9h0M847.2 192.8h0M845.9 188.8h0M842 254.3h0M572.7 293.3h0M495.3 318.8h0M598.7 392.7h0M364.1 43.5h0M254.3 121h0M293.6 77.3h0M108.8 132h0M430.9 189.2h0M473.8 174.4h0M67.8 220.3h0M729.9 490h0M724.9 325.7h0M93.1 230h0M726.9 143.8h0M577.2 166.8h0M855.8 384.3h0M747 220.7h0M515 393.3h0M518.3 422h0M552.6 224.8h0M580.5 176.5h0M595.2 456.7h0M963.3 198.1h0M265.5 200.4h0M509.7 421.6h0M821.3 256.8h0M583.2 416.5h0M784.8 413.4h0M492.2 191.7h0M598.3 136.3h0M411.4 216.3h0M719.4 262.6h0M550.4 231.8h0M673.1 419.1h0M919.4 280h0M681.6 297.4h0M146.2 402.1h0M756.3 389h0M799.4 373.7h0M403.9 261h0M687.7 431.7h0M356.5 324h0M133.9 115.5h0M713.2 423.2h0M736 185.4h0M715 408.7h0M771.5 389.1h0M461.7 203.6h0M496 330.2h0M222.7 178.4h0M747.9 248.5h0M374.7 275.1h0M62.4 306.4h0M668.1 223.1h0M645.6 119.8h0M972.1 198.6h0M870.7 349.5h0M563.6 431.6h0M711.6 409.1h0M715.4 235h0M624.4 103.7h0M565.6 419.2h0M740.7 407.6h0M512.6 145.6h0M1002.9 160.6h0M588.3 176.9h0M83.8 289.4h0M722.7 429.5h0M503.4 480.4h0M260.6 433.9h0M131.6 412.7h0M610.8 235h0M636.6 375.2h0M64.5 61h0M473.5 384.7h0M743 253.5h0M366.8 346.7h0M777.1 458.4h0M228.4 334.7h0M772.6 445h0M116.6 279h0M882.1 191.3h0M990.8 181.9h0M159.2 251h0M496.7 490.5h0M539.6 135h0M824.8 386.4h0M468 231.1h0M812.7 329.1h0M625.5 162.3h0M558.2 45.7h0M951.1 219.1h0M592.2 375.1h0M364.5 132.4h0M704.8 214.5h0M844.4 222.3h0M62 77.9h0M468.5 336.9h0M675.4 471.4h0M704.5 292h0M615.5 85.3h0M1028.6 157.3h0M385.3 108.9h0M699 409.3h0M970.9 237.5h0M519.8 258h0M132.5 325.4h0M369.9 267.2h0M786.2 244.5h0M142.5 147.6h0M776 515.7h0M798.4 327.2h0M197.9 408.1h0M57.8 43.9h0M701.5 284.9h0M978.2 154.2h0M565.3 482.9h0M795.1 415.8h0M571.9 216.4h0M170.9 179.4h0M981.2 208.8h0M596.6 347.9h0M568.8 485.4h0M793.7 458.2h0M566.7 107.6h0M721.5 315.4h0M725.9 210.2h0M237.7 119.1h0M502.1 122.7h0M942.8 156.8h0M160.8 336.9h0M476.9 223h0M842.7 194.8h0M829.4 355h0M496.5 224.1h0M533.1 339.1h0M59.8 52.7h0M611.3 362.2h0M183.6 421.5h0M705 334.6h0M522.5 111.5h0M784.1 420.5h0M234.3 412.3h0M214.8 204.5h0M261.8 123.6h0M669.2 231.4h0M679.5 230.2h0M595.9 199.6h0M682.4 232.5h0M650.7 221.6h0M74.1 315.1h0M326.8 253.5h0M1034.7 95.2h0M442.9 278.4h0M144.7 397.4h0M734.5 414.7h0M594 191.5h0M226.9 318h0M809.9 393.7h0M953.8 212.8h0M516.7 250.6h0M768.3 385.3h0M703.1 468.2h0M670 341.3h0M307 327h0M527.4 469.5h0M696 265.7h0M773.9 507.7h0M891.2 298.9h0M648.5 328.7h0M726.8 377.3h0M250 415.6h0M819.3 423.5h0M578.2 270.2h0M613.9 178.6h0M69.9 269.9h0M610.2 220.4h0M243.6 70h0M555 216.5h0M752.4 442.8h0M631.6 393.4h0M522.2 69.6h0M687.1 342.3h0M663.6 153.2h0M770.6 525.9h0M119.5 395.2h0M671.7 264.2h0M627.6 169.6h0M580.6 241.1h0M956.8 184.2h0M503.7 275.6h0M385.2 435.4h0M542.5 318.7h0M299.9 155.6h0M807.7 518.4h0M972.3 188.3h0M377.4 292.8h0M886 341.3h0M134.7 402.2h0M345.8 195.5h0M638 298.2h0M518.6 362.2h0M842.9 403.9h0M110.5 353.8h0M506.4 530h0M152 418.6h0M526.2 442h0M607.1 417.5h0M665.8 380h0M458.7 257.9h0M562.6 241h0M727.7 407.8h0M639.5 251.7h0M764.4 491.9h0M802.2 400.5h0M674.5 309.2h0M396.8 175.2h0M612.8 350.2h0M725.5 135.7h0M584.5 480h0M786.5 438.5h0M543.8 477.1h0M108 283.9h0M744.1 459.1h0M766.6 276.4h0M375.4 237.8h0M890 215.7h0M731.5 390h0M400.2 113.1h0M838.1 201.6h0M642.9 114.8h0M551.2 162.8h0M490.4 45h0M409.7 55.1h0M732 132.6h0M160.8 381.3h0M518 424.6h0M831.9 343.4h0M766.5 430.6h0M628.1 207.9h0M692.3 295.2h0M941 196h0M797 503.6h0M562 398.8h0M149.3 66.2h0M740.7 233.5h0M365.1 198.3h0M722.4 456.9h0M411.4 97.2h0M236.7 137h0M116.9 361.7h0M583.9 295.1h0M873.6 274.2h0M732.8 384.2h0M683.9 260.4h0M901.3 285.3h0M672.2 219.8h0M856.2 378.1h0M768.8 453.6h0M322.7 330.4h0M237.5 279.5h0M573.7 431.1h0M760 212.5h0M498.2 389.6h0M839.8 237.3h0M425.5 359.2h0M481.2 62.3h0M57.4 308h0M245.1 406.6h0M771 298.6h0M907.4 257.3h0M332.6 428.6h0M402.9 415.8h0M416.3 435.6h0M436 350.9h0M232.3 400.5h0M405.1 439.8h0M395.6 476.4h0M440.2 351.2h0M418.6 373h0M254 425.5h0M234.4 422.2h0M339.2 385.9h0M302.7 413.8h0M373.2 216.3h0M99.5 81.4h0M571.5 207h0M199.6 383.2h0M958.5 195.8h0M698.5 417.5h0M392.4 150.2h0M548.4 492.5h0M959.3 146.3h0M648.2 202.7h0M563 217.4h0M556.5 190.8h0M508.4 326.5h0M653.9 119.7h0M427.9 333.8h0M791.3 372.5h0M648 344.2h0M29.5 246.2h0M712.5 224.4h0M527.5 492.6h0M590.4 416.6h0M472.5 368.7h0M875.7 213.7h0M347.3 446.7h0M195.7 281.4h0M856 215h0M529.9 303.6h0M138.4 398h0M865.1 340.8h0M657.1 299.5h0M210.2 248.2h0M678 203.2h0M599.7 455.3h0M555.8 183.3h0M864 357.5h0M483 433.8h0M45.5 165.5h0M163.5 177.5h0M803 503.8h0M596.1 80.7h0M552.7 256.8h0M685.1 310.4h0M896.7 276.3h0M982.1 225.4h0M510.5 309.9h0M873 376.5h0M924.5 248.8h0M641.5 236.7h0M764 438.1h0M530.1 408.2h0M465.9 393.9h0M540 371.6h0M533 369.2h0M553.9 439.6h0M507.6 435.1h0M452.1 383.8h0M515.6 388.5h0M480.1 371.4h0M521.2 406h0M521.4 435.6h0M536.4 439.1h0M816.1 548.7h0M525.5 422.8h0M431.9 411h0M546.2 422.6h0M547 416.7h0M530.7 391.2h0M528.1 368.7h0M610.4 439.3h0M525.8 376.2h0M518.7 94h0M581.5 160.5h0M275.1 232.2h0M206.2 57h0M578.9 147.8h0M867.1 278.7h0M754.3 241.2h0M648.3 211.7h0M524 230.8h0M530.5 110.5h0M732.1 307.1h0M752.9 298.9h0M276.3 451.3h0M967.7 204.2h0M667.9 174.3h0M252.5 375.1h0M817.3 564.2h0M594.4 349.6h0M125.6 276.8h0M314.1 339.6h0M786.6 553.9h0M668.5 296h0M565.7 204.2h0M539.3 289.5h0M813.4 535.6h0M785.3 368.7h0M701.1 299.7h0M561.7 177.4h0M555.4 315.8h0M562.6 370.7h0M943.7 145h0M409.4 465.4h0M386.1 389.4h0M617 249.6h0M380.2 270.1h0M604.9 292h0M508.9 425.2h0M139.4 402.6h0M726.9 242h0M669.3 302.6h0M916.4 236.8h0M759.2 237h0M884.8 184.7h0M139.8 290.1h0M465.6 349.5h0M870.8 284.4h0M781.3 292.1h0M362.4 159.9h0M448.6 312.9h0M542.6 349.6h0M244 357.2h0M561.3 225.1h0M769.6 351.8h0M241.3 410h0M316.8 155.7h0M561.2 233.7h0M832.2 414.7h0M591.8 224.6h0M788.6 524.1h0M816.2 226.6h0M756.8 359.2h0M431.2 279.8h0M511.9 407.4h0M553.7 499.5h0M574.8 303.1h0M777.9 381.4h0M320 374.5h0M779.3 490.8h0M507.9 359.4h0M962.6 233.7h0M563.6 280.7h0M657.5 476h0M491.9 242.3h0M500.5 462.2h0M721.1 196.2h0M716.2 229h0M821.1 353.9h0M780.3 380.4h0M257.9 79.1h0M503.2 470.3h0M434.6 340.9h0M751.4 393.9h0M639.3 410.7h0M503.9 112.2h0M856.5 368h0M378.6 254.9h0M239.8 412.3h0M687.2 226.8h0M693.8 454.9h0M693.6 374.7h0M548.5 342h0M592.6 311.8h0M579.4 367.8h0M608.2 284.7h0M526.4 346.5h0M518.8 347.6h0M615 271.5h0M58.4 322.2h0M719.8 218.6h0M434.1 44.6h0M478.6 378.3h0M562.3 147h0M516.4 45h0M633.3 473.6h0M476.4 497.6h0M414 117.5h0M951.7 223.9h0M710.9 273.8h0M722.2 245h0M133.1 401.5h0M541.5 399.1h0M971.5 159.4h0M574.9 286.6h0M109.9 349h0M643.9 357.4h0M464.6 279.6h0M846.7 263.1h0M695.4 305.5h0M545.1 227.6h0M846.4 348.1h0M756.6 284h0M770.3 462.4h0M493.4 159h0M546.2 491.7h0M583 200.1h0M32.7 92.6h0M774.9 410h0M503.7 561h0M518.8 295.6h0M666.8 315.5h0M898.6 373h0M489.8 250.9h0M823 312.3h0M698.6 386h0M127.7 298.8h0M958.9 242.5h0M689.1 277.9h0M1038.8 114.7h0M629 493.4h0M686.4 337h0M269.8 301.7h0M947.5 235.3h0M286.7 50.7h0M817.9 391.1h0M815.7 565.6h0M285 106.1h0M499.9 486.6h0M614.9 117.2h0M433.3 84.2h0M614.3 469.5h0M807.6 222.9h0M677.5 321.6h0M745.6 259.4h0M792.1 320.3h0M748.5 272.3h0M758.7 275.1h0M721.1 280.8h0M704.2 297.9h0M751.1 314.6h0M750.8 276.7h0M734.5 282.3h0M743.8 277.6h0M744.6 286.5h0M752.7 262.1h0M760 259.8h0M710 297.5h0M780.6 272.3h0M704.6 316.1h0M754.7 250.7h0M838.9 190.7h0M545.1 484.8h0M550.8 248.1h0M245.3 180.6h0M416.6 192.7h0M585.3 448.2h0M582.2 206.2h0M200.7 374.7h0M211.9 372.4h0M685 228.7h0M605.9 206.6h0M960.2 223.8h0M636.5 270.4h0M679.4 239.8h0M503.1 461.8h0M432.6 253.1h0M794.9 557h0M722.1 293.9h0M709.8 270.6h0M707.2 271.7h0M404.3 447.2h0M579.8 50.1h0M816 353.1h0M613.1 226.3h0M182.5 424.9h0M943.7 246.4h0M709.4 118.6h0M741.4 282.6h0M883.5 205.7h0M252.8 414.8h0M716.1 247.2h0M1004.4 169.6h0M539.2 488.2h0M142.1 363.6h0M101.9 386.7h0M982.2 168.8h0M629.2 359.8h0M465.9 473.8h0M602.2 297.7h0M202.6 200h0M786.3 452h0M931.5 250.1h0M833.3 213.9h0M521.4 96.1h0M760.6 320.4h0M485.3 93.7h0M673.5 229.2h0M547.3 445.3h0M840.9 257.7h0M658 202.6h0M696.6 352.1h0M559.1 168.9h0M791.4 428.9h0M737.8 219.5h0M863.8 286.5h0M504.2 244h0M820 427.7h0M740.2 390.1h0M592.8 308.7h0M761.6 325.1h0M612.1 319.9h0M531.3 231.6h0M495.2 277.4h0M741.3 295.1h0M550.5 330.2h0M552.6 298.9h0M537.3 267.3h0M671.2 270.2h0M51.3 114.9h0M131.5 362.1h0M159.1 345.8h0M169.2 415.8h0M154.4 398h0M190.4 356.6h0M152.5 413.8h0M151.3 391.7h0M624 480.9h0M580.9 460.1h0M592.6 468.8h0M636.1 495.9h0M92.1 375.9h0M149.8 397.1h0M133.5 388.9h0M138.8 374.8h0M580.3 481.7h0M108.8 364.4h0M189.3 325.7h0M349.3 358.8h0M737.8 198.7h0M359.9 234.1h0M190.1 354.3h0M490 387.5h0M131.8 401.1h0M429 407.1h0M830.7 258.6h0M449.4 238.5h0M444.4 332.8h0M836.9 386.6h0M767.6 269.4h0M923.2 250.6h0M423.9 120h0M737.5 310.4h0M555.7 458.7h0M729.1 421.2h0M249.2 222.7h0M79 290.4h0M772.4 270.8h0M866.2 238.3h0M601 384h0M928.2 162h0M96.1 213.7h0M563.6 322.8h0M818.5 553.8h0M305.2 197.8h0M519.7 245.1h0M654.9 113.9h0M795.1 225.2h0M886.4 262.2h0M128.9 263.5h0M94.9 385.4h0M771.6 382.3h0M471.3 534.6h0M529.8 198.7h0M618.3 171.6h0M583 152.9h0M369.5 363.7h0M570.9 250.2h0M194.2 238.7h0M979.1 200.2h0M292 90.6h0M683.7 293.7h0M562.9 119.2h0M465.6 246.5h0M524.1 450.2h0M493.4 303.4h0M749 400.3h0M686.9 353.2h0M597.4 376.3h0M648.2 365.3h0M646.6 352.2h0M628 331h0M580.8 320.4h0M656.3 436h0M655.9 466.9h0M677.2 369.7h0M705.2 347.7h0M671.4 333.6h0M619.7 380.7h0M565.5 388h0M667.9 402.6h0M649.4 382.4h0M658.3 402.2h0M605.5 326.4h0M568.9 335.9h0M659.9 457h0M627.2 373h0M614.5 390.9h0M319.7 55.5h0M647.1 474.3h0M702.5 381.2h0M696 344.2h0M634.5 384.8h0M756.2 425.1h0M422.2 443.8h0M921.6 147.2h0M831.9 395.9h0M641 342.7h0M454.3 129.6h0M705.7 358.8h0M632.4 459.9h0M736.9 121.4h0M94 327.4h0M451 260.3h0M754.6 427.9h0M698.8 248.4h0M870.6 359.1h0M424 441.8h0M878 260.6h0M681.1 222.8h0M831.4 382.7h0M663.2 435.5h0M455.2 327.5h0M641.2 377.2h0M93 325.2h0M107.7 288.3h0M537 213.3h0M493.2 562.1h0M637.4 152.6h0M896 319.2h0M697.8 224.7h0M922.8 229.4h0M705.4 436.2h0M821.5 273.4h0M496.8 174.2h0M521.3 285.1h0M583.4 286.1h0M782.8 434.7h0M580.7 141.9h0M117.7 367h0M588.5 214.9h0M678.5 194.6h0M660.3 364.9h0M544.7 363.7h0M570.6 163.1h0M603.7 461.6h0M537.2 380.7h0M762 418h0M604.3 431.8h0M124.1 319.7h0M536.5 157.3h0M920.1 246.3h0M47 138.5h0M610.1 334h0M816.3 408.8h0M741.5 366.1h0M494.8 449.6h0M622.9 297.7h0M672.3 470h0M86.1 319.7h0M759.5 352.1h0M438.7 58.4h0M533.9 129h0M588.7 375.1h0M953.3 163.5h0M613.7 242.8h0M897.2 357.9h0M703.2 355.9h0M856.1 279h0M879.9 383.9h0M791.2 360h0M551.7 418.6h0M209.1 94.1h0M912.4 145.1h0M636.2 484.5h0M884.3 280.8h0M964.8 239.7h0M538.5 144.3h0M661.3 303.8h0M988.2 232.2h0M676 190.6h0M115.4 86.4h0M810.1 345.9h0M496.4 426h0M638.1 358.4h0M154.5 425.3h0M173.1 146.3h0M839.2 406.8h0M75.1 286.1h0M920.5 211h0M887.9 203.2h0M953.5 235.1h0M921.9 242.8h0M924.4 263.5h0M902.2 210.3h0M937.7 164.6h0M883.7 223.8h0M905.1 229.2h0M915 226.7h0M897.6 259h0M908.5 204.9h0M862.3 265.7h0M932.3 227.8h0M914 272.9h0M909.3 251.3h0M916.8 260.1h0M920.8 224.2h0M504.1 44.2h0M462.8 70.9h0M424.9 47.3h0M443.2 82.6h0M967.8 174.1h0M563.7 314.6h0M81 258.5h0M90.7 322.8h0M32.8 248.2h0M37.5 240.5h0M138.1 343h0M42.8 277.9h0M64.8 271.6h0M69.7 295.8h0M59.3 230.2h0M520.4 367.5h0M36 282.3h0M74.4 285.4h0M502 338.5h0M100.2 228.4h0M49.6 293.5h0M491.9 353.6h0M56.5 305.3h0M89 302.6h0M78.9 220.3h0M60.1 251.6h0M72.7 306.8h0M77.5 241.1h0M862.8 381.8h0M71.6 340.9h0M780.2 501.5h0M729.5 219.2h0M447 285.8h0M507.6 218h0M901.3 151.5h0M900.2 203.9h0M452 269h0M150.7 416.7h0M711.4 252.7h0M853.3 285h0M769.2 422.1h0M849.2 211.8h0M361.7 62.8h0M51.2 92.6h0M509.2 230.9h0M644.6 378.6h0M673.5 294.7h0M605.4 201.1h0M535.2 234.3h0M111.9 52.9h0M485.1 206.2h0M156.7 168.1h0M30.5 154.1h0M482.8 413.8h0M596.1 236.2h0M106.4 122.7h0M678.4 218.1h0M958.2 203.8h0M888.1 336.2h0M796.1 514.3h0M51 46.2h0M759.4 157.3h0M666.7 169h0M649 419.4h0M27.1 183h0M506.9 372.7h0M74.2 277h0M719.6 287.3h0M628.7 189.4h0M582.4 165.5h0M978.2 213h0M907.4 304.1h0M943 230.1h0M734.3 276.7h0M700.6 233.7h0M117.4 395.5h0M585 234.4h0M846.9 231.7h0M231 433.1h0M270.5 413.8h0M243.1 371.5h0M284.3 437.4h0M828.2 262.6h0M246 384h0M823 260.2h0M62.3 67.8h0M662.8 332.4h0M65.3 323.4h0M781.2 525.4h0M124 125.7h0M588 232h0M872.8 202.1h0M488.1 505.9h0M256.5 335.5h0M631.7 354.7h0M866.9 364.2h0M807.6 549.9h0M774.7 195.5h0M433 167.4h0M246.4 412h0M646.3 249.5h0M771.9 527.2h0M509.2 562.3h0M732.5 424.7h0M456.5 159h0M549.9 94.5h0M734.1 128.9h0M285.9 198.3h0M513.6 339.8h0M909.4 263.2h0M1042.9 138.4h0M691.2 474.6h0M143 397.9h0M542.1 326.4h0M626.9 273.5h0M667.2 474.8h0M527.9 169h0M682.6 272.1h0M701.6 445.9h0M566.3 221.7h0M543.1 407.7h0M854.3 244.3h0M940.2 207.3h0M807.9 330.7h0M984.5 191.4h0M165.8 403.5h0M910.5 151.6h0M758.8 201.5h0M120 355.4h0M632.9 200.9h0M995.3 215.9h0M89.7 294.7h0M883.7 338.7h0M503.8 366.4h0M562.3 99.1h0M678.4 214.8h0M993.7 177.4h0M53.7 78.9h0M752.5 431.8h0M986.2 219.8h0M448.2 346.9h0M418.9 401.5h0M353.3 355.5h0M80.1 277.8h0M422.3 417.6h0M294.8 397.1h0M437.8 399.8h0M420 387.6h0M378.4 379.5h0M100 314.4h0M46.2 252.2h0M96.6 339.2h0M44.1 260.1h0M149 400.9h0M406.8 167.5h0M43.1 187.4h0M62.9 261.6h0M808.5 423h0M622.9 130.8h0M892.3 256.2h0M546.6 241.3h0M82.6 162.3h0M295.6 138.7h0M657 212.9h0M509.6 519.4h0M596.3 153.8h0M650.4 127.4h0M70.6 326.3h0M868.1 322.4h0M244.8 294.4h0M310 191.7h0M1015.4 167.1h0M514.6 523.6h0M558 377.6h0M299.2 227.4h0M115.7 110h0M727.6 392.3h0M731.2 211.5h0M107.4 276.8h0M63.5 78.9h0M820.5 326.5h0M861.7 190.4h0M587.9 125.7h0M380.4 414.9h0M503.6 269.4h0M609 132.8h0M299.1 363.8h0M646 138.4h0M545 39.9h0M482.9 291.3h0M788.6 554.9h0M380.9 339.6h0M810.7 363.9h0M781.5 441.3h0M768.3 345.9h0M533.6 355.2h0M857.8 359.3h0M250.1 172.7h0M261.4 439.6h0M663.7 189.1h0M737.6 399.6h0M598.3 122.5h0M765.9 278.1h0M247 60.8h0M55.5 213h0M24.2 191.2h0M81.7 166.2h0M104.3 68.9h0M77.2 171.7h0M149.6 46.3h0M205.3 60.6h0M460.8 38.4h0M50.7 155.3h0M50.6 52.4h0M495.6 80.7h0M82.4 151.9h0M194.6 79.4h0M106.9 112.4h0M65.5 67.8h0M34.9 132.8h0M63.3 83.2h0M184 57.7h0M62.7 71.9h0M165.5 179h0M169.9 105.2h0M119.7 97.2h0M295.9 49.4h0M164.6 83.2h0M157.7 163.4h0M87.4 87h0M108.2 62.5h0M289 424.5h0M646.2 307.8h0M489 494h0M687.5 108.8h0M106.1 390.6h0M679.3 174.3h0M706.8 224.6h0M91.7 372.9h0M707 417.7h0M523.1 185.7h0M505.3 157.8h0M447.6 123.1h0M448.9 172.3h0M461 170.9h0M717.2 307.2h0M248.2 408h0M876.2 245.8h0M494.3 438h0M633.1 289.9h0M250.4 381.4h0M797.8 509.5h0M464.4 183.7h0M151.2 73.8h0M638.9 216.5h0M972.5 219.5h0M539.5 492.2h0M586.5 147.1h0M218 331.8h0M536.3 188.2h0M336.5 149.3h0M686.5 285.7h0M720.3 125.8h0M551.6 208.4h0M49.4 145.8h0M560.3 351.9h0M923.8 159h0M503.7 293.1h0M540.1 417.9h0M727.7 238.1h0M74.7 295.3h0M915.5 250.4h0M95 380.3h0M141.4 406.8h0M672.8 374.4h0M444.6 427.9h0M516.4 370.3h0M74.4 341.4h0M408.1 239.1h0M282.3 394.1h0M785 380h0M772.9 530.1h0M550.3 494.6h0M646.6 223.8h0M62.9 322.3h0M720.9 354.9h0M774.3 537.6h0M362.4 411.4h0M489 498.1h0M606.4 124.8h0M661.5 412h0M552.8 270.4h0M403.1 250.6h0M634.4 294.1h0M816.1 541.9h0M521.5 360.8h0M687 147.4h0M629.2 296.1h0M603.3 100h0M315.5 429.1h0M802.9 361.3h0M925.7 229.5h0M513.4 244.7h0M453.3 432.7h0M804.4 305.9h0M704.6 365.8h0M889.8 190.6h0M750.2 451.9h0M120 392.3h0M667.7 373.7h0M494 461.4h0M515.9 466.1h0M488.7 402.8h0M503 529.9h0M544 457.2h0M505.7 524.6h0M481.2 479.4h0M521.1 512.1h0M383.8 328h0M652.9 276h0M788.9 432.4h0M397.1 374.1h0M683.6 416.6h0M331.3 416.3h0M661.5 357.6h0M708.1 369.8h0M187.7 76.7h0M640.2 351h0M742.1 476.2h0M115.3 352.6h0M757.5 454.6h0M586.7 225.4h0M590.1 168.1h0M761 387h0M712.3 445.5h0M751.8 227.5h0M540.1 286.7h0M387.2 216h0M774.6 525.9h0M155.4 309.8h0M776.9 345.5h0M100.7 280.9h0M528.5 427.5h0M172 407.9h0M576.5 263.1h0M131.2 375.2h0M836.1 365.3h0M60.2 129.5h0M758.5 219.1h0M913 258.6h0M662.9 394h0M750.5 465.7h0M240.3 250.7h0M609.6 90.6h0M569.3 411.6h0M280.4 390h0M763.8 267.4h0M718.7 339.9h0M240.3 188.2h0M196.5 203.3h0M223.2 109.6h0M248.2 215h0M248.9 271.2h0M288 179.8h0M204.7 355.6h0M262.8 175h0M275.6 260.6h0M179.7 190.1h0M272.2 323.9h0M605.3 130.6h0M669.8 411.4h0M902.7 189.7h0M822 390.1h0M672.4 192.3h0M21.5 67h0M619.4 266.4h0M766.9 201.5h0M902.8 254.9h0M711.7 266.6h0M780 283.4h0M649.2 391.5h0M976.3 228.8h0M620 305.9h0M724.6 268h0M565.2 348.4h0M68.1 302.6h0M777.5 438.5h0M291.2 254.7h0M738.8 260.3h0M189.3 351.4h0M114.1 349h0M655.8 288.5h0M761.3 468.1h0M516.6 199h0M733.1 397.2h0M954.1 184.9h0M775.9 264.5h0M55.6 127.7h0M656 233.2h0M885.8 288.9h0M855.2 373.2h0M846.9 296h0M861 297.8h0M840.7 340.3h0M871.5 322.5h0M119.7 67.4h0M59.5 64.9h0M127 82.4h0M894.4 234.5h0M501.2 347.7h0M131.7 394.2h0M135.1 383.8h0M142.5 244h0M911.3 288.1h0M795.1 568.6h0M787.1 541.7h0M805 512.7h0M790.4 506.6h0M798.4 495.4h0M810 526.2h0M775.7 497.7h0M565.5 92.1h0M739 126.8h0M450.2 116.2h0M745.1 162.5h0M624.7 179h0M752.9 117.7h0M540.4 162.4h0M423.2 67h0M746 143.5h0M807.9 235.3h0M274.5 399.8h0M805.9 349.9h0M304.1 376.3h0M786.1 266.4h0M921.7 260.2h0M936.9 232.2h0M916 260.8h0M936.1 255.1h0M924.2 251.1h0M938.2 250.8h0M918.5 243.9h0M923.1 253.2h0M935.7 244.8h0M925.7 255.8h0M949.4 258.9h0M909.5 245.5h0M913.6 237.3h0M945.9 262.7h0M934.2 227.2h0M943.2 254.4h0M950.7 240.9h0M927.7 242.7h0M910.7 227.1h0M934 252.8h0M945.9 256.9h0M925.8 261h0M937.7 245.9h0M941.4 254.9h0M940.3 252.6h0M933.3 249.7h0M939 249.7h0M921.4 242.7h0M889.1 252.6h0M939.8 254.3h0M947.6 223h0M937.5 224.7h0M923.6 247.7h0M154.8 398.6h0M153.2 414.9h0M136.2 397h0M140.2 398.4h0M150 394.5h0M145.6 399.1h0M138.5 394.7h0M131.8 397.9h0M125.5 391.6h0M147.8 408.6h0M143.4 401.8h0M104.7 398.6h0M147.8 398h0M138.3 397.4h0M142.5 407.2h0M120.3 382.6h0M158.8 426.3h0M134.8 369.1h0M90.2 430.2h0M153.9 399.3h0M155.3 401.9h0M119.7 398.3h0M181.6 396h0M149.5 397.6h0M145.3 394h0M142.5 386.3h0M133 392.9h0M134.3 405.9h0M133.8 412.4h0M131.8 396.1h0M144.9 403.7h0M121 403.8h0M119.5 386.1h0M131.6 399.3h0M134.6 410.4h0M125.1 399.9h0M153.4 399.3h0M141.1 400.4h0M110.2 397.9h0M139 414.2h0M152.9 418.8h0M135.2 394.6h0M110.3 410.4h0M160.4 395.8h0M117.1 404.2h0M133.1 417.8h0M118.2 431.2h0M128.6 407.7h0M140.5 372.7h0M118.7 411h0M126.9 406h0M109.3 419.5h0M133.1 397.2h0M150.8 416.4h0M141.3 441h0M166.7 407.5h0M700.4 226.9h0M676.3 221.5h0M684.4 222.5h0M688.8 211.1h0M655.7 222.1h0M692.4 226.5h0M680.7 212h0M696.1 262.2h0M708.1 220.3h0M702.2 230.8h0M704.9 247.7h0M661.4 220.2h0M650.3 230.1h0M679 208h0M686.3 213.8h0M676.4 229.5h0M681.4 212.4h0M687.2 211.9h0M647.6 219.1h0M682 215.8h0M668.4 229.5h0M678.1 207.4h0M699 214.1h0M672.9 211.8h0M663 222.7h0M669 223.1h0M682.8 242.7h0M683.6 225.1h0M681.6 223.7h0M691.3 221h0M681.3 225.8h0M674.7 230h0M684.2 214.1h0M680.6 205.4h0M677.2 224.6h0M674.8 218.3h0M697.3 235.9h0M683.7 222.7h0M672.1 228.4h0M689.7 210.3h0M689 219.9h0M699.4 208.4h0M519.9 482.1h0M536.5 486.2h0M541.1 485.9h0M549.6 487.6h0M539.8 492.7h0M541.8 501h0M518.1 493.1h0M542.3 493.7h0M550 504h0M541.6 492h0M545.3 487.1h0M539 490.4h0M549.4 495.3h0M551.5 495.1h0M543.6 469.4h0M547.6 484.4h0M537.7 491.6h0M540.5 493.8h0M553.9 484.5h0M544.7 484h0M545.2 486.5h0M544 492.1h0M523.5 511h0M540.5 481.3h0M563.5 483.3h0M561.3 484.8h0M550 468.5h0M558 483.3h0M556.5 495.5h0M534.3 486.9h0M558.8 488.4h0M560.1 486.8h0M547.6 484.9h0M245.9 422.2h0M246.4 418.2h0M242.2 411.8h0M247.1 409.1h0M249.7 412h0M251.2 424.7h0M236.8 413.8h0M237.6 421.1h0M247.2 415.5h0M251.1 412.3h0M242.7 405.6h0M243.3 407.5h0M244.8 416.9h0M241.6 409.5h0M225 422.2h0M245.3 408.6h0M242.4 412.6h0M234.9 417.6h0M253.9 418.9h0M226.5 405.3h0M224.1 401.5h0M245.1 403.9h0M233 409.6h0M265.5 425.6h0M244.5 414.3h0M241.5 407.5h0M249.3 406.4h0M248.9 404.5h0M267.3 416.2h0M240.5 402.8h0M246.1 406.6h0M914.9 271.6h0M889.3 264.8h0M912.2 263.2h0M904.7 249h0M912 278.5h0M906.7 271.4h0M911 262.9h0M907.6 268.6h0M896.1 275.7h0M895.3 285.2h0M914 267.8h0M911.3 262.1h0M908.9 259.8h0M902.3 269.8h0M909.7 286.5h0M915.6 248.9h0M900 265.3h0M902.4 262.4h0M919.3 267.4h0M909.2 279.1h0M909.1 268.6h0M918.1 270.1h0M894.4 273.7h0M927.9 261.8h0M472 501.3h0M492.8 502.4h0M500.4 498.8h0M499.2 503.2h0M495.9 504.1h0M493.8 484.4h0M485.9 496.5h0M484.3 491h0M487.5 497.3h0M484.2 480.1h0M504.5 493.2h0M492 496.1h0M493.3 492.9h0M488.3 488.8h0M493 506.5h0M489.6 505.3h0M497.5 490.7h0M501.2 498.2h0M482.1 504.2h0M498.2 492.6h0M152.9 423.7h0M156.5 430.8h0M148.3 433.5h0M165.7 414.1h0M155.9 428.9h0M138.5 446.4h0M154.2 433.8h0M159 424.1h0M142.5 425.7h0M146.9 422.7h0M166.5 427.3h0M150.7 436.3h0M150.7 420.8h0M515.2 417.1h0M519.9 436.9h0M533.9 445.2h0M524.3 424.8h0M529.4 440.5h0M523 424.6h0M543 441.6h0M515.4 447.1h0M524.5 443.2h0M522.2 425.3h0M512.5 418.3h0M509.6 426.5h0M505.6 414h0M529.1 418.5h0M521.4 413.4h0M520.8 433.6h0M486.1 422h0M529.4 422.4h0M527.6 425.1h0M524.5 427.6h0M501.7 434.3h0M508.6 420.4h0M502 429.3h0M524.3 438.4h0M522 420.8h0M524.9 431h0M517.6 437h0M523.3 413.5h0M494.5 413.5h0M521.5 421.5h0M521.3 430.7h0M488 422.9h0M507.1 424.3h0M508.3 425.1h0M494 415.4h0M511.4 416.4h0M513.6 411.7h0M516.6 420.9h0M496.7 427.2h0M507.6 421.4h0M487.5 426.9h0M513.3 432.1h0M514.4 426.7h0M504.4 421.4h0M527.6 428.8h0M511.9 421h0M485.5 425.3h0M500.4 418.5h0M504.6 433.5h0M518.1 425.9h0M504.5 420.2h0M78.3 325h0M63.8 325h0M82 331h0M65 319.1h0M71.7 331.3h0M51.9 334.8h0M59.1 336.2h0M71.2 318.8h0M71 330.2h0M63.2 338.1h0M80.7 325.1h0M69.9 328.8h0M73.4 330h0M71 328.1h0M71.6 331.6h0M67.8 327.8h0M67.1 311.6h0M507.4 476.1h0M505.6 476.3h0M498.7 470.9h0M501 470.8h0M510.3 476.2h0M501.1 471.5h0M504.8 467.5h0M504.1 470.2h0M500.7 469.8h0M508.7 477.3h0M497.1 482.6h0M507 466.6h0M500.2 474h0M498.4 470.5h0M504.1 472.4h0M495.9 492.5h0M498.5 471.6h0M499.3 476.7h0M503.6 473.2h0M502.5 475.7h0M787.3 475.8h0M792.9 471.7h0M793.7 474h0M800.3 480.1h0M792.4 470.4h0M792.3 484.6h0M786.1 475h0M788.1 481.1h0M787.6 480.1h0M779.6 465.8h0M788.3 470.5h0M781.8 477.3h0M792 484.9h0M60.2 312.2h0M60 314.9h0M60.5 323.7h0M50.3 318.2h0M62.6 308.8h0M71.5 311.8h0M64.8 312.7h0M66.5 313.4h0M63.6 311.3h0M56.8 322.1h0M55.8 316.9h0M59.5 312.6h0M58.7 311.9h0M64 325.3h0M62.4 318h0M73 318.9h0M56.5 313.2h0M84.2 314.8h0M69.3 313.3h0M67.1 307.8h0M62.5 320.9h0M65.5 319.1h0M68.9 318.3h0M769.2 263.6h0M763.3 261h0M768.2 271.2h0M759.2 248.9h0M762.3 265.4h0M784.1 255.7h0M769.1 261.4h0M760.9 263.3h0M751 283.3h0M761.4 248h0M759 262.4h0M748.4 271.4h0M770.8 266.3h0M766.9 269h0M760.8 264h0M782.1 267.5h0M769 267.6h0M764.7 273.6h0M758 263.8h0M756.9 272.2h0M710.1 274.8h0M707.8 262h0M736.2 278.5h0M706.2 264.9h0M714.8 270.1h0M701 268h0M711 283.3h0M708.1 276.4h0M721.1 262.9h0M713.1 273.4h0M707.2 263.7h0M723.5 260.3h0M701.6 263.9h0M707.9 273.1h0M697.6 269.3h0M719.8 265.6h0M707.9 283.8h0M709 272.6h0M703.5 265.8h0M794.8 365.4h0M813.2 380.7h0M798.7 368.6h0M807.7 369.8h0M791.9 371.2h0M801 376.5h0M792.9 377.7h0M787.4 364.2h0M807.7 371.1h0M807.6 373.5h0M797.4 378.8h0M793.7 376.2h0M802.3 368.2h0M52 75.6h0M68.6 88.3h0M33.9 75.3h0M47.8 63.5h0M57.2 77.2h0M49.7 84.1h0M54 68.9h0M51.6 74.1h0M68.1 73.1h0M59.9 78.5h0M70.7 87.5h0M64.7 79.1h0M62.9 75.1h0M57.6 71.9h0M58.9 64.6h0M66.6 79h0M58.3 75.4h0M54.9 79.9h0M61.7 98.8h0M62.9 96.1h0M66.9 77.9h0M58.7 81h0M65.2 85.6h0M63.4 81.4h0M51.2 89.2h0M53 83.3h0M59.8 90.6h0M57 96.5h0M58.5 82.7h0M55.2 86.7h0M63.3 90.9h0M61.5 92.6h0M363.3 265.9h0M359.2 268.5h0M380.1 264.5h0M374.9 257.8h0M376.4 271.8h0M366.1 276.3h0M371.6 268.1h0M367.2 262.9h0M369 282.8h0M366.9 275.2h0M381.6 261.9h0M376.6 281h0M361.7 259.2h0M359.8 249.7h0M360 261.9h0M376.5 270.7h0M374.2 275.8h0M366 273.5h0M373.9 281.4h0M871.2 293h0M877.1 294.6h0M864.8 303.4h0M871.5 296.1h0M848.1 292.5h0M869.5 291.2h0M861.9 286.3h0M870.7 295.1h0M864.8 279.9h0M862.5 277h0M874.8 280.9h0M874.3 288.6h0M865.9 281.9h0M868.1 300.1h0M879.7 281h0M868.6 290.6h0M887.8 290.2h0M868.7 281h0M879.2 297.1h0M868.7 274.7h0M900.8 301h0M876.1 288.7h0M871.6 292.5h0M985.7 212h0M965.1 202.7h0M972.2 209.9h0M973.5 194.2h0M971.8 217.9h0M973.9 206.8h0M985.2 208.1h0M961.7 204h0M970.1 197.1h0M983.5 203.2h0M981 220.9h0M983.9 213.3h0M987.6 201.8h0M977.9 205.2h0M976.6 213h0M980.2 215.6h0M971.4 212.1h0M970.1 209.8h0M974.3 207.3h0M353.8 447.8h0M356.7 446.9h0M346.7 445.3h0M350.5 446.4h0M338.2 446.5h0M338.2 448.6h0M342.3 445.4h0M363.1 451.7h0M345.1 441.5h0M338.3 447.2h0M339.2 454.9h0M352.2 446.9h0M703.1 350.1h0M684.4 346.4h0M706.7 344.9h0M698.9 363.7h0M710.3 356.7h0M689.8 361.2h0M701.1 346.4h0M685.6 356h0M710 374.1h0M696.6 356.1h0M698.2 354.2h0M695.8 350h0M697.4 349.3h0M707.3 346.2h0M705 354.7h0M693 360.2h0M702.1 352.6h0M688.6 341.8h0M765.4 202.6h0M767.8 207.6h0M756.3 211.8h0M785.2 220.8h0M770.1 231h0M756.2 217.8h0M743.8 210.4h0M741.7 213.9h0M755.6 216.5h0M775.9 215.9h0M798.7 205.8h0M767.8 212.2h0M755.3 205.8h0M785.6 200h0M772.6 221.1h0M767.2 221.7h0M771.1 203.1h0M782.6 188.3h0M766.6 227.7h0M760.9 209h0M758.4 214h0M766.3 210.7h0M756 208.5h0M767.9 223.8h0M770.3 202.4h0M772.1 199.1h0M753.4 186.7h0M768.4 214h0M777.7 216h0M758 201.6h0M777 206.4h0M756.9 204.3h0M515.3 368.8h0M526.3 375.6h0M487.7 365.1h0M499 365.9h0M490.5 365.1h0M492 385.3h0M511.7 361.2h0M505.6 370.7h0M511.3 368.2h0M508.5 359.3h0M500.7 372.2h0M498.5 373.7h0M526.5 368.4h0M504.4 369.3h0M509.8 367.7h0M509.4 361.9h0M509.6 367.3h0M497 354.1h0M57.6 141.1h0M57.4 131h0M44.6 128.5h0M58.5 132.9h0M53.5 135.2h0M64.6 137.2h0M56.1 118.1h0M56.2 139.1h0M54.4 135.7h0M47.5 122h0M57.3 121.6h0M48.5 133.1h0M38.1 121.6h0M190.8 350h0M195.7 362.3h0M183.5 351.9h0M188.8 350.1h0M202.1 346.9h0M185.9 351h0M208 362.5h0M195.6 358.7h0M189.7 354.8h0M184 343.2h0M177.2 348.1h0M189.1 354.8h0M196.2 346.2h0M182.3 371.8h0M176.7 345.3h0M196.4 357.9h0M200.3 341.6h0M188.1 358.6h0M191.7 357.6h0M635.6 363.2h0M645.7 371.3h0M643.5 372.3h0M628.5 370.8h0M640.5 377.5h0M645.1 375.1h0M643.3 378h0M643.2 377.7h0M637.9 377h0M645.8 379.3h0M654.1 375.2h0M635.3 375.9h0M641.5 354h0M642.1 377.5h0M649 367.6h0M639.2 390.1h0M629.7 369.8h0M663.2 379.5h0M647 389.4h0M637 376h0M641 367.3h0M630.4 371.6h0M638.4 372h0M715.1 302.6h0M715.2 308.7h0M716.9 307.9h0M716.3 314.4h0M719.9 306.8h0M698.5 318h0M708.1 306.1h0M717.3 300.6h0M710.5 311.2h0M713.4 291.5h0M721.3 299.1h0M718.2 301.7h0M719.5 298.6h0M725.4 318.7h0M869.5 299.3h0M868.4 279.6h0M882.2 280.5h0M890.9 271.1h0M875.7 281.5h0M874.4 280.3h0M880.6 278.4h0M881.6 275.2h0M884 270.4h0M877.8 289.2h0M878.5 279.6h0M873.3 285.7h0M879.2 278.5h0M670.9 198.1h0M684.9 190.3h0M671.8 205.5h0M706.9 184.6h0M679.5 190h0M661.7 203.8h0M677.4 190.2h0M692 185.8h0M676.8 199.2h0M671.8 198.3h0M688.5 190.6h0M681.5 188.6h0M689.8 194.6h0M653.4 194.5h0M708.3 176.5h0M682.9 191h0M331 376.2h0M344.5 380.1h0M344.1 377.5h0M349.6 390.1h0M342.3 382.2h0M338.5 375.1h0M330 379.7h0M349.7 377.5h0M333.6 369.6h0M336.3 363.5h0M352 372.1h0M331.1 384.3h0M267.5 433.7h0M258.8 441.7h0M263.2 441.6h0M269.5 424.4h0M276.2 447.2h0M252.6 448.9h0M279.2 443.3h0M256.8 431.4h0M262.6 445.4h0M248.5 436.2h0M272 423h0M260.1 438.4h0M92.9 336.4h0M108.5 346h0M95.7 344.8h0M108.9 338.9h0M117.1 336.8h0M109.5 344.6h0M111.8 351.2h0M107.8 341h0M107 325.8h0M80.8 296.2h0M72.2 303.7h0M73 308.4h0M76.9 293.5h0M78.8 288h0M68.7 298.7h0M71.6 298.8h0M82 292h0M77.9 300.5h0M73.3 292.8h0M84 304.9h0M79.6 299.8h0M89.6 298.6h0M82.9 294.9h0M73.9 294.4h0M81.2 298.2h0M85 303h0M549.1 280h0M568.6 290.3h0M559.1 284h0M556.9 285h0M562.8 283.9h0M560.2 281.8h0M561.1 285.5h0M563.7 283.9h0M572.5 289.9h0M545.6 285.6h0M545.7 285.8h0M562.9 288.5h0M572 293h0M540.6 294.2h0M560.2 309.6h0M542.3 302.4h0M537.6 277h0M562.1 284.6h0M560.7 280.2h0M746.5 409.8h0M750.3 393h0M746 405.1h0M724 400.2h0M741.8 409.6h0M747.1 408.5h0M736.8 406.7h0M748 403.3h0M746.5 423.4h0M745.9 407.2h0M746.6 403h0M740.7 418.8h0M741.1 399.4h0M739.2 399h0M745.6 406.6h0M729 417.8h0M733 386.4h0M768 391.6h0M734.3 386.3h0M739.1 407.8h0M745.7 407.7h0M743.9 398h0M748.3 395.6h0M734.1 420.6h0M744.1 409.8h0M747.1 407.8h0M746.4 405h0M753.4 400h0M741.3 416.8h0M751.7 395h0M737.1 421.7h0M730.5 391.4h0M740.5 414.1h0M756.5 409.1h0M749.4 411.2h0M738.2 406.1h0M741.9 411.7h0M761.1 385.8h0M531.5 235.3h0M534.8 241.2h0M528.7 231.1h0M539.8 235h0M540.7 230.9h0M522.5 233.3h0M533.8 232.3h0M536.5 239.3h0M536.4 241.7h0M534.3 239.8h0M529.7 250.2h0M534.3 238.3h0M530.4 235.7h0M372.6 289.2h0M373.9 303.7h0M372.9 293.4h0M381 299.8h0M374.1 293h0M385.9 289.4h0M380 289.3h0M376.6 291h0M376.3 289.4h0M361.8 299.9h0M381.9 290.6h0M845.8 361.2h0M830.3 359.5h0M847 359.9h0M839.7 358.6h0M843.8 367.4h0M850.7 358.9h0M832.4 367.3h0M846.8 358.8h0M844.8 355.1h0M848.6 356.7h0M833.4 355h0M838.5 362.6h0M819.2 565.8h0M821.2 565h0M815.7 567.5h0M818.9 565.4h0M813.2 562.2h0M817.7 568.6h0M834.7 571.6h0M825.9 581.6h0M807.9 570.6h0M811.8 576.3h0M826.7 570.6h0M815.9 556.3h0M818.2 565.4h0M822.7 562.5h0M821.3 550.1h0M815.2 561h0M816.1 566.6h0M824 559.8h0M816.1 557.4h0M813.7 555h0M819.5 564.1h0M811.2 564.2h0M826.7 571.5h0M815.4 547h0M811.8 556.4h0M815.4 541h0M820.2 553h0M821.1 550.7h0M819.3 550.1h0M817.7 544h0M815.6 555.9h0M576.9 154.1h0M582 149.4h0M582.7 147.1h0M583.7 141.2h0M575.9 135.8h0M576.4 152.9h0M592 143h0M559.5 148.1h0M581.2 137.5h0M582.2 154.6h0M589.7 139.5h0M577.2 138.7h0M591.6 137h0M581.4 137.4h0M582.6 146.9h0M588.3 145h0M584.8 134.6h0M587.9 148h0M587 158.1h0M596.6 145.1h0M586.9 147.9h0M583.3 147.8h0M575 145.8h0M575.6 137.8h0M573 148.5h0M534.8 358.5h0M528.8 353h0M536.2 356.4h0M521.9 352.2h0M531.1 337.9h0M534.2 349h0M540 347.8h0M542.3 347.9h0M534.3 357h0M531.7 359.9h0M524 347.4h0M531.7 353.4h0M799.4 241.8h0M783.6 234.8h0M786.2 245.5h0M786.3 232.1h0M793.3 219.4h0M778.1 249.4h0M773.9 218.9h0M782.9 237.4h0M796.6 233.5h0M787.4 244.6h0M783.6 254h0M792.6 231.1h0M790.5 232.9h0M791 237.6h0M769.7 238.4h0M771.3 225.3h0M785.4 232.6h0M790.5 208h0M805.7 239.1h0M803.8 226h0M514.1 315.3h0M514.3 326.8h0M508.9 316.6h0M512.5 322.6h0M515.4 307.2h0M505 318.6h0M652.4 479.6h0M632.2 491.1h0M624.6 474.8h0M636.7 491.5h0M652.7 481.7h0M638.9 476.2h0M638.2 476.7h0M642 481.6h0M643.5 475.5h0M642.2 486.7h0M642.5 499.2h0M637.4 474h0M645.2 472.1h0M635.8 481.3h0M780.4 532.8h0M772.2 526.5h0M774.1 530.9h0M778.7 536.6h0M787.3 523.5h0M786.7 517.9h0M764.8 526.2h0M778.5 524h0M758.7 517.2h0M768 532.3h0M767.3 504.2h0M770.6 517.3h0M776.1 531.1h0M776.6 528.3h0M777.9 532.2h0M774.5 520.8h0M775.2 531.7h0M773.5 524.6h0M779.8 526.3h0M782.5 530.4h0M774.7 535.9h0M769.1 524.2h0M775.4 529h0M767.9 532.6h0M768.5 533.3h0M771.9 532.6h0M775.2 531.8h0M783.8 508.7h0M829 513.8h0M790.2 523.3h0M785.4 529.4h0M795.6 521.9h0M804.4 511.4h0M793.1 508.1h0M788.9 507.4h0M792 528.5h0M783.3 518.4h0M808.7 522.6h0M802.7 505.3h0M803.5 526.2h0M802.4 511.7h0M791.1 518.7h0M796.2 511.9h0M800.5 513.6h0M801 505.5h0M798.3 514.8h0M799.5 510.9h0M119.9 366h0M122.8 365.3h0M124.8 371h0M116 369.1h0M113 369.2h0M125.7 374.6h0M119.4 374.6h0M128.2 366.6h0M639 292.6h0M639 297.7h0M641.2 290.7h0M636.6 293.3h0M634.3 284.1h0M637.9 294.7h0M631.4 310.8h0M631.6 304.5h0M633.3 298.9h0M643.1 292.7h0M649.6 308.3h0M621.3 301.5h0M632.7 298.4h0M638 298.5h0M630.7 303.8h0M630.9 288.5h0M633.1 288.9h0M637 310.5h0M620.8 299.8h0M637 302.5h0M649.1 297.6h0M640.2 285.5h0M630.2 297.3h0M649.9 301h0M653.1 291.9h0M642 296.5h0M827.2 265.9h0M822.7 262.6h0M816.2 258.9h0M809.2 266.1h0M818.8 257.5h0M807.4 273.6h0M823 268h0M810.7 265.2h0M820.9 259.1h0M825.6 244h0M797.7 269.4h0M811.7 254.9h0M823.3 256h0M819.4 252.5h0M814.3 255.4h0M818.6 259.7h0M825.5 252.8h0M819.4 248.6h0M811.6 257.2h0M825.9 249h0M720.9 272.3h0M738.7 281.7h0M747.7 279.8h0M758.6 283.8h0M731.1 282.3h0M740.4 282.6h0M722.6 279.8h0M735 285.8h0M751.6 280.5h0M738.9 287.2h0M753.8 299.3h0M736.9 286.6h0M730.5 286.9h0M741 287.1h0M743.5 299.1h0M735.2 289.8h0M739 289.4h0M744.6 277.7h0M738.9 302.2h0M726.5 280.9h0M736.2 275.8h0M726.6 289.7h0M753.6 266.7h0M732.7 288.6h0M252.3 243.1h0M243.8 249h0M256.6 249.4h0M239.6 260h0M245.6 255.3h0M253 244.2h0M249.7 252.1h0M247.6 257.2h0M248.4 253.6h0M246.2 249.8h0M237.6 266.5h0M244.4 249.7h0M248.9 250.4h0M239.3 255.2h0M231.9 239.8h0M252.6 246.1h0M262.6 234h0M244.1 239.6h0M242.7 249h0M241.4 253.6h0M241.2 238.8h0M245 236.6h0M243.1 242.8h0M254.9 238.7h0M242.9 247.2h0M251.7 233.6h0M240.8 236h0M260.5 246.4h0M251.9 263.2h0M252.5 256.6h0M249.5 262.2h0M255.6 258h0M250.9 259.7h0M261.9 253.8h0M256.9 257h0M241.5 265.8h0M254.5 260.3h0M249.3 258.3h0M833.7 198.1h0M835.9 193.9h0M835.5 194.4h0M845.3 190.8h0M835.8 195.8h0M831.5 198h0M839.6 198.5h0M843.3 191.5h0M856.7 184.1h0M843.2 188.7h0M842.7 195.9h0M858.6 180.6h0M859.8 190.9h0M852.9 174.4h0M857 193.3h0M861 192.1h0M867.6 191.9h0M864.8 187.8h0M860.7 191.6h0M864.7 187h0M863.4 192.3h0M889.7 196.1h0M887.1 197.1h0M893.1 204.9h0M882.6 197.5h0M880.8 195h0M898.2 190h0M885.5 186.6h0M893.9 191.3h0M891.1 189.4h0M932.6 202.7h0M935.4 198.5h0M925.3 195.7h0M931.2 207.4h0M934.9 213.9h0M915.5 205.6h0M924.2 193.8h0M931.9 229.2h0M948.7 223h0M940.4 229.2h0M952.6 221.9h0M941.2 241.3h0M954.4 239.3h0M946.5 210.7h0M956.7 215h0M947.7 222.6h0M950.1 229h0M969.2 222.7h0M973.2 223.7h0M969.8 231.4h0M970.6 220.3h0M976.4 222.6h0M975.6 222.5h0M982.7 223.5h0M972.5 211.4h0M977.5 226h0M956.2 237.3h0M946.2 233.3h0M950.5 239.5h0M949.4 233.3h0M938.1 234h0M948.9 243.6h0M947.2 233.4h0M950.2 241.3h0M870.8 320.8h0M871 322h0M866.2 323h0M867.6 322.6h0M873.5 332.4h0M870.4 324.2h0M874 321.7h0M877.1 324.9h0M871 322.3h0M868.4 328.9h0M858.5 329.1h0M861.8 334.2h0M888.8 331.8h0M886.9 341.1h0M874.8 341.8h0M873.2 338.2h0M878 344.9h0M884.4 332.7h0M908.8 327h0M889.4 340.5h0M882.1 331.2h0M892.8 325.9h0M875.2 342h0M886.6 332.5h0M881.2 330.4h0M880.2 343.8h0M816.5 345.5h0M814.1 354.1h0M823.7 357.7h0M825.7 348h0M825.6 352.3h0M805.2 351.2h0M822.2 350.9h0M824.4 363.7h0M820.5 352.5h0M823.3 347.2h0M815.7 356.4h0M808.1 351.5h0M812.1 346h0M813.9 358.2h0M808.3 354.8h0M823.3 357.9h0M841.8 363.8h0M837.6 357.2h0M838.3 355.6h0M835.4 359.4h0M838.7 348.3h0M847.8 354.8h0M841.3 355.9h0M778.3 373.1h0M782.3 381.8h0M779.7 374.8h0M790.7 372.5h0M779.2 380.2h0M772.9 376.6h0M766 381.5h0M777.5 383.3h0M789.6 375.8h0M769.5 391.1h0M776.6 380.1h0M776.3 382.9h0M811.1 405.8h0M803.3 384h0M802.6 396h0M801.9 401.6h0M797.4 400.6h0M802.4 401.4h0M829.2 420.2h0M819.2 428.9h0M812 429h0M823.2 427.8h0M819 431.8h0M816.5 424.7h0M798.2 443h0M800.4 442.6h0M801.5 442h0M795 443.7h0M796.6 434.4h0M798.4 443.2h0M801.5 437.4h0M798.5 441.6h0M783.5 416.3h0M782.6 411.4h0M776.6 415h0M779.6 410.9h0M772.5 416.5h0M771.6 415.8h0M788.2 414.7h0M689.9 396.3h0M704.4 401.4h0M681.7 416h0M698.9 416.8h0M700.6 405.7h0M700.2 409.7h0M692.5 412.6h0M692.9 408.2h0M687.5 427.9h0M704.5 404.7h0M690 410.6h0M694.2 411.8h0M691.4 409.2h0M699.9 413.2h0M706.8 430.9h0M715.1 434h0M704.5 439.5h0M720.3 446.9h0M709.7 441.9h0M700 426.2h0M707.4 428h0M711.4 449h0M704.2 433.8h0M677.7 465.3h0M684.8 475.1h0M675 468h0M672.9 476.2h0M673.6 472.6h0M686 469.3h0M667.8 473h0M691.8 383.3h0M703.4 387.3h0M705.6 384.9h0M687.6 386.8h0M698.9 380.6h0M707.3 385h0M700.2 381.9h0M697.2 385.7h0M702.3 390.8h0M704.9 381h0M725.1 389h0M732 370.4h0M727.9 370.1h0M733.4 384h0M718.4 367.8h0M722 384.6h0M723.2 379.8h0M721.3 374.5h0M726.4 374.8h0M745.3 355.9h0M752 350h0M753.6 353.1h0M755.2 342.8h0M748.4 355.2h0M744.3 355.1h0M736.6 369.9h0M740.6 364.7h0M746 352.9h0M748.3 358.5h0M743.9 303.9h0M744.8 313h0M742.6 305.6h0M738 319.1h0M741.7 305.7h0M747 270.3h0M746.6 269.5h0M734 263.6h0M743.3 273h0M739.6 267.5h0M736.6 272.3h0M746.9 269.7h0M748.1 270.5h0M754 268.2h0M739.2 268.5h0M756.7 275.8h0M749 266.8h0M746.4 269.6h0M753.1 267.8h0M743 265.8h0M751.7 227.2h0M765 224.4h0M760.8 224.1h0M758.6 225.7h0M753.6 224.9h0M760.9 227.7h0M756.9 224.7h0M758.7 235.8h0M793.9 245.3h0M786 242.2h0M795 239.5h0M794.6 234.9h0M793.7 237.8h0M796.8 237.7h0M795 240.4h0M786.4 239.7h0M794.2 235.6h0M812.8 240.9h0M815.5 242.3h0M809.4 240.1h0M815.3 237.6h0M804.6 234.5h0M811.2 225.9h0M805.3 247.9h0M816.9 240.4h0M814.9 238.2h0M731.3 193.8h0M720.7 193.3h0M706.6 188h0M721.7 189.2h0M721.1 193.2h0M719.8 193.5h0M735.4 201.4h0M714.6 194h0M722.4 180h0M719.3 191.5h0M716.2 198.5h0M721.5 176.8h0M723.1 203h0M719.1 198.8h0M738.1 201.2h0M732 202h0M740.5 201.9h0M744.8 193.6h0M738.9 205.8h0M732.6 194.3h0M730.7 202.4h0M754.3 195.8h0M754.6 194.1h0M755.8 193.2h0M759.2 201.2h0M755.3 193.4h0M746.3 194h0M752.4 190.5h0M751.2 196h0M752.3 193.4h0M734.5 239.2h0M722 235.5h0M731.2 236.4h0M729.6 240.3h0M732.1 235.2h0M725.9 250.4h0M727.5 248.4h0M730 240.9h0M711.4 221.8h0M708.1 218.9h0M702.6 225.5h0M709.5 227.1h0M713.5 228.4h0M709.2 225h0M697.7 221.6h0M657.1 188.4h0M653 196h0M643.5 196h0M649.5 194h0M646.8 185.4h0M657.9 194.5h0M645.1 192.4h0M647.4 190.9h0M648.9 189.1h0M654.2 191.2h0M674.9 156.2h0M678.1 155.8h0M666.9 155.1h0M674.6 158.7h0M673.6 162.5h0M680.6 153.9h0M670.9 157.5h0M679.1 161.4h0M669.9 160.7h0M670.1 156.2h0M663.8 167.5h0M679.9 164.9h0M576.5 231.9h0M576.9 226.1h0M581.9 227.5h0M574.4 220h0M583.4 230.3h0M577.3 220.9h0M577.2 229h0M561.1 231h0M579.3 228.9h0M576.9 232.2h0M591.9 234.6h0M587.1 229.4h0M608.6 217.3h0M612.3 215.5h0M607.7 216h0M614.6 218.2h0M609.8 217.1h0M612.4 218.8h0M610.7 219.9h0M642.6 236.1h0M638.4 224h0M632.9 232.8h0M629.3 227.8h0M638.1 233.8h0M628.8 226.2h0M630.7 226.7h0M642.9 222.3h0M625.1 230.3h0M653.6 251.9h0M647.7 255.7h0M648.2 250.8h0M651 246.7h0M648.1 256h0M646.7 252.3h0M650.1 251.6h0M647.9 275.4h0M644.6 272.8h0M640.3 271.2h0M645.6 272.7h0M654 273.5h0M649.9 273.8h0M661 215.2h0M649.8 209.1h0M676.1 207.1h0M579 333.6h0M578.3 328.4h0M571.8 329.7h0M580.9 323.8h0M584.2 342.1h0M580.2 323.3h0M583.3 331.5h0M588.1 331.9h0M597 389.9h0M614.6 392.8h0M613.3 379.6h0M591.9 382.6h0M611.3 388.8h0M602.1 378.6h0M596.8 379.8h0M608.1 383.4h0M593.9 376.1h0M586 388.6h0M592.7 374.9h0M602 379.9h0M594.4 386.6h0M597.3 382.9h0M595.6 383.4h0M650.1 440.7h0M653.2 430.4h0M627.8 429.4h0M638 431.6h0M633.9 444.6h0M646 430.4h0M631.8 428.5h0M625.8 438h0M622.3 477.2h0M622.3 468.5h0M619.8 476.8h0M609.5 469.6h0M603.6 482.2h0M624.8 476.1h0M615.7 475h0M622.3 471h0M618.4 474.4h0M606.2 483.7h0M607.1 484.7h0M607.2 478.5h0M599.6 480h0M615.5 485.7h0M604.8 472.3h0M606 479h0M602.3 475.3h0M582.3 437.1h0M569 432.6h0M578.5 431.7h0M574.3 440.3h0M587.1 433.9h0M575.6 436.6h0M572.6 437.8h0M584 482.3h0M581 479.8h0M580.6 478.6h0M570.2 478.7h0M572.9 476.5h0M569.1 482.9h0M572.2 491.3h0M559.5 478.7h0M560.6 485.7h0M509.2 527.6h0M497.1 529.8h0M515.6 528.1h0M504.2 526h0M488 533.5h0M508.6 531.9h0M525.7 532h0M508.9 530.9h0M498.4 556.5h0M488.4 561.8h0M495.7 570.9h0M507.1 558.3h0M501.1 558.3h0M487.2 561h0M493 554.4h0M495.1 543.4h0M493.6 559h0M497 563.1h0M513.7 576.2h0M518.1 566h0M510.8 556.1h0M510 577.1h0M507.6 570h0M511.9 567.2h0M501 566.8h0M511.2 560.5h0M503.4 566.5h0M508.2 574.5h0M500.1 562.1h0M481 539.3h0M481 540.8h0M469.8 531.3h0M471.8 532.6h0M472.5 537.4h0M471.8 534.3h0M470.3 519h0M469.1 534.6h0M416.5 435.7h0M427.2 447.1h0M435.7 433.3h0M417.3 427.4h0M420.7 442.4h0M430.3 441h0M422 449.8h0M428.3 444.4h0M426.5 436.6h0M419.1 447.2h0M414.9 437.7h0M419.3 441.6h0M417 432.8h0M421.7 436.2h0M420.1 451.8h0M421.1 441.1h0M420.2 446.7h0M418.8 451.3h0M413 431.9h0M424.3 400.9h0M426.7 414h0M428.8 406.3h0M437.5 415.8h0M421.3 406.1h0M425.4 403.4h0M430.8 405.7h0M435.5 408.2h0M429 407.9h0M431.5 413.5h0M432.8 412.3h0M434.3 376.5h0M427.1 373.8h0M430.9 382.7h0M426.6 374.2h0M428.2 372.6h0M512.5 447.7h0M509.2 452.3h0M510.9 447.1h0M518.5 460.3h0M501.5 450.7h0M509.4 453.9h0M510.4 454.5h0M503.2 464h0M502.5 462.7h0M503.9 461.7h0M502.4 457.5h0M502.7 464h0M499.2 474.7h0M547.3 437.2h0M546.2 442.3h0M546.5 437.6h0M549.1 435.9h0M547 435h0M541.9 429.2h0M549.9 437.9h0M543.3 434.6h0M544 425.8h0M522.5 252h0M522.2 246h0M517.9 238.6h0M528.2 245.5h0M522.1 246h0M521.8 243h0M525.5 172.9h0M521.6 180.5h0M517.1 177.5h0M525.4 180.7h0M506.7 173.9h0M517.5 96h0M514.7 107.3h0M513.3 93.9h0M518.7 96.3h0M514.1 101.8h0M521.1 89.8h0M522.3 101.4h0M453.1 99.8h0M454.3 98h0M445.5 96.8h0M448 98h0M443.1 99.9h0M448.7 93.7h0M400.9 63.9h0M399.8 64.6h0M399.8 61.5h0M405.1 68.8h0M400.6 67h0M405.1 64.4h0M391.5 66.1h0M397.1 73.2h0M401 64.6h0M407.1 169.6h0M403.9 170.8h0M401.6 167.9h0M317.2 121.6h0M308.7 124.5h0M311.2 130.7h0M311.6 128h0M311.2 131.9h0M179.9 166h0M173.4 169.1h0M168.7 179.4h0M158.6 174.6h0M163.5 177.8h0M163.4 172.9h0M165.5 179.1h0M172.3 180.5h0M157.7 170.3h0M172.4 178.7h0M168.4 177.6h0M172 174.8h0M155.8 73.1h0M151.8 74.1h0M151.8 79.7h0M145.9 82.6h0M162.2 64.4h0M150.8 75.4h0M145.4 67.3h0M134.5 66.9h0M142.8 83.6h0M164.2 67.4h0M148.5 73.5h0M110.5 114.1h0M115.9 113.9h0M120.7 108.9h0M120.9 120.7h0M116.8 109.6h0M116.3 105.4h0M124.2 110.6h0M108.9 110h0M117.3 113.3h0M94.5 103.5h0M92.4 105.3h0M46.2 170.3h0M43.2 163.6h0M46.5 144.2h0M47.8 148.9h0M60.8 147.2h0M47.4 141.9h0M46.7 145.4h0M51.7 143.8h0M49.2 140.3h0M54.5 209.5h0M52.2 212.5h0M55 208.6h0M103.4 277.2h0M101.6 266.5h0M105.1 271.5h0M104.6 276.4h0M108.4 277.9h0M108.8 278.6h0M106.7 274.9h0M109.2 276.4h0M101 287.7h0M105.6 265.9h0M105.6 275.4h0M109.9 269.4h0M81.4 308.3h0M65.9 309.6h0M86.4 312.1h0M79 314.2h0M80.4 310.5h0M77.5 307.9h0M81.6 318.2h0M100.3 322.3h0M86.5 324.1h0M82.4 317h0M83.7 311.7h0M98.6 317.9h0M86.3 331.7h0M153.3 400.8h0M171.8 399.4h0M149.3 406.1h0M155.1 406.6h0M119.8 399.5h0M159.7 392.7h0M156.9 397h0M146.2 400.9h0M142.9 397.3h0M139.2 387.8h0M148.6 403.4h0M164.2 419.8h0M147.6 401.2h0M149.8 402.9h0M148.8 405.9h0M141.2 399.3h0M155.6 402.8h0M141.8 391.2h0M147.6 399.4h0M146.8 408.4h0M168.9 408.1h0M162.5 404.8h0M161.9 393.7h0M152.6 410.1h0M145.3 394.8h0M146.8 396.3h0M140.9 397.4h0M169.8 396.1h0M128.7 402.5h0M129.7 404.3h0M141.9 424.7h0M165.3 391.7h0M149.8 410.7h0M134.7 408.2h0M149.9 409.6h0M143.8 401.7h0M150.8 409.3h0M138.4 411.1h0M124.2 407.8h0M139.4 406.6h0M151.7 380.3h0M140.8 394.8h0M151 399.9h0M149.7 412.8h0M147.4 397.2h0M149.6 412.8h0M137.9 398.8h0M138.9 397.5h0M172.7 394.9h0M153.7 408h0M138.1 420.2h0M126.5 408.9h0M146.8 397.7h0M136 408.1h0M149 396.5h0M151.2 402.6h0M135.6 390.7h0M127.1 390.9h0M156.1 417.1h0M160.9 404.8h0M166.8 403.5h0M174.1 400.3h0M161.2 398.3h0M169.9 409.8h0M155.8 403.9h0M174.9 403.5h0M173.7 406.3h0M158.6 394.3h0M106.2 391.9h0M104.8 386.5h0M102.9 389.1h0M112.1 393.6h0M117 392.6h0M116.9 395.4h0M115.6 396.3h0M118.7 392.8h0M118.1 401.3h0M117.2 395.3h0M366 250.3h0M366.1 256h0M372.7 248.5h0M359.9 247.3h0M363 247.9h0M371.3 259h0M380.9 306.8h0M379.9 308.2h0M379.8 306.1h0M377.5 304.7h0M356.8 365.6h0M333.9 437.9h0M339.8 433.7h0M339.1 437.6h0M341.3 438.2h0M342.5 431.4h0M338.3 436.7h0M338.7 435h0M374.7 238.4h0M379.5 239.1h0M372.1 241.6h0M348 194.8h0M351.8 196.2h0M354.4 192.4h0M689.1 472.5h0M691.7 484h0M680.8 480.6h0M688.3 475.3h0M750.9 475.2h0M748.9 476.4h0M746.6 479.2h0M743.2 471.8h0M744.9 476.3h0M743 469.4h0M750.7 480h0M738.2 473.9h0M742.4 482.6h0M777.6 485.8h0M784.2 493h0M779.3 490.5h0M775.9 494.1h0M802.6 508h0M812.9 504.2h0M795.9 497.5h0M803.7 494.4h0M818.1 523.5h0M806.5 529.8h0M819.3 527.2h0M810.1 524.4h0M808.8 527h0M781.7 556h0M779.8 544.3h0M777.2 557.8h0M799.1 563.4h0M784.4 543.6h0M783.8 540.1h0M792.5 560.1h0M790.2 561.1h0M800 559h0M770.5 530h0M768 541.4h0M778 544.4h0M775.2 555.5h0M777.9 548.4h0M774.2 534h0M761.8 538.9h0M782.4 526.4h0M777.6 533.9h0M773 539h0M796 565.2h0M783.4 564.2h0M789.2 561.4h0M788.3 558.1h0M787.2 563.1h0M788.5 532.5h0M784.6 522.4h0M784.2 517.6h0M778.8 527.5h0M777.9 523.7h0M796.8 532.4h0M876.4 252.4h0M881.2 259.8h0M879.1 265.2h0M878 263.2h0M876.5 267.1h0M874.2 259h0M894.2 248.7h0M891.1 255h0M905.2 250.9h0M902.6 252.6h0M889.4 255.9h0M894.5 251.7h0M907 251.5h0M904.8 244.6h0M906.8 264.4h0M905.7 255.4h0M902.5 258.7h0M902.5 257.3h0M894.6 228.8h0M906.5 227.7h0M899.4 237.7h0M905.2 233.3h0M899.5 234.4h0M918.1 250.7h0M921.4 245.1h0M923.9 256.2h0M926.3 238.9h0M924.1 253.5h0M927 262.5h0M921.8 243.6h0M909.5 244h0M913.9 242h0M946.7 231.8h0M905.4 256.3h0M913.5 265.8h0M933.4 251h0M924.1 250h0M935.6 242.5h0M911.6 242.9h0M936.7 241.2h0M939.2 239.3h0M921 246.1h0M921.9 230.5h0M931.9 250h0M934.8 247.5h0M938 251.6h0M934.4 236.3h0M943.6 244.5h0M934 255.3h0M942.5 250.4h0M949.7 263.7h0M938.3 245.9h0M946.8 242.8h0M936.2 233.8h0M933.5 250.9h0M947.8 242.4h0M931.5 240h0M943.1 252.7h0M927.9 248.6h0M932.4 254.2h0M942.3 250.2h0M937 252.7h0M937.8 250.3h0M942 240.7h0M925.9 237.5h0M912.1 266h0M907.8 263.8h0M907 257.9h0M906.2 259.3h0M914.3 258.6h0M918.2 262.1h0M915.4 267.7h0M913.5 261h0M911.2 253.2h0M920.4 266.2h0M917.6 262.6h0M908.3 250.1h0M908.1 275.8h0M894.5 280.3h0M902.3 269.7h0M890 277.8h0M894.8 268.5h0M898.6 273.1h0M899.7 278h0M900 272.9h0M894 277.8h0M888.3 267.7h0M950.1 223.5h0M941.3 219.4h0M945.7 218.8h0M952.5 221.7h0M948.7 214.1h0M960.9 218.9h0M953.3 216.3h0M954.1 213.8h0M965.8 207.4h0M961.6 214.5h0M980.4 213h0M969.7 212h0M967.4 214.5h0M975.8 214.7h0M965.3 208.5h0M975.1 211.6h0M968.1 220.7h0M974.3 194.8h0M979.4 193.7h0M973.1 195.6h0M976.7 193.8h0M974.1 194.6h0M998.9 172.9h0M994.5 178.5h0M991.1 176.4h0M998.5 166.8h0M990.7 173.3h0M992.1 176.4h0M995.6 182.8h0M944.9 159.5h0M943.2 156.6h0M941.1 148.4h0M945.9 152.4h0M681.4 316.4h0M683.3 312.3h0M685.8 309.2h0M688 305.1h0M684.9 310.6h0M791.9 302.8h0M789.3 303.2h0M783.4 309.9h0M783.2 302.5h0M791.6 305.7h0M789.3 301.3h0M824.6 317.7h0M817.2 322.9h0M819.4 324.2h0M821.8 334.6h0M827.2 327.3h0M817.5 325.3h0M821.6 331.2h0M816.7 323.1h0M778.1 367.3h0M768.2 371.6h0M842.2 376.7h0M838.5 377.2h0M842 374.6h0M838.9 380.4h0M835.9 382.1h0M842.9 369.6h0M834 381.1h0M861.3 398.2h0M855.2 395.6h0M854.9 398.6h0M856.6 397.9h0M859.2 392.9h0M853 391.5h0M843.7 410.9h0M845.7 397.3h0M838.8 407.5h0M843.8 390.8h0M848.6 407.2h0M840.2 410.4h0M842.7 399.3h0M835.8 400.6h0M846 398.9h0M730.6 435.3h0M727 430.8h0M729.9 430.7h0M732.2 433.2h0M730.4 433.3h0M731.6 434.9h0M727.5 446.7h0M752.8 424.8h0M757.7 426.5h0M755 431.6h0M763 420.1h0M756.3 424.3h0M748.1 420.5h0M565.3 348.4h0M571.7 353.6h0M571.4 355.2h0M564.4 348.9h0M565.2 347.2h0M566 354.4h0M568.6 349h0M570.3 356.8h0M564 373.5h0M561.2 370.8h0M567.6 373.4h0M556.4 370h0M533.7 281.2h0M538.5 286.2h0M540 288.2h0M607.6 97.6h0M522.6 202.6h0M528.5 209.3h0M527.2 210.4h0M525.2 205h0M306.1 285.1h0M309 287.8h0M310.5 289.8h0M307 288.9h0M305.4 280.5h0M311.8 284.2h0M219 330.3h0M219.2 324h0M207.1 434.5h0M207 430.3h0M209.8 424.5h0M202.7 428.4h0M210.9 434.2h0M200.1 431.4h0M200.9 431.3h0M188.8 431.4h0M195.8 429.8h0M191.1 428.4h0M185.5 430.9h0M184.9 414.4h0M177.9 425.7h0M183 426.8h0M181.3 437.5h0M187.1 425.2h0M198.9 426.9h0M187.7 429.6h0M188.7 439.8h0M184.2 411.2h0M185.1 434.8h0M188.1 427.4h0M255.5 184.4h0M245.8 182.3h0M195.3 204h0M195.1 199.3h0M203.3 204.3h0M240.3 196.4h0M236 202.4h0M239.6 200.5h0M207.9 94.5h0M214.9 92.2h0M211.6 92.4h0M259.8 79.3h0M261.1 78.4h0M262.1 78.5h0M262.8 125.5h0M264.7 124.3h0M262.6 124.3h0M84.7 167.4h0M77.1 162.4h0M81.7 174h0M81.1 168.3h0M57.6 249.6h0M57.5 252.8h0M59.6 258.7h0M65.8 248h0M61.9 254.9h0M79.3 275.4h0M73.4 272.1h0M70.4 273.1h0M72.2 274.7h0M49 302.6h0M57.6 294.1h0M52.5 303.6h0M52.4 303.5h0M78 339.8h0M72.1 341.7h0M69.5 352.3h0M74.5 335.7h0M75.6 344.1h0M119.5 349.1h0M117.7 341.1h0M110 350.5h0M112.2 339.4h0M118.3 351.4h0M115 354.5h0M110.1 344.8h0M133.9 382.3h0M133.8 387.3h0M140.7 389.5h0M131.8 386.6h0M131.7 388.9h0M133.4 386.8h0M128.4 391h0M135.9 378.6h0M133.8 386.1h0M152 383.3h0M145.6 392.1h0M157 377.4h0M145.9 388.7h0M143.3 389.3h0M155.8 388.8h0M152.1 380.7h0M149 387.1h0M147 386.9h0M148.5 394.7h0M147.2 390.5h0M154.8 390h0M52.4 43.5h0M59.5 42.9h0M60.2 46.8h0M64.6 68.8h0M55.6 46.8h0M64.4 67.8h0M56.5 68.4h0M63.9 67.6h0M59.3 71.7h0M72.9 71.1h0M63.3 67.2h0M61.8 69.7h0M48.3 95.7h0M51.2 91.7h0M53.2 97.8h0M50.6 88.3h0M52.3 99.8h0M95.1 326.4h0M93.7 324h0M91.7 326.4h0M96.4 326.6h0M100.4 345.6h0M104 331.2h0M102.4 336.1h0M115.2 355.8h0M114.5 350.3h0M114.8 353.4h0M116.4 343.1h0M117.4 364.4h0M113.5 362.6h0M111.7 347.7h0M111.5 351.1h0M100.9 345.2h0M84.4 325.6h0M90.2 324h0M88.6 325.4h0M78.4 303.9h0M81.9 309.4h0M78.8 307.9h0M78.7 312.4h0M75.7 285.2h0M69.3 284.6h0M70.7 285.6h0M78 287.3h0M85.9 282.1h0M77.2 284.2h0M68.4 301.7h0M67.1 299.4h0M62.7 315.9h0M74 306h0M68.6 304.7h0M72.2 312.5h0M63.8 304.9h0M66.7 304h0M69.2 315.3h0M63.9 319.2h0M75.3 312h0M66.5 314.3h0M68.6 315.4h0M130.1 390.4h0M118.6 390.8h0M135.1 396.2h0M130.3 392.5h0M125 393.6h0M118.7 372.2h0M160.2 395.3h0M148.4 406h0M155 394.8h0M145.3 403.9h0M147.5 391.6h0M145 392.2h0M152.8 394.9h0M140.1 410.6h0M156.2 393.8h0M176.7 399.9h0M160.5 405.2h0M158.8 404.1h0M122.6 403.8h0M159.5 391h0M140.9 384.8h0M155.3 411.4h0M147.5 417.7h0M155.1 411.4h0M154.5 409.2h0M153.7 417.5h0M152.3 411.8h0M150.6 410.7h0M152.7 407.9h0M154.2 414.2h0M154.7 416.8h0M161.5 417.9h0M146.3 409.2h0M156.9 416.6h0M156.9 418.3h0M150.7 421.3h0M126.6 401.9h0M115.9 394.8h0M123.5 393.5h0M119.4 392.9h0M121.8 396.1h0M125.3 396h0M438.2 62.1h0M437.2 59.7h0M435.9 61.1h0M438.6 57h0M440.1 58.5h0M516.6 66.9h0M517.3 65.8h0M513.9 70.1h0M487.3 137.6h0M456.3 168.4h0M458.3 159.6h0M412.5 94.9h0M417 97.6h0M412.8 96.2h0M414.2 104.3h0M510 150h0M517.1 146.8h0M515.6 138.1h0M517.4 146.2h0M478.9 93.9h0M495.8 176.1h0M502.8 179.3h0M448.1 241.9h0M452.6 235.8h0M495.9 239.9h0M484.7 245.8h0M471.9 243.9h0M475.9 249.2h0M396 217.7h0M402.9 214.6h0M393.3 217.1h0M446.5 313.9h0M449.2 314.4h0M454.8 308.5h0M466.6 318h0M460.3 316.9h0M501 291.4h0M507.1 294.6h0M504.3 290.2h0M475.3 289.8h0M472.7 292h0M478.8 286.7h0M520.2 282.9h0M521.6 281.1h0M521.7 288.1h0M518.2 284h0M516.1 285.1h0M468.7 436.7h0M468.8 436.5h0M464 432.1h0M465.5 434.8h0M461.1 435.7h0M463 438.1h0M464.4 429.3h0M453.6 452.9h0M456 459.5h0M455.1 451.2h0M459 453.7h0M457.2 449.1h0M451.3 450h0M479.3 398.7h0M491.2 404h0M489.1 404.8h0M494.6 409.5h0M490.2 401.5h0M494.8 394.5h0M487.3 402.6h0M485.8 390.9h0M488.4 385h0M493.8 387.4h0M491.5 388h0M497.5 346.1h0M502.2 347h0M499.2 346.2h0M500.9 348.3h0M507.4 349.9h0M381.4 412.3h0M386 412.8h0M385.3 430.7h0M381.8 435.6h0M381.2 431.5h0M384 435.9h0M393.2 426.6h0M383 423.5h0M408.5 423.8h0M401.7 429.3h0M408.3 432.9h0M399.9 426.3h0M407.6 429.3h0M400.1 428.3h0M410.1 421.9h0M404.9 421.5h0M403.1 390.8h0M404.9 390.7h0M321.6 344.5h0M314.2 337.8h0M313.5 341.3h0M314.9 338.4h0M314.8 347.3h0M314.5 336.6h0M567.8 128h0M564.2 131h0M565.2 131.1h0M602 163.7h0M603 173.1h0M591 166.2h0M594.3 168.3h0M592.5 162.5h0M571.3 166.2h0M568.7 163.1h0M571.7 163.7h0M610 143.5h0M613.8 149.9h0M612.9 148.4h0M615.7 175.6h0M622.1 174.3h0M617.2 177.2h0M618.4 165.5h0M649.5 151.4h0M636 148.1h0M644.4 143.6h0M661.6 165.2h0M664.4 157.6h0M660.3 167.2h0M712.8 210.4h0M720.3 212.5h0M720 214.7h0M728.8 213.4h0M719.6 208.5h0M721.2 212h0M723.4 208.5h0M720.5 209.6h0M717.8 214.4h0M759.5 185.4h0M750.9 184.9h0M745.8 182h0M749.5 181.8h0M743.6 186.7h0M750.1 178.4h0M755.9 183.8h0M749.6 211.7h0M751.4 207.5h0M751.6 216.6h0M741.5 210h0M753.4 217.1h0M760.9 198.5h0M752.1 211.6h0M720 151.1h0M718.7 151.1h0M722.3 149.1h0M688.3 106.9h0M682.3 105.4h0M811.7 211h0M824 216.7h0M818.2 213h0M820 213h0M817 206.5h0M891.6 212.2h0M896.1 207.9h0M892.2 213.5h0M914.3 190.5h0M905.9 189.5h0M909.9 197.1h0M906.5 187.2h0M861 245.7h0M863.9 244.4h0M884.9 264.1h0M893.4 262.8h0M890.2 275.3h0M881.6 264.6h0M881.4 264.8h0M888.8 270.9h0M881.4 261.8h0M889.3 256.9h0M891.1 265.2h0M887.3 256.7h0M903.2 261.6h0M892.1 255.6h0M892.4 254.4h0M887.8 258.4h0M880.6 270.5h0M877.3 268h0M884.3 270.3h0M871.3 268.5h0M877.7 269.3h0M924.8 275.6h0M919.3 277.4h0M922.3 278.6h0M930.6 278.8h0M917.2 276.1h0M923.5 285.4h0M900.7 288.8h0M899.7 285.6h0M899.8 284.1h0M899.1 287.6h0M906.7 299.6h0M903.7 306.6h0M902.2 308.4h0M842.2 309.2h0M845.3 310.6h0M844.3 311.1h0M833.6 328.8h0M1020.3 147.3h0M1017 148.2h0M1026 148.1h0M597.3 204.9h0M595.3 207.5h0M600.3 206.6h0M600.2 203.1h0M625.9 208.3h0M626.8 204h0M671.9 263.6h0M659.3 256.5h0M657.8 250.9h0M659.9 250.5h0M660 255.2h0M661.8 253.6h0M656.3 274.4h0M657.7 269h0M692.5 281.1h0M687.9 279.9h0M686 278.5h0M698.5 260.6h0M704.9 262.3h0M699.3 258h0M698.2 263.2h0M601.5 289.4h0M606.7 285.4h0M562.1 334.8h0M555 327.3h0M627.6 356.7h0M630.7 357.3h0M626.9 365.1h0M635 358.1h0M663.5 388.7h0M662.9 393h0M663.3 394.3h0M655.3 453.7h0M661.4 457.9h0M651.1 483.1h0M658.1 473.8h0M658.5 478.9h0M658.3 482.1h0M656.6 474.7h0M656.9 469.3h0M656.6 475.3h0M653.3 478.1h0M725.8 457.3h0M725.6 459.8h0M727.3 459.4h0M748 454.1h0M747 448h0M741.4 449.3h0M746.8 452.8h0M762.4 465.7h0M762.5 467.6h0M767.1 468.8h0M763.8 470.3h0M762.5 399h0M755.5 397.5h0M764.8 403.5h0M760.3 397.7h0M787.5 499.4h0M782.1 494.1h0M785 507.2h0M784.1 500.5h0M781.2 498.8h0M779.2 508.5h0M823.3 522.9h0M818 541.8h0M826.6 538.2h0M821.3 534.7h0M812.6 539h0M823.8 541.4h0M803.3 538.8h0M818.9 535.3h0M815.7 535.7h0M824.1 543.6h0M605.6 432.7h0M599 433.3h0M604.7 432.6h0M595.1 427.2h0M602.7 430.3h0M594.9 453.9h0M596.4 462.8h0M588.6 460.7h0M635.2 494.2h0M629.8 493.6h0M622.9 490.2h0M569.2 415h0M564.2 413.9h0M573.6 407.4h0M564.1 414h0M568 415.9h0M554.5 429.6h0M565.5 430.9h0M553.7 435.1h0M550 433.7h0M534.4 471.9h0M522.9 473.1h0M528.3 471.9h0M534.9 468h0M519.2 508.7h0M514.6 504.8h0M518.3 510.5h0M516.4 502.8h0M518.4 509.5h0M440.5 497.8h0M454 512.2h0M365.4 159.2h0M255.5 222.5h0M250.9 222.5h0M179.8 246.6h0M70.2 212.8h0M72.5 211.4h0M95.2 75.4h0M93.4 77.9h0M95.8 82h0M158.4 107.8h0M161.8 73.8h0M165.3 71.8h0M159.9 64.9h0M163.9 74.3h0M159.1 73h0M152 67.5h0M163.2 74.3h0M205.5 61.6h0M245.8 103.3h0M236 119.3h0M237.4 116.5h0M234.6 120.7h0M237.5 386.2h0M230.7 384.8h0M232.1 381.4h0M202.1 390.3h0M200.9 390.3h0M203 384.7h0M205.8 388.1h0M274.5 446.8h0M270.8 455.1h0M270.5 461h0M269.6 457.9h0M268.4 460.3h0M481.5 502.6h0M476.9 507.6h0M485.8 516.8h0M488.7 515.2h0M496.8 520.8h0M493.3 516.6h0M484.4 513.7h0M479 519.1h0M469.8 514.6h0M488.1 520h0M491.4 517.7h0M481 508.1h0M487.6 517.1h0M488.6 515.4h0M476.1 517.9h0M402.6 440.3h0M385.4 452.6h0M407 443.4h0M412.7 452.3h0M402.5 454.1h0M406.3 445h0M392.1 447.6h0M403.6 450.6h0M407.4 433.9h0M399 458.7h0M406.2 459.6h0M387.6 457.5h0M394.2 440.1h0M413.3 455.2h0M395.8 462.9h0M402.7 434h0M400.6 451.1h0M409.6 446.2h0M414.7 452.9h0M408.1 80.3h0M404.6 67.2h0M394.5 71.3h0M407.8 50.3h0M402.9 76.4h0M401 58h0M404.7 68.4h0M422.3 65.9h0M400 65.9h0M409.9 67.2h0M414 58.8h0M408.7 52.2h0M405.7 54.7h0M417 63.3h0M399.7 67.5h0M414.1 72.5h0M405.2 69.4h0M416.4 65.3h0M374.3 262h0M374.4 257.1h0M382.5 263h0M381.1 255h0M377.4 257.6h0" stroke-width="1.8" stroke-opacity="0.5"/><path d="M654.5 443.6h0M379.7 289.6h0M673.5 191.2h0M808.5 249.3h0M600.9 254.6h0M687.4 229.1h0M501.1 454.8h0M468.4 41.5h0M920.5 231.2h0M496.6 238.8h0M418.5 57.3h0M496 249.8h0M649.2 426.4h0M794.4 462h0M948.6 165.7h0M962.8 235.6h0M353.9 378.4h0M540.4 369.6h0M521.2 395.6h0M463.5 288.2h0M743.3 302.9h0M724.9 456h0M564.7 199.8h0M152.7 317.6h0M70.6 252.8h0M593.2 443.4h0M581.6 442.8h0M480.5 253h0M278.2 340.3h0M925.1 226.6h0M599.8 70.2h0M553.5 120.5h0M740.8 448h0M766.7 246.7h0M416.6 338.9h0M741.3 340.6h0M756.2 396.1h0M640.4 418.7h0M910.6 270.3h0M742.1 377.8h0M718.9 347.3h0M1012.8 143.3h0M523.2 137.6h0M482.6 183.4h0M556.3 150.3h0M488 147h0M513.5 398.2h0M755 232.2h0M214 356.3h0M631.7 294.6h0M700.3 252.3h0M504.9 381.4h0M254.3 317h0M631.6 418.2h0M704 342.9h0M599.4 331.1h0M950 245.6h0M913.3 283.3h0M909.7 242.2h0M515.3 101.1h0M484.2 394.7h0M484.4 362h0M62.5 235.3h0M158.6 60.2h0M258.4 211.6h0M429.9 217.4h0M368 264.2h0M390.3 93.9h0M589.7 143.5h0M658.1 393.9h0M663.4 440.8h0M762.5 371.2h0M658.5 384.2h0M716 415.2h0M522.9 505h0M144 217.6h0M1010.4 149.3h0M607.1 426.5h0M826.2 266.1h0M837.7 264.2h0M574.6 334.7h0M738.4 472h0M430.6 320.7h0M470.1 380.5h0M554.8 368.5h0M650 435.1h0M86.3 266.4h0M671.7 474h0M58.8 79.8h0M125.7 71.9h0M414.3 395.8h0M335.2 327.6h0M421.5 262.7h0M414.1 428.3h0M714.6 462.4h0M132 88.6h0M439.1 311.9h0M42.5 222.6h0M253.8 303h0M915.8 255.8h0M680.9 449.1h0M697.1 394h0M756.3 347h0M818.6 377.6h0M514 318.7h0M1007.3 131.7h0M954.3 232.4h0M670.9 212.6h0M618.5 112.9h0M691.3 140h0M569 424.3h0M525.7 360.4h0M741.2 267.1h0M802.2 432.2h0M644.3 294.5h0M437.4 300.8h0M652.7 261.4h0M711.5 344.6h0M921.3 257.4h0M504.8 72.7h0M501.2 518h0M535.8 505.5h0M100.2 137.2h0M750.8 182.6h0M516.3 486.3h0M708.5 221.6h0M231 113.9h0M231 79.2h0M755.9 483h0M716.5 179.5h0M783.3 487.6h0M823.7 369.6h0M564.5 477.4h0M740.7 393.1h0M453.2 250.1h0M761.3 434.1h0M463.3 300.5h0M304.4 50.1h0M738.9 386.2h0M203 388.4h0M601.8 176.6h0M742.4 413h0M930.5 204h0M925.2 199.2h0M932.2 172h0M949.5 219.6h0M735.2 198.8h0M473.3 262.4h0M563.8 438.9h0M813 230.9h0M839.5 200.6h0M861.6 208.4h0M755.8 467.7h0M792.1 468.7h0M597.3 247.9h0M596.9 365h0M615.8 385.8h0M509.1 339.5h0M650.1 463.3h0M678.6 453.7h0M627.2 97.4h0M597.4 474.7h0M75.7 126.3h0M56.8 138h0M105.5 272.9h0M264.7 51.6h0M362 80.8h0M496.8 214.9h0M845.5 386.8h0M503.3 487.5h0M758 408.2h0M735.3 151.5h0M793.8 471.7h0M994.8 127.4h0M935.1 200.9h0M437.6 417h0M587 425.9h0M121.8 158.5h0M840.4 397.9h0M430.3 300.9h0M674.7 326.2h0M498 474.1h0M530.5 499.8h0M341.5 445.1h0M305.7 340.6h0M55.4 130.1h0M803.4 235.2h0M515.7 480.9h0M91.3 187.5h0M141.1 50.8h0M401.1 158.2h0M136.1 74.6h0M787.3 346.8h0M883.8 195.4h0M499.5 206.2h0M610.7 262.1h0M626.3 382.9h0M633.6 366.4h0M928 247.6h0M451.4 218.5h0M551.1 477h0M282.8 122.9h0M29.6 169.1h0M208.5 111.4h0M308.2 305.8h0M745.6 465.9h0M719.3 454.6h0M754.9 449.2h0M758.3 182h0M271.1 69.5h0M677.5 432.8h0M726.3 425.4h0M763.1 204.5h0M528.9 420.6h0M550.1 408.6h0M801 230.8h0M697.3 323.5h0M639.4 485.4h0M902.5 271.3h0M45.9 146.8h0M266.1 104.8h0M892.5 365.8h0M990.6 164.7h0M638.4 172.6h0M735.1 120.7h0M291.2 362.7h0M487.1 375.5h0M632.5 423.8h0M655.4 190.7h0M707.9 394.9h0M987.3 143.7h0M674.6 170h0M718.3 190.1h0M505.7 167.9h0M826.5 219.8h0M817.1 246.2h0M94.5 78.3h0M823.9 423.5h0M255.9 109.3h0M478.9 204h0M513.3 236h0M570.9 340.6h0M525 349.8h0M380.3 121h0M798.6 382.7h0M725.4 171.2h0M398.4 128.7h0M475.3 52.3h0M843 196.7h0M761.7 313.2h0M195.4 87.4h0M310.9 42.3h0M153.5 277.5h0M327.3 240.6h0M891.4 347.2h0M719 396.4h0M52.1 228.2h0M901.7 249.8h0M489.9 132h0M744.9 452.4h0M745 440.2h0M511.3 450.8h0M917.2 277.7h0M547.4 106.2h0M521.3 382.4h0M443 268.8h0M339.9 374.9h0M814.8 261.9h0M535.7 250.8h0M522.7 235.8h0M656.8 139.6h0M789.8 407.4h0M574.9 103.7h0M595.1 309h0M931.1 199.5h0M497 530.6h0M354.3 424.8h0M597.8 204.1h0M431.1 373.3h0M775.1 452.4h0M756.1 291.7h0M575.9 217.8h0M583.3 139.8h0M728.9 226.3h0M153.6 387.4h0M942.4 200.7h0M607.1 483.6h0M752.9 212.2h0M891.3 168.8h0M644 477.3h0M338.5 283.2h0M567 352.2h0M33.7 113.8h0M497.6 244h0M647.5 145.3h0M485.5 338.9h0M774.5 368.5h0M792.6 533.7h0M896.6 233.5h0M564.3 191.4h0M544.2 121.3h0M720.5 211.9h0M940.8 182.8h0M995.4 141.3h0M950.6 213.8h0M714.4 282.3h0M473.7 459.9h0M244 317.9h0M818.1 558.1h0M291.7 320.7h0M943.2 237.6h0M397.2 220.6h0M436.6 362.7h0M736.9 464.2h0M711.3 374.2h0M777.1 448.6h0M308.5 122.9h0M710.6 199.6h0M552.4 78.4h0M481.5 427.3h0M799.9 316h0M518.7 161h0M925.3 260.7h0M643.8 298.8h0M245.5 228.4h0M660.3 253.9h0M493.2 469.1h0M159.7 401.5h0M122 178.7h0M26.3 215.8h0M280.4 203.4h0M620.7 246.7h0M507.8 567.5h0M1016.9 158.4h0M132.6 395.5h0M480.3 446.9h0M879.7 284.3h0M643.2 467.5h0M341.2 159.1h0M627.6 235.6h0M646.6 253.6h0M613.4 216.9h0M649.2 190.5h0M641.1 180.4h0M650.1 179.5h0M671.2 200.9h0M725.8 230.3h0M622 457.4h0M710.2 217.8h0M722.9 161.7h0M800 401.2h0M794.2 243.5h0M405.1 346.2h0M573.5 199.6h0M842.2 274.1h0M582.3 129.2h0M66.4 311.5h0M591.3 408h0M765.4 502.2h0M27.3 222.9h0M728.1 272.1h0M541 331.7h0M875.2 288.8h0M250.8 422.3h0M847.7 308.1h0M739.9 111.4h0M858.4 299.2h0M815.9 281.5h0M822.6 406h0M541.3 199.9h0M786.9 231.7h0M480.8 366.3h0M526.8 472.2h0M40.5 62.1h0M49.8 100.3h0M803.1 373.4h0M667.9 87.4h0M145.6 400.4h0M417.5 239.7h0M514.1 450.2h0M286.8 294h0M160.2 71.4h0M472.3 445.9h0M595.9 99.7h0M475.6 516.1h0M601 292.5h0M738.3 253.7h0M999.4 225.1h0M792.9 477.4h0M791.5 302.7h0M731.5 431.6h0M476 370.7h0M239.8 49h0M849.3 378.6h0M519.5 357.2h0M406.4 390.6h0M44.3 156.2h0M646.8 149.1h0M634.9 221.7h0M183.6 428.4h0M876.4 260h0M512.6 279.4h0M461.5 244.6h0M464.8 514.8h0M435.9 74.5h0M425.4 142.6h0M454.1 42.9h0M529.4 178h0M402.5 40.3h0M428.3 96.8h0M753.8 404.6h0M844.9 195.2h0M761.4 191.7h0M766.7 198.3h0M801.1 501.3h0M982.6 186.3h0M744.4 267.4h0M695.6 385.7h0M462.2 316.6h0M378 268.4h0M766.1 207.7h0M416 355.6h0M601.5 96h0M644.9 180.5h0M82.3 127.7h0M323.3 437h0M783.5 411.3h0M544.4 217.9h0M581 467.1h0M575.2 228.8h0M861 203.8h0M535.4 96.5h0M511.8 417h0M704.1 476.1h0M526.2 401.1h0M289.5 453.8h0M630.3 227h0M815 420h0M651.5 356.1h0M409.5 451.4h0M400.5 422.3h0M487.5 419h0M282.7 403.9h0M351.5 452.8h0M290 353.6h0M276 442.6h0M714.3 457.3h0M337.7 273.4h0M822.6 290.9h0M178.6 245.7h0M733 337h0M713.9 318.3h0M695.9 414.6h0M93.7 91h0M272.4 221.8h0M111.9 83.8h0M1052.8 145.7h0M808.9 377.7h0M816.9 215.6h0M478 484.9h0M523.6 123.6h0M728.1 443.6h0M263.9 235h0M707.2 269.1h0M474.5 395h0M458.1 381.5h0M510.4 347.5h0M581.7 428.9h0M497.4 367.8h0M521.8 400h0M506.9 394.5h0M786.3 535.2h0M154.7 409h0M549.5 371.8h0M591.8 438.3h0M485.5 366.1h0M108.3 338.8h0M512.4 260.8h0M106.5 339.8h0M864.4 324.7h0M479.8 392.2h0M800.2 393h0M738.1 413.7h0M605.4 240.3h0M49 51.3h0M848.5 240.4h0M822.5 232.5h0M702.4 258.7h0M825 395.8h0M752.9 194.1h0M29.2 252.1h0M851.3 290.2h0M739 404.6h0M1029.5 84.3h0M509.9 430.6h0M575.9 187.5h0M651.7 373.6h0M702.4 376.8h0M761.4 449.3h0M482.1 303.4h0M938.2 213.2h0M963.1 204.3h0M375.5 88.2h0M781.9 328.6h0M903.2 295.5h0M750.4 291h0M934.5 184.9h0M705.8 248.4h0M686.6 359.7h0M545.5 127.1h0M308.8 285.5h0M513.7 428.5h0M623.2 411h0M735.7 143.1h0M713.4 333.1h0M555.9 342.6h0M355.6 263h0M644.4 403.5h0M197 195.3h0M514.6 427.8h0M577.9 86.3h0M771.2 247.4h0M674.3 156.5h0M652 292.1h0M852.9 192.5h0M532.1 419.9h0M619 279.8h0M521.2 372.1h0M540 340.1h0M594.7 303h0M635.7 320.2h0M659.9 311.1h0M676.7 397.3h0M738.9 279.9h0M654.2 458.1h0M604.8 366.9h0M473.5 254.5h0M332.3 253.8h0M628.7 387.3h0M864.5 294.7h0M420.9 251.7h0M617.6 450.7h0M860.7 271.9h0M589.9 81.7h0M204.4 387.5h0M636.8 435.5h0M246.9 102.2h0M805.3 339h0M404 428h0M585.3 389.5h0M932.8 239.9h0M437.1 330.1h0M523.8 426.7h0M116.5 122.3h0M584.3 350.3h0M419.9 381.2h0M650.6 476.8h0M400.9 184.2h0M736.3 159.6h0M774.2 302.9h0M500 309.7h0M65.2 318.9h0M947.9 245.9h0M807.5 437.8h0M669.7 184.7h0M994.2 225.6h0M474.6 291.9h0M891.8 241.8h0M756.6 308.2h0M759.8 336.9h0M742.4 319.6h0M786.8 257.8h0M626.4 265.4h0M709.9 246.6h0M665.5 243.3h0M865.6 289.6h0M395.7 237.1h0M507.6 319.2h0M836.1 250.2h0M628.7 410.9h0M537.3 330.2h0M769.6 404.6h0M898.8 272.6h0M857.6 394h0M748.7 309.9h0M875.2 235.8h0M722.6 222.1h0M794.3 519.5h0M396.4 60.6h0M862.8 370.9h0M643.7 159.6h0M638.5 104.2h0M553.2 292.2h0M639.5 436h0M568.5 465.9h0M745.4 348.7h0M789.8 474.2h0M337.4 83.1h0M689 402h0M682.5 478.4h0M560.2 330.4h0M582.2 120.8h0M848.9 366.2h0M927.4 247.3h0M717.2 302.9h0M489.9 359.1h0M537.1 256h0M643.3 314.2h0M633.6 265.7h0M918.3 182.1h0M772.8 316.9h0M728.6 333.6h0M623.4 302.6h0M544.7 254.6h0M548 275.1h0M511.2 290.5h0M596.7 271.4h0M83.1 351h0M237.1 333.6h0M113.2 375h0M114.8 364.5h0M159.6 394.1h0M121.2 371h0M151.1 360.2h0M695.7 255.4h0M783.9 525.6h0M593.3 319.2h0M542.9 502.8h0M515.7 211.8h0M583.1 481.8h0M973.8 179.2h0M773.8 480.6h0M705.2 169.5h0M957.9 177.9h0M787.6 508.6h0M994.1 167.4h0M605.2 480.2h0M929.8 246.8h0M136.3 403.8h0M398.7 310h0M395.9 282h0M560.1 141h0M804.7 384.2h0M856.4 311h0M206.8 155.5h0M520.4 430.3h0M774.7 334.1h0M675 227h0M718.5 306h0M747 331.8h0M781 233.3h0M478 306.5h0M1025.5 134.3h0M337.6 436.5h0M305.9 435.5h0M382.7 199.3h0M698.1 367h0M740.8 285.9h0M655.7 449.5h0M70.6 318.2h0M812.9 314.4h0M547.3 288.1h0M156.7 108.2h0M348.4 283.2h0M834.4 326.5h0M639.9 373.7h0M658 373.4h0M649.7 468.1h0M633.5 436.2h0M575.3 405.9h0M619.7 364.1h0M691.8 328.7h0M681.9 390.1h0M567.2 380.8h0M663.2 329.6h0M341.4 121.7h0M618.1 372.2h0M623.7 350.7h0M658.3 388h0M572 399.9h0M591.3 392.6h0M609.1 432.3h0M664.7 408.8h0M727.2 467h0M708 161.8h0M639 433.3h0M746.9 180.2h0M597.3 277.6h0M556.4 281.4h0M581.1 189.4h0M654.2 316.3h0M513.8 168.2h0M774.9 245.8h0M51.7 208.6h0M751.9 461.8h0M744.3 274.7h0M973.5 194.9h0M136.3 376.8h0M814.8 569.7h0M723.3 259.4h0M908.3 279.8h0M551.5 177.3h0M480.3 155.5h0M558.5 285.5h0M708.2 189.1h0M795.8 336.2h0M790.1 565.7h0M808.5 523.3h0M531.3 236.9h0M228.4 301.5h0M631.7 230.8h0M356.1 106.8h0M1022.8 127h0M738.3 369.4h0M948.5 229.4h0M563 297.3h0M735.1 178h0M656.5 425.6h0M902.8 238.3h0M503 303.2h0M629.1 252.9h0M714.3 268.8h0M768.4 440.6h0M691.4 365.9h0M389.6 476.7h0M70.2 343h0M683.6 383.7h0M583.2 146.5h0M913.3 224.8h0M801.2 590.9h0M320.2 299.6h0M671.7 277.3h0M819.7 342.1h0M682.4 165.4h0M952.4 155.2h0M549.3 170.7h0M741.3 276h0M522 268.5h0M258.7 431.8h0M901.9 260.3h0M913.1 266.6h0M361.3 338.3h0M330.8 397.8h0M866.7 224.2h0M895.8 269.1h0M922.4 234.7h0M881.8 245.4h0M919.3 227.3h0M899.2 265.2h0M794.6 346.5h0M488.3 117.6h0M491.6 64.5h0M492.4 108.9h0M420 108.6h0M640.3 483.5h0M643.1 370.3h0M921.6 193.3h0M67.5 284.2h0M557.5 361.5h0M34.9 263.1h0M119.2 312.2h0M51.3 296.3h0M463.3 384.5h0M119.2 347.2h0M118.3 288.2h0M439.6 337h0M50.9 247.6h0M85.5 295.6h0M54.9 241.9h0M63.4 317.5h0M804.8 540.3h0M556.4 451.5h0M678.3 146.7h0M418.8 444.3h0M480.4 226.6h0M592.6 135.6h0M866 317.8h0M804.6 411.5h0M246.4 236.9h0M652.2 95.9h0M747.1 232.6h0M774.3 235.7h0M769.3 226.3h0M555.9 291.8h0M504.6 369.5h0M534.2 363.4h0M419.4 232h0M1023 144.7h0M267.2 454.9h0M855 305.6h0M610.2 166.7h0M337.9 399.4h0M146.2 398.6h0M763.4 215.2h0M603.2 472.8h0M743.6 422.3h0M627.6 216.4h0M532.2 193.5h0M965.6 211.1h0M540.8 177.2h0M597 239h0M546.7 298.9h0M1001.6 150.7h0M748.7 240.7h0M440.1 469.1h0M284.5 456h0M256.9 422.7h0M606.2 396.1h0M633.6 125.4h0M818.3 551.9h0M768.6 229.2h0M658.5 160.3h0M620.7 192.8h0M742.9 402.5h0M56.7 128.5h0M398.7 455.6h0M784.4 547.2h0M794.6 254h0M473.9 271.3h0M905.3 268.1h0M794.2 280.3h0M936.1 151.4h0M730.6 254.5h0M708 409.4h0M511.1 39.9h0M137.5 386.2h0M769 292h0M957.8 212.2h0M878.1 360.3h0M576.2 129.2h0M635 338.9h0M557.5 199.6h0M929.6 226.6h0M443.8 364.6h0M1034.3 100h0M119 111.1h0M538.6 447.2h0M864.7 329.7h0M616.8 490.4h0M556 323.7h0M381 304.6h0M269 274.1h0M155 98.6h0M511.4 384.4h0M251.5 260h0M430.8 396.2h0M380.4 44h0M509.7 453.4h0M813.8 383.7h0M303 406.3h0M42.6 288h0M38.7 253.5h0M400.5 396.7h0M378.8 348.8h0M452.1 338.3h0M94.9 336.9h0M77.6 304.3h0M87.7 290.1h0M74.3 271.9h0M77.3 295.8h0M74.6 332h0M680 199.1h0M517.7 428.1h0M469.4 203.8h0M709.2 240h0M62.1 253.1h0M841.8 358.8h0M152.3 402.4h0M736 357.8h0M715.3 362.8h0M158.5 420.5h0M567.2 347.8h0M538.7 42.2h0M308.3 105.6h0M721.4 175.5h0M594.4 431.7h0M682.9 287.9h0M461.2 54.9h0M946.4 180.3h0M862.6 249.2h0M332.6 222.3h0M861.1 346.3h0M48.4 152.6h0M24.5 66.9h0M765.6 234.5h0M403.3 70.8h0M31 146.6h0M278.3 88h0M235 92.5h0M174.7 112.2h0M172.7 119.4h0M380.9 61.2h0M76.5 299.5h0M352.5 364.6h0M153.6 427h0M798.5 439.9h0M554.7 108h0M152.8 397.8h0M777.6 429.7h0M338.6 253h0M900.5 303.5h0M928.8 196.9h0M81 313.6h0M417.4 130.3h0M468 123.1h0M522.7 168.5h0M465.2 136.9h0M498 184h0M543.8 247.4h0M157.3 430.5h0M386.5 73.2h0M61.8 80h0M157.5 425.1h0M796 536.4h0M694.8 435.3h0M986.5 183.6h0M60.7 319.9h0M751.2 268.8h0M796 485.2h0M612.6 386.8h0M572.3 433.1h0M648.7 336.1h0M59 222.9h0M293.6 388.6h0M452.7 456.1h0M546.9 203.1h0M247 246.5h0M659.4 296.5h0M737.3 332.6h0M212.9 140.4h0M131 399.5h0M813.5 399.9h0M51.9 123.8h0M393.9 156.6h0M579.7 421.7h0M646.6 268.7h0M488.6 400.1h0M547.6 189.2h0M609.7 373.5h0M795.1 460.4h0M568.1 129.6h0M52.8 299.6h0M205.4 180.9h0M526.4 207.9h0M164.9 57.3h0M557.3 489.2h0M257.6 354h0M644.3 131.5h0M495.3 541.4h0M637.8 460.6h0M550.1 491.2h0M434.4 438.1h0M458.1 417.7h0M497.9 562.1h0M507.4 472.5h0M556.6 482.8h0M496.9 534.5h0M561.4 488.5h0M981 220.6h0M602.5 317.1h0M838.2 349.8h0M52.9 105.5h0M757.6 228.1h0M926.5 245.1h0M740.8 203.9h0M319.9 312.3h0M57 84.8h0M805.7 514.9h0M522.7 417.5h0M812.3 572.6h0M133 404.1h0M776.1 527.1h0M508.1 460.4h0M551.1 357.7h0M800.7 251.9h0M535.3 351.7h0M265.6 440.1h0M603.5 330.8h0M720 150h0M530 63.6h0M588.8 249h0M202 205.9h0M748.5 360.2h0M599.9 220.5h0M202.8 343.5h0M278.3 289.2h0M246.7 250.5h0M234.5 306h0M239.6 314.7h0M166.9 149.8h0M615.2 309.7h0M812.6 240.9h0M659 347.7h0M170 405.3h0M679 207.4h0M800.3 351.2h0M45.9 285.4h0M538.2 304.3h0M560.1 160.6h0M606.7 336.5h0M664.1 182.8h0M714.3 373.6h0M746.1 227h0M540.7 468.9h0M758 266.7h0M912.4 266.4h0M516.8 508h0M609.1 308.3h0M783.6 340.8h0M737.4 244.7h0M130.3 395.3h0M703.1 474.4h0M786.4 479.9h0M604.5 212.3h0M451.8 196.8h0M817.3 369h0M525.7 135.7h0M29 91.8h0M868.9 268.8h0M607.4 146.2h0M852.5 334.7h0M821.9 363.7h0M835.4 288.5h0M60.1 127.5h0M817.6 267.4h0M754.3 400.2h0M514.7 330h0M63.5 276.4h0M319.1 169.4h0M966.9 233.2h0M71.2 335.2h0M1005 155.2h0M470.2 346.4h0M262.4 151.3h0M791 527.5h0M794.4 550.7h0M811.1 529.2h0M777.4 503.7h0M812.4 566.6h0M810.1 575.6h0M499.2 196.2h0M518.9 182h0M445.6 97.9h0M501.4 54.7h0M653.3 167.6h0M729.3 194.8h0M756.8 211.9h0M93.5 103.2h0M508.5 195.3h0M199.9 428.7h0M885 248.5h0M781.4 520.7h0M936 252.3h0M942.4 254.1h0M923.5 243.5h0M916.8 245.5h0M926.1 253.6h0M925.3 245.6h0M922.5 236.8h0M941.8 242.8h0M942.7 251.4h0M921.6 257.8h0M919.7 259.5h0M930 255.4h0M908.6 262.8h0M931.9 241.3h0M908.6 249.9h0M930.2 251.7h0M921.2 255.2h0M918.9 266.8h0M933.6 233.2h0M915.8 256.6h0M937.5 247.4h0M894.7 234.7h0M919.2 242h0M949.3 266.5h0M948.3 277h0M909 243.4h0M929.3 242.6h0M906 242.8h0M929.8 243.4h0M927.5 262.1h0M141.9 404.2h0M138.9 408.6h0M150 379.5h0M150.1 391.5h0M114.1 408.4h0M126.6 414h0M149.2 402.1h0M141.1 396.5h0M148 398.5h0M109.7 368.1h0M119.8 418.3h0M127.3 403.9h0M146 410.1h0M138.9 381.7h0M142.1 400h0M123.2 395.8h0M121.9 404.5h0M125.4 402.7h0M141.3 386h0M146.6 394.6h0M124.7 407.7h0M139.5 405.7h0M115.6 411.9h0M140.2 414.8h0M161.9 389.5h0M122.5 382.3h0M126.2 412.6h0M140.3 399.4h0M139.1 399.3h0M127.5 412h0M138.7 408.9h0M112.4 387.5h0M150.1 382.6h0M132.3 384.3h0M139.1 393.6h0M133.1 378.5h0M138.5 394.8h0M139.6 387.9h0M154.6 371.2h0M649.4 229.1h0M695.3 229.5h0M679.9 212.9h0M674.4 215.8h0M685.3 232.4h0M671.1 212.7h0M662.1 219.4h0M673.7 222.7h0M698.2 214.7h0M685.5 220.4h0M674.7 216.8h0M663.8 221.4h0M678 232.3h0M692.7 226.6h0M664.3 204h0M687.8 206.6h0M680.4 224.3h0M679.4 244.8h0M706.9 233.1h0M683.2 219.6h0M698.2 237h0M694.6 218.7h0M709.4 221.2h0M695.5 204.6h0M681.2 229.4h0M535 487.9h0M542 483.8h0M523.9 485h0M528.5 485.1h0M536.7 500.2h0M543.9 486.2h0M573.7 481.1h0M555.4 493.2h0M550.1 496.5h0M546.6 494.7h0M551 476.6h0M548.4 491.8h0M542.4 492.4h0M528.9 498h0M542.4 494.4h0M548.2 490h0M545.2 482.8h0M545.2 500.4h0M536.3 495.1h0M558.1 492.1h0M545.2 500.1h0M243.5 418h0M245.4 413.5h0M232 434.9h0M245.7 413.6h0M252.2 395.9h0M238.8 406.5h0M246.2 408.3h0M242.7 409.2h0M258.5 386.1h0M258 413.3h0M238.2 409h0M242.7 407.6h0M252.2 410.2h0M239.1 405.4h0M254.9 413.3h0M257.2 420.5h0M247.8 400.6h0M233.3 417.2h0M239.6 417.2h0M227.2 417.9h0M240.8 412.1h0M251.8 397.5h0M910.2 256.7h0M907.8 260.6h0M908.7 264.5h0M922.6 261.3h0M906.2 286h0M908.4 268.4h0M907.4 259.8h0M897.9 286.1h0M915.1 265.9h0M904.4 263.6h0M904.6 265.5h0M900.4 272.2h0M899.1 261.1h0M477.2 494.6h0M478.9 493.7h0M497.1 500.1h0M482.7 489.9h0M482.8 489.5h0M497.7 490.4h0M507.7 486.5h0M484.3 496.5h0M491.6 484.7h0M486.2 489.4h0M483.4 501.2h0M156.4 420.3h0M177.1 421h0M149.3 426.3h0M171.7 428.6h0M156.3 416.4h0M144.3 429.6h0M151.2 425.8h0M148.4 421.8h0M149.1 429.3h0M156.4 424.4h0M149.7 430h0M153.1 421.7h0M160.7 419.8h0M517.5 423.5h0M518.7 428.4h0M536.5 452.1h0M516.2 401.6h0M492.3 431.2h0M517.5 421.9h0M515 422.9h0M511.1 416.1h0M514.6 420.7h0M515.7 426.9h0M520.1 445.6h0M516.9 417.7h0M530.6 428.2h0M525.2 417.7h0M514.3 425.3h0M516.8 410.9h0M511.6 434.1h0M519.6 429.2h0M551.2 420.4h0M529.1 402.4h0M507.9 438.8h0M519.9 412h0M510.7 407.7h0M495.9 428.3h0M510.5 422.6h0M505.6 423.9h0M511.7 422.9h0M493.7 429.6h0M504 431.7h0M510.4 430.3h0M506.7 426.3h0M503.9 424.9h0M501.6 431.6h0M506.8 431.1h0M72.8 311.7h0M65.9 328.6h0M66.4 324.3h0M67.8 325.3h0M65.2 322.4h0M61.6 326.5h0M83.4 329.6h0M64.6 314.8h0M58.6 329.7h0M71.8 326.3h0M72.1 327.9h0M504.7 478.4h0M493.3 486.9h0M500.2 480.2h0M498.5 475h0M500.4 473.2h0M506.2 471.6h0M516.8 466.9h0M506.1 482.9h0M495.9 476.8h0M494.7 483.1h0M789.4 479.7h0M784.1 484.3h0M789.3 478.8h0M788.3 487.8h0M818.1 480.8h0M783.3 478.2h0M791.9 476.3h0M778.3 478.5h0M793.6 478.7h0M793 476h0M789.5 474.1h0M53.8 308.6h0M59.2 317.6h0M56.2 319.5h0M59.6 318.8h0M63.3 322.5h0M68.6 319.6h0M65.2 317h0M71.4 314.9h0M50.6 315h0M58.6 317.8h0M61.9 315.6h0M771.2 281.3h0M760 275.3h0M781.4 274.5h0M766.3 270h0M772.6 264.1h0M775.1 266.7h0M760.6 259.9h0M765 260.1h0M719.3 266.7h0M701 268.9h0M720.9 268.3h0M715 259.4h0M709.8 274.5h0M711.9 271.1h0M711.5 275h0M712.6 270.8h0M699.2 261.2h0M708.4 269h0M724.7 275.6h0M701.4 273.2h0M727.7 280.1h0M705.8 265.2h0M711.7 268.2h0M699.1 274h0M828.6 363.7h0M799.6 381.1h0M808.1 371.6h0M808.1 373.2h0M793.4 380.9h0M808.8 377.7h0M802.5 381.1h0M807.2 364.7h0M817.9 370.8h0M809.2 366.9h0M801.4 380.8h0M803.7 365.2h0M802.5 373.1h0M787 366.5h0M794.4 373.9h0M59.4 73.9h0M70.5 70.8h0M57.8 82.3h0M71.8 79h0M60.2 93.3h0M74.9 73.4h0M59.4 91.8h0M57.6 78.6h0M66 82.9h0M68.6 69.6h0M54.6 96.3h0M56.9 68.3h0M67.2 72.6h0M63.5 88.6h0M63.3 95.5h0M52.9 79.2h0M376.1 274.3h0M356.7 281.3h0M379.7 268.6h0M368.4 260.7h0M378.9 272.1h0M363.9 282.1h0M376.7 273.6h0M365.9 258.4h0M374.8 273.7h0M369 269.7h0M372.4 285.8h0M360.5 254.7h0M372.8 254.9h0M384.7 271.1h0M374.4 268.6h0M371.5 268h0M355.5 255.3h0M378.8 273.1h0M375.6 266.5h0M370.6 300.5h0M372.9 282.7h0M378.2 274.3h0M873.8 303.4h0M878.1 297.2h0M870 297.8h0M871.8 295.2h0M864.2 280.2h0M874.2 305.1h0M865.3 295.5h0M879.4 282.8h0M873.9 292.5h0M874.9 288.5h0M868.2 292.8h0M965.1 211.7h0M985.5 208.2h0M1000 188.7h0M978.2 200.1h0M970.4 207.5h0M988.2 210.4h0M973.3 199.7h0M977.7 208.7h0M965.3 212.6h0M968.9 204.2h0M970 205.1h0M978.2 205.9h0M972.8 208.5h0M990.7 215.6h0M990 211.5h0M972.7 208.6h0M982.4 208.3h0M987.7 227.9h0M352.2 441.5h0M356.5 437.8h0M348 447.2h0M354.8 451.2h0M338.7 452.5h0M352.8 441h0M353.1 442.2h0M330.5 450.1h0M346.2 448.7h0M699.1 348.7h0M687.3 364.2h0M691.8 341.2h0M703.9 350.2h0M689.8 348.7h0M710.9 347.9h0M716.3 344.3h0M694.7 354.2h0M684.7 343.3h0M766.5 218.6h0M742.4 209.5h0M761.6 204.1h0M756.6 201.5h0M751.3 216h0M773 199.3h0M766.3 202.2h0M749.5 188.6h0M767.9 208.1h0M737.4 224.8h0M760.1 212.2h0M784.3 201.2h0M759.3 220.2h0M768.6 215.1h0M762.1 209.7h0M521.5 371.2h0M477.3 366.4h0M504.4 364.1h0M502.4 368.8h0M504.2 359.6h0M513.3 363h0M513.7 371.9h0M499.7 360.2h0M499.3 359.7h0M500.9 348.4h0M521.5 374.5h0M514.6 362.9h0M512.3 360.8h0M56.1 139.3h0M63.1 144.4h0M62.7 123h0M53 123.1h0M58.1 123.2h0M64.8 130.5h0M51.3 129.7h0M58.1 137.7h0M54.9 138h0M55.3 132.7h0M60.4 144.7h0M54.3 133.5h0M50.6 134h0M50.7 131.7h0M178.2 345.2h0M185.8 354.6h0M190.8 355.3h0M199.1 355.2h0M201.9 339.9h0M184.7 339.7h0M193.9 344.6h0M195.5 363.7h0M202.1 356h0M179.5 348.8h0M194.8 354.2h0M194.5 344.4h0M194.5 367.3h0M194.4 350.6h0M191.3 355.9h0M194.9 350.9h0M191.9 362h0M642.4 380.7h0M644 383h0M635.8 368h0M634.2 371.1h0M655.1 378.3h0M720.2 302.5h0M721.8 309.7h0M719.4 309h0M731 305.3h0M722 306.2h0M719.6 307.3h0M718 308.2h0M722.5 307.4h0M720.6 299.3h0M713.5 303.8h0M885.2 281.3h0M886.4 280.4h0M865.2 272.6h0M877.9 289h0M881.4 292.5h0M892.3 272.6h0M885.1 274.7h0M874.2 299h0M866.5 288.5h0M873.7 289.5h0M882.8 286.2h0M683.7 201.7h0M680.3 191.2h0M689.6 200h0M670.7 181.4h0M668.3 191.4h0M679.3 194.1h0M677.5 189h0M670.9 190.4h0M675 189.3h0M670.4 205h0M348.9 372.4h0M353.7 368.1h0M342.5 383.5h0M351.1 372.2h0M349.6 371.1h0M339.5 376.5h0M345.7 372.5h0M340.7 378.3h0M342.8 377.5h0M347.1 378.5h0M346.1 378.4h0M260.2 441.6h0M259.7 436.8h0M267.8 437h0M264.8 436.4h0M270.8 444.2h0M267.7 436.6h0M269.6 441.6h0M282.6 438.2h0M266.8 427.6h0M261.5 435.5h0M261.8 434.1h0M266.8 445.3h0M108.5 335.2h0M103.6 341.7h0M109.6 333.4h0M105.2 342.6h0M105.8 338.7h0M101.5 340.9h0M111.4 349.2h0M111.4 341.4h0M67.8 309.1h0M88 298.8h0M65.2 295.4h0M80.6 289.3h0M80 283.7h0M80.8 296.8h0M74.8 298.9h0M58.3 302h0M88.8 294.2h0M555.4 280.3h0M559.7 270.1h0M563.1 294.1h0M556.5 283.3h0M548.4 288.2h0M559.3 284h0M560.9 272.4h0M567.1 292h0M551 284.1h0M547.8 278.3h0M560.6 286.6h0M560.1 282.7h0M556.3 291.4h0M557.1 283.4h0M564.3 309.5h0M557.7 282h0M736.8 406.2h0M739.9 407.2h0M749.9 401.5h0M765 394.9h0M756.3 416.9h0M754.4 412.2h0M758 401.2h0M735.8 402.7h0M737.6 414.4h0M766.4 377.8h0M752.5 397.8h0M735.9 409.1h0M742.1 396.8h0M736.5 426.4h0M728.8 405.2h0M751.9 413.3h0M742.8 410.5h0M749.6 407.5h0M536.9 239.1h0M531.9 234.3h0M532.9 230h0M547.1 236.8h0M533.3 232.1h0M535.5 235.8h0M370.2 304.1h0M378.5 295.6h0M377.6 294.9h0M838 363.6h0M844.7 359.1h0M853 350.9h0M840.8 363.9h0M834.3 351.7h0M846.8 370.1h0M845.5 343.1h0M865.5 357.9h0M832.6 370.3h0M851.6 362h0M839.1 354.5h0M810.9 586.8h0M811.8 567h0M820.4 572.1h0M814.8 571.7h0M806 570.1h0M817 566.9h0M797.9 574.7h0M820.5 572.2h0M812.9 570.1h0M816.6 571.7h0M814.3 570h0M819.1 563.2h0M816.4 565.7h0M814.3 563.3h0M814.4 562.4h0M816.3 559.4h0M798.3 568.5h0M821.7 557.7h0M817.1 549.1h0M822.7 554.5h0M816.1 549.9h0M822 557.1h0M826.6 549.6h0M818.5 543.9h0M820 553.3h0M573.5 126.9h0M570.4 150.2h0M571.5 135.4h0M575.2 148.2h0M585.7 119.1h0M586.4 151.2h0M602.9 125.2h0M586.4 145.5h0M576.4 157.5h0M580.9 126.8h0M560.8 132.4h0M599.7 125.9h0M598.6 135.4h0M568.3 150.2h0M566.5 150.5h0M618.7 142.5h0M576.7 142.7h0M597.2 144.2h0M585.1 142.3h0M600.2 139.5h0M535.3 362.1h0M542 341.7h0M553.5 344.6h0M529.4 354.5h0M535.2 359.9h0M530.1 349.2h0M532.9 356.1h0M544 351.9h0M530.8 353.9h0M543.8 351.6h0M530.7 345.4h0M777 215.7h0M787.6 232.3h0M790.6 234.2h0M775.8 219.4h0M781.4 241.3h0M809.9 224.6h0M808.1 235h0M802.8 242.3h0M791.9 234.1h0M781.6 239.8h0M787 232.5h0M505.2 312.7h0M507.2 317.9h0M506.3 317.4h0M512.6 318.5h0M508.4 319.9h0M506.5 318.1h0M506 318h0M493.8 317h0M507.1 317.3h0M518.8 315.9h0M510.7 314.2h0M508.1 316.8h0M509.1 322.9h0M641.3 485.6h0M640.3 468.1h0M646.7 488.9h0M637.2 482.7h0M648.4 481.9h0M637.5 492.6h0M651.6 472h0M629.3 478.5h0M649 470.7h0M777.6 534.5h0M773.8 525.6h0M769.4 531.3h0M779.8 531.5h0M796.6 512.3h0M771.5 530.4h0M759.2 540.1h0M774 529.8h0M779.5 529.2h0M774.2 532.5h0M774.9 528.2h0M775.5 523.7h0M768 533.5h0M775.3 529.8h0M770.9 528.4h0M777.1 536.7h0M770.7 529.4h0M768.7 528.6h0M802.4 519.4h0M806.1 510.1h0M784.3 514.4h0M800.1 526.3h0M799.2 521.4h0M803.5 510h0M797.1 516.4h0M795.7 546.8h0M790.5 507.4h0M789.8 513.1h0M796.6 512.4h0M804.4 523.6h0M798.1 517.4h0M792.9 514.6h0M123.1 360.9h0M108.2 374.3h0M119.5 371.5h0M118.8 368.9h0M117.6 371.6h0M121.4 365.6h0M638.4 307.6h0M625.2 283h0M635.3 299.7h0M630.5 278.3h0M643.8 290.2h0M622.7 302.3h0M647.3 295.5h0M640.1 311.5h0M642.9 302.8h0M629.8 306.2h0M643.7 303.1h0M635.5 299.1h0M636.1 307.1h0M627.3 298.2h0M639 291.4h0M628.4 298.9h0M640.6 296.5h0M628.6 296.1h0M819.7 257.2h0M813.4 250.1h0M825.6 262.4h0M825.6 263.5h0M805.6 250.8h0M828.7 244.9h0M800.6 260.8h0M800.8 239.9h0M828.2 235.9h0M831.9 256.3h0M736.5 289.2h0M748.3 282.2h0M728.1 294.3h0M749 279.6h0M726.8 286.9h0M734.9 288.8h0M724.9 290.5h0M738 283.3h0M734.9 288.3h0M235.7 250.4h0M252.2 245.8h0M252.1 248.3h0M247.9 245.2h0M246.1 247.9h0M243.2 259.8h0M234.6 253.4h0M250.7 252.9h0M240.6 245.8h0M276.9 240.8h0M256.9 249.2h0M253.8 243.7h0M247.7 246.1h0M250.9 239h0M250.2 242.6h0M251.1 230.4h0M234.6 235.4h0M257.5 260.5h0M255 261.6h0M251.2 260.3h0M259.7 263.3h0M842.1 193h0M851.3 202.1h0M838.6 195.7h0M839.2 189.3h0M839.5 202.3h0M843.1 194.9h0M843.9 188.1h0M839.8 208.2h0M845.6 193.6h0M866 191.6h0M864.4 184.9h0M855.5 194.2h0M868.6 185.3h0M866.7 186.7h0M891.3 194.7h0M887.6 193h0M886.6 183.6h0M880.3 183.9h0M922.4 198.1h0M935 205.7h0M927.8 189.7h0M927.6 205.9h0M940.6 203.2h0M930.9 195.9h0M930.9 202.8h0M922.7 203.3h0M941.1 225.9h0M942.9 227.6h0M948 231.2h0M961.1 224.6h0M957.9 221.5h0M950.9 226.4h0M947.9 224.4h0M948.5 230h0M954.1 218.1h0M988.1 215.7h0M976.2 215.2h0M965.6 214.7h0M964.2 238.7h0M974 234.4h0M977.8 218.8h0M947.7 236.2h0M949.3 233.8h0M945.8 240.8h0M939 239.6h0M947.7 233.2h0M863.4 320.5h0M868.8 327.6h0M872.5 318h0M865.8 326.7h0M867 316.1h0M863.7 328.2h0M885.6 343.7h0M899.5 332.3h0M896.8 340.3h0M887.8 341.6h0M885.1 336h0M881.2 340.1h0M885.9 344h0M885.5 337.6h0M884.3 332.5h0M881.8 338.4h0M828.6 352.4h0M821.9 356.1h0M821.5 345h0M816 354.6h0M818.1 358.4h0M823.7 352.5h0M820.7 358h0M825.3 351.7h0M821.6 363.5h0M826.6 345.1h0M819.4 362.8h0M822.6 354.4h0M813.7 353.1h0M810.7 348.1h0M837.4 365.9h0M845.6 360.2h0M845.5 363.4h0M839.6 362.1h0M776.6 384.7h0M780.4 383.9h0M783.6 378.5h0M781 382.3h0M781 379.6h0M780.6 382h0M774.4 375.6h0M800.9 403.8h0M804.7 397.5h0M797.9 409.5h0M813 397.1h0M806.8 414.4h0M789.4 399.7h0M807.9 404.1h0M800.6 394.7h0M810.6 406.1h0M809.1 401.8h0M800.7 402.4h0M824 426.6h0M828.7 432.5h0M819.8 422.4h0M817.3 420.4h0M824.4 426h0M822.3 412.6h0M826.9 418.4h0M799.3 444.6h0M806.8 436h0M811.7 448h0M802.5 449.9h0M801.9 447.2h0M794 408.1h0M775.6 408.1h0M779.6 418.8h0M783 405.3h0M783.7 413.5h0M688.9 413.4h0M712.1 421.5h0M714.4 407.6h0M689.9 403.9h0M691 414.8h0M696.8 401.6h0M707.4 417.6h0M705 406.2h0M697.3 408.7h0M699.3 405.8h0M699.9 417h0M706.2 435.7h0M708.5 428.8h0M707.5 439.3h0M711.9 434.8h0M677.6 468.1h0M673.4 468.2h0M674.8 472.1h0M675.5 480.9h0M678.8 473.5h0M674.6 457h0M682 474.1h0M675 476.2h0M699.4 385.4h0M707.2 383.1h0M700.9 383.1h0M707.5 389.5h0M703.9 378.4h0M703.1 371.9h0M728.4 374.2h0M715.5 374.8h0M720.6 383.8h0M726.1 369.6h0M722.1 373.8h0M736.5 379.5h0M724.5 381.7h0M745.3 358.1h0M749.4 358.9h0M745.2 355h0M744.7 347.5h0M744.6 356h0M760.8 357.3h0M740.6 354.2h0M754 362.7h0M751.5 358.1h0M730.8 313.3h0M735.3 309.8h0M740.2 314.1h0M738 312.5h0M743.3 308.6h0M737 312.3h0M746.6 322.3h0M744.6 311.7h0M744.9 308.8h0M743.5 271.7h0M748.9 270.9h0M744.2 268.5h0M737.5 272.2h0M756.4 277.9h0M745.8 231.8h0M751.9 225h0M761.5 237.8h0M749.4 224.3h0M762 236.7h0M762 226.6h0M758.7 228h0M790.4 239.1h0M794.9 241.5h0M796.2 237.5h0M793.8 247.1h0M790 232.5h0M791.8 240.1h0M800.9 240.5h0M811.1 239h0M819 235.5h0M716.7 207.1h0M724.1 185h0M713.2 183.1h0M715.8 193.2h0M735.9 206.2h0M739.7 208.8h0M735.7 202.3h0M743.5 204.6h0M732.6 197.8h0M745.5 194.2h0M748.7 190.8h0M757.7 198.1h0M749.3 187.8h0M729.4 243.7h0M733.2 235.8h0M724.6 246.3h0M724.7 239h0M731.9 242.7h0M728 244.6h0M704.9 225.8h0M709.4 226.2h0M708.3 229.1h0M705.9 226.7h0M651.8 190.2h0M644.7 194.5h0M652.2 194.6h0M652.9 190.2h0M661.9 198.8h0M673.3 161.8h0M676.7 158.6h0M672.4 157.5h0M673 140.4h0M678 161.1h0M676.1 157.6h0M675.6 141.7h0M664.7 162.7h0M668.5 159.3h0M673.8 167.2h0M582.5 225.4h0M568.1 218.1h0M566.8 226.6h0M578.7 225.9h0M590.4 242.6h0M577.7 229.5h0M573.5 231.6h0M619.8 222.9h0M615 221h0M620 226.1h0M626.4 227.3h0M634.8 228.8h0M633.3 225.8h0M629.5 229.3h0M647.9 250.5h0M645 246.6h0M646.9 249.5h0M650.3 272.4h0M646.7 277.8h0M644.5 270h0M640.9 267.8h0M653.8 208.8h0M652.9 207.2h0M658.8 209.1h0M661.9 221.6h0M659 212.8h0M656.6 208.4h0M579.2 327.3h0M587.2 325.5h0M582.4 332h0M583.1 324h0M583.1 385.6h0M601.8 381h0M592.7 389.1h0M596.9 391.9h0M587.7 384.3h0M598.7 381.7h0M640.1 437.9h0M640.1 438.4h0M636.5 431.1h0M648.4 423.9h0M639.6 443.9h0M631.9 436.5h0M638.6 438.8h0M634.3 435.9h0M627.4 489.6h0M622 470.9h0M616.8 475.5h0M635.4 458.2h0M623 483.1h0M619.4 482.2h0M618.3 469.3h0M619.3 475h0M621.1 466.9h0M599.3 481.1h0M596 489.9h0M598.3 480.5h0M603 477h0M579.6 434.2h0M575.8 439.8h0M586.8 429.2h0M569.6 428.6h0M580.5 439.3h0M572.1 436.7h0M571.2 429h0M580 485.2h0M583.3 476.1h0M583.7 484.7h0M593.9 491.3h0M568.8 475h0M592.7 482.3h0M576.6 478.8h0M568.1 486.5h0M566.4 481.3h0M569 489.1h0M575.5 486.9h0M574.5 484.4h0M504.2 532.1h0M506.7 526.7h0M510.9 522.3h0M506.3 526.9h0M505.5 528.9h0M506.4 531h0M518 526.5h0M504.6 521.2h0M508.8 521.8h0M500 530.1h0M478.4 563.3h0M493.9 571.2h0M490.9 568h0M486.7 565.9h0M491.4 566.2h0M489.7 560.4h0M488 561h0M489.4 559.1h0M492.9 552h0M494.8 564.5h0M491.2 570.8h0M505.4 568.3h0M475 533.6h0M467.8 539.7h0M459.1 534.2h0M473.5 538.9h0M469.1 530.8h0M407.9 440.8h0M422.3 443h0M424 441.2h0M432.3 444h0M412.2 440.8h0M428.6 444.6h0M429.7 442.8h0M419.2 444h0M424 450.3h0M422 438.9h0M423.3 447.8h0M419.4 448.5h0M419.4 433.1h0M425.8 445.5h0M425.2 408.5h0M425.9 406.8h0M431.2 409.4h0M421.3 409h0M415.5 401.1h0M431.5 370h0M427.6 370.1h0M427.5 377.6h0M429.5 379.3h0M427.6 372.2h0M431.8 378.9h0M431.4 382.3h0M433.5 379.6h0M419.3 373.3h0M511.5 452.3h0M513.5 450.1h0M511.8 453.1h0M498.5 456.6h0M502.3 465.4h0M507.8 468h0M496.2 456.4h0M551.5 436.4h0M522.7 248.6h0M527 251.7h0M522.9 250.4h0M514.2 178h0M520.4 167.6h0M520.9 174.6h0M518.7 104.5h0M521.7 93.2h0M521.8 86.5h0M516 85.2h0M454.9 96.8h0M442.4 93.6h0M399.5 53.1h0M399.2 63.3h0M396.7 67.7h0M398.3 65.5h0M402.3 61.2h0M414.9 59h0M399.8 64.1h0M418.7 52.2h0M400.9 165.4h0M396.2 174.6h0M408.4 161.9h0M403.6 167.6h0M306.7 126.6h0M311.4 123h0M307 117.8h0M308.4 119.9h0M309.1 128.3h0M299 120.9h0M165.2 184.8h0M166.1 170.4h0M178.6 175.1h0M170.9 171.8h0M173.6 174.4h0M145.7 68.5h0M156.2 82.5h0M149.6 70h0M151.7 75.8h0M150 66.9h0M115.2 108.5h0M132 103.4h0M125.4 116.1h0M119.6 111.6h0M93.3 102.4h0M99.8 98h0M96.6 93.8h0M96.3 104h0M47.9 161.6h0M52.7 169h0M46 156.7h0M41.4 173.3h0M46 173.9h0M50.7 171.1h0M48.9 140.3h0M44.7 138.4h0M46.9 147.7h0M45.6 142.6h0M54.5 204.9h0M49.9 215.8h0M53.4 209h0M56.4 210.8h0M51 210.3h0M108.9 277.7h0M107.4 280.5h0M103.9 257.6h0M108.9 278.7h0M84.8 318.6h0M80.6 302.7h0M77.3 312.2h0M72.7 309.1h0M81 306.5h0M84.5 308.8h0M90.1 317.2h0M85.4 313.8h0M71.2 309.3h0M87.1 314.9h0M82.5 324.1h0M81.4 312.3h0M147.1 400.4h0M151.4 404.8h0M140 404.2h0M171.3 399.7h0M164.8 383.9h0M147.6 385.8h0M161.8 402.9h0M147.1 399.9h0M148.2 398.9h0M166.1 401.7h0M146.2 416.2h0M163.6 398.8h0M147.6 396.7h0M173.5 399.7h0M139.4 396.6h0M160.5 398.9h0M148 404.1h0M147.8 399.5h0M129 416.3h0M149.8 396.6h0M167.6 410.7h0M146.5 400.2h0M164.1 399.3h0M148.3 398.2h0M128.3 400.8h0M138.4 403.1h0M136.9 383.6h0M147.6 406.1h0M149.3 405.4h0M162.2 404.7h0M126.5 394.2h0M160.4 393.2h0M158.8 407.4h0M141.5 412.4h0M126.3 394.6h0M159.9 392.2h0M159.7 376.6h0M120.7 398.8h0M140.8 395.5h0M147.1 401.8h0M138.4 411.4h0M155.9 412.4h0M128.9 405.2h0M169 398.6h0M166.1 397.4h0M101.3 382.4h0M108.2 385.1h0M114.4 394.3h0M115.4 397.6h0M112.5 392.1h0M111.4 398.8h0M127.3 395.4h0M121.1 387.2h0M393.5 260.5h0M374.7 261.3h0M371.7 250.8h0M379.8 245.3h0M370.4 254.8h0M374.3 309.7h0M385.8 306.9h0M356.3 365.2h0M351.7 357.7h0M362.3 362h0M354.4 364.4h0M352.8 362.9h0M352.9 360h0M376.3 237.4h0M377.7 241.7h0M375.1 236.4h0M378.5 243.3h0M351.5 198.7h0M349.2 195.8h0M686.7 478.3h0M694.5 480.1h0M681.8 476.9h0M696.1 477.3h0M679.7 476.4h0M688.2 470.5h0M692.7 475.3h0M681.6 477.3h0M734.3 474.8h0M748.2 477.5h0M734.3 478h0M740.8 477.9h0M774.8 485.2h0M786.2 483.9h0M797.7 499.5h0M798.9 498.4h0M799.9 503.4h0M810 498.6h0M811.2 503.6h0M795.2 495h0M799.3 501.7h0M801.2 531.9h0M813.3 523.8h0M805.9 512.9h0M807.3 525.5h0M807 521.8h0M805.9 519h0M820.1 525.1h0M815.5 520.8h0M780.9 554.6h0M791 560.9h0M780.9 554.9h0M793.9 564.5h0M791 554.6h0M778.5 567h0M789.8 555.4h0M786.6 556.4h0M780.4 537.4h0M775.6 549.3h0M779.3 541h0M774.4 535.8h0M780.8 546.9h0M777.2 538.6h0M772.5 539.1h0M794.4 559.4h0M771.8 565.2h0M791.9 561.5h0M787 561.9h0M790.7 558.3h0M783 524.8h0M788 532.3h0M787.3 522h0M785 522.5h0M787 523.8h0M780.5 518.3h0M875.8 260.9h0M873 265.3h0M876.1 260.1h0M873.2 261.5h0M903.4 255.3h0M898.9 252.3h0M907.6 249.7h0M897.7 254.4h0M899.2 235.3h0M893.8 233.9h0M897.7 235h0M896.5 228.9h0M933.2 258h0M925.1 250h0M934.8 249.2h0M922.5 237.8h0M919.5 261.7h0M913.8 255h0M903.4 232.6h0M916.7 246.1h0M913 254.2h0M916.2 245.6h0M927.7 250.6h0M922.1 243.6h0M917 247.7h0M922.3 239h0M920.8 247.5h0M921.3 236.3h0M909.4 258h0M934.6 244.2h0M945.2 241.6h0M942.8 247.6h0M936.8 250.7h0M958.2 245.7h0M942.8 228h0M938.2 245.5h0M949.2 244.5h0M941.1 248.6h0M936.5 243.7h0M941 244.7h0M907.1 273.9h0M903.1 266.7h0M914 262h0M911.2 262.4h0M905.9 259h0M911.1 260.8h0M916.7 261.4h0M913.7 261.6h0M899.9 279.2h0M901.6 274.2h0M913.2 276h0M895.5 273.8h0M894.8 278.8h0M889.7 281.9h0M954 211.4h0M953.4 215.7h0M955.9 215.3h0M956.8 218.7h0M970.4 216.4h0M965.7 210.9h0M961.3 215.7h0M976.8 203.6h0M982.9 192.1h0M981 189.3h0M971.9 193.8h0M963.6 194.1h0M996.8 176.4h0M943.2 160.5h0M685.5 304.8h0M683.2 318.4h0M682.2 310.3h0M689.3 306.8h0M788.7 306.5h0M790.6 304.5h0M796.8 307.2h0M815.7 322.5h0M814.5 323.7h0M815 329.1h0M780.8 365h0M778.4 367.6h0M779.1 363.3h0M781.9 364.4h0M769 366.6h0M777.8 368.2h0M839 375.1h0M840.3 380.8h0M826.9 387.5h0M838.1 378h0M839.5 375.6h0M851.2 380.6h0M851.9 390.7h0M840.9 407h0M850.9 405.7h0M854.9 410.8h0M837.6 406.9h0M837.4 391.3h0M733.3 439.2h0M733.2 436.9h0M735.3 427.3h0M729.4 433.4h0M756.6 423.3h0M752.6 427.9h0M564.3 350.2h0M564.5 361.6h0M570.7 353.4h0M567.8 350.9h0M564.8 345.5h0M566.5 340.7h0M563.5 360.5h0M564.7 351h0M567.2 362.8h0M563 368.8h0M570 370.4h0M567 371.2h0M538.5 290.3h0M535.5 298.6h0M535 286.4h0M535.2 292.9h0M596.3 99.2h0M607.5 92.1h0M603.4 99.4h0M601 97.7h0M598 101.7h0M525.1 207.1h0M531 208.8h0M525 206.8h0M308.1 287.5h0M228.8 334.9h0M222.4 330.5h0M219.4 332.7h0M252.7 373.1h0M253.4 374.1h0M251.9 373.7h0M194.7 423.9h0M200.9 432.2h0M176.7 424.6h0M189.3 429.4h0M197.5 439.3h0M172.4 434.7h0M182.3 416.3h0M184.3 426.8h0M177.5 429.5h0M179.3 415.3h0M177.4 429.6h0M244.7 180.6h0M246.4 182.2h0M250.9 181.1h0M245.3 184h0M201.8 206.2h0M205.5 207.3h0M227.9 192.7h0M233.8 199.1h0M209.8 91.8h0M258 78.4h0M258.6 79.5h0M264.9 128.4h0M261.2 125h0M77.3 165.2h0M77.4 168.9h0M59.4 257.1h0M59.4 250.7h0M63.7 253.8h0M69.1 269.8h0M74.6 272h0M67.7 263.9h0M50.1 301.3h0M55.6 295.9h0M53.4 300.9h0M57.8 296.3h0M55.4 306.2h0M84.1 339.6h0M74.6 346h0M80.6 340.9h0M72.7 337.8h0M119.2 344.3h0M110.2 358.5h0M117.7 350.4h0M115.4 347.3h0M140.7 383.2h0M138.7 384.5h0M141 383.3h0M143.5 385.8h0M140 380.1h0M152.4 390h0M147.2 390.5h0M150.1 395.7h0M152.3 384.8h0M160.1 394.2h0M56.1 50.2h0M60.6 50.7h0M60.2 62h0M58.6 64.6h0M67.9 62.8h0M59.2 64.7h0M61.4 65.6h0M55.4 93.2h0M55.8 93.2h0M98.8 327.9h0M93.9 331.7h0M93.4 324.3h0M98.5 315.4h0M102.7 333.7h0M103.3 337.7h0M104 330.2h0M113.9 347.3h0M111.5 348.9h0M107.6 350.3h0M89.1 320.9h0M87 328.1h0M91.9 321.5h0M91.3 329.4h0M73.9 309.5h0M77.1 286.2h0M77.8 283.1h0M69.6 302.4h0M72.9 313.5h0M60.8 298.6h0M70 316.4h0M66.4 314h0M63.5 307.2h0M60.6 308.6h0M126.9 395.6h0M128.5 387.5h0M130 393.1h0M122.8 389.9h0M130.6 391.5h0M158 393.4h0M146.9 402.1h0M141.8 395.6h0M144.5 399.3h0M151.7 395.6h0M163.4 403.4h0M144.7 399.7h0M150.7 403.5h0M138.7 391.9h0M143.5 383.5h0M161.2 394.5h0M152.2 395.9h0M153.9 389.6h0M155.2 402.7h0M143.7 397.3h0M157.4 413.1h0M156.7 410.1h0M149.3 414h0M159.6 419.6h0M159 420.1h0M154.1 418.1h0M159.4 416.4h0M154.6 412.1h0M127.2 394.2h0M122.1 392h0M128 395.4h0M126.2 394.6h0M125.1 398.2h0M119.2 399.1h0M442 62.3h0M439.3 58.8h0M435.1 63.4h0M516.2 69.2h0M510.6 60.6h0M513.8 60.5h0M506.2 71.4h0M519.8 67.3h0M491.1 131.1h0M487.3 131.9h0M488.6 130.6h0M452.4 159.6h0M457.7 160.6h0M410.5 96.1h0M417.1 97.6h0M408.6 101.3h0M506.8 150.4h0M491.9 91h0M496.7 93.8h0M491.3 100.4h0M485.5 92.8h0M496.8 176.9h0M495.9 173.3h0M497.7 178.5h0M447.7 237.6h0M445.9 235.9h0M451.5 236.3h0M501.9 238h0M491.8 244.3h0M490.2 246.7h0M493.7 245.2h0M486.3 242.4h0M480.4 247.5h0M474.6 245.8h0M394.1 222.5h0M395.6 222.6h0M443.9 311.5h0M444.4 306h0M445.1 312.9h0M460 317h0M461.4 311.9h0M503.5 291.4h0M470.6 292.2h0M471.7 291.5h0M523.4 287.3h0M464.2 426.3h0M461.2 432.7h0M452.8 455.7h0M476.5 401h0M491.1 399.9h0M489.9 387.8h0M482 389.7h0M376.2 413h0M386.8 413.6h0M392.5 432.6h0M383.4 429.5h0M416.9 428.6h0M409.9 429.1h0M402.3 391.2h0M404.3 394.5h0M403.7 388.1h0M310.2 340.3h0M314 332.4h0M560.7 132.2h0M573.7 122.1h0M574.4 126h0M565.8 126.7h0M601.1 163.7h0M595.1 168.1h0M576.4 167h0M611.4 149.2h0M616 147.3h0M613.3 150.3h0M616.4 151.8h0M610.5 172.8h0M624.2 178.7h0M609.8 175h0M624.8 179.2h0M648.2 143.2h0M638.7 148.3h0M647.6 145.5h0M648.2 141.6h0M648.7 146.4h0M668.1 162.3h0M667.3 170.8h0M727.5 209.2h0M718.7 210h0M748.4 179.9h0M753.1 184.5h0M742.7 216.6h0M748.9 208.9h0M740.3 218.7h0M720 152.3h0M716.5 150.5h0M689.5 102.4h0M820.7 218.8h0M816.5 213h0M832.1 217.7h0M810.4 218h0M813.4 210.1h0M895.8 217.5h0M894.2 224.2h0M890.4 215.4h0M894.9 216.9h0M891.2 216.1h0M904.1 191.4h0M893.6 188.4h0M906.9 191.6h0M853.4 244.7h0M886.9 263.1h0M887.5 258.9h0M884.4 263.7h0M885.9 262.9h0M887.2 264.9h0M896.9 265.1h0M894.5 256.1h0M894.4 258.6h0M895.4 247.6h0M874.4 268.9h0M878.4 270.3h0M871.4 259.2h0M869.6 270h0M911.2 266.9h0M916.1 279.1h0M921.8 281.1h0M901.3 283.9h0M904.5 295.4h0M899.1 305.9h0M849.5 310h0M836 329.7h0M599.6 208.6h0M627.1 204.3h0M630.2 197.2h0M669.1 260.3h0M667.3 267.5h0M671.8 261.9h0M676.8 263.7h0M674.9 261.1h0M661.8 252.7h0M654.8 254.8h0M655.9 251.8h0M658.6 272.2h0M659.2 275.1h0M677.5 278.3h0M697.5 259.5h0M682.9 254h0M699.4 254.4h0M695.3 250.2h0M595.8 287.6h0M598.5 288.5h0M600.4 291.8h0M599 290.8h0M554.7 333.8h0M561.6 333.4h0M561.2 340.1h0M554.9 329.6h0M621.1 359.2h0M666.6 394.3h0M663.8 393.2h0M652.1 453.1h0M660.9 475.3h0M655.4 477.4h0M744.6 450.2h0M757 404.2h0M779.4 501.2h0M778.2 510.9h0M785.7 505.8h0M794 504.7h0M782.3 506.7h0M814.6 543.9h0M814.6 538.2h0M817.8 539.1h0M812.3 532.3h0M598.6 427.2h0M598.9 430.5h0M602.6 433.1h0M595.9 457.7h0M627.5 488.9h0M630.9 493.3h0M635.3 493.8h0M627.4 493.9h0M561.8 431.7h0M556 429.5h0M557.7 427h0M554.7 432.8h0M517.8 470h0M529.9 472.5h0M445 498.5h0M453.6 511.9h0M453.8 508.8h0M454.9 515.2h0M361.2 164.5h0M366.1 163h0M251.8 225.1h0M253.5 226.2h0M180.3 249.3h0M69.9 211.5h0M96.4 83.9h0M100.4 83.2h0M158.2 107.9h0M156.4 116.8h0M158.8 68.9h0M205.7 59.5h0M241.8 106h0M246 101.6h0M239.3 382.1h0M242.7 387.3h0M207.3 389.3h0M263.2 454.9h0M482.7 520.5h0M495.6 521.9h0M499.2 515.2h0M487.8 517.1h0M488 512.5h0M491.6 518.5h0M478.2 506.6h0M480.1 505.6h0M483.6 517.2h0M483.4 515.5h0M403.2 439.9h0M395 459h0M392.6 452.3h0M401.6 444.6h0M413.6 453.9h0M405.2 448.6h0M395.1 447.8h0M400.9 445h0M401.2 439.3h0M395.7 448.7h0M394.9 440.8h0M409.4 449.7h0M405 437.3h0M412.7 445.8h0M400.8 447.6h0M406.6 446h0M401.3 437h0M412.4 439.7h0M399.7 63.1h0M408.1 69.7h0M404.1 70h0M404.2 65.1h0M397.3 77h0M420.5 57.4h0M412.5 65.1h0M411.5 61h0M414.7 71.9h0M413.1 65.6h0M405.2 61.8h0M410.7 58.9h0M376.9 249h0M377.3 258.3h0M365.5 256.7h0M381.6 256.5h0M377.7 258.8h0M367.6 254.3h0M380.6 257h0" stroke-width="2.5" stroke-opacity="0.55"/><path d="M701.5 424.5h0M174.8 274.3h0M653.1 409.9h0M729.3 234.2h0M665.3 207.8h0M707.9 209.1h0M530.2 255.7h0M186.9 361.2h0M202.4 349.2h0M674.5 355.8h0M619.5 425.1h0M91.6 307.9h0M30.2 264.4h0M785 252.5h0M732.3 455.3h0M710.9 455h0M466.7 417.2h0M762.5 239.3h0M674.3 224.9h0M518.8 396.8h0M500.5 417.6h0M608.3 300.5h0M719.6 466.8h0M203.2 316h0M600.4 381.7h0M324.5 338.1h0M370.1 301.4h0M776.3 280.7h0M787.7 478.6h0M480.6 502.2h0M740.6 305.9h0M731.4 348.3h0M674.1 258.2h0M784.8 423.6h0M679.3 331.2h0M69.6 203.5h0M413 262.7h0M209.8 104.3h0M987.2 215.2h0M477.5 142.7h0M518.2 287.3h0M430.3 311.4h0M676.6 413h0M86 327.9h0M666.6 148.8h0M608.7 193.7h0M568.8 232.9h0M769.5 224.4h0M712.4 384.9h0M717.5 389.6h0M938.1 171.7h0M947.9 225.1h0M552.1 427.8h0M785.9 459.2h0M762.2 459.2h0M576 347.6h0M674.4 479h0M686.9 247.2h0M748.2 436.2h0M736 422.8h0M930 192h0M598.4 403.2h0M848 401.8h0M688.5 443h0M195.3 357.3h0M726.1 319.5h0M797.7 404.3h0M295.9 127.4h0M392.7 186h0M421.3 168.7h0M818.9 284.5h0M723.9 418.6h0M486.7 444.3h0M640.6 362.9h0M871.8 213.4h0M241 129.9h0M242.1 57.3h0M797.3 421.4h0M724.8 346.9h0M515.5 126.4h0M505 415.9h0M455.3 315.1h0M366.6 97.7h0M466.9 364.8h0M751 407.8h0M640.4 259.9h0M493.3 294.1h0M654.7 414.8h0M615.7 424.6h0M417.8 199.7h0M511.4 316.9h0M467.3 433.9h0M343.2 377.2h0M998.1 235.5h0M29.6 242h0M760.4 401h0M793.7 240.6h0M640 290.8h0M850.1 258.1h0M788.2 562.6h0M756.2 141.5h0M719.9 376.8h0M624.3 353.3h0M381.6 424.5h0M667.4 162.2h0M854.9 340.8h0M766.5 174h0M976.1 206.2h0M120.1 368.6h0M892.1 212.6h0M1020.2 148.3h0M448.2 97.8h0M789.9 229.2h0M700.4 353.3h0M788.1 526.5h0M820.9 246.8h0M620.2 473.3h0M563 304.6h0M813 246.9h0M982.8 203.5h0M671.9 253.7h0M707.1 232.8h0M629.5 243.2h0M651.8 241.1h0M661.7 209.8h0M98 352.5h0M675.3 209.8h0M537.6 235.4h0M791.8 265.7h0M406.2 197.3h0M922.5 244.5h0M296.6 422.3h0M793.4 228.1h0M683.7 221h0M498.1 376h0M654.8 332.4h0M634 69.7h0M768.2 265.1h0M843.1 393.9h0M728.9 357.2h0M736.5 287.3h0M846.9 338.5h0M868 195.6h0M661.2 269h0M609.7 186.5h0M514.7 423.6h0M664 219.2h0M833.1 205.7h0M750.6 356.9h0M764.2 258.5h0M445.1 497.4h0M734.6 320.8h0M541.3 483.1h0M641.9 338.8h0M936.8 232.7h0M530.1 143.8h0M604.2 99.2h0M403.6 432.9h0M225.6 386.9h0M386.6 370.1h0M479.4 248h0M614.2 146.9h0M888.6 350.3h0M384.2 171.4h0M881.5 355.5h0M320.3 264h0M682.3 315.6h0M608 70h0M615.2 254.3h0M562.1 338h0M518.7 316.3h0M722.2 109.9h0M692.9 125h0M890.5 292.8h0M674.4 182.9h0M814.6 360.9h0M788.5 594.2h0M564.2 271.5h0M566.3 446.1h0M500.6 367.4h0M500.7 433.2h0M466.4 423.3h0M412.6 405.7h0M598.9 427.2h0M633.1 316.6h0M840.1 378.3h0M626.9 379.4h0M897.6 355.7h0M251.5 411.5h0M875.5 340.6h0M878.1 286.3h0M505.1 251.3h0M540.6 263.3h0M371.8 254.5h0M952.1 245.2h0M938.1 248h0M520 179h0M537.4 76.2h0M848 325.8h0M817 561.7h0M566.1 356h0M710.9 400.4h0M508.7 54.5h0M633.1 243h0M739.8 169.3h0M147.4 75.5h0M716 274.8h0M512.2 66.7h0M430.6 244.6h0M556.4 434.4h0M343.1 59.6h0M781.3 394.5h0M422.6 198h0M666.1 411.7h0M337.4 299h0M304.1 366.9h0M777.4 383.4h0M544.2 379.9h0M899.6 197.1h0M545.3 351.1h0M484.3 538.5h0M733.4 373.3h0M454.4 358.4h0M50.4 129.7h0M504.9 261.5h0M795.1 361.8h0M808.4 261h0M156.6 405.6h0M775.3 301.7h0M835.8 403.6h0M668.4 354.1h0M787.4 289.9h0M731.8 261.1h0M792.6 324.4h0M773.8 288.7h0M767.6 284.5h0M574.7 240.3h0M576.9 225h0M674.6 122.6h0M269.5 377.6h0M799.2 367.5h0M595.2 262.9h0M420.7 282.7h0M269.2 178.3h0M807.3 369.7h0M927.4 248.6h0M740.1 211.3h0M552 292.8h0M547.3 304.9h0M483.2 270.7h0M544.3 314.2h0M188 424.8h0M641 475.2h0M625.9 489.6h0M413.4 309.6h0M138.9 136.1h0M849.9 355.6h0M609.4 407.6h0M657.6 418.2h0M72.2 213.8h0M87.6 332.4h0M546.9 494.3h0M274.4 125.6h0M562.5 289.2h0M634.2 444.6h0M678.9 365h0M666.2 339h0M617.2 413.9h0M631.4 404.7h0M642.5 451.1h0M669.9 363.8h0M661 360.5h0M706.8 351.9h0M585.9 397.7h0M680 406.1h0M594.1 387.8h0M101.2 334.1h0M796.4 516.7h0M476.1 345.3h0M635.4 140.9h0M80 298.6h0M553.2 335.8h0M922.3 266.8h0M683.1 140.3h0M765.1 250.6h0M636.7 196.1h0M652.7 189.9h0M620.2 232.8h0M688.3 454h0M353.3 321.9h0M1044.4 151h0M658.5 316.8h0M619.9 212.1h0M718.3 253.6h0M883.9 241.6h0M839.2 242.3h0M910 251.8h0M914.3 251.4h0M906.7 240.7h0M904.8 261.9h0M822.7 346.4h0M457.2 112.3h0M898 190h0M463.5 268.6h0M96.9 269.3h0M44.7 270h0M85.2 283.1h0M95.8 310.5h0M88.9 316.7h0M113.1 341.3h0M117.1 305.2h0M102.5 322.3h0M872.9 365.6h0M429.9 238.7h0M800.1 498.8h0M815 567.5h0M973.9 227.3h0M589.6 64.9h0M572.7 483h0M765 263.2h0M691.6 317.1h0M748.6 202.3h0M279.9 379.4h0M205.9 396.6h0M258.4 394.3h0M718.2 480h0M882.9 330.8h0M828.5 411.7h0M669.8 348.6h0M652.7 453.8h0M235.9 195.5h0M815.9 253.6h0M652.3 311.7h0M633.2 119.1h0M534.8 242.7h0M304.1 146.8h0M699.3 227.9h0M92 363.3h0M239.1 385.7h0M528.8 510.6h0M484.1 318h0M899.6 259.5h0M973.6 224.2h0M751.7 133.1h0M429.7 387.6h0M419.1 409.6h0M115.4 346.1h0M356 407.4h0M733.2 270.8h0M323.2 276.1h0M83.5 300.1h0M902.3 187.6h0M595.3 139.7h0M627.2 405h0M596.1 170.9h0M585.4 372.4h0M549.7 154.9h0M701.5 239.3h0M691.3 242.8h0M87 161.4h0M100.6 54h0M158.4 178.2h0M171.5 77.4h0M166.3 111.5h0M149.6 95.6h0M339.3 230.9h0M567.5 178.6h0M248.9 50.8h0M522 227h0M737.8 346h0M714.2 290.1h0M880.9 340.9h0M580.1 328.3h0M839.8 305.2h0M46.8 85.7h0M68.7 325.7h0M360 345.9h0M830.9 372.9h0M649.2 155h0M586 145.1h0M854.5 401.4h0M93 256.3h0M513.8 352.5h0M429.4 270.7h0M521.1 423.7h0M510.6 503.3h0M522.2 466.3h0M482.2 498h0M77.4 318.3h0M700.1 310.8h0M891.7 315.2h0M314.4 177.1h0M876.1 267h0M175.9 397h0M803.9 568.4h0M530.1 223.3h0M445.8 300.4h0M103.3 290.8h0M622.4 435.1h0M708 264.4h0M544 435.1h0M230.8 195.2h0M294.1 312.6h0M310.3 145.7h0M174.6 156.2h0M252.7 261.8h0M53.6 137.2h0M437 320.2h0M858.6 245.1h0M466.2 500.7h0M801.1 378.4h0M150.2 387h0M592.7 289.6h0M375.9 462.4h0M631.6 154.6h0M776.3 544.1h0M694.5 230.7h0M812.5 532.4h0M815.1 288.3h0M894.8 310.8h0M892.3 375.9h0M878 322.1h0M808.2 551.6h0M778 525.1h0M778.5 508.9h0M817 570h0M563.6 349.8h0M755.1 205.4h0M659.9 130.3h0M533.4 118.3h0M769 182.1h0M927.6 244.8h0M915.5 231.1h0M950 255.1h0M917.9 249.5h0M923.4 253.6h0M932.1 244.3h0M929.5 245.7h0M935.5 239.7h0M941.5 217.6h0M88.9 409.8h0M157.1 401.6h0M119.2 399.8h0M155.5 407.2h0M113.4 402.1h0M160 410.8h0M127.3 421.4h0M129.8 411.2h0M126.5 409h0M133.5 414.1h0M138.2 407.6h0M145.5 384.6h0M143.9 391.9h0M679.3 234.6h0M686 224.4h0M664 233.3h0M677.6 208h0M687 219.1h0M543.4 503.4h0M532.2 494.9h0M554.7 493.7h0M532.5 480.8h0M542 482h0M556.1 479.7h0M541.1 488.3h0M554.2 486.9h0M557.1 490h0M539.7 485.4h0M546 506.4h0M240 405h0M242.7 406.4h0M243.5 412.8h0M249.6 416.4h0M905.4 262.8h0M917.4 261.4h0M913.4 278.9h0M921.6 262.9h0M906.5 287.1h0M912.3 262h0M918.8 282.5h0M490.7 498.9h0M473.1 495.1h0M490.1 489.1h0M485.6 488.2h0M486.5 493.8h0M508.1 503.8h0M504.9 483.8h0M154.9 427.9h0M152 422.8h0M157.8 426.4h0M141.9 420.5h0M144.3 426.2h0M156.2 437.5h0M508.1 420.3h0M522.6 425.7h0M494.5 414.5h0M532.2 414.5h0M521.8 416.6h0M523.5 425.7h0M515.5 436.2h0M511.6 432.2h0M516.9 416.1h0M498.9 441.4h0M73.9 343.9h0M72.4 326.6h0M67.4 336.5h0M65.9 337.1h0M504.8 482.3h0M494.7 474.2h0M795.1 476.2h0M786.8 473.6h0M807.4 474.3h0M58 313h0M68.3 317.3h0M775.2 273.4h0M766.7 276.6h0M763.6 264.3h0M772.3 259.4h0M718.1 268.8h0M708 281h0M706.2 274.4h0M809.3 376.3h0M812.5 359h0M803.7 383h0M824.5 363.5h0M63.4 65.6h0M60.3 81.3h0M55.9 74h0M61.5 82.9h0M363.3 253.5h0M391.9 279h0M370.8 261.8h0M371.8 260.9h0M380.5 259.5h0M381 260.6h0M374.7 272.8h0M367.5 283.4h0M356.5 272.8h0M870.7 289.9h0M877.6 284.2h0M875.9 297.8h0M876.4 290.5h0M870.8 290.8h0M883.4 285.5h0M870.7 297.8h0M881.3 303.8h0M878.2 288.1h0M856.9 304.5h0M972.5 206.9h0M988.9 196.1h0M974 206.9h0M971 233.7h0M975.6 207.5h0M986 193.6h0M976.2 208h0M342.4 444h0M695.5 346.6h0M700.4 352.6h0M702.5 354.1h0M713.8 349.9h0M702.2 348.7h0M759.5 206h0M765.3 198.7h0M761.8 186.7h0M769.9 212.5h0M775.8 209h0M766.8 204.5h0M765.5 216h0M763 212.9h0M790.5 215.1h0M767.1 212.3h0M492.6 359.5h0M507.9 371.3h0M517.1 366.7h0M500.3 353.6h0M507.1 363.6h0M502.6 366.6h0M510.8 367.8h0M63.8 130.1h0M54.6 126.9h0M70 144.1h0M53.6 127.4h0M33.2 126.9h0M176.4 346.4h0M187.6 348.9h0M173.6 356.5h0M189.1 355.6h0M198.8 353h0M184.3 350.2h0M187.4 339.4h0M194 332h0M642.1 363h0M649.4 385.7h0M647.6 361.2h0M638.1 377.2h0M728.6 307.2h0M712.8 304.2h0M719.3 307.2h0M881.6 274.2h0M882.2 279.3h0M888.9 293.5h0M890.5 264.7h0M871 283.3h0M873.2 278h0M882.3 276h0M881.9 290h0M668 188.4h0M689.9 187.5h0M685.2 194.8h0M672.9 193.5h0M684.3 191.4h0M672.7 190.7h0M337.5 392h0M340.1 377.7h0M337.2 369.8h0M334.5 366.1h0M261.4 439.7h0M277.6 429.8h0M259.1 445.2h0M110.7 339.7h0M71.5 306.2h0M558.7 282.3h0M551.8 288.1h0M560.2 292.5h0M548 278.5h0M566 291.1h0M572.9 284.7h0M560.2 290.7h0M569.8 269.6h0M564.1 297.4h0M729.5 388.7h0M747.1 404.4h0M744.2 384.8h0M742.1 407.6h0M739.4 432.3h0M738.1 397.5h0M751.7 415.6h0M728.6 409.3h0M730.8 401.2h0M513 238.2h0M538.1 237.6h0M534.5 245.4h0M372.4 293.5h0M365.9 288.2h0M382.4 286.6h0M374 303.9h0M840.1 364.1h0M832.4 364.2h0M825.3 363.2h0M841 364.8h0M810.9 560.2h0M826 583.8h0M808.7 561.4h0M820.4 580.7h0M810.9 566.2h0M821.9 572.2h0M822.6 571.6h0M823.7 550.8h0M819 573.4h0M819.5 573.9h0M805.5 560.4h0M818 566.5h0M814.4 566.7h0M810.1 567.6h0M814 559.7h0M810.9 575.2h0M827.4 565.6h0M815 559.4h0M818.3 550.3h0M835.8 561.7h0M832.9 553.9h0M568.1 163.2h0M575.4 150.1h0M586.8 132.4h0M576.9 146.2h0M573.1 156.3h0M597 160.1h0M583.2 150.2h0M586.1 145.8h0M567 160.3h0M585.9 161.1h0M578 142.9h0M593.9 136.7h0M535 351.3h0M536.4 362.5h0M529.5 367.4h0M536.2 354.7h0M796.1 231h0M771.8 233.2h0M782.4 224.4h0M788.5 217.8h0M775.4 222.5h0M791.8 231.9h0M794.1 236.9h0M512.5 342.6h0M512 323h0M499.8 318.3h0M646.5 476.7h0M628.8 484.6h0M633 477.7h0M624.6 491.4h0M772.7 519.6h0M778.7 511.6h0M771.2 524.8h0M772.5 537.1h0M774.8 524.3h0M771.9 516.3h0M770.4 530.4h0M796.9 516.9h0M805.7 515.5h0M796.6 521.9h0M799.6 513.2h0M790.3 515.3h0M786.7 528.2h0M793.4 512h0M792.5 509.4h0M803.2 531.6h0M792 519.4h0M124.8 372.1h0M107.6 371.8h0M120.3 371.6h0M122.4 370.3h0M635.8 282.9h0M616.9 272.1h0M620.7 304.8h0M632.9 284.9h0M636.9 271.6h0M637.1 294.8h0M808.5 266.5h0M817.7 253.8h0M827.2 255.9h0M815.4 240.3h0M818 254.3h0M827.4 243.8h0M812.5 257.5h0M836 243.3h0M741.6 288.1h0M720.3 284.8h0M740.8 280.7h0M736.7 288h0M735.8 296.9h0M240.2 245.1h0M232.9 250.4h0M249 260.2h0M234.6 255.6h0M249.4 237.7h0M248.6 236h0M244.6 238.9h0M834.8 198.3h0M843.2 193h0M869.3 185.1h0M868.3 188.5h0M862.8 191.4h0M877.1 186.8h0M926.6 204.9h0M915.3 203.6h0M920.9 201h0M946.6 223.3h0M943.4 218.1h0M959.9 222.4h0M983.8 223.6h0M981 219.6h0M973.7 217.1h0M947.9 235.2h0M871.2 318.7h0M873.5 330.4h0M869.6 317.2h0M869.6 323.2h0M885.5 343.1h0M880.7 337.9h0M887.7 339.6h0M824.8 358.6h0M830.5 349.5h0M812.3 357.9h0M814.3 353.4h0M808.1 359.6h0M814.3 353.5h0M838.8 358.1h0M841.4 356.5h0M846.7 363.8h0M776.9 397.3h0M772.3 394.2h0M771.5 384.1h0M802.1 396.9h0M823 421.2h0M827.7 422.1h0M818.2 425.2h0M820.8 423.4h0M823.2 421.6h0M799 438.5h0M784 410h0M785.2 424h0M696.4 396.1h0M690.9 407h0M709.7 434.8h0M674 468.6h0M674.8 473.2h0M671.5 466.4h0M691.4 383.4h0M701 386.8h0M722 384.2h0M722.9 380.9h0M753.6 354.6h0M752.1 373.5h0M759.4 370.6h0M728.5 324.6h0M733.6 309.1h0M734.4 299.3h0M747 304h0M739.2 279.6h0M734.7 268.5h0M757.4 224h0M760.8 228.9h0M760.4 221.2h0M805.3 246h0M793.6 231.2h0M797.4 245.7h0M811.5 241.8h0M812.2 240.5h0M708 190h0M724.2 193h0M713.9 200.5h0M725.9 201.5h0M739 196h0M740.2 205.6h0M740.9 206.1h0M704 220.9h0M710.1 226.1h0M701.6 228.4h0M668.3 188.8h0M647.2 166.8h0M651.3 194.4h0M696.4 164.2h0M668.8 167.9h0M670.6 161.4h0M580.2 227.5h0M588.5 235.1h0M573.5 227.6h0M605.3 219.9h0M613.8 217.6h0M652.4 249.3h0M648.8 269h0M656.7 217h0M658.2 210.3h0M580.1 331.9h0M577.8 323.6h0M622.6 390h0M645 438.9h0M638.4 439.2h0M642.1 468.5h0M623.1 479.3h0M626 469.3h0M633.7 479.8h0M602.9 487.7h0M598.8 481h0M575.1 430.5h0M576 433.3h0M571.7 440.8h0M574.8 433.6h0M575.4 479.2h0M580.9 474.5h0M571.7 483.5h0M565.2 480.9h0M483.3 559.3h0M496 567.5h0M476.1 568.3h0M489 555.1h0M498.1 571.8h0M485.3 560.2h0M505.3 569.3h0M500.9 567.2h0M466.2 534.9h0M427.7 442h0M419.7 440.5h0M423.9 441.2h0M416.7 449.1h0M423.3 447.8h0M420.9 447.5h0M412 436.1h0M426.4 408.4h0M431.9 413.1h0M431.6 376.1h0M432 375.6h0M419.5 376h0M433.8 370.6h0M518.6 449h0M506 459.5h0M554.8 439.5h0M519.6 246.9h0M527.3 251.7h0M526.6 247.1h0M518.6 245.3h0M525.9 243.5h0M516.8 180.7h0M514.1 183.6h0M523.3 186.8h0M408.8 61.3h0M395.6 68.4h0M406.1 63.4h0M413.2 68.2h0M408.8 61.3h0M395.3 163.4h0M171.9 179.5h0M163.1 178.9h0M177.1 183h0M171.6 183.6h0M171.9 179.9h0M143.9 68.9h0M149.1 82h0M118.9 112.3h0M98.7 96.2h0M95.5 98.2h0M45.1 165.4h0M42.5 161.7h0M45.7 167.3h0M107.6 278.4h0M100.4 278.9h0M81 317.4h0M80.1 307.5h0M81.9 316h0M72.2 323.8h0M90.8 304.9h0M79.5 324.3h0M77.3 315.1h0M151.7 382h0M149.7 386.6h0M137 408.2h0M141.5 406.7h0M158 396.7h0M154.8 410h0M134.9 404.4h0M156 412.1h0M135.1 409.7h0M140.8 408.5h0M156.6 398h0M146 419.7h0M154.4 407.2h0M161.2 402.4h0M162.7 397.3h0M101.8 391.4h0M108.2 392.3h0M117.5 394.6h0M123 399.8h0M374.4 259.1h0M380.4 254.7h0M379.5 244.8h0M371.5 249.7h0M369.9 241.3h0M367 262.1h0M374 251h0M376.8 302.5h0M381.8 304.2h0M351.7 367.4h0M344.3 436h0M374.4 233.4h0M694.8 477.9h0M691.9 477.1h0M731.7 479.2h0M780.2 498.5h0M772 496.2h0M775.1 496.5h0M776.8 493h0M774.7 486.7h0M796.1 498.9h0M806.5 502.3h0M802.1 495.1h0M817.3 504.5h0M782.1 561.9h0M799.2 551.8h0M783.9 556.2h0M788 556.7h0M791.1 554.7h0M776.2 535.3h0M792.7 568h0M784 525.6h0M782.8 524.9h0M869.7 257.8h0M872.6 263h0M876.2 261.7h0M877.6 258h0M906.2 254.4h0M902 249h0M896.7 232.9h0M894.1 232.7h0M919.8 264.9h0M913.5 248.5h0M926.1 245.3h0M915.6 241.8h0M925 250.3h0M936.5 246.3h0M909 265.2h0M904.3 264.7h0M899.3 270.2h0M892.7 267.6h0M953.5 212.7h0M947.3 212.5h0M965.3 209.1h0M967.7 203.3h0M973.8 191.9h0M1005.7 172.2h0M994.9 188.3h0M992.2 177.7h0M681.8 319.9h0M682.1 306.2h0M796 299.6h0M790.8 307.2h0M771.2 369.6h0M772.8 363h0M771.8 367.1h0M849.6 376.5h0M859.4 401.2h0M859.6 394.8h0M861 387.9h0M851.6 400.4h0M752.5 428.8h0M759.4 421.9h0M754.4 423.6h0M561.5 350.2h0M560.9 373.4h0M546.6 285.7h0M610.9 96.1h0M604.7 96.4h0M523 202.9h0M310.4 289h0M221.6 338.1h0M217.7 322.8h0M210 331.2h0M243.1 178.1h0M242.7 176.4h0M203.2 87.1h0M87.7 162.6h0M77.5 162.8h0M74.5 273.8h0M42.2 297.6h0M53.8 297.8h0M76.5 344.4h0M73.9 342.2h0M116.8 347.5h0M120.7 350.5h0M119.2 347.4h0M143.4 382.1h0M143.7 386.9h0M141.9 391.3h0M134.5 383.7h0M135.2 390.1h0M48.2 83.4h0M102.5 325.2h0M95.2 334.2h0M110.3 351.2h0M118.9 348.4h0M115.5 350.7h0M118.9 359.6h0M111.6 365.4h0M113.1 359.9h0M89.4 322.4h0M78.8 307.3h0M76.7 310.7h0M81.4 304.4h0M70.6 309.5h0M69.1 310.2h0M134.1 402.8h0M125.7 393.9h0M139.7 391.3h0M148.3 395.6h0M153.3 400.4h0M144.3 412.1h0M156.6 422.5h0M158.3 415h0M158.6 418.6h0M153.5 412.3h0M128.1 400.5h0M135.7 391.9h0M491.4 126.6h0M462.5 157.1h0M410.5 99.7h0M492.3 242.7h0M477.1 249.1h0M501.6 292.2h0M522.8 283.2h0M523.8 292.3h0M466.6 430.2h0M462.2 436h0M464.2 452.6h0M490.5 411.2h0M487.7 401.5h0M497.9 382.3h0M492 392.9h0M381.4 415.4h0M388.4 430.4h0M387.1 433.4h0M388.3 435.4h0M401.8 424.2h0M568.8 133.1h0M594.8 165.9h0M575.8 164.4h0M615.6 146.7h0M670.9 168h0M665.5 167.7h0M661.8 170.2h0M748.3 191h0M748 186.4h0M762.8 221.5h0M757.1 205.5h0M760.7 206.7h0M757.7 211.5h0M813.3 214h0M904.4 189.9h0M858.7 249.9h0M858.2 248.4h0M902.3 246.6h0M896.2 264.4h0M896 255.6h0M882.4 262.2h0M892 258h0M893.2 253.4h0M880.3 266.1h0M915 280.8h0M919 277.6h0M851 310.9h0M834.5 321.9h0M834.1 323.1h0M834 320.9h0M1018.4 148h0M1017 156.5h0M597.1 200.8h0M597.2 205.2h0M600 205.4h0M626.6 205.8h0M664.1 261.2h0M674.7 258.8h0M661.7 273.7h0M686.3 277.2h0M601 289.3h0M597.9 287.1h0M560.7 329.8h0M564 333.9h0M652.7 456h0M651.5 455.1h0M650.6 472.8h0M724.5 460.9h0M725.2 462.4h0M759.3 469.5h0M763.8 408.5h0M755.1 401.5h0M760.3 406.7h0M592 461.7h0M627.7 496.5h0M528.1 478.8h0M518.5 468.9h0M440.6 493.4h0M452.6 512.8h0M295.9 228h0M297.9 228.7h0M297.1 228h0M354.2 163.4h0M362.7 160.1h0M247.6 225.8h0M175.4 246.2h0M203.3 61.2h0M233.5 389.3h0M230.9 388.7h0M236 388.3h0M277 452.7h0M266.4 456.6h0M486.6 512.5h0M495.5 518.3h0M486.1 507.5h0M480.7 516.4h0M498.6 521.8h0M482.6 517.4h0M484.7 522.1h0M417.1 445h0M404.9 444h0M426.8 457.2h0M405.4 448.5h0M427.8 450.6h0M393.2 448.9h0M398.2 445.8h0M409.9 67.4h0M400.4 58.9h0M375.1 261.4h0M378.3 255.9h0" stroke-width="3.4" stroke-opacity="0.6"/></g><g fill="url(#halo)"><circle cx="928.4" cy="248.2" r="28.8"/><circle cx="135.5" cy="399.9" r="35.2"/><circle cx="681.1" cy="221.2" r="28.8"/><circle cx="544.1" cy="489.4" r="27.2"/><circle cx="245.7" cy="411.1" r="25.6"/><circle cx="906.8" cy="265.8" r="22.4"/><circle cx="488.5" cy="495.8" r="20.8"/><circle cx="154.8" cy="425.6" r="19.2"/><circle cx="519" cy="425.6" r="25.6"/><circle cx="509.5" cy="426.7" r="20.8"/><circle cx="69.2" cy="326.4" r="19.2"/><circle cx="502.1" cy="478.2" r="19.2"/><circle cx="790.5" cy="477.6" r="17.6"/><circle cx="59.9" cy="316.4" r="14.4"/><circle cx="63.8" cy="315.8" r="14.4"/><circle cx="766.3" cy="265.8" r="19.2"/><circle cx="709.8" cy="270.2" r="20.8"/><circle cx="805" cy="373.1" r="19.2"/><circle cx="62" cy="77.3" r="20.8"/><circle cx="372.9" cy="271.2" r="24"/><circle cx="873.1" cy="290.6" r="22.4"/><circle cx="979.9" cy="209.1" r="22.4"/><circle cx="346" cy="447.2" r="16"/><circle cx="698.5" cy="352.5" r="19.2"/><circle cx="763.6" cy="207.9" r="25.6"/><circle cx="506.1" cy="367.8" r="20.8"/><circle cx="55.4" cy="130.2" r="19.2"/><circle cx="190.1" cy="352.3" r="22.4"/><circle cx="641.4" cy="375.5" r="19.2"/><circle cx="717.5" cy="306.2" r="17.6"/><circle cx="880.6" cy="281.4" r="19.2"/><circle cx="677.6" cy="192.1" r="19.2"/><circle cx="343" cy="375.9" r="17.6"/><circle cx="265.8" cy="437.9" r="17.6"/><circle cx="107.2" cy="339.4" r="14.4"/><circle cx="77.2" cy="298" r="17.6"/><circle cx="558.4" cy="286.5" r="22.4"/><circle cx="741.4" cy="404.6" r="27.2"/><circle cx="533.3" cy="235.6" r="16"/><circle cx="375.6" cy="291.8" r="14.4"/><circle cx="844.2" cy="360.5" r="17.6"/><circle cx="816.1" cy="569.6" r="19.2"/><circle cx="817.3" cy="562.6" r="17.6"/><circle cx="818.6" cy="551.6" r="14.4"/><circle cx="582.2" cy="144.2" r="25.6"/><circle cx="534.2" cy="353.4" r="17.6"/><circle cx="789.9" cy="230.8" r="20.8"/><circle cx="509.5" cy="318.3" r="16"/><circle cx="639" cy="485" r="17.6"/><circle cx="775.9" cy="526" r="20.8"/><circle cx="795.3" cy="515.2" r="22.4"/><circle cx="120.8" cy="370" r="14.4"/><circle cx="635.4" cy="296.4" r="24"/><circle cx="820.4" cy="254.8" r="20.8"/><circle cx="739.4" cy="284.9" r="20.8"/><circle cx="248.4" cy="248.6" r="20.8"/><circle cx="840.6" cy="195.7" r="16"/><circle cx="862.7" cy="189.6" r="14.4"/><circle cx="931.1" cy="200.6" r="14.4"/><circle cx="951.2" cy="223.1" r="16"/><circle cx="973.8" cy="221.9" r="14.4"/><circle cx="865.7" cy="321.4" r="16"/><circle cx="887.2" cy="336.7" r="17.6"/><circle cx="822.7" cy="354.5" r="16"/><circle cx="777.4" cy="381.4" r="16"/><circle cx="801.6" cy="399.9" r="14.4"/><circle cx="820" cy="424.5" r="14.4"/><circle cx="698.2" cy="410.6" r="17.6"/><circle cx="674.9" cy="470.3" r="14.4"/><circle cx="701.8" cy="384.2" r="14.4"/><circle cx="725.6" cy="377" r="14.4"/><circle cx="749.2" cy="356.8" r="16"/><circle cx="739.4" cy="310.5" r="14.4"/><circle cx="744.8" cy="270.5" r="16"/><circle cx="755.9" cy="226" r="14.4"/><circle cx="793.1" cy="239.6" r="14.4"/><circle cx="718.4" cy="194.5" r="16"/><circle cx="651.6" cy="191.6" r="14.4"/><circle cx="576" cy="227.2" r="16"/><circle cx="599.6" cy="383.6" r="16"/><circle cx="637.6" cy="436.2" r="14.4"/><circle cx="620.8" cy="475.1" r="16"/><circle cx="573.6" cy="432" r="14.4"/><circle cx="508.2" cy="529.4" r="14.4"/><circle cx="493.3" cy="561.6" r="17.6"/><circle cx="424.4" cy="442.6" r="16"/><circle cx="419.2" cy="445.8" r="14.4"/><circle cx="428.1" cy="409.1" r="14.4"/><circle cx="428.8" cy="373.7" r="14.4"/><circle cx="402.5" cy="62.7" r="16"/><circle cx="170.4" cy="178.5" r="16"/><circle cx="149.8" cy="74.4" r="14.4"/><circle cx="106.8" cy="276.1" r="14.4"/><circle cx="79.9" cy="312.1" r="14.4"/><circle cx="150.7" cy="400.9" r="25.6"/><circle cx="141.8" cy="404.2" r="25.6"/><circle cx="371.1" cy="253.4" r="14.4"/><circle cx="786.9" cy="553.6" r="16"/><circle cx="775.2" cy="539.5" r="14.4"/><circle cx="901.2" cy="251" r="14.4"/><circle cx="924" cy="247.9" r="22.4"/><circle cx="940.1" cy="246.7" r="19.2"/><circle cx="915" cy="260.4" r="16"/><circle cx="899.8" cy="271.4" r="14.4"/><circle cx="566.1" cy="351.7" r="14.4"/><circle cx="184.4" cy="428.8" r="16"/><circle cx="136.4" cy="385.7" r="14.4"/><circle cx="151.6" cy="389" r="14.4"/><circle cx="151.6" cy="397.7" r="19.2"/><circle cx="486.7" cy="515.2" r="19.2"/><circle cx="404.3" cy="446.8" r="22.4"/><circle cx="407.9" cy="68" r="19.2"/></g><g fill="url(#glow)"><circle cx="928.4" cy="248.2" r="12.15"/><circle cx="135.5" cy="399.9" r="14.85"/><circle cx="681.1" cy="221.2" r="12.15"/><circle cx="544.1" cy="489.4" r="11.475"/><circle cx="245.7" cy="411.1" r="10.8"/><circle cx="906.8" cy="265.8" r="9.45"/><circle cx="488.5" cy="495.8" r="8.775"/><circle cx="154.8" cy="425.6" r="8.1"/><circle cx="519" cy="425.6" r="10.8"/><circle cx="509.5" cy="426.7" r="8.775"/><circle cx="69.2" cy="326.4" r="8.1"/><circle cx="502.1" cy="478.2" r="8.1"/><circle cx="790.5" cy="477.6" r="7.425"/><circle cx="59.9" cy="316.4" r="6.075"/><circle cx="63.8" cy="315.8" r="6.075"/><circle cx="766.3" cy="265.8" r="8.1"/><circle cx="709.8" cy="270.2" r="8.775"/><circle cx="805" cy="373.1" r="8.1"/><circle cx="62" cy="77.3" r="8.775"/><circle cx="59.3" cy="85.3" r="5.4"/><circle cx="372.9" cy="271.2" r="10.125"/><circle cx="873.1" cy="290.6" r="9.45"/><circle cx="979.9" cy="209.1" r="9.45"/><circle cx="346" cy="447.2" r="6.75"/><circle cx="698.5" cy="352.5" r="8.1"/><circle cx="763.6" cy="207.9" r="10.8"/><circle cx="506.1" cy="367.8" r="8.775"/><circle cx="55.4" cy="130.2" r="8.1"/><circle cx="190.1" cy="352.3" r="9.45"/><circle cx="641.4" cy="375.5" r="8.1"/><circle cx="717.5" cy="306.2" r="7.425"/><circle cx="880.6" cy="281.4" r="8.1"/><circle cx="677.6" cy="192.1" r="8.1"/><circle cx="343" cy="375.9" r="7.425"/><circle cx="265.8" cy="437.9" r="7.425"/><circle cx="107.2" cy="339.4" r="6.075"/><circle cx="77.2" cy="298" r="7.425"/><circle cx="558.4" cy="286.5" r="9.45"/><circle cx="741.4" cy="404.6" r="11.475"/><circle cx="533.3" cy="235.6" r="6.75"/><circle cx="375.6" cy="291.8" r="6.075"/><circle cx="844.2" cy="360.5" r="7.425"/><circle cx="816.1" cy="569.6" r="8.1"/><circle cx="817.3" cy="562.6" r="7.425"/><circle cx="818.6" cy="551.6" r="6.075"/><circle cx="582.2" cy="144.2" r="10.8"/><circle cx="534.2" cy="353.4" r="7.425"/><circle cx="789.9" cy="230.8" r="8.775"/><circle cx="509.5" cy="318.3" r="6.75"/><circle cx="639" cy="485" r="7.425"/><circle cx="775.9" cy="526" r="8.775"/><circle cx="772" cy="529.4" r="5.4"/><circle cx="795.3" cy="515.2" r="9.45"/><circle cx="120.8" cy="370" r="6.075"/><circle cx="635.4" cy="296.4" r="10.125"/><circle cx="820.4" cy="254.8" r="8.775"/><circle cx="739.4" cy="284.9" r="8.775"/><circle cx="248.4" cy="248.6" r="8.775"/><circle cx="247.1" cy="236.8" r="5.4"/><circle cx="252.3" cy="259.2" r="5.4"/><circle cx="840.6" cy="195.7" r="6.75"/><circle cx="862.7" cy="189.6" r="6.075"/><circle cx="889" cy="192.1" r="5.4"/><circle cx="931.1" cy="200.6" r="6.075"/><circle cx="951.2" cy="223.1" r="6.75"/><circle cx="973.8" cy="221.9" r="6.075"/><circle cx="946.7" cy="234.4" r="5.4"/><circle cx="865.7" cy="321.4" r="6.75"/><circle cx="887.2" cy="336.7" r="7.425"/><circle cx="822.7" cy="354.5" r="6.75"/><circle cx="815.5" cy="353.9" r="5.4"/><circle cx="839.7" cy="356.5" r="5.4"/><circle cx="777.4" cy="381.4" r="6.75"/><circle cx="801.6" cy="399.9" r="6.075"/><circle cx="820" cy="424.5" r="6.075"/><circle cx="800" cy="441.1" r="5.4"/><circle cx="784.2" cy="411.3" r="5.4"/><circle cx="698.2" cy="410.6" r="7.425"/><circle cx="707.5" cy="434.8" r="5.4"/><circle cx="674.9" cy="470.3" r="6.075"/><circle cx="701.8" cy="384.2" r="6.075"/><circle cx="725.6" cy="377" r="6.075"/><circle cx="749.2" cy="356.8" r="6.75"/><circle cx="739.4" cy="310.5" r="6.075"/><circle cx="744.8" cy="270.5" r="6.75"/><circle cx="755.9" cy="226" r="6.075"/><circle cx="793.1" cy="239.6" r="6.075"/><circle cx="808.4" cy="239.2" r="5.4"/><circle cx="718.4" cy="194.5" r="6.75"/><circle cx="738.5" cy="200.1" r="5.4"/><circle cx="753.7" cy="193.3" r="5.4"/><circle cx="728.1" cy="239.6" r="5.4"/><circle cx="708" cy="225.3" r="5.4"/><circle cx="651.6" cy="191.6" r="6.075"/><circle cx="676.3" cy="156.1" r="5.4"/><circle cx="669.5" cy="161.9" r="4.725"/><circle cx="576" cy="227.2" r="6.75"/><circle cx="610.9" cy="218.1" r="4.725"/><circle cx="631" cy="229.1" r="5.4"/><circle cx="648" cy="248.6" r="4.725"/><circle cx="647.1" cy="269.8" r="4.725"/><circle cx="657.5" cy="211.1" r="4.725"/><circle cx="581.7" cy="329.3" r="5.4"/><circle cx="599.6" cy="383.6" r="6.75"/><circle cx="637.6" cy="436.2" r="6.075"/><circle cx="620.8" cy="475.1" r="6.75"/><circle cx="604.6" cy="479.8" r="5.4"/><circle cx="573.6" cy="432" r="6.075"/><circle cx="583.1" cy="479.8" r="4.725"/><circle cx="567.4" cy="482.7" r="5.4"/><circle cx="508.2" cy="529.4" r="6.075"/><circle cx="493.3" cy="561.6" r="7.425"/><circle cx="506.4" cy="567" r="5.4"/><circle cx="470.6" cy="535.1" r="5.4"/><circle cx="424.4" cy="442.6" r="6.75"/><circle cx="419.2" cy="445.8" r="6.075"/><circle cx="428.1" cy="409.1" r="6.075"/><circle cx="428.8" cy="373.7" r="6.075"/><circle cx="512.7" cy="452.1" r="4.725"/><circle cx="502.3" cy="461.5" r="4.725"/><circle cx="545.8" cy="435.2" r="4.725"/><circle cx="520.8" cy="245.8" r="5.4"/><circle cx="520.2" cy="179.8" r="4.725"/><circle cx="519" cy="95" r="4.725"/><circle cx="447.6" cy="97.1" r="4.05"/><circle cx="402.5" cy="62.7" r="6.75"/><circle cx="403.7" cy="166.6" r="4.05"/><circle cx="309.3" cy="123.6" r="4.725"/><circle cx="170.4" cy="178.5" r="6.75"/><circle cx="149.8" cy="74.4" r="6.075"/><circle cx="117.6" cy="111.4" r="5.4"/><circle cx="94.3" cy="102.3" r="4.05"/><circle cx="47.7" cy="167.3" r="4.725"/><circle cx="48.9" cy="145.2" r="4.725"/><circle cx="51.8" cy="209.6" r="4.05"/><circle cx="106.8" cy="276.1" r="6.075"/><circle cx="79.9" cy="312.1" r="6.075"/><circle cx="85.3" cy="319.4" r="5.4"/><circle cx="150.7" cy="400.9" r="10.8"/><circle cx="141.8" cy="404.2" r="10.8"/><circle cx="165.9" cy="404.2" r="5.4"/><circle cx="107.7" cy="390.5" r="4.05"/><circle cx="118.5" cy="395.5" r="5.4"/><circle cx="371.1" cy="253.4" r="6.075"/><circle cx="379.2" cy="305.1" r="4.05"/><circle cx="355" cy="363.4" r="4.05"/><circle cx="340.3" cy="435.8" r="4.05"/><circle cx="375.6" cy="238" r="4.05"/><circle cx="348.7" cy="197" r="3.375"/><circle cx="691" cy="475.1" r="5.4"/><circle cx="743.3" cy="475.1" r="5.4"/><circle cx="778.3" cy="491.6" r="4.725"/><circle cx="801.2" cy="500.9" r="5.4"/><circle cx="808.4" cy="523.4" r="5.4"/><circle cx="786.9" cy="553.6" r="6.75"/><circle cx="775.2" cy="539.5" r="6.075"/><circle cx="788.3" cy="562.2" r="4.725"/><circle cx="785.1" cy="524.4" r="5.4"/><circle cx="875.9" cy="258.8" r="5.4"/><circle cx="901.2" cy="251" r="6.075"/><circle cx="897.6" cy="232" r="4.725"/><circle cx="924" cy="247.9" r="9.45"/><circle cx="940.1" cy="246.7" r="8.1"/><circle cx="915" cy="260.4" r="6.75"/><circle cx="899.8" cy="271.4" r="6.075"/><circle cx="953" cy="214.7" r="5.4"/><circle cx="967" cy="211.1" r="5.4"/><circle cx="973.2" cy="193.8" r="4.725"/><circle cx="994.4" cy="176.8" r="4.725"/><circle cx="941.9" cy="156.8" r="3.375"/><circle cx="684.7" cy="311.7" r="4.725"/><circle cx="790.8" cy="303.2" r="4.725"/><circle cx="820.9" cy="327.7" r="4.725"/><circle cx="774.3" cy="365.4" r="4.725"/><circle cx="839.7" cy="377" r="5.4"/><circle cx="857.7" cy="395.1" r="4.725"/><circle cx="839.7" cy="406.3" r="5.4"/><circle cx="731.3" cy="432.6" r="4.725"/><circle cx="754.6" cy="425" r="4.725"/><circle cx="566.1" cy="351.7" r="6.075"/><circle cx="562" cy="370" r="4.05"/><circle cx="539" cy="287.2" r="4.05"/><circle cx="603.2" cy="97.6" r="4.05"/><circle cx="526.1" cy="205.5" r="4.05"/><circle cx="308.4" cy="286.7" r="4.05"/><circle cx="218.4" cy="331.6" r="4.05"/><circle cx="252.9" cy="373.7" r="2.7"/><circle cx="199.6" cy="427.7" r="4.725"/><circle cx="184.4" cy="428.8" r="6.75"/><circle cx="246" cy="181" r="4.05"/><circle cx="202.3" cy="203.8" r="3.375"/><circle cx="238.5" cy="196.5" r="3.375"/><circle cx="210.7" cy="95.3" r="3.375"/><circle cx="259.1" cy="78.7" r="3.375"/><circle cx="263.6" cy="126.1" r="3.375"/><circle cx="79.9" cy="167.3" r="4.05"/><circle cx="60.6" cy="251.5" r="4.05"/><circle cx="70.4" cy="271.4" r="4.05"/><circle cx="54.5" cy="301" r="4.725"/><circle cx="73.7" cy="341" r="4.725"/><circle cx="115.8" cy="348.8" r="5.4"/><circle cx="136.4" cy="385.7" r="6.075"/><circle cx="151.6" cy="389" r="6.075"/><circle cx="58.8" cy="45.1" r="3.375"/><circle cx="63.8" cy="65.9" r="5.4"/><circle cx="51.3" cy="90.8" r="4.05"/><circle cx="94.6" cy="327.1" r="4.05"/><circle cx="102.1" cy="334.7" r="4.05"/><circle cx="114.9" cy="351.7" r="4.05"/><circle cx="116.7" cy="361.2" r="3.375"/><circle cx="109.5" cy="348.8" r="3.375"/><circle cx="88" cy="322.5" r="4.05"/><circle cx="80.5" cy="308.3" r="4.05"/><circle cx="74.6" cy="285.3" r="4.05"/><circle cx="67.4" cy="303.2" r="4.05"/><circle cx="67.4" cy="312.4" r="5.4"/><circle cx="129.2" cy="391.2" r="5.4"/><circle cx="151.6" cy="397.7" r="8.1"/><circle cx="154.3" cy="410.6" r="5.4"/><circle cx="155.6" cy="418.8" r="5.4"/><circle cx="123.8" cy="396" r="5.4"/><circle cx="438.3" cy="59.2" r="4.05"/><circle cx="514.8" cy="67.5" r="4.05"/><circle cx="488.7" cy="131.8" r="3.375"/><circle cx="455.4" cy="159.3" r="3.375"/><circle cx="411.6" cy="95" r="4.05"/><circle cx="513.4" cy="146" r="3.375"/><circle cx="484.9" cy="94.5" r="3.375"/><circle cx="496.9" cy="175.8" r="3.375"/><circle cx="447.8" cy="238.4" r="3.375"/><circle cx="491.4" cy="243.4" r="4.05"/><circle cx="478.1" cy="248.6" r="3.375"/><circle cx="396" cy="220.7" r="3.375"/><circle cx="446" cy="311.9" r="3.375"/><circle cx="461.3" cy="316.9" r="3.375"/><circle cx="504.5" cy="292" r="3.375"/><circle cx="473.6" cy="291.1" r="3.375"/><circle cx="523.1" cy="284.2" r="4.05"/><circle cx="466.5" cy="433.1" r="4.725"/><circle cx="453.7" cy="454" r="4.05"/><circle cx="488.7" cy="401.8" r="4.725"/><circle cx="490.5" cy="386.8" r="4.05"/><circle cx="499.6" cy="347.2" r="3.375"/><circle cx="380.6" cy="413" r="3.375"/><circle cx="385.8" cy="433.7" r="4.725"/><circle cx="405.4" cy="427.7" r="4.725"/><circle cx="404.3" cy="391.2" r="3.375"/><circle cx="314.7" cy="339.9" r="4.05"/><circle cx="566.3" cy="129.2" r="4.05"/><circle cx="596.7" cy="168.1" r="4.05"/><circle cx="569.1" cy="164.6" r="3.375"/><circle cx="613.9" cy="148.3" r="4.05"/><circle cx="618.6" cy="173.6" r="4.05"/><circle cx="647.5" cy="144.5" r="4.05"/><circle cx="667" cy="168.1" r="4.05"/><circle cx="719.9" cy="210.6" r="4.725"/><circle cx="749.2" cy="183" r="4.725"/><circle cx="753" cy="210.8" r="5.4"/><circle cx="719.3" cy="149.5" r="3.375"/><circle cx="687.4" cy="103.9" r="2.7"/><circle cx="818.6" cy="214.7" r="4.725"/><circle cx="893.3" cy="215.2" r="4.05"/><circle cx="905.5" cy="190.8" r="4.05"/><circle cx="858.4" cy="246.5" r="3.375"/><circle cx="886.3" cy="264.2" r="5.4"/><circle cx="893" cy="257.1" r="5.4"/><circle cx="878.6" cy="266" r="4.725"/><circle cx="919.5" cy="279.8" r="4.725"/><circle cx="900.3" cy="284.6" r="3.375"/><circle cx="898.9" cy="302.8" r="3.375"/><circle cx="847.3" cy="310.5" r="3.375"/><circle cx="835.4" cy="324.6" r="3.375"/><circle cx="1021.3" cy="148.5" r="3.375"/><circle cx="598.9" cy="205.7" r="4.05"/><circle cx="629" cy="205.5" r="3.375"/><circle cx="672.4" cy="262.5" r="4.05"/><circle cx="658.9" cy="253.8" r="4.05"/><circle cx="659.6" cy="268.8" r="3.375"/><circle cx="687.2" cy="277.4" r="3.375"/><circle cx="696.7" cy="255.2" r="4.05"/><circle cx="599.1" cy="289.5" r="4.05"/><circle cx="560" cy="332" r="4.05"/><circle cx="628.3" cy="359.6" r="3.375"/><circle cx="664.1" cy="394.2" r="3.375"/><circle cx="653.5" cy="456.7" r="3.375"/><circle cx="657.1" cy="476.7" r="4.725"/><circle cx="723.4" cy="459" r="3.375"/><circle cx="745.5" cy="451.4" r="3.375"/><circle cx="761.2" cy="467.2" r="3.375"/><circle cx="759.5" cy="400.7" r="4.05"/><circle cx="781.7" cy="501.1" r="4.725"/><circle cx="813.8" cy="539.7" r="5.4"/><circle cx="602.8" cy="431.8" r="4.05"/><circle cx="596.9" cy="457.1" r="3.375"/><circle cx="627.9" cy="492.7" r="4.05"/><circle cx="568.2" cy="412.1" r="3.375"/><circle cx="555.9" cy="432" r="4.05"/><circle cx="527.4" cy="471.3" r="4.05"/><circle cx="515.4" cy="509.1" r="3.375"/><circle cx="445.5" cy="497.6" r="2.7"/><circle cx="452.7" cy="511.1" r="3.375"/><circle cx="296.8" cy="227.5" r="2.7"/><circle cx="363.1" cy="161.4" r="3.375"/><circle cx="249.6" cy="223.9" r="3.375"/><circle cx="179.2" cy="245.6" r="2.7"/><circle cx="71.3" cy="212.3" r="2.7"/><circle cx="97.7" cy="80.8" r="3.375"/><circle cx="118.6" cy="112.5" r="1.35"/><circle cx="157" cy="107.5" r="2.7"/><circle cx="160.9" cy="73.9" r="4.05"/><circle cx="205.2" cy="60" r="2.7"/><circle cx="246" cy="102.6" r="2.7"/><circle cx="237.1" cy="117.9" r="2.7"/><circle cx="238.2" cy="388.1" r="4.05"/><circle cx="205" cy="389.4" r="3.375"/><circle cx="277" cy="452.1" r="2.7"/><circle cx="265.6" cy="456.5" r="3.375"/><circle cx="486.7" cy="515.2" r="8.1"/><circle cx="404.3" cy="446.8" r="9.45"/><circle cx="407.9" cy="68" r="8.1"/><circle cx="379.2" cy="258.1" r="5.4"/></g></g>
<rect width="1200" height="675" fill="#6c6f86" opacity="0.55" mask="url(#gm)"/>
<g mask="url(#gm)" fill="url(#gglow)"><circle cx="928.4" cy="248.2" r="17.1"/><circle cx="135.5" cy="399.9" r="20.9"/><circle cx="681.1" cy="221.2" r="17.1"/><circle cx="544.1" cy="489.4" r="16.15"/><circle cx="245.7" cy="411.1" r="15.2"/><circle cx="906.8" cy="265.8" r="13.3"/><circle cx="488.5" cy="495.8" r="12.35"/><circle cx="154.8" cy="425.6" r="11.4"/><circle cx="519" cy="425.6" r="15.2"/><circle cx="509.5" cy="426.7" r="12.35"/><circle cx="69.2" cy="326.4" r="11.4"/><circle cx="502.1" cy="478.2" r="11.4"/><circle cx="790.5" cy="477.6" r="10.45"/><circle cx="59.9" cy="316.4" r="8.55"/><circle cx="63.8" cy="315.8" r="8.55"/><circle cx="766.3" cy="265.8" r="11.4"/><circle cx="709.8" cy="270.2" r="12.35"/><circle cx="805" cy="373.1" r="11.4"/><circle cx="62" cy="77.3" r="12.35"/><circle cx="59.3" cy="85.3" r="7.6"/><circle cx="372.9" cy="271.2" r="14.25"/><circle cx="873.1" cy="290.6" r="13.3"/><circle cx="979.9" cy="209.1" r="13.3"/><circle cx="346" cy="447.2" r="9.5"/><circle cx="698.5" cy="352.5" r="11.4"/><circle cx="763.6" cy="207.9" r="15.2"/><circle cx="506.1" cy="367.8" r="12.35"/><circle cx="55.4" cy="130.2" r="11.4"/><circle cx="190.1" cy="352.3" r="13.3"/><circle cx="641.4" cy="375.5" r="11.4"/><circle cx="717.5" cy="306.2" r="10.45"/><circle cx="880.6" cy="281.4" r="11.4"/><circle cx="677.6" cy="192.1" r="11.4"/><circle cx="343" cy="375.9" r="10.45"/><circle cx="265.8" cy="437.9" r="10.45"/><circle cx="107.2" cy="339.4" r="8.55"/><circle cx="77.2" cy="298" r="10.45"/><circle cx="558.4" cy="286.5" r="13.3"/><circle cx="741.4" cy="404.6" r="16.15"/><circle cx="533.3" cy="235.6" r="9.5"/><circle cx="375.6" cy="291.8" r="8.55"/><circle cx="844.2" cy="360.5" r="10.45"/><circle cx="816.1" cy="569.6" r="11.4"/><circle cx="817.3" cy="562.6" r="10.45"/><circle cx="818.6" cy="551.6" r="8.55"/><circle cx="582.2" cy="144.2" r="15.2"/><circle cx="534.2" cy="353.4" r="10.45"/><circle cx="789.9" cy="230.8" r="12.35"/><circle cx="509.5" cy="318.3" r="9.5"/><circle cx="639" cy="485" r="10.45"/><circle cx="775.9" cy="526" r="12.35"/><circle cx="772" cy="529.4" r="7.6"/><circle cx="795.3" cy="515.2" r="13.3"/><circle cx="120.8" cy="370" r="8.55"/><circle cx="635.4" cy="296.4" r="14.25"/><circle cx="820.4" cy="254.8" r="12.35"/><circle cx="739.4" cy="284.9" r="12.35"/><circle cx="248.4" cy="248.6" r="12.35"/><circle cx="247.1" cy="236.8" r="7.6"/><circle cx="252.3" cy="259.2" r="7.6"/><circle cx="840.6" cy="195.7" r="9.5"/><circle cx="862.7" cy="189.6" r="8.55"/><circle cx="889" cy="192.1" r="7.6"/><circle cx="931.1" cy="200.6" r="8.55"/><circle cx="951.2" cy="223.1" r="9.5"/><circle cx="973.8" cy="221.9" r="8.55"/><circle cx="946.7" cy="234.4" r="7.6"/><circle cx="865.7" cy="321.4" r="9.5"/><circle cx="887.2" cy="336.7" r="10.45"/><circle cx="822.7" cy="354.5" r="9.5"/><circle cx="815.5" cy="353.9" r="7.6"/><circle cx="839.7" cy="356.5" r="7.6"/><circle cx="777.4" cy="381.4" r="9.5"/><circle cx="801.6" cy="399.9" r="8.55"/><circle cx="820" cy="424.5" r="8.55"/><circle cx="800" cy="441.1" r="7.6"/><circle cx="784.2" cy="411.3" r="7.6"/><circle cx="698.2" cy="410.6" r="10.45"/><circle cx="707.5" cy="434.8" r="7.6"/><circle cx="674.9" cy="470.3" r="8.55"/><circle cx="701.8" cy="384.2" r="8.55"/><circle cx="725.6" cy="377" r="8.55"/><circle cx="749.2" cy="356.8" r="9.5"/><circle cx="739.4" cy="310.5" r="8.55"/><circle cx="744.8" cy="270.5" r="9.5"/><circle cx="755.9" cy="226" r="8.55"/><circle cx="793.1" cy="239.6" r="8.55"/><circle cx="808.4" cy="239.2" r="7.6"/><circle cx="718.4" cy="194.5" r="9.5"/><circle cx="738.5" cy="200.1" r="7.6"/><circle cx="753.7" cy="193.3" r="7.6"/><circle cx="728.1" cy="239.6" r="7.6"/><circle cx="708" cy="225.3" r="7.6"/><circle cx="651.6" cy="191.6" r="8.55"/><circle cx="676.3" cy="156.1" r="7.6"/><circle cx="669.5" cy="161.9" r="6.65"/><circle cx="576" cy="227.2" r="9.5"/><circle cx="610.9" cy="218.1" r="6.65"/><circle cx="631" cy="229.1" r="7.6"/><circle cx="648" cy="248.6" r="6.65"/><circle cx="647.1" cy="269.8" r="6.65"/><circle cx="657.5" cy="211.1" r="6.65"/><circle cx="581.7" cy="329.3" r="7.6"/><circle cx="599.6" cy="383.6" r="9.5"/><circle cx="637.6" cy="436.2" r="8.55"/><circle cx="620.8" cy="475.1" r="9.5"/><circle cx="604.6" cy="479.8" r="7.6"/><circle cx="573.6" cy="432" r="8.55"/><circle cx="583.1" cy="479.8" r="6.65"/><circle cx="567.4" cy="482.7" r="7.6"/><circle cx="508.2" cy="529.4" r="8.55"/><circle cx="493.3" cy="561.6" r="10.45"/><circle cx="506.4" cy="567" r="7.6"/><circle cx="470.6" cy="535.1" r="7.6"/><circle cx="424.4" cy="442.6" r="9.5"/><circle cx="419.2" cy="445.8" r="8.55"/><circle cx="428.1" cy="409.1" r="8.55"/><circle cx="428.8" cy="373.7" r="8.55"/><circle cx="512.7" cy="452.1" r="6.65"/><circle cx="502.3" cy="461.5" r="6.65"/><circle cx="545.8" cy="435.2" r="6.65"/><circle cx="520.8" cy="245.8" r="7.6"/><circle cx="520.2" cy="179.8" r="6.65"/><circle cx="519" cy="95" r="6.65"/><circle cx="447.6" cy="97.1" r="5.7"/><circle cx="402.5" cy="62.7" r="9.5"/><circle cx="403.7" cy="166.6" r="5.7"/><circle cx="309.3" cy="123.6" r="6.65"/><circle cx="170.4" cy="178.5" r="9.5"/><circle cx="149.8" cy="74.4" r="8.55"/><circle cx="117.6" cy="111.4" r="7.6"/><circle cx="94.3" cy="102.3" r="5.7"/><circle cx="47.7" cy="167.3" r="6.65"/><circle cx="48.9" cy="145.2" r="6.65"/><circle cx="51.8" cy="209.6" r="5.7"/><circle cx="106.8" cy="276.1" r="8.55"/><circle cx="79.9" cy="312.1" r="8.55"/><circle cx="85.3" cy="319.4" r="7.6"/><circle cx="150.7" cy="400.9" r="15.2"/><circle cx="141.8" cy="404.2" r="15.2"/><circle cx="165.9" cy="404.2" r="7.6"/><circle cx="107.7" cy="390.5" r="5.7"/><circle cx="118.5" cy="395.5" r="7.6"/><circle cx="371.1" cy="253.4" r="8.55"/><circle cx="379.2" cy="305.1" r="5.7"/><circle cx="355" cy="363.4" r="5.7"/><circle cx="340.3" cy="435.8" r="5.7"/><circle cx="375.6" cy="238" r="5.7"/><circle cx="348.7" cy="197" r="4.75"/><circle cx="691" cy="475.1" r="7.6"/><circle cx="743.3" cy="475.1" r="7.6"/><circle cx="778.3" cy="491.6" r="6.65"/><circle cx="801.2" cy="500.9" r="7.6"/><circle cx="808.4" cy="523.4" r="7.6"/><circle cx="786.9" cy="553.6" r="9.5"/><circle cx="775.2" cy="539.5" r="8.55"/><circle cx="788.3" cy="562.2" r="6.65"/><circle cx="785.1" cy="524.4" r="7.6"/><circle cx="875.9" cy="258.8" r="7.6"/><circle cx="901.2" cy="251" r="8.55"/><circle cx="897.6" cy="232" r="6.65"/><circle cx="924" cy="247.9" r="13.3"/><circle cx="940.1" cy="246.7" r="11.4"/><circle cx="915" cy="260.4" r="9.5"/><circle cx="899.8" cy="271.4" r="8.55"/><circle cx="953" cy="214.7" r="7.6"/><circle cx="967" cy="211.1" r="7.6"/><circle cx="973.2" cy="193.8" r="6.65"/><circle cx="994.4" cy="176.8" r="6.65"/><circle cx="941.9" cy="156.8" r="4.75"/><circle cx="684.7" cy="311.7" r="6.65"/><circle cx="790.8" cy="303.2" r="6.65"/><circle cx="820.9" cy="327.7" r="6.65"/><circle cx="774.3" cy="365.4" r="6.65"/><circle cx="839.7" cy="377" r="7.6"/><circle cx="857.7" cy="395.1" r="6.65"/><circle cx="839.7" cy="406.3" r="7.6"/><circle cx="731.3" cy="432.6" r="6.65"/><circle cx="754.6" cy="425" r="6.65"/><circle cx="566.1" cy="351.7" r="8.55"/><circle cx="562" cy="370" r="5.7"/><circle cx="539" cy="287.2" r="5.7"/><circle cx="603.2" cy="97.6" r="5.7"/><circle cx="526.1" cy="205.5" r="5.7"/><circle cx="308.4" cy="286.7" r="5.7"/><circle cx="218.4" cy="331.6" r="5.7"/><circle cx="252.9" cy="373.7" r="3.8"/><circle cx="199.6" cy="427.7" r="6.65"/><circle cx="184.4" cy="428.8" r="9.5"/><circle cx="246" cy="181" r="5.7"/><circle cx="202.3" cy="203.8" r="4.75"/><circle cx="238.5" cy="196.5" r="4.75"/><circle cx="210.7" cy="95.3" r="4.75"/><circle cx="259.1" cy="78.7" r="4.75"/><circle cx="263.6" cy="126.1" r="4.75"/><circle cx="79.9" cy="167.3" r="5.7"/><circle cx="60.6" cy="251.5" r="5.7"/><circle cx="70.4" cy="271.4" r="5.7"/><circle cx="54.5" cy="301" r="6.65"/><circle cx="73.7" cy="341" r="6.65"/><circle cx="115.8" cy="348.8" r="7.6"/><circle cx="136.4" cy="385.7" r="8.55"/><circle cx="151.6" cy="389" r="8.55"/><circle cx="58.8" cy="45.1" r="4.75"/><circle cx="63.8" cy="65.9" r="7.6"/><circle cx="51.3" cy="90.8" r="5.7"/><circle cx="94.6" cy="327.1" r="5.7"/><circle cx="102.1" cy="334.7" r="5.7"/><circle cx="114.9" cy="351.7" r="5.7"/><circle cx="116.7" cy="361.2" r="4.75"/><circle cx="109.5" cy="348.8" r="4.75"/><circle cx="88" cy="322.5" r="5.7"/><circle cx="80.5" cy="308.3" r="5.7"/><circle cx="74.6" cy="285.3" r="5.7"/><circle cx="67.4" cy="303.2" r="5.7"/><circle cx="67.4" cy="312.4" r="7.6"/><circle cx="129.2" cy="391.2" r="7.6"/><circle cx="151.6" cy="397.7" r="11.4"/><circle cx="154.3" cy="410.6" r="7.6"/><circle cx="155.6" cy="418.8" r="7.6"/><circle cx="123.8" cy="396" r="7.6"/><circle cx="438.3" cy="59.2" r="5.7"/><circle cx="514.8" cy="67.5" r="5.7"/><circle cx="488.7" cy="131.8" r="4.75"/><circle cx="455.4" cy="159.3" r="4.75"/><circle cx="411.6" cy="95" r="5.7"/><circle cx="513.4" cy="146" r="4.75"/><circle cx="484.9" cy="94.5" r="4.75"/><circle cx="496.9" cy="175.8" r="4.75"/><circle cx="447.8" cy="238.4" r="4.75"/><circle cx="491.4" cy="243.4" r="5.7"/><circle cx="478.1" cy="248.6" r="4.75"/><circle cx="396" cy="220.7" r="4.75"/><circle cx="446" cy="311.9" r="4.75"/><circle cx="461.3" cy="316.9" r="4.75"/><circle cx="504.5" cy="292" r="4.75"/><circle cx="473.6" cy="291.1" r="4.75"/><circle cx="523.1" cy="284.2" r="5.7"/><circle cx="466.5" cy="433.1" r="6.65"/><circle cx="453.7" cy="454" r="5.7"/><circle cx="488.7" cy="401.8" r="6.65"/><circle cx="490.5" cy="386.8" r="5.7"/><circle cx="499.6" cy="347.2" r="4.75"/><circle cx="380.6" cy="413" r="4.75"/><circle cx="385.8" cy="433.7" r="6.65"/><circle cx="405.4" cy="427.7" r="6.65"/><circle cx="404.3" cy="391.2" r="4.75"/><circle cx="314.7" cy="339.9" r="5.7"/><circle cx="566.3" cy="129.2" r="5.7"/><circle cx="596.7" cy="168.1" r="5.7"/><circle cx="569.1" cy="164.6" r="4.75"/><circle cx="613.9" cy="148.3" r="5.7"/><circle cx="618.6" cy="173.6" r="5.7"/><circle cx="647.5" cy="144.5" r="5.7"/><circle cx="667" cy="168.1" r="5.7"/><circle cx="719.9" cy="210.6" r="6.65"/><circle cx="749.2" cy="183" r="6.65"/><circle cx="753" cy="210.8" r="7.6"/><circle cx="719.3" cy="149.5" r="4.75"/><circle cx="687.4" cy="103.9" r="3.8"/><circle cx="818.6" cy="214.7" r="6.65"/><circle cx="893.3" cy="215.2" r="5.7"/><circle cx="905.5" cy="190.8" r="5.7"/><circle cx="858.4" cy="246.5" r="4.75"/><circle cx="886.3" cy="264.2" r="7.6"/><circle cx="893" cy="257.1" r="7.6"/><circle cx="878.6" cy="266" r="6.65"/><circle cx="919.5" cy="279.8" r="6.65"/><circle cx="900.3" cy="284.6" r="4.75"/><circle cx="898.9" cy="302.8" r="4.75"/><circle cx="847.3" cy="310.5" r="4.75"/><circle cx="835.4" cy="324.6" r="4.75"/><circle cx="1021.3" cy="148.5" r="4.75"/><circle cx="598.9" cy="205.7" r="5.7"/><circle cx="629" cy="205.5" r="4.75"/><circle cx="672.4" cy="262.5" r="5.7"/><circle cx="658.9" cy="253.8" r="5.7"/><circle cx="659.6" cy="268.8" r="4.75"/><circle cx="687.2" cy="277.4" r="4.75"/><circle cx="696.7" cy="255.2" r="5.7"/><circle cx="599.1" cy="289.5" r="5.7"/><circle cx="560" cy="332" r="5.7"/><circle cx="628.3" cy="359.6" r="4.75"/><circle cx="664.1" cy="394.2" r="4.75"/><circle cx="653.5" cy="456.7" r="4.75"/><circle cx="657.1" cy="476.7" r="6.65"/><circle cx="723.4" cy="459" r="4.75"/><circle cx="745.5" cy="451.4" r="4.75"/><circle cx="761.2" cy="467.2" r="4.75"/><circle cx="759.5" cy="400.7" r="5.7"/><circle cx="781.7" cy="501.1" r="6.65"/><circle cx="813.8" cy="539.7" r="7.6"/><circle cx="602.8" cy="431.8" r="5.7"/><circle cx="596.9" cy="457.1" r="4.75"/><circle cx="627.9" cy="492.7" r="5.7"/><circle cx="568.2" cy="412.1" r="4.75"/><circle cx="555.9" cy="432" r="5.7"/><circle cx="527.4" cy="471.3" r="5.7"/><circle cx="515.4" cy="509.1" r="4.75"/><circle cx="445.5" cy="497.6" r="3.8"/><circle cx="452.7" cy="511.1" r="4.75"/><circle cx="296.8" cy="227.5" r="3.8"/><circle cx="363.1" cy="161.4" r="4.75"/><circle cx="249.6" cy="223.9" r="4.75"/><circle cx="179.2" cy="245.6" r="3.8"/><circle cx="71.3" cy="212.3" r="3.8"/><circle cx="97.7" cy="80.8" r="4.75"/><circle cx="118.6" cy="112.5" r="1.9"/><circle cx="157" cy="107.5" r="3.8"/><circle cx="160.9" cy="73.9" r="5.7"/><circle cx="205.2" cy="60" r="3.8"/><circle cx="246" cy="102.6" r="3.8"/><circle cx="237.1" cy="117.9" r="3.8"/><circle cx="238.2" cy="388.1" r="5.7"/><circle cx="205" cy="389.4" r="4.75"/><circle cx="277" cy="452.1" r="3.8"/><circle cx="265.6" cy="456.5" r="4.75"/><circle cx="486.7" cy="515.2" r="11.4"/><circle cx="404.3" cy="446.8" r="13.3"/><circle cx="407.9" cy="68" r="11.4"/><circle cx="379.2" cy="258.1" r="7.6"/></g>
<path d="M884 351 L890 352.2 L897 351 L899.5 353.5 L896 356 L890 355.2 L884 354Z" fill="#000" stroke="#fff" stroke-width="0.6" stroke-opacity="0.7"/><path d="M899.5 358 L901.5 364 L900.5 370 L894 373.5 L888 375 L884 372 L880 368.5 L875 366 L880.5 366 L886 368 L891 367 L892.5 363 L896 359.5Z" fill="#000" stroke="#fff" stroke-width="0.6" stroke-opacity="0.7"/>
<path d="M911.7 179 L922.5 178 L922.5 180.6 L911.7 181.6Z" fill="#68727f"/><path d="M636 477 L640 475.5 L645 476.5 L646 479.5 L641 481 L637 480Z" fill="#3c4b84"/>
<path d="M31.5 111.4 L40.5 111.4 L45.9 114 L51.3 115.3 L53.9 126.9 L62 129.5 L76.3 125.6 L81.7 128.2 L94.3 125.6 L110.4 120 L121.1 119.7 L121.5 117.9 L158.4 117.9 M156.3 38.3 L156.3 106.8 L158.4 113.5 L158.4 117.9 L164.2 128.2 L165.9 135.8 L159.7 146 L153.4 158.6 L157 162.4 L156.4 173.6 L156.4 217.6 M28 217.6 L263.6 217.6 M103.2 217.6 L103.2 288.3 L199.5 378.1 M210 217.6 L210 351.7 L204.5 353.9 L197.3 354.3 L199.5 378.1 L200.5 382.5 L208.2 393.4 L203 397.7 L198.2 412.8 L201.4 421.3 L197.8 427.3 M210 333.8 L558 333.8 M263.6 156.6 L263.6 241.5 L299.4 241.5 M299.4 241.5 L299.4 456.7 M263.6 143.5 L389 143.5 M299.4 241.5 L424.9 241.5 M174 38.3 L174 65.3 L180.3 80 L193.7 89.2 L204.5 101 L201.8 128.2 L211.6 125.6 L220.6 144.7 L228.7 157.3 L241.2 154.8 L255.5 154.8 L263.6 156.6 M389 38.3 L389 241.5 M389 119.4 L523.3 119.4 M511.3 38.3 L513.6 60 L518.1 78.7 L519 94.5 L522.6 110.1 L523.3 119.4 L518.1 128.2 L525.2 135.8 L525.2 181 L522.6 188.4 L525.2 205.7 M389 193.3 L488.5 193.3 L499.3 198.9 L511.8 197 L520.8 203.1 L525.2 205.7 L527 212.8 L531.5 224.8 L535.1 235.6 L536 247.5 L537.6 251.5 L545.7 265.1 L553 270.9 L558.4 286 L558 345 M525.2 181 L619 181 M424.9 241.5 L424.9 333.8 M424.9 265.1 L545.7 265.1 M407.9 333.8 L407.9 345 L461.6 345 L461.6 387.7 L467 391.2 L476 393.4 L486.7 396.6 L495.7 397.3 L502.8 400.9 L511.8 404.6 L517.2 401.6 L526.1 404.6 L536.9 402.7 L545.8 402.4 L554.8 405.9 L560.5 407.6 L568.4 409.6 L568.4 442.6 L577.2 459.4 L573.6 476.1 L571.8 489.6 M407.1 345 L406.8 442.6 L343 442.6 L344.6 447.2 M558 345 L561.4 369.3 L560.5 407.6 M558 345 L638.1 345 L634.2 356.1 L646.2 356.1 M568.4 420.9 L619.9 421.3 M537.6 251.5 L609.8 251 L615.7 255.7 M603.2 98.4 L599.8 101 L599.8 116.1 L591.5 121.8 L589.2 128.2 L593.3 133.3 L591.5 149.8 L599.6 156.1 L606.8 161.1 L617.5 172.3 L619 181 L621.1 193.3 L629.2 205.5 L637.2 215.2 L635.4 223.6 L622 232 L621.1 246.3 L615.7 255.7 L613.9 265.1 L616.6 272.1 L627.4 282.5 L630.1 290.6 L637.2 291.8 L637.6 297.5 L634.6 306.7 L643.5 313.5 L649.8 327.1 L656.4 333.8 L651.6 345 L646.2 356.1 L641.7 367.1 L639 375.3 L635.4 378.1 L630.1 389 L622.9 399.9 L621.1 410.6 L619.9 421.3 L624.7 434.1 L615.7 451 L612.2 463.6 L645.7 463.6 L644.4 472 L649.2 480.7 M629.2 205.5 L680.2 205.5 M633.3 103.1 L639 110.1 L657 114.5 L674.9 119.2 L679.4 134.6 L683.8 140.9 M685.1 223.4 L685.1 280.2 L682.9 288.3 L685.6 295.2 L681.1 302.1 L677.6 308.9 L675.8 315.8 M691 223.4 L733.6 223.4 L758.2 224.1 M733.6 223.4 L733.6 286 M810.7 250.1 L808.4 260.4 L804.8 272.1 L794 279.1 L788.7 288.3 L782.4 289.5 L780.6 297.5 L773.4 301.6 L766.3 294.5 L754.6 296.8 L744.8 292.9 L739.4 286 L733.6 286 L733.1 290.6 L726.8 295.2 L722.4 298.7 L717 305.1 L712.5 311.2 L703.5 312.8 L694.6 313.5 L684.7 312.4 L675.8 315.8 L674.9 322.5 L668.6 331.6 L656.4 333.8 M649.8 345 L675.4 345 L675.4 341 L754.1 342.8 L789.9 343 L894 343.9 M754.1 342.8 L768.1 336 L778.8 327.1 L784.7 321.6 L777 314.6 L773.4 306.7 L773.4 301.6 M784.7 321.6 L795.8 326.6 L814.6 322.5 L820 311.2 L826.3 298.7 L834.4 301 L840.3 293.6 L849.6 279.1 L859.1 284.9 L860.9 280.9 M829.3 283.7 L836.2 277.9 L847.8 274.4 L852.3 272.1 L857.7 274.4 L860.9 280.9 L864.8 286 L873.1 292.9 L868.4 302.1 L873.8 304.4 L886.3 312.4 M829.3 271.6 L829.3 283.7 M789.9 343 L783.3 353.9 L773.4 356.1 L764.5 361.6 L750.1 367.1 L742.6 378.1 M635.4 378.1 L764.5 378.1 M673.1 378.1 L674.9 380.3 L668.2 444.7 L669.5 479.6 M719.7 378.1 L727.2 424.1 L731.3 436.2 L728.6 451 L730.4 463.6 M685.6 478.2 L683.8 463.6 L730.4 463.6 L732.9 469.9 L780.6 472.6 L783.3 477.1 L784.2 468.8 L794 469.7 M764.5 378.1 L778.8 373.7 L801.2 374.8 L803.4 375.9 L806 382 L825.9 382.5 L846 402.9 M764.5 378.1 L760 384.7 L768.1 390.1 L780.6 408.5 L786 412.8 L793.1 421.3 L799.4 440.5 L804.8 442 M810.7 217.6 L810.7 271.6 L895.5 271.6 L898.9 269.1 L902.1 269.8 M824.3 211.1 L824.3 217.6 L903.4 217.6 L915 233.2 L907.3 242 L906 249.8 L914.1 260.4 L907.8 267.4 L901.6 269.8 M915 233.2 L929.3 241.5 M895.5 271.6 L897.1 301 L908.7 301 M898 311.2 L905.1 311.2 M939.2 143.2 L939.2 163.6 L937.8 178.5 L941 179.8 L940.6 199.4 L936.5 216.4 L936.5 236.8 L933.8 241.5 M940.6 199.4 L975.9 200.6 L977.7 198.2 L984 196.5 M936.5 216.6 L967 217.1 L974.5 217.1 L974.5 220 L979.5 229.6 M967 217.1 L967 233.9 M972.3 143.2 L970.6 156.1 L962.5 163.6 L958 178.5 L955.3 193.3 L955.1 199.9 M986.3 191.6 L981.3 178.5 L980.8 135.8" fill="none" stroke="#fff" stroke-width="1.1" stroke-opacity="0.55"/>
</g>
<path d="M18.5 55.1 L29.8 60 L41.8 61.9 L47.7 60.5 L53.4 61.6 L56.3 68 L57.5 76 L54.5 84 L51.3 90.6 L58.4 85.3 L60.9 76 L62.9 65.9 L59.9 58.6 L57.5 53.2 L58.4 45.1 L53.8 38.3 L548.5 38.3 L548.5 27.9 L554.3 30.1 L556.6 41 L558.4 45.9 L564.7 47.8 L572.7 51.1 L579.9 49.2 L587.1 48.4 L596 53.2 L599.6 57.3 L605 57.3 L613 63.5 L622.9 60 L627.4 62.7 L640.8 62.7 L648.9 65.3 L646.6 66.4 L634.9 72 L626 76.8 L618.1 84 L610.9 91.3 L603.2 97.6 L604.1 99.7 L616.1 97.6 L621.1 95.3 L623.8 93.2 L626.5 95.8 L625.1 102.3 L633.3 103.1 L639.9 100.5 L644.4 96.6 L653 95 L659.6 91.9 L665.9 85.3 L671.3 81.1 L674 79.7 L678.8 79.5 L681.7 80.5 L676.7 83.2 L673.1 86.6 L669.5 93.2 L668.6 97.9 L673.1 94.5 L678.5 94.5 L682 95.8 L687.4 103.6 L700.9 107 L709.8 100.5 L712.9 100.5 L721.5 100.3 L731.3 97.9 L729.9 102.3 L737.6 106.2 L742.1 104.9 L746.6 111.4 L749.2 115.3 L757.3 116.6 L757.3 119.2 L750.1 119.2 L742.1 118.7 L737.6 117.9 L735.4 121.3 L730.4 117.9 L722.4 115.8 L714.3 120 L708 119.2 L703.5 121.8 L702.6 128.2 L700.9 123.1 L695.1 126.1 L694.6 121.8 L693.2 124.3 L688.3 133.3 L683.8 140.9 L679.4 146 L676.7 154.8 L680.2 152.3 L686.5 146.5 L690.1 140.2 L693.7 136.4 L695.1 136.4 L692.8 141.7 L689.2 148.5 L686.9 153.6 L685.6 157.1 L684.7 164.9 L682.9 166.1 L682 174.8 L679 183.7 L678.5 192.3 L680.6 199.9 L679.9 208.9 L682.6 216.4 L683.5 220.5 L685.3 224.8 L689.2 226.7 L696.4 224.3 L699.1 222.4 L703.9 215.2 L707.5 207.9 L708.9 198.7 L706.6 187.7 L703.2 177.3 L704.4 169.8 L706.6 162.4 L708.4 152.8 L711.2 146 L716.6 143 L720.6 138.4 L719.7 144.7 L719.3 149.3 L722.4 146 L723.6 138.4 L725.8 135.3 L731.3 133.8 L729.5 126.9 L731.3 124.3 L734.9 123.6 L739.9 126.9 L751.6 132.8 L757.7 134.6 L760.9 142.2 L758.6 142.7 L760.9 152.3 L760.5 157.8 L758.2 162.4 L753.7 167.3 L749.6 171.1 L750.7 177.3 L755.5 177.3 L759.1 171.6 L761.4 169.1 L767.5 166.8 L772.5 172.3 L774.7 186.7 L776.7 193.3 L774.9 202.6 L770.7 201.8 L768.4 206.7 L765.4 209.6 L763.9 215.2 L760 220 L758.2 224.8 L767.2 229.1 L771.1 228.7 L771.6 230.8 L780.6 230.3 L789.6 229.6 L797.6 223.4 L805.7 220 L810.2 218.3 L818.2 214 L824.3 211.1 L831.7 205.5 L836.2 201.1 L839.7 196.2 L837.4 192.1 L836.7 186.9 L846.9 184.2 L863 186.7 L873.8 186.4 L882.7 181.7 L888.1 179.8 L888.1 169.8 L886.3 163.6 L895.3 157.3 L904.2 148.5 L915 143.5 L972.3 143.2 L974.1 138.4 L979.9 135.8 L984.9 133.3 L992.1 124.3 L994.7 114 L999.2 99.7 L1013 79.7 L1016.2 80.5 L1018.9 87.1 L1029.7 82.4 L1038.6 90 L1039 120.5 L1044.9 128.2 L1045.8 138.4 L1050.3 139.7 L1053 146 L1053.9 148.3 L1049.4 150.5 L1042.2 153.1 L1039.5 156.1 L1034.2 156.8 L1029.7 159.1 L1028.8 163.1 L1025.2 159.8 L1020.7 156.1 L1018 162.4 L1015.4 164.9 L1011.8 169.1 L1008.2 170.6 L1002.8 173.1 L999.2 174.8 L994.7 176.5 L995.6 179.3 L991.2 184.7 L988.5 189.6 L986.3 191.6 L984.9 197.7 L988.5 201.8 L983.1 206.7 L981.3 209.1 L986.7 212.8 L987.6 218.8 L990.3 223.1 L993.8 224.3 L999.2 222.4 L998.3 218.8 L995.6 215.9 L1000.5 221.2 L1000.1 225.5 L993.8 226.5 L987.2 229.1 L987.9 224.1 L983.1 227.2 L980.4 229.1 L977.7 230.3 L975.9 230.3 L974.5 224.8 L972.7 233 L966.1 233.9 L961.6 233.9 L957.1 235.1 L947.3 235.1 L941.9 237.5 L933.8 241.5 L931.1 246.3 L936.5 243.9 L943.7 242.7 L952.6 242.2 L959.3 238 L958 241.5 L965.9 239.9 L954.4 245.8 L945.5 248.6 L936.5 251 L927.5 251.5 L927.2 248.6 L923.1 253.4 L927.5 254.1 L927 262.8 L925.8 270.9 L920 280 L916 287 L912 283.5 L908 280.5 L904.5 277.5 L902 275.5 L902.5 279 L905 283 L908 287 L911.5 289.5 L909 300 L906 310 L901 318 L896 326 L893.5 331 L895 322 L897 312 L896 304 L893 298 L890.5 292 L890 286 L891 280 L892.5 275.5 L890 277 L887 281 L884.5 286 L884 292 L886 297 L887 302 L885 305.5 L880 304 L875 302 L871 300 L875 304 L880 307.5 L886 310 L887.5 316 L886 322 L884 328 L883 332.5 L887 334.5 L893 334.5 L892.2 337.2 L895.3 347.2 L898.9 357.2 L901.4 364.9 L900.1 372.6 L892.1 375.9 L882.2 386.8 L872 385.7 L865.7 390.1 L859.8 395.5 L856.8 403.1 L846 402.9 L840.6 406.3 L835.3 417.1 L831.7 421.3 L821.8 426.7 L814.6 432 L807.5 439.4 L804.8 442.6 L799.4 448.9 L794.9 460.5 L794.4 469.9 L794.9 478.2 L797.3 486.5 L802.1 500.9 L808.4 510.1 L810.5 516.2 L810.2 523.4 L813.4 532.5 L817.3 541.6 L818.8 546.6 L819.5 551.6 L818.2 563.2 L817.7 570.2 L814.1 576.5 L812.9 581.5 L803.9 582.9 L800.3 583.1 L795.8 569.6 L789 567.2 L787.8 562.8 L782.4 556.6 L779.7 551.6 L782.4 546.6 L776.1 543.6 L774.3 538.9 L770.7 531.5 L775.2 529.4 L773.4 525.4 L769.3 526 L772.5 517.2 L771.6 508.1 L769.8 507 L765.4 502.3 L759.1 491.6 L755.5 489.6 L750.1 484.4 L744.8 483 L741.2 486.5 L730.4 490.6 L723.8 491.2 L723.3 487.5 L717.9 482.3 L703.5 476.5 L691 477.6 L682 479.2 L676.7 479.6 L678.1 470.9 L675.2 472 L674.9 478.2 L669.5 477.1 L666.8 477.1 L660.5 476.1 L657 476.7 L652.5 478.2 L650.7 481.3 L645.3 481.3 L648 484.4 L651.6 484.4 L650.7 489.6 L648 491.6 L653.4 496.8 L658.7 501.3 L656.1 505 L651.6 506 L651.6 501.9 L648 498.8 L640.8 500.9 L637.2 502.9 L630.1 504 L624.7 502.9 L617.5 497.8 L613.9 493.7 L607.7 494.7 L605 492.7 L599.6 493.7 L594.2 492.7 L581.7 489.2 L571.8 490.6 L562 493.7 L556.6 496.8 L555.7 490.6 L552.1 490.6 L553.9 498.8 L545.8 506.4 L535.1 512.2 L526.1 517.2 L524.3 513.2 L519 522.3 L514.5 528.8 L509.1 528.4 L511.8 533.5 L508.6 539.5 L510.9 553.6 L512.7 566.4 L503.7 568 L492.1 563.6 L477.8 557.6 L471.5 545.6 L470.6 535.5 L456.2 519.3 L449.6 502.9 L443.7 497.4 L436.5 489.2 L420.4 486.9 L413.8 489.8 L410.6 497.8 L405.2 505.6 L397.1 501.9 L389.9 498.8 L381 491.6 L377.4 480.3 L372 470.9 L361.3 461.9 L350.5 453.8 L344.6 447.2 L314.5 447.2 L314.5 456.7 L263.2 456.7 L196.2 432.2 L197.8 427.3 L154.8 431.4 L152.7 428.4 L152.1 424.5 L150.2 417.1 L144.4 411.5 L140.3 408.5 L135.5 405.2 L131.9 405.2 L130.1 399.4 L124.7 399.9 L119.4 397.7 L115.8 394 L108.6 391.2 L94.8 390.1 L91.6 387.3 L91.2 380.3 L91.8 375 L87.1 372.6 L87.6 370 L79.9 363.8 L69.2 349.4 L69.2 342.8 L71 338.3 L66.5 334.9 L58.4 322.5 L58.4 316.2 L61.1 318 L65.6 322.5 L62.9 315.8 L62 311.2 L58.4 315.1 L49.1 311.2 L48.6 304.4 L36.7 289.5 L35.1 277.9 L30.3 264.4 L24.2 254.8 L28.9 240.3 L28 223.6 L26.2 216.4 L21.5 197.2 L26.2 183.5 L29.2 168.6 L30.3 152.8 L32.1 134.6 L31.9 120.5 L31.5 111.4 L30.3 110.1 L30.6 101 L33.3 99.7 L29.8 95 L32.4 93.2 L28.3 91.9 L24 77.3 L20.1 68Z M654.3 68.6 L660.5 64.8 L668.6 60 L669.1 61.3 L662.3 66.7 L656.1 69.9Z M627.4 93.2 L630.1 91.3 L631.9 93.2 L629.2 94.5Z M719.7 124.3 L721.5 125.1 L721.5 128.7 L719.7 128.2Z M984 233.2 L991.2 231.5 L990.3 233.2 L984.9 234.4Z M994.7 234.4 L999.8 234.4 L998.3 235.6 L995.6 235.8Z M54.8 54.6 L57.5 57.3 L60.2 65.3 L57.5 64 L54.8 60Z M46.8 49.2 L52.2 46.5 L53 51.9 L48.6 53.2Z M105 398.8 L111.3 398.8 L111.3 400.5 L105 400.9Z M98.7 399.9 L103.2 399.9 L103.2 402 L99.6 402Z M128.3 411.1 L133.7 413.8 L133.7 414.9 L129.2 412.8Z M128.3 420.7 L132.8 425.2 L131.9 425.6 L128.3 422.4Z M110.9 415.3 L113.4 416 L113.4 416.8 L110.9 416.6Z" fill="none" stroke="#fff" stroke-width="0.9" stroke-opacity="0.85"/>
<path d="M809 585.5 L812 584 L813 585.5 L810 587Z" fill="#717380" stroke="#fff" stroke-width="0.7" stroke-opacity="0.85"/><path d="M804 588 L807 586.5 L808 588 L805 589.5Z" fill="#717380" stroke="#fff" stroke-width="0.7" stroke-opacity="0.85"/><path d="M799 590.5 L802 589 L803 590.5 L800 592Z" fill="#717380" stroke="#fff" stroke-width="0.7" stroke-opacity="0.85"/><path d="M794 592.5 L797 591.5 L797.5 593 L794.5 594Z" fill="#717380" stroke="#fff" stroke-width="0.7" stroke-opacity="0.85"/><path d="M788.5 593.5 L791.5 593 L791.5 594.5 L788.5 595Z" fill="#717380" stroke="#fff" stroke-width="0.7" stroke-opacity="0.85"/>
<rect x="0" y="614.7" width="1200" height="61" fill="#202020"/>
<text x="1050.8" y="201.5" class="lg">Lights out alert</text>
<path d="M1066 218.1 L1079 241.6 L1053 241.6Z" fill="#e2001a" stroke="#e2001a" stroke-width="4.4" stroke-linejoin="round"/><path d="M1064.65 225.7 h2.7 l-0.55 8.8 h-1.6z" fill="#7a0010" stroke="#7a0010" stroke-width="3" stroke-linejoin="round"/><circle cx="1066" cy="239.1" r="2.9" fill="#7a0010"/><path d="M1064.65 225.7 h2.7 l-0.55 8.8 h-1.6z" fill="#fff" stroke="#fff" stroke-width="1.5" stroke-linejoin="round"/><circle cx="1066" cy="239.1" r="2.05" fill="#fff"/><text x="1096.2" y="235.9" class="lb">High</text>
<path d="M1066 250.9 L1079 274.9 L1053 274.9Z" fill="#ee6428" stroke="#ee6428" stroke-width="4.4" stroke-linejoin="round"/><path d="M1064.65 258.5 h2.7 l-0.55 8.8 h-1.6z" fill="#7a2c0c" stroke="#7a2c0c" stroke-width="3" stroke-linejoin="round"/><circle cx="1066" cy="272.4" r="2.9" fill="#7a2c0c"/><path d="M1064.65 258.5 h2.7 l-0.55 8.8 h-1.6z" fill="#fff" stroke="#fff" stroke-width="1.5" stroke-linejoin="round"/><circle cx="1066" cy="272.4" r="2.05" fill="#fff"/><text x="1096.2" y="269.3" class="lb">Medium</text>
<path d="M1066 283.7 L1079 307.5 L1053 307.5Z" fill="#f4c81a" stroke="#f4c81a" stroke-width="4.4" stroke-linejoin="round"/><path d="M1064.65 291.3 h2.7 l-0.55 8.8 h-1.6z" fill="#7a5a08" stroke="#7a5a08" stroke-width="3" stroke-linejoin="round"/><circle cx="1066" cy="305" r="2.9" fill="#7a5a08"/><path d="M1064.65 291.3 h2.7 l-0.55 8.8 h-1.6z" fill="#fff" stroke="#fff" stroke-width="1.5" stroke-linejoin="round"/><circle cx="1066" cy="305" r="2.05" fill="#fff"/><text x="1096.2" y="302.6" class="lb">Low</text>
<path d="M1066 316.2 L1079 340.2 L1053 340.2Z" fill="#7e7e7e" stroke="#7e7e7e" stroke-width="4.4" stroke-linejoin="round"/><text x="1096.2" y="334.1" class="lb">None</text>

<text x="1050.4" y="384" class="lg">Light</text>
<text x="1050.4" y="402.6" class="lg">pollution</text>
<rect x="1049.3" y="417.4" width="32.6" height="31.1" fill="#ffffff"/><rect x="1049.3" y="448.2" width="32.6" height="5.1" fill="#fdf6cf"/><rect x="1049.3" y="453" width="32.6" height="4.8" fill="#fbeeb0"/><rect x="1049.3" y="457.5" width="32.6" height="7.6" fill="#f8e58e"/><rect x="1049.3" y="464.8" width="32.6" height="7.7" fill="#f4d768"/><rect x="1049.3" y="472.2" width="32.6" height="9.6" fill="#efc64f"/><rect x="1049.3" y="481.5" width="32.6" height="7.8" fill="#e8b648"/><rect x="1049.3" y="489" width="32.6" height="7.6" fill="#dfa84a"/><rect x="1049.3" y="496.3" width="32.6" height="7.7" fill="#bd9050"/><rect x="1049.3" y="503.7" width="32.6" height="9.6" fill="#776b62"/><rect x="1049.3" y="513" width="32.6" height="9.5" fill="#3c3d69"/><rect x="1049.3" y="522.2" width="32.6" height="9.6" fill="#1b2160"/><rect x="1049.3" y="531.5" width="32.6" height="11.4" fill="#131842"/><rect x="1049.3" y="542.6" width="32.6" height="33.7" fill="#0d0f1f"/><rect x="1049.3" y="417.4" width="32.6" height="158.6" fill="none" stroke="#9a9aa0" stroke-width="0.7"/>
<text x="1096.2" y="428.9" class="lb">Bright</text>
<text x="1096.2" y="580.9" class="lb">Dim</text>
<text x="30.9" y="572" font-size="30" font-weight="bold" fill="#fff" letter-spacing="0.8">Night of October 11, 2023</text>
<text x="30.4" y="599.8" font-size="18.4" fill="#8e8e8e">Generated 09 Oct 2023 at 06:00 UTC (09 Oct at 02:00 ET)</text>
<text x="29.1" y="652" font-size="24.8" font-weight="bold" fill="#fff">Lights out alert forecast</text>
<text x="342.3" y="651.8" font-size="17.95" fill="#9a9a9a">Van Doren and Horton 2023</text>
<text font-size="60" fill="#fff" stroke="#fff" stroke-width="2.1" stroke-linejoin="round" transform="translate(996 667.5) scale(0.85 1)" x="-3.4 33.6 46.9 67.1 102.0 143.0 174.2 209.3">BirdCast</text>
</svg>
</body></html>
